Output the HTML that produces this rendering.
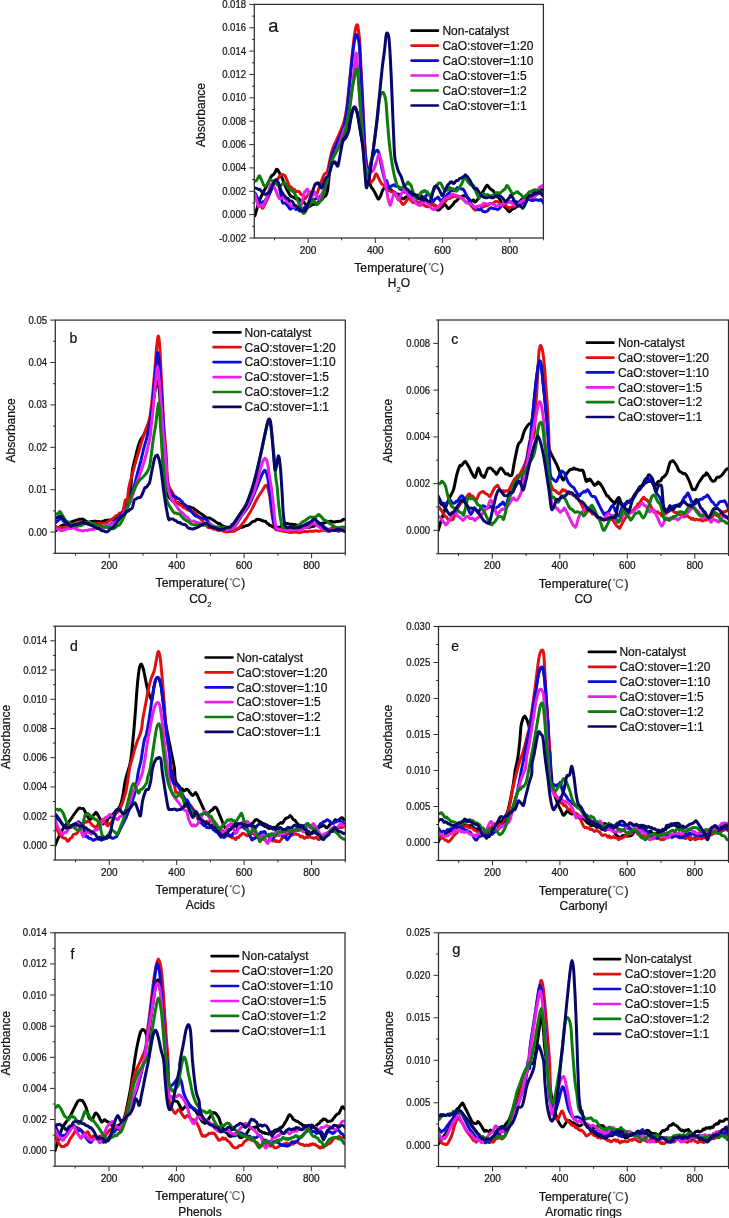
<!DOCTYPE html>
<html><head><meta charset="utf-8"><style>
html,body{margin:0;padding:0;background:#fff;}
body{width:729px;height:1218px;overflow:hidden;font-family:"Liberation Sans", sans-serif;}
svg{display:block;filter:blur(0.35px);}
text{stroke:#111;stroke-width:0.22px;}
</style></head><body>
<svg width="729" height="1218" viewBox="0 0 729 1218" font-family='"Liberation Sans", sans-serif' fill="#111">
<clipPath id="clipa"><rect x="254.3" y="4.4" width="289.09999999999997" height="233.6"/></clipPath>
<g clip-path="url(#clipa)" fill="none" stroke-width="3" stroke-linejoin="round" stroke-linecap="round">
<path d="M254.9,215.8C255.8,213.1 258.0,204.3 259.9,199.4C261.8,194.4 264.5,190.1 266.5,186.2C268.4,182.4 270.3,178.3 271.4,176.3C272.5,174.4 272.7,175.4 273.3,174.7C274.0,174.0 274.6,173.0 275.2,172.1C275.9,171.3 276.0,168.4 277.2,169.4C278.3,170.4 280.7,175.2 282.1,178.0C283.5,180.8 284.2,183.5 285.4,186.2C286.6,189.0 288.5,192.8 289.5,194.4C290.5,196.1 290.6,195.8 291.2,196.3C291.7,196.7 292.2,196.8 292.8,197.0C293.3,197.3 293.9,197.4 294.4,197.7C295.0,198.1 295.5,198.9 296.1,199.0C296.6,199.1 297.2,198.2 297.7,198.2C298.3,198.3 298.8,198.9 299.4,199.4C299.9,199.9 300.5,201.0 301.0,201.2C301.6,201.5 302.1,200.4 302.7,200.6C303.2,200.9 303.8,202.0 304.3,202.7C304.9,203.4 305.4,204.2 306.0,204.8C306.5,205.4 307.1,205.8 307.6,206.1C308.2,206.4 308.7,206.9 309.3,206.8C309.8,206.7 310.4,205.7 310.9,205.4C311.5,205.0 312.0,204.8 312.6,204.6C313.1,204.4 313.6,204.4 314.2,204.3C314.7,204.2 315.3,204.4 315.8,204.1C316.4,203.8 316.9,203.3 317.5,202.8C318.0,202.3 318.6,201.7 319.1,201.0C319.6,200.4 320.1,199.2 320.5,199.0C321.0,198.8 321.4,199.9 321.9,199.7C322.3,199.5 322.3,199.2 323.3,197.7C324.2,196.3 326.1,197.8 327.4,191.2C328.7,184.5 329.9,164.9 331.0,158.0C332.1,151.1 332.9,152.5 334.0,150.0C335.1,147.5 336.4,145.4 337.5,143.0C338.6,140.6 339.8,136.0 340.8,135.5C341.8,135.0 342.7,139.4 343.3,140.0C343.9,140.6 344.2,139.3 344.6,138.9C345.0,138.5 345.2,138.8 345.9,137.5C346.6,136.2 347.8,133.8 348.6,131.0C349.4,128.2 349.9,123.8 350.5,120.5C351.1,117.2 351.9,113.5 352.5,111.3C353.1,109.1 353.7,107.7 354.3,107.4C354.9,107.1 355.4,108.0 356.0,109.3C356.6,110.6 357.1,111.6 357.8,115.2C358.5,118.8 359.5,125.8 360.4,131.0C361.3,136.2 362.1,141.4 363.0,146.7C363.9,151.9 364.7,158.3 365.6,162.5C366.5,166.7 367.5,168.0 368.3,171.7C369.1,175.4 369.4,181.8 370.3,184.9C371.2,188.0 372.7,188.6 373.7,190.4C374.7,192.2 375.7,194.3 376.5,195.8C377.3,197.3 377.8,199.3 378.5,199.3C379.2,199.3 379.9,197.3 380.6,195.8C381.3,194.3 381.9,191.8 382.6,190.4C383.3,189.0 384.1,187.8 384.7,187.6C385.3,187.4 385.8,189.1 386.4,189.3C386.9,189.5 387.5,188.8 388.0,189.0C388.5,189.2 388.9,190.5 389.3,190.6C389.8,190.7 390.2,189.4 390.7,189.5C391.1,189.5 391.6,190.6 392.0,191.0C392.4,191.4 392.9,191.5 393.3,191.7C393.8,191.9 394.2,191.9 394.7,192.2C395.1,192.5 395.6,193.1 396.0,193.5C396.4,193.9 396.8,194.3 397.3,194.4C397.7,194.5 398.1,193.9 398.5,194.2C399.0,194.4 399.4,195.2 399.8,195.8C400.2,196.4 400.7,197.1 401.1,197.5C401.6,198.0 402.0,198.4 402.5,198.6C403.0,198.8 403.4,199.1 403.9,198.8C404.4,198.6 404.8,197.5 405.3,197.2C405.8,196.9 406.2,197.2 406.6,196.8C407.1,196.3 407.5,195.0 408.0,194.5C408.5,194.0 408.9,194.1 409.4,193.8C409.9,193.6 410.3,193.1 410.8,193.1C411.3,193.1 411.7,193.3 412.1,193.6C412.6,193.8 413.1,194.3 413.5,194.5C413.9,194.7 414.4,194.5 414.9,194.7C415.3,195.0 415.7,195.7 416.2,195.8C416.7,195.9 417.1,195.0 417.6,195.0C418.1,195.0 418.5,195.6 419.0,195.8C419.5,196.0 419.9,196.5 420.4,196.5C420.8,196.5 421.3,195.9 421.7,196.0C422.2,196.1 422.6,196.9 423.1,197.2C423.6,197.5 424.0,197.5 424.5,197.9C424.9,198.4 425.3,199.4 425.8,200.0C426.3,200.6 426.7,201.2 427.2,201.7C427.7,202.1 428.1,202.5 428.6,202.7C429.1,202.9 429.5,202.6 430.0,202.9C430.4,203.1 430.8,203.9 431.3,204.1C431.8,204.3 432.2,203.8 432.7,204.0C433.2,204.2 433.4,204.5 434.1,205.4C434.8,206.3 436.1,208.8 436.8,209.6C437.5,210.4 437.7,210.1 438.2,210.1C438.7,210.1 439.1,209.9 439.6,209.6C440.1,209.3 440.5,208.5 441.0,208.0C441.4,207.6 441.9,207.2 442.3,206.8C442.8,206.4 443.2,205.9 443.6,205.4C444.1,205.0 444.3,203.6 445.0,204.1C445.7,204.6 447.1,207.5 447.8,208.2C448.5,208.9 448.7,208.5 449.1,208.3C449.6,208.1 450.0,207.2 450.5,206.8C451.0,206.4 451.4,206.1 451.9,205.6C452.4,205.2 452.8,204.7 453.3,204.1C453.8,203.5 454.2,202.3 454.6,201.8C455.1,201.3 455.4,201.8 456.0,201.3C456.6,200.8 457.7,199.3 458.5,198.6C459.4,197.9 460.2,197.5 461.1,197.0C461.9,196.6 462.9,195.9 463.6,195.7C464.4,195.6 465.0,195.9 465.6,196.2C466.3,196.5 467.0,197.1 467.6,197.7C468.3,198.3 469.0,199.2 469.6,199.7C470.3,200.3 470.9,201.0 471.6,201.1C472.3,201.2 472.9,200.0 473.6,200.1C474.3,200.2 474.3,202.8 475.6,201.7C476.9,200.7 479.7,196.4 481.6,193.8C483.4,191.1 485.4,187.1 486.5,185.8C487.6,184.6 487.6,185.8 488.2,186.3C488.7,186.7 489.3,187.7 489.8,188.3C490.4,188.9 490.9,189.3 491.5,189.8C492.1,190.2 492.8,190.3 493.5,191.1C494.1,191.9 494.8,194.0 495.5,194.7C496.1,195.5 496.1,193.9 497.5,195.7C498.8,197.6 502.1,203.7 503.4,205.7C504.8,207.7 504.8,206.8 505.4,207.5C506.1,208.2 506.7,209.0 507.4,209.7C508.1,210.4 508.7,211.6 509.4,211.7C510.1,211.7 510.7,210.4 511.4,209.9C512.0,209.3 512.7,208.8 513.4,208.5C514.0,208.1 514.0,209.1 515.4,207.7C516.7,206.2 520.0,201.3 521.3,199.7C522.7,198.2 522.7,198.6 523.3,198.5C524.0,198.4 524.6,199.2 525.3,199.0C526.0,198.9 526.5,198.2 527.3,197.7C528.1,197.3 529.1,196.9 529.9,196.4C530.8,195.9 531.7,195.4 532.6,194.6C533.5,193.8 534.5,192.3 535.3,191.8C536.0,191.3 536.6,191.9 537.2,191.6C537.9,191.3 538.6,190.0 539.2,189.7C539.9,189.4 540.7,189.7 541.2,189.8C541.8,189.9 542.1,189.7 542.5,190.2C542.9,190.6 543.3,191.8 543.7,192.4C544.2,193.0 544.8,193.5 545.0,193.8" stroke="#000000"/>
<path d="M254.9,196.1C255.6,197.5 258.1,202.8 259.1,204.3C260.0,205.8 260.0,204.4 260.4,204.9C260.9,205.5 261.3,207.0 261.8,207.5C262.3,207.9 262.3,209.0 263.2,207.6C264.1,206.3 265.9,202.4 267.3,199.4C268.7,196.4 269.9,192.7 271.4,189.5C272.9,186.4 275.2,182.2 276.3,180.5C277.4,178.7 277.4,179.7 278.0,178.9C278.5,178.2 279.1,176.6 279.6,175.9C280.2,175.2 280.8,175.0 281.3,174.7C281.8,174.4 282.2,174.3 282.6,174.4C283.1,174.5 283.6,174.9 284.0,175.2C284.5,175.6 284.6,174.8 285.4,176.3C286.2,177.9 287.9,182.8 288.7,184.6C289.5,186.3 289.6,186.5 290.1,187.0C290.5,187.4 291.0,186.8 291.4,187.3C291.9,187.7 292.3,189.1 292.8,189.5C293.3,189.9 293.9,189.1 294.4,189.4C295.0,189.8 295.5,191.3 296.1,191.5C296.6,191.8 297.2,191.1 297.7,191.2C298.3,191.2 298.8,191.3 299.4,191.8C299.9,192.4 300.5,193.9 301.0,194.4C301.5,195.0 301.9,194.8 302.4,195.1C302.9,195.4 303.3,195.7 303.8,196.3C304.2,196.9 304.2,199.1 305.1,198.6C306.1,198.0 308.3,193.9 309.3,192.8C310.2,191.7 310.2,192.1 310.6,191.9C311.1,191.8 311.5,192.1 312.0,192.0C312.5,191.8 312.9,190.9 313.4,191.2C313.9,191.4 314.5,193.2 315.0,193.7C315.6,194.3 315.7,196.2 316.7,194.4C317.6,192.6 319.5,186.2 320.8,182.9C322.0,179.6 323.3,176.3 324.1,174.7C324.9,173.1 325.2,173.8 325.7,173.2C326.3,172.7 326.6,174.1 327.4,171.4C328.2,168.7 329.6,160.9 330.5,157.0C331.4,153.1 332.0,150.8 333.0,148.0C334.0,145.2 335.3,142.7 336.5,140.0C337.7,137.3 338.8,135.0 340.0,132.0C341.2,129.0 342.8,126.3 344.0,122.0C345.2,117.7 346.1,113.0 347.0,106.0C347.9,99.0 348.8,88.7 349.7,80.0C350.6,71.3 351.5,61.5 352.3,54.0C353.1,46.5 353.9,39.5 354.5,35.0C355.1,30.5 355.6,28.7 356.0,27.0C356.4,25.3 356.6,24.8 356.9,24.8C357.2,24.8 357.6,24.5 358.0,27.0C358.4,29.5 359.1,33.5 359.6,40.0C360.1,46.5 360.4,57.2 360.9,66.0C361.3,74.8 361.9,84.0 362.3,93.0C362.8,102.0 363.2,111.2 363.6,120.0C364.0,128.8 364.4,138.8 364.9,146.0C365.4,153.2 365.9,158.7 366.5,163.0C367.1,167.3 368.1,169.7 368.5,172.0C368.9,174.3 368.6,175.3 369.0,177.0C369.4,178.7 370.4,181.5 371.0,182.1C371.6,182.7 371.9,181.2 372.4,180.7C372.8,180.3 373.1,180.5 373.7,179.4C374.3,178.3 375.1,174.4 375.8,173.9C376.5,173.4 377.0,175.2 377.8,176.6C378.6,178.0 379.9,180.8 380.6,182.1C381.3,183.4 381.5,183.8 382.0,184.3C382.4,184.7 382.8,184.5 383.3,184.9C383.8,185.3 384.2,186.3 384.7,186.7C385.2,187.2 385.6,187.2 386.1,187.6C386.6,188.0 387.0,188.5 387.5,188.9C387.9,189.4 388.3,190.0 388.8,190.4C389.3,190.8 389.7,191.0 390.2,191.2C390.7,191.5 391.1,191.6 391.6,191.7C392.1,191.8 392.5,191.6 393.0,191.8C393.4,192.0 393.6,192.2 394.3,193.1C395.0,194.0 396.3,196.1 397.0,197.2C397.7,198.3 397.9,199.1 398.4,199.6C398.9,200.1 399.1,199.2 399.8,200.0C400.5,200.8 401.8,203.4 402.5,204.1C403.2,204.8 403.4,204.3 403.9,204.0C404.4,203.8 404.6,203.6 405.3,202.7C406.0,201.8 407.3,199.3 408.0,198.6C408.7,197.9 408.9,198.5 409.4,198.7C409.9,199.0 410.3,199.5 410.8,200.0C411.3,200.5 411.7,201.6 412.1,202.0C412.6,202.5 413.1,202.7 413.5,202.7C413.9,202.7 414.4,202.3 414.9,202.1C415.3,201.9 415.7,201.3 416.2,201.3C416.7,201.3 417.1,201.9 417.6,202.1C418.1,202.4 418.5,202.6 419.0,202.7C419.5,202.8 419.9,202.3 420.4,202.5C420.8,202.7 421.2,203.7 421.7,204.1C422.2,204.5 422.6,204.4 423.1,204.7C423.6,204.9 424.0,205.1 424.5,205.4C425.0,205.7 425.4,206.1 425.9,206.3C426.3,206.6 426.7,206.8 427.2,206.8C427.7,206.8 428.1,206.7 428.6,206.5C429.1,206.3 429.5,205.7 430.0,205.4C430.5,205.1 430.9,205.0 431.4,204.8C431.8,204.6 432.2,204.0 432.7,204.1C433.1,204.2 433.6,205.3 434.0,205.5C434.5,205.7 434.9,205.1 435.4,205.4C435.9,205.7 436.3,206.8 436.8,207.1C437.3,207.3 437.7,206.9 438.2,206.8C438.7,206.7 439.1,206.8 439.5,206.6C440.0,206.3 440.2,206.3 440.9,205.4C441.6,204.5 443.0,202.0 443.7,201.3C444.4,200.6 444.6,201.6 445.0,201.4C445.5,201.1 445.9,200.4 446.4,200.0C446.9,199.6 447.3,199.0 447.8,198.8C448.3,198.5 448.7,198.7 449.2,198.6C449.7,198.5 450.1,198.1 450.5,197.9C451.0,197.7 451.4,197.4 451.9,197.2C452.4,197.0 452.8,197.1 453.3,196.8C453.8,196.6 454.2,195.8 454.7,195.8C455.2,195.8 455.6,196.7 456.0,196.7C456.5,196.7 456.8,195.8 457.4,195.8C458.0,195.8 458.8,196.5 459.5,196.8C460.2,197.2 460.9,197.6 461.6,198.0C462.3,198.5 463.0,199.1 463.6,199.7C464.3,200.3 465.0,201.2 465.6,201.7C466.3,202.2 467.0,202.3 467.6,202.7C468.3,203.0 468.5,202.5 469.6,203.7C470.8,204.9 473.5,208.7 474.6,209.7C475.7,210.7 475.7,209.8 476.2,209.7C476.8,209.6 477.4,209.0 477.9,209.0C478.5,209.0 479.0,209.9 479.6,209.7C480.2,209.4 480.9,208.0 481.6,207.5C482.2,207.1 482.9,207.2 483.5,206.9C484.2,206.6 484.9,205.9 485.5,205.7C486.2,205.5 486.9,205.9 487.5,205.5C488.2,205.2 488.8,203.9 489.5,203.6C490.2,203.3 490.8,203.8 491.5,203.7C492.2,203.6 492.8,203.4 493.5,203.0C494.1,202.7 494.8,201.7 495.5,201.5C496.1,201.3 496.8,201.4 497.5,201.7C498.1,202.0 498.8,202.7 499.5,203.1C500.1,203.6 500.8,204.2 501.4,204.6C502.1,205.0 502.8,205.6 503.4,205.7C504.1,205.8 504.8,205.2 505.4,205.4C506.1,205.7 506.7,206.8 507.4,207.1C508.1,207.5 508.7,207.7 509.4,207.7C510.1,207.7 510.7,207.2 511.4,207.1C512.0,207.0 512.7,207.2 513.4,206.9C514.0,206.7 514.7,206.2 515.4,205.7C516.0,205.2 516.7,204.4 517.4,203.9C518.0,203.4 518.7,203.2 519.3,202.8C520.0,202.4 520.7,201.9 521.3,201.7C522.0,201.6 522.7,202.1 523.3,201.9C524.0,201.7 524.6,201.1 525.3,200.7C526.0,200.4 526.5,200.2 527.3,199.7C528.1,199.3 529.1,198.2 529.9,197.9C530.8,197.6 531.7,198.3 532.6,198.0C533.5,197.6 534.5,196.4 535.3,195.7C536.0,195.1 536.6,194.6 537.2,194.2C537.9,193.9 538.6,193.6 539.2,193.5C539.9,193.4 540.7,193.7 541.2,193.8C541.8,193.9 542.1,194.2 542.5,194.1C542.9,194.0 543.3,193.6 543.7,193.3C544.2,192.9 544.8,192.0 545.0,191.8" stroke="#e01010"/>
<path d="M254.9,192.8C255.8,194.4 258.8,201.0 259.9,202.7C261.0,204.3 261.0,202.7 261.5,202.6C262.1,202.4 262.6,201.9 263.2,201.7C263.7,201.4 263.7,202.5 264.8,201.0C265.9,199.6 268.1,196.1 269.8,192.8C271.4,189.5 273.6,183.1 274.7,181.3C275.7,179.4 275.6,181.3 276.1,181.8C276.5,182.3 277.0,183.7 277.4,184.1C277.9,184.6 278.0,181.8 278.8,184.6C279.6,187.4 281.3,198.0 282.1,201.0C282.9,204.1 283.0,202.7 283.5,203.0C283.9,203.3 284.4,202.5 284.8,202.8C285.3,203.0 285.8,203.9 286.2,204.3C286.7,204.8 287.1,204.9 287.6,205.5C288.0,206.0 288.5,207.1 289.0,207.7C289.4,208.4 289.9,209.2 290.3,209.3C290.8,209.3 291.2,208.3 291.7,207.9C292.2,207.6 292.6,207.4 293.1,207.4C293.5,207.3 293.9,207.2 294.4,207.6C294.9,208.0 295.5,209.4 296.1,209.6C296.6,209.8 297.2,208.6 297.7,208.8C298.3,209.1 298.8,210.8 299.4,210.9C299.9,211.0 300.5,209.9 301.0,209.6C301.6,209.3 302.1,209.5 302.7,209.1C303.2,208.8 303.8,208.0 304.3,207.6C304.9,207.2 305.4,207.2 306.0,206.8C306.5,206.4 307.1,205.8 307.6,205.1C308.2,204.5 308.7,203.4 309.3,202.7C309.8,202.0 310.4,201.5 310.9,201.0C311.5,200.5 312.0,199.9 312.6,199.7C313.1,199.4 313.6,199.5 314.2,199.4C314.7,199.2 315.3,198.9 315.8,198.8C316.4,198.6 316.9,198.6 317.5,198.4C318.0,198.3 318.0,199.0 319.1,197.7C320.2,196.5 322.7,193.9 324.1,191.2C325.4,188.4 326.2,186.6 327.4,181.3C328.5,175.9 329.9,164.2 331.0,159.0C332.1,153.8 333.0,152.7 334.0,150.0C335.0,147.3 335.9,145.4 337.0,143.0C338.1,140.6 339.3,138.6 340.5,135.5C341.7,132.4 343.3,129.2 344.4,124.5C345.5,119.8 346.4,114.2 347.3,107.0C348.2,99.8 349.0,89.7 349.9,81.0C350.8,72.3 351.7,61.8 352.5,55.0C353.3,48.2 354.0,43.4 354.6,40.0C355.2,36.6 355.7,35.2 356.2,34.7C356.7,34.2 357.1,35.3 357.6,37.0C358.1,38.7 358.8,39.8 359.3,45.0C359.8,50.2 360.2,59.8 360.6,68.0C361.1,76.2 361.6,85.3 362.0,94.0C362.4,102.7 362.9,111.3 363.3,120.0C363.7,128.7 364.1,138.5 364.6,146.0C365.1,153.5 365.8,160.5 366.4,165.0C367.0,169.5 368.1,171.8 368.5,173.0C368.9,174.2 368.6,173.9 369.0,172.0C369.4,170.1 370.2,164.5 371.0,161.6C371.8,158.7 372.8,156.5 373.7,154.7C374.6,152.9 375.7,151.1 376.5,150.6C377.3,150.1 377.8,150.1 378.5,151.9C379.2,153.7 379.9,158.4 380.6,161.6C381.3,164.8 381.9,168.2 382.6,171.2C383.3,174.2 384.0,177.8 384.7,179.4C385.4,181.0 386.0,179.4 386.7,180.8C387.4,182.2 388.2,186.7 388.8,187.6C389.4,188.5 389.7,186.6 390.2,186.3C390.7,186.1 391.1,186.4 391.6,186.2C392.1,186.0 392.5,185.3 393.0,185.1C393.4,184.9 393.9,184.7 394.3,184.9C394.8,185.1 395.2,186.0 395.6,186.2C396.1,186.4 396.5,186.1 397.0,186.2C397.5,186.3 397.9,186.4 398.4,186.8C398.9,187.3 399.3,188.6 399.8,189.0C400.3,189.4 400.7,188.8 401.1,189.0C401.6,189.2 402.0,189.9 402.5,190.4C403.0,190.9 403.4,191.8 403.9,192.0C404.4,192.2 404.8,191.5 405.3,191.7C405.8,191.9 406.2,192.7 406.6,192.9C407.1,193.2 407.5,193.0 408.0,193.1C408.5,193.2 408.9,193.0 409.4,193.3C409.9,193.5 410.3,194.0 410.8,194.5C411.3,195.0 411.7,195.8 412.1,196.1C412.6,196.3 413.1,195.7 413.5,195.8C413.9,195.9 414.4,196.1 414.9,196.4C415.3,196.6 415.7,197.0 416.2,197.2C416.7,197.4 417.1,197.6 417.6,197.8C418.1,198.0 418.5,198.4 419.0,198.6C419.5,198.8 419.9,198.9 420.4,199.1C420.8,199.4 421.2,200.0 421.7,200.0C422.2,200.0 422.6,199.6 423.1,199.1C423.6,198.7 424.0,197.7 424.5,197.2C425.0,196.7 425.4,196.3 425.9,195.9C426.3,195.4 426.7,194.7 427.2,194.5C427.7,194.3 428.1,194.7 428.6,194.9C429.1,195.1 429.3,194.7 430.0,195.8C430.7,196.9 432.0,200.5 432.7,201.3C433.4,202.1 433.6,200.9 434.0,200.4C434.5,200.0 434.9,199.0 435.4,198.6C435.9,198.2 436.3,198.6 436.8,198.3C437.3,198.1 437.5,196.7 438.2,197.2C438.9,197.7 440.2,200.9 440.9,201.3C441.6,201.7 441.8,200.3 442.3,199.8C442.8,199.4 443.2,199.0 443.7,198.6C444.2,198.2 444.6,197.6 445.0,197.2C445.5,196.7 445.9,196.4 446.4,195.8C446.9,195.2 447.3,194.3 447.8,193.9C448.3,193.4 448.7,193.6 449.2,193.1C449.7,192.6 450.1,191.4 450.5,190.9C451.0,190.5 451.4,190.4 451.9,190.4C452.4,190.4 452.8,190.7 453.3,190.7C453.8,190.7 454.2,190.7 454.7,190.4C455.2,190.1 455.6,189.4 456.0,188.9C456.5,188.5 456.8,187.8 457.4,187.6C458.0,187.4 458.8,187.5 459.5,187.8C460.2,188.1 460.9,188.8 461.6,189.2C462.3,189.5 462.6,188.4 463.6,189.8C464.7,191.2 466.1,195.1 467.6,197.7C469.1,200.4 471.4,204.0 472.6,205.7C473.8,207.4 473.9,207.5 474.6,207.9C475.3,208.2 475.9,207.3 476.6,207.6C477.2,207.9 477.8,209.4 478.6,209.7C479.3,210.0 480.1,209.1 480.9,209.4C481.7,209.7 482.4,211.1 483.2,211.5C484.0,211.9 484.8,211.8 485.5,211.7C486.2,211.6 486.9,211.3 487.5,210.8C488.2,210.3 488.8,209.2 489.5,208.7C490.2,208.2 490.8,207.7 491.5,207.7C492.2,207.7 492.8,208.5 493.5,208.6C494.1,208.8 494.8,208.5 495.5,208.7C496.1,208.9 496.8,209.7 497.5,209.7C498.1,209.6 498.8,209.0 499.5,208.3C500.1,207.7 500.8,206.7 501.4,205.9C502.1,205.1 502.8,204.1 503.4,203.7C504.1,203.4 504.8,204.1 505.4,203.8C506.1,203.5 506.7,202.1 507.4,201.8C508.1,201.5 508.7,201.7 509.4,201.7C510.1,201.8 510.7,202.3 511.4,202.2C512.0,202.0 512.7,201.2 513.4,201.1C514.0,201.0 514.7,201.6 515.4,201.7C516.0,201.9 516.7,201.7 517.4,201.9C518.0,202.1 518.7,202.7 519.3,203.0C520.0,203.3 520.7,203.8 521.3,203.7C522.0,203.6 522.7,203.2 523.3,202.7C524.0,202.1 524.6,201.1 525.3,200.6C526.0,200.1 526.5,199.9 527.3,199.7C528.1,199.6 529.1,199.5 529.9,199.6C530.8,199.8 531.7,200.6 532.6,200.6C533.5,200.7 534.5,199.8 535.3,199.7C536.0,199.6 536.6,199.8 537.2,199.9C537.9,200.1 538.6,200.6 539.2,200.6C539.9,200.5 540.3,198.9 541.2,199.7C542.2,200.6 544.4,204.7 545.0,205.7" stroke="#0c0cd8"/>
<path d="M254.9,194.4C255.5,196.4 257.4,204.2 258.2,206.0C259.1,207.8 259.3,205.4 259.9,205.3C260.4,205.1 261.0,204.9 261.5,205.1C262.1,205.2 262.2,207.5 263.2,206.0C264.1,204.5 266.0,199.7 267.3,196.1C268.5,192.5 269.8,186.3 270.6,184.6C271.4,182.8 271.5,185.2 271.9,185.5C272.4,185.8 272.9,185.9 273.3,186.3C273.8,186.7 273.8,186.0 274.7,187.9C275.6,189.8 277.9,196.0 278.8,197.7C279.7,199.5 279.7,198.2 280.2,198.3C280.6,198.4 281.1,198.5 281.6,198.4C282.0,198.3 282.5,197.7 282.9,197.7C283.4,197.7 283.8,198.2 284.3,198.4C284.8,198.6 285.2,198.7 285.7,199.1C286.1,199.6 286.1,199.9 287.0,201.0C288.0,202.2 290.2,205.1 291.2,206.0C292.1,206.9 292.2,206.4 292.8,206.4C293.3,206.5 293.9,206.0 294.4,206.2C295.0,206.4 295.5,207.6 296.1,207.6C296.6,207.6 297.2,206.2 297.7,206.1C298.3,206.1 298.8,207.1 299.4,207.1C299.9,207.0 300.2,208.3 301.0,206.0C301.9,203.6 303.5,195.2 304.3,192.8C305.1,190.3 305.4,191.8 306.0,191.3C306.5,190.7 306.8,188.4 307.6,189.5C308.4,190.6 309.7,197.2 310.9,197.7C312.1,198.3 313.6,192.5 315.0,192.8C316.4,193.1 317.8,199.7 319.1,199.4C320.5,199.1 322.0,194.2 323.3,191.2C324.5,188.1 325.1,186.3 326.5,181.3C328.0,176.3 330.6,165.5 332.0,161.0C333.4,156.5 334.0,156.3 335.0,154.0C336.0,151.7 337.0,149.5 338.0,147.0C339.0,144.5 340.0,141.8 341.0,139.0C342.0,136.2 343.1,132.5 344.0,130.0C344.9,127.5 345.7,127.4 346.6,124.0C347.5,120.6 348.6,115.4 349.5,109.5C350.4,103.6 351.3,95.5 352.1,88.5C352.9,81.5 353.8,72.9 354.3,67.5C354.9,62.1 355.1,58.4 355.4,56.0C355.7,53.6 355.7,53.3 355.9,53.1C356.1,52.9 356.4,52.6 356.7,55.0C357.0,57.4 357.2,61.0 357.6,67.5C358.1,74.0 358.8,85.0 359.4,93.7C360.0,102.5 360.7,111.2 361.4,120.0C362.1,128.8 362.7,138.7 363.4,146.2C364.1,153.7 364.7,160.5 365.4,165.0C366.1,169.5 367.0,171.5 367.5,173.0C368.0,174.5 368.1,174.1 368.5,174.0C368.9,173.9 369.3,172.6 369.8,172.3C370.2,172.0 370.6,172.2 371.0,172.0C371.4,171.8 371.9,171.5 372.4,171.2C372.8,170.8 373.0,171.4 373.7,169.8C374.4,168.2 375.6,164.1 376.5,161.6C377.4,159.1 378.3,154.2 379.2,154.7C380.1,155.1 381.2,160.9 382.0,164.3C382.8,167.7 383.3,171.4 384.0,175.3C384.7,179.2 385.4,183.7 386.1,187.6C386.8,191.5 387.4,195.6 388.1,198.6C388.8,201.6 389.5,205.4 390.2,205.4C390.9,205.4 391.5,200.7 392.2,198.6C392.9,196.5 393.6,193.8 394.3,193.1C395.0,192.4 395.7,193.3 396.4,194.5C397.1,195.7 397.7,199.8 398.4,200.0C399.1,200.2 399.8,197.2 400.5,195.8C401.2,194.4 401.8,192.6 402.5,191.7C403.2,190.8 403.9,190.2 404.6,190.4C405.3,190.6 406.0,192.3 406.6,193.1C407.2,193.9 407.5,194.8 408.0,195.3C408.5,195.7 408.9,195.5 409.4,195.8C409.9,196.1 410.3,196.8 410.8,197.3C411.2,197.8 411.6,198.0 412.1,198.6C412.6,199.2 413.0,200.2 413.5,200.7C414.0,201.1 414.4,200.8 414.9,201.3C415.4,201.8 415.8,203.1 416.2,203.6C416.7,204.0 417.1,203.8 417.6,204.1C418.1,204.4 418.5,205.1 419.0,205.3C419.5,205.5 419.9,205.8 420.4,205.4C420.9,205.0 421.3,203.7 421.8,203.2C422.2,202.8 422.7,202.9 423.1,202.7C423.6,202.5 424.0,202.1 424.5,201.8C424.9,201.6 425.3,201.1 425.8,201.3C426.3,201.5 426.7,202.6 427.2,203.1C427.7,203.5 427.9,203.2 428.6,204.1C429.3,205.0 430.6,207.4 431.3,208.2C432.0,209.0 432.2,208.6 432.7,208.9C433.2,209.1 433.6,209.7 434.1,209.6C434.6,209.5 435.0,208.3 435.5,208.1C435.9,207.8 436.3,208.3 436.8,208.2C437.3,208.1 437.7,208.0 438.2,207.6C438.7,207.1 438.9,206.4 439.6,205.4C440.3,204.4 441.6,202.2 442.3,201.3C443.0,200.4 443.2,200.7 443.6,200.2C444.1,199.8 444.5,199.0 445.0,198.6C445.5,198.2 445.9,198.0 446.4,197.7C446.9,197.5 447.3,197.4 447.8,197.2C448.3,197.0 448.7,197.0 449.1,196.8C449.6,196.5 450.0,196.2 450.5,195.8C451.0,195.4 451.4,194.5 451.9,194.3C452.4,194.1 452.8,194.4 453.3,194.5C453.8,194.6 454.2,194.6 454.6,194.8C455.1,195.1 455.4,195.4 456.0,195.8C456.6,196.2 457.7,196.8 458.5,197.1C459.4,197.4 460.2,197.2 461.1,197.7C461.9,198.1 462.9,199.0 463.6,199.7C464.4,200.5 465.0,201.4 465.6,202.0C466.3,202.6 467.0,202.9 467.6,203.2C468.3,203.5 469.0,203.5 469.6,203.7C470.3,203.9 470.9,204.0 471.6,204.5C472.3,204.9 472.9,206.0 473.6,206.5C474.3,207.0 475.0,207.7 475.6,207.7C476.1,207.7 476.5,206.7 476.9,206.4C477.4,206.2 477.8,206.4 478.2,206.3C478.7,206.1 479.0,205.8 479.6,205.7C480.1,205.6 480.9,205.9 481.6,205.5C482.2,205.2 482.9,203.7 483.5,203.4C484.2,203.1 484.9,203.6 485.5,203.7C486.2,203.8 486.9,204.0 487.5,204.1C488.2,204.2 488.8,204.3 489.5,204.2C490.2,204.2 490.8,203.7 491.5,203.7C492.2,203.7 492.8,203.8 493.5,204.2C494.1,204.6 494.8,205.8 495.5,206.0C496.1,206.3 496.8,205.9 497.5,205.7C498.1,205.5 498.8,204.9 499.5,204.8C500.1,204.8 500.8,205.4 501.4,205.2C502.1,205.0 502.8,204.0 503.4,203.7C504.1,203.4 504.8,203.6 505.4,203.4C506.1,203.2 506.7,202.7 507.4,202.4C508.1,202.2 508.7,201.7 509.4,201.7C510.1,201.8 510.7,202.4 511.4,202.8C512.0,203.2 512.7,203.8 513.4,204.3C514.0,204.8 514.7,205.6 515.4,205.7C516.0,205.8 516.7,205.2 517.4,204.8C518.0,204.5 518.7,204.2 519.3,203.6C520.0,203.1 520.7,202.3 521.3,201.7C522.0,201.1 522.7,200.3 523.3,200.1C524.0,199.9 524.6,200.3 525.3,200.3C526.0,200.2 526.5,200.2 527.3,199.7C528.1,199.3 529.1,198.0 529.9,197.5C530.8,197.0 531.7,197.1 532.6,196.8C533.5,196.5 534.1,197.2 535.3,195.7C536.4,194.3 538.3,189.2 539.2,187.8C540.1,186.4 540.2,187.6 540.7,187.2C541.2,186.9 541.5,185.4 542.2,185.8C542.9,186.2 544.5,189.1 545.0,189.8" stroke="#e820e8"/>
<path d="M254.9,181.3C255.2,181.1 256.0,181.0 256.6,180.4C257.1,179.8 257.7,178.3 258.2,177.6C258.8,177.0 258.8,174.9 259.9,176.3C261.0,177.8 263.2,185.7 264.8,186.2C266.5,186.8 268.7,180.6 269.8,179.6C270.9,178.7 270.9,180.2 271.4,180.4C271.9,180.6 272.5,180.8 273.0,181.0C273.6,181.1 274.1,180.9 274.7,181.3C275.2,181.7 275.8,182.6 276.3,183.3C276.9,184.0 277.4,184.9 278.0,185.4C278.5,185.9 279.1,186.3 279.6,186.2C280.2,186.1 280.7,185.3 281.3,184.9C281.8,184.5 282.4,184.1 282.9,183.8C283.5,183.5 283.5,182.0 284.6,182.9C285.7,183.9 288.4,188.3 289.5,189.5C290.6,190.7 290.6,189.9 291.2,190.2C291.7,190.5 292.2,191.0 292.8,191.4C293.3,191.9 293.3,190.6 294.4,192.8C295.5,194.9 297.9,200.9 299.4,204.3C300.9,207.8 302.1,212.8 303.5,213.4C304.9,213.9 306.1,209.7 307.6,207.6C309.1,205.6 311.5,202.1 312.6,201.0C313.6,200.0 313.6,200.8 314.2,201.3C314.7,201.7 315.3,203.1 315.8,203.6C316.4,204.1 316.4,205.3 317.5,204.3C318.6,203.3 321.1,201.3 322.4,197.7C323.8,194.2 324.6,186.8 325.7,182.9C326.8,179.1 328.0,178.5 329.0,174.7C330.1,170.9 330.7,163.9 332.0,160.0C333.3,156.1 335.0,154.7 336.6,151.5C338.2,148.3 340.3,144.7 341.8,141.0C343.3,137.3 344.4,134.9 345.7,129.2C347.0,123.5 348.6,113.7 349.7,106.9C350.8,100.1 351.5,93.3 352.3,88.5C353.1,83.7 353.7,81.0 354.3,78.0C354.9,75.0 355.4,72.0 355.8,70.5C356.2,69.0 356.6,68.7 356.9,68.8C357.2,68.9 357.6,69.5 357.8,71.0C358.0,72.5 358.0,73.1 358.3,78.0C358.6,82.9 359.4,92.2 359.9,100.3C360.4,108.4 360.9,117.8 361.5,126.5C362.1,135.2 362.9,145.6 363.5,152.8C364.1,160.0 364.5,165.9 365.4,169.9C366.3,173.9 368.3,177.1 369.1,176.8C370.0,176.5 369.7,171.8 370.3,168.0C370.9,164.2 371.8,159.4 372.6,154.0C373.4,148.6 374.3,141.9 375.1,135.8C375.9,129.7 376.8,123.4 377.5,117.4C378.2,111.4 378.8,103.7 379.3,100.0C379.8,96.3 380.1,96.2 380.6,95.0C381.1,93.8 381.7,93.0 382.2,92.6C382.7,92.2 383.0,92.2 383.4,92.7C383.8,93.2 384.2,94.0 384.6,95.5C385.0,97.0 385.5,97.8 385.9,101.4C386.3,105.1 386.7,111.7 387.1,117.4C387.6,123.1 388.1,130.3 388.6,135.8C389.1,141.3 389.6,145.8 390.2,150.6C390.8,155.3 391.5,160.2 392.2,164.3C392.9,168.4 393.5,171.9 394.3,175.3C395.1,178.7 396.3,183.0 397.0,184.9C397.7,186.8 397.9,186.1 398.4,186.6C398.9,187.0 399.3,187.4 399.8,187.6C400.3,187.8 400.7,187.8 401.1,187.8C401.6,187.8 402.0,187.8 402.5,187.6C403.0,187.4 403.4,187.0 403.9,186.5C404.4,186.1 404.8,185.3 405.3,184.9C405.8,184.5 406.2,184.6 406.6,184.1C407.1,183.7 407.5,182.1 408.0,182.1C408.5,182.1 408.9,183.7 409.4,184.1C409.9,184.6 410.1,183.4 410.8,184.9C411.5,186.4 412.6,190.8 413.5,193.1C414.4,195.4 415.5,198.1 416.2,198.6C416.9,199.1 417.1,196.8 417.6,196.3C418.1,195.9 418.3,196.6 419.0,195.8C419.7,195.0 421.0,192.4 421.7,191.7C422.4,191.0 422.6,192.1 423.1,191.9C423.6,191.7 424.0,190.4 424.5,190.4C425.0,190.4 425.4,191.7 425.9,191.9C426.3,192.1 426.5,191.1 427.2,191.7C427.9,192.3 429.1,195.8 430.0,195.8C430.9,195.8 431.8,193.1 432.7,191.7C433.6,190.3 434.5,189.0 435.4,187.6C436.3,186.2 437.5,184.2 438.2,183.5C438.9,182.8 439.1,183.2 439.5,183.2C440.0,183.2 440.2,182.5 440.9,183.5C441.6,184.5 443.0,188.0 443.7,189.0C444.4,190.0 444.6,189.3 445.0,189.5C445.5,189.7 445.9,190.3 446.4,190.4C446.9,190.5 447.3,190.3 447.8,189.8C448.3,189.4 448.7,187.9 449.2,187.6C449.7,187.3 450.1,187.8 450.5,188.0C451.0,188.3 451.4,188.9 451.9,189.0C452.4,189.1 452.8,188.6 453.3,188.8C453.8,189.1 454.2,190.0 454.7,190.4C455.2,190.8 455.6,191.0 456.0,191.0C456.5,191.0 456.5,191.6 457.4,190.4C458.3,189.2 460.5,185.9 461.7,183.8C462.9,181.7 463.5,178.0 464.6,177.8C465.8,177.7 467.7,181.7 468.6,182.8C469.6,183.9 469.7,183.9 470.3,184.4C470.8,184.8 471.4,185.2 471.9,185.5C472.5,185.7 472.5,183.8 473.6,185.8C474.7,187.8 477.5,196.1 478.6,197.7C479.7,199.4 479.7,196.2 480.2,195.6C480.8,195.0 481.3,194.4 481.9,194.1C482.4,193.8 482.9,193.6 483.5,193.8C484.1,193.9 484.9,195.0 485.5,195.1C486.2,195.3 486.9,194.5 487.5,194.6C488.2,194.7 488.8,195.5 489.5,195.7C490.2,196.0 490.8,196.1 491.5,195.9C492.2,195.7 492.8,195.1 493.5,194.7C494.1,194.3 494.8,194.1 495.5,193.8C496.1,193.4 496.8,192.6 497.5,192.5C498.1,192.4 498.8,193.4 499.5,193.3C500.1,193.2 500.8,192.3 501.4,191.8C502.1,191.2 502.8,190.8 503.4,190.2C504.1,189.6 504.8,189.1 505.4,188.4C506.1,187.6 506.2,184.9 507.4,185.8C508.6,186.7 511.3,192.5 512.4,193.8C513.5,195.0 513.5,193.7 514.0,193.5C514.6,193.3 515.1,192.9 515.7,192.6C516.2,192.3 516.7,191.6 517.4,191.8C518.0,191.9 518.7,193.0 519.3,193.6C520.0,194.1 520.7,194.3 521.3,195.0C522.0,195.7 522.7,197.6 523.3,197.7C524.0,197.9 524.6,196.5 525.3,195.9C526.0,195.3 526.6,195.1 527.3,194.4C528.0,193.7 528.6,192.2 529.3,191.8C529.9,191.3 530.6,191.8 531.3,191.5C531.9,191.2 532.6,190.5 533.3,190.2C533.9,189.9 534.6,189.8 535.3,189.8C535.9,189.8 536.6,190.2 537.2,190.3C537.9,190.5 538.6,190.4 539.2,190.6C539.9,190.9 540.7,191.3 541.2,191.8C541.8,192.2 542.1,193.1 542.5,193.4C542.9,193.7 543.3,193.2 543.7,193.6C544.2,194.0 544.8,195.4 545.0,195.7" stroke="#0c7c0c"/>
<path d="M254.9,187.9C255.2,187.9 256.0,188.1 256.6,188.4C257.1,188.6 257.7,189.2 258.2,189.4C258.8,189.5 259.3,189.2 259.9,189.5C260.4,189.9 261.0,190.9 261.5,191.4C262.1,192.0 262.6,192.4 263.2,192.9C263.7,193.4 264.3,194.3 264.8,194.4C265.4,194.6 265.9,194.2 266.5,194.0C267.0,193.7 267.6,193.4 268.1,192.9C268.7,192.5 268.4,193.4 269.8,191.2C271.1,188.9 274.4,179.6 276.3,179.6C278.3,179.6 279.6,188.1 281.3,191.2C282.9,194.2 285.1,196.5 286.2,197.7C287.3,198.9 287.3,197.9 287.9,198.4C288.4,198.9 289.0,200.3 289.5,200.7C290.1,201.1 290.6,200.8 291.2,201.0C291.7,201.3 292.2,201.5 292.8,202.2C293.3,202.9 293.9,204.5 294.4,205.1C295.0,205.7 295.5,205.4 296.1,206.0C296.6,206.5 297.2,208.1 297.7,208.5C298.3,208.9 298.8,208.0 299.4,208.4C299.9,208.8 300.5,210.5 301.0,210.9C301.6,211.3 302.1,211.0 302.7,210.9C303.2,210.9 303.8,210.9 304.3,210.6C304.9,210.4 304.9,211.7 306.0,209.3C307.1,206.8 309.4,200.2 310.9,196.1C312.4,192.0 314.1,186.6 315.0,184.6C316.0,182.6 316.1,184.3 316.7,184.0C317.2,183.7 317.5,182.3 318.3,182.9C319.1,183.6 320.5,188.4 321.6,187.9C322.7,187.3 324.1,181.3 324.9,179.6C325.7,177.9 325.8,178.1 326.3,177.6C326.7,177.1 327.2,177.0 327.6,176.5C328.1,176.0 328.2,176.9 329.0,174.7C329.8,172.4 331.7,164.9 332.5,163.0C333.3,161.1 333.4,163.2 333.9,163.1C334.3,162.9 334.5,161.5 335.2,162.0C335.9,162.5 337.0,167.4 337.9,165.9C338.8,164.4 339.6,157.2 340.5,152.8C341.4,148.4 342.5,142.0 343.1,139.7C343.8,137.4 344.0,139.4 344.4,139.0C344.8,138.5 345.0,138.4 345.7,137.0C346.4,135.6 347.6,133.3 348.4,130.5C349.2,127.7 349.6,123.3 350.3,120.0C351.0,116.7 351.6,113.0 352.3,110.8C353.0,108.6 353.7,107.2 354.3,106.9C354.9,106.6 355.4,107.5 356.0,108.8C356.6,110.1 356.9,111.1 357.6,114.7C358.3,118.3 359.3,125.2 360.2,130.5C361.1,135.8 362.0,139.4 362.8,146.2C363.6,153.0 364.2,164.4 364.8,171.2C365.4,178.0 365.8,184.5 366.2,186.9C366.6,189.3 367.0,186.5 367.4,185.5C367.8,184.5 368.0,183.4 368.5,181.0C369.0,178.6 369.7,175.1 370.3,171.2C370.9,167.3 371.6,162.4 372.3,157.4C373.0,152.4 373.8,145.6 374.4,141.0C375.0,136.4 375.3,133.9 375.8,130.0C376.3,126.1 376.6,123.6 377.2,117.4C377.8,111.2 378.9,100.9 379.7,92.7C380.5,84.5 381.4,75.3 382.2,68.1C383.0,60.9 384.0,55.0 384.6,49.6C385.2,44.2 385.6,38.8 386.0,36.0C386.4,33.2 386.6,33.3 386.9,33.0C387.2,32.7 387.7,33.5 388.0,34.2C388.3,34.9 388.5,33.7 388.9,37.3C389.3,40.9 389.8,48.6 390.2,55.8C390.6,63.0 390.7,64.6 391.4,80.4C392.1,96.2 393.5,136.6 394.3,150.6C395.1,164.6 395.7,160.9 396.4,164.3C397.1,167.7 397.6,169.1 398.4,171.2C399.2,173.2 400.3,174.3 401.2,176.6C402.1,178.9 403.0,182.8 403.9,184.9C404.8,187.0 405.9,188.2 406.6,189.0C407.3,189.8 407.5,189.2 408.0,189.6C408.5,190.1 408.9,191.3 409.4,191.7C409.9,192.1 410.3,191.7 410.8,191.9C411.2,192.2 411.6,192.7 412.1,193.1C412.6,193.5 413.0,194.3 413.5,194.5C414.0,194.7 414.4,194.3 414.9,194.5C415.4,194.7 415.8,195.5 416.2,196.0C416.7,196.4 417.1,196.7 417.6,197.2C418.1,197.7 418.5,198.5 419.0,198.7C419.5,199.0 419.9,198.6 420.4,198.6C420.9,198.6 421.3,198.5 421.8,198.7C422.2,198.9 422.7,199.8 423.1,200.0C423.6,200.2 424.0,200.1 424.5,199.9C424.9,199.7 425.3,198.5 425.8,198.6C426.3,198.7 426.7,200.1 427.2,200.6C427.7,201.0 428.1,201.3 428.6,201.3C429.1,201.3 429.5,201.3 430.0,200.8C430.4,200.4 430.6,200.8 431.3,198.6C432.0,196.4 433.4,189.7 434.1,187.6C434.8,185.5 435.0,186.5 435.5,186.2C435.9,186.0 436.1,185.5 436.8,186.2C437.5,186.9 438.7,188.8 439.6,190.4C440.5,192.0 441.4,195.8 442.3,195.8C443.2,195.8 444.1,192.2 445.0,190.4C445.9,188.6 447.1,186.0 447.8,184.9C448.5,183.8 448.7,184.3 449.1,183.9C449.6,183.4 450.0,182.4 450.5,182.1C451.0,181.8 451.4,181.6 451.9,181.8C452.4,182.1 452.8,183.3 453.3,183.5C453.8,183.7 454.2,183.3 454.6,182.9C455.1,182.4 455.5,181.2 456.0,180.8C456.5,180.4 457.3,180.8 457.9,180.5C458.5,180.1 459.1,178.9 459.8,178.5C460.4,178.1 461.1,178.1 461.7,177.8C462.2,177.6 462.5,177.1 463.0,176.8C463.4,176.6 463.9,176.6 464.3,176.3C464.8,176.0 464.8,174.3 465.6,174.9C466.5,175.5 468.3,177.7 469.6,179.8C470.9,182.0 472.7,186.3 473.6,187.8C474.5,189.3 474.5,188.9 474.9,188.9C475.4,189.0 475.8,188.1 476.2,188.3C476.7,188.4 476.7,188.5 477.6,189.8C478.5,191.0 480.6,194.5 481.6,195.7C482.5,197.0 482.9,196.8 483.5,197.1C484.2,197.4 484.9,197.6 485.5,197.7C486.2,197.8 486.9,197.9 487.5,197.7C488.2,197.6 488.8,197.0 489.5,196.9C490.2,196.9 490.8,197.5 491.5,197.7C492.2,197.8 492.8,198.0 493.5,197.7C494.1,197.5 494.8,196.3 495.5,196.2C496.1,196.0 496.8,197.2 497.5,197.1C498.1,197.0 498.8,195.8 499.5,195.7C500.1,195.7 500.8,196.3 501.4,196.9C502.1,197.4 502.8,198.2 503.4,199.0C504.1,199.8 504.8,201.6 505.4,201.7C506.1,201.8 506.7,200.5 507.4,199.8C508.1,199.1 508.7,198.2 509.4,197.5C510.1,196.9 510.1,194.4 511.4,195.7C512.7,197.1 516.0,204.1 517.4,205.7C518.7,207.3 518.7,205.4 519.3,205.6C520.0,205.7 520.7,206.3 521.3,206.7C522.0,207.0 522.0,209.5 523.3,207.7C524.6,205.9 528.0,197.7 529.3,195.7C530.6,193.8 530.6,196.2 531.3,195.9C531.9,195.7 532.6,194.7 533.3,194.4C533.9,194.0 534.7,194.0 535.3,193.8C535.8,193.6 536.1,193.3 536.6,193.2C537.0,193.0 537.5,193.1 537.9,192.9C538.3,192.6 538.7,191.7 539.2,191.8C539.8,191.9 540.5,192.8 541.2,193.6C541.8,194.3 542.4,195.6 543.1,196.3C543.7,197.0 544.7,197.5 545.0,197.7" stroke="#07076a"/>
</g>
<rect x="254.3" y="4.4" width="289.09999999999997" height="233.6" fill="none" stroke="#2e2e2e" stroke-width="1.25"/>
<text transform="translate(246.0,241.5) scale(0.9,1)" text-anchor="end" font-size="10.6">-0.002</text>
<text transform="translate(246.0,218.1) scale(0.9,1)" text-anchor="end" font-size="10.6">0.000</text>
<text transform="translate(246.0,194.8) scale(0.9,1)" text-anchor="end" font-size="10.6">0.002</text>
<text transform="translate(246.0,171.4) scale(0.9,1)" text-anchor="end" font-size="10.6">0.004</text>
<text transform="translate(246.0,148.1) scale(0.9,1)" text-anchor="end" font-size="10.6">0.006</text>
<text transform="translate(246.0,124.7) scale(0.9,1)" text-anchor="end" font-size="10.6">0.008</text>
<text transform="translate(246.0,101.3) scale(0.9,1)" text-anchor="end" font-size="10.6">0.010</text>
<text transform="translate(246.0,78.0) scale(0.9,1)" text-anchor="end" font-size="10.6">0.012</text>
<text transform="translate(246.0,54.6) scale(0.9,1)" text-anchor="end" font-size="10.6">0.014</text>
<text transform="translate(246.0,31.3) scale(0.9,1)" text-anchor="end" font-size="10.6">0.016</text>
<text transform="translate(246.0,7.9) scale(0.9,1)" text-anchor="end" font-size="10.6">0.018</text>
<text x="308.1" y="253.7" text-anchor="middle" font-size="10">200</text>
<text x="375.3" y="253.7" text-anchor="middle" font-size="10">400</text>
<text x="442.6" y="253.7" text-anchor="middle" font-size="10">600</text>
<text x="509.8" y="253.7" text-anchor="middle" font-size="10">800</text>
<path d="M249.3,238.0H254.3 M252.0,226.3H254.3 M249.3,214.6H254.3 M252.0,203.0H254.3 M249.3,191.3H254.3 M252.0,179.6H254.3 M249.3,167.9H254.3 M252.0,156.2H254.3 M249.3,144.6H254.3 M252.0,132.9H254.3 M249.3,121.2H254.3 M252.0,109.5H254.3 M249.3,97.8H254.3 M252.0,86.2H254.3 M249.3,74.5H254.3 M252.0,62.8H254.3 M249.3,51.1H254.3 M252.0,39.4H254.3 M249.3,27.8H254.3 M252.0,16.1H254.3 M249.3,4.4H254.3 M274.5,238.0V240.3 M308.1,238.0V243.0 M341.7,238.0V240.3 M375.3,238.0V243.0 M408.9,238.0V240.3 M442.6,238.0V243.0 M476.2,238.0V240.3 M509.8,238.0V243.0 M543.4,238.0V240.3" stroke="#2e2e2e" stroke-width="1.0" fill="none"/>
<text x="268.3" y="32.3" font-size="18.3">a</text>
<path d="M411.6,30.7H437.9" stroke="#000000" stroke-width="2.7" stroke-linecap="round"/>
<text x="442.4" y="35.0" font-size="12">Non-catalyst</text>
<path d="M411.6,45.6H437.9" stroke="#e01010" stroke-width="2.7" stroke-linecap="round"/>
<text x="442.4" y="49.9" font-size="12">CaO:stover=1:20</text>
<path d="M411.6,60.6H437.9" stroke="#0c0cd8" stroke-width="2.7" stroke-linecap="round"/>
<text x="442.4" y="64.9" font-size="12">CaO:stover=1:10</text>
<path d="M411.6,75.5H437.9" stroke="#e820e8" stroke-width="2.7" stroke-linecap="round"/>
<text x="442.4" y="79.8" font-size="12">CaO:stover=1:5</text>
<path d="M411.6,90.5H437.9" stroke="#0c7c0c" stroke-width="2.7" stroke-linecap="round"/>
<text x="442.4" y="94.8" font-size="12">CaO:stover=1:2</text>
<path d="M411.6,105.5H437.9" stroke="#07076a" stroke-width="2.7" stroke-linecap="round"/>
<text x="442.4" y="109.8" font-size="12">CaO:stover=1:1</text>
<text x="354.2" y="272.0" font-size="12.25">Temperature(</text>
<circle cx="429.6" cy="264.1" r="0.8" fill="none" stroke="#555" stroke-width="0.7"/>
<text x="430.4" y="272.0" font-size="12.4" fill="#5a5a5a" style="stroke:none">C</text>
<text x="439.9" y="272.0" font-size="12">)</text>
<text x="398.9" y="287.3" text-anchor="middle" font-size="12">H<tspan font-size="7.5" dy="4.6">2</tspan><tspan dy="-4.6">O</tspan></text>
<text x="0" y="0" transform="translate(204.9,115.0) rotate(-90)" text-anchor="middle" font-size="12">Absorbance</text>
<clipPath id="clipb"><rect x="55.3" y="320.1" width="290.0" height="233.19999999999993"/></clipPath>
<g clip-path="url(#clipb)" fill="none" stroke-width="3" stroke-linejoin="round" stroke-linecap="round">
<path d="M56.2,530.5C56.4,530.3 57.1,529.4 57.5,529.1C58.0,528.7 58.5,528.8 58.9,528.4C59.4,527.9 59.7,526.9 60.3,526.4C60.9,525.9 61.7,525.6 62.3,525.3C63.0,525.1 63.7,524.9 64.4,524.7C65.1,524.5 65.8,524.6 66.5,524.4C67.1,524.1 67.8,523.4 68.5,523.1C69.2,522.7 69.9,522.5 70.6,522.2C71.3,521.9 72.1,521.4 72.6,521.3C73.2,521.1 73.5,521.4 74.0,521.2C74.5,521.1 74.9,520.6 75.4,520.4C75.8,520.2 76.2,520.4 76.7,520.2C77.3,520.1 78.1,519.5 78.8,519.3C79.5,519.2 80.2,519.2 80.9,519.2C81.6,519.1 82.2,519.0 82.9,519.2C83.6,519.4 84.3,520.1 85.0,520.5C85.7,520.9 86.4,521.3 87.0,521.6C87.7,521.9 88.4,522.3 89.1,522.3C89.8,522.3 90.5,521.7 91.2,521.5C91.8,521.4 92.5,521.2 93.2,521.2C93.9,521.1 94.6,521.2 95.3,521.3C96.0,521.4 96.6,521.6 97.3,521.7C98.0,521.7 98.7,521.4 99.4,521.5C100.1,521.6 100.9,522.4 101.4,522.3C102.0,522.2 102.4,521.3 102.8,521.1C103.3,521.0 103.7,521.5 104.2,521.4C104.6,521.2 105.1,520.3 105.6,520.2C106.0,520.2 106.5,520.9 106.9,520.8C107.4,520.8 107.8,520.0 108.3,519.9C108.8,519.8 109.1,520.3 109.7,520.2C110.2,520.2 111.0,519.8 111.7,519.6C112.4,519.4 113.1,519.4 113.8,519.2C114.5,519.0 115.2,518.6 115.8,518.2C116.5,517.8 117.0,517.1 117.6,516.6C118.1,516.2 118.7,515.9 119.3,515.5C119.8,515.1 119.8,515.7 121.0,514.1C122.1,512.5 124.6,509.6 126.1,505.8C127.7,502.1 129.3,497.0 130.2,491.4C131.2,485.9 131.6,476.9 132.1,472.7C132.6,468.4 132.6,468.7 133.2,466.1C133.7,463.5 134.6,460.2 135.4,457.3C136.1,454.4 136.7,451.4 137.6,448.5C138.4,445.7 138.8,443.4 140.3,440.3C141.8,437.2 144.7,434.2 146.5,430.0C148.3,425.8 149.8,420.0 151.0,415.0C152.2,410.0 152.7,404.8 153.5,400.0C154.3,395.2 155.3,389.1 156.0,386.0C156.7,382.9 156.9,380.7 157.5,381.7C158.1,382.7 158.8,383.9 159.5,392.0C160.2,400.1 160.9,417.0 161.5,430.0C162.1,443.0 162.7,460.3 163.3,470.0C163.9,479.7 164.2,483.4 165.2,488.0C166.2,492.6 168.4,495.9 169.3,497.6C170.3,499.4 170.3,498.1 170.7,498.5C171.2,499.0 171.6,499.8 172.1,500.3C172.5,500.9 172.9,501.4 173.5,501.7C174.0,502.0 174.8,502.1 175.5,502.2C176.2,502.3 176.9,502.2 177.6,502.5C178.3,502.8 178.9,503.5 179.6,503.8C180.3,504.1 181.0,504.1 181.7,504.3C182.4,504.5 183.1,504.6 183.7,504.9C184.4,505.1 185.1,505.5 185.8,505.8C186.5,506.2 187.2,506.6 187.9,506.8C188.5,506.9 189.2,506.7 189.9,506.9C190.6,507.1 191.4,507.7 192.0,507.9C192.5,508.1 192.9,507.7 193.3,508.0C193.8,508.3 194.3,509.2 194.7,509.5C195.2,509.9 195.3,509.4 196.1,510.0C196.9,510.5 198.3,512.0 199.4,512.8C200.5,513.6 201.6,514.1 202.7,514.8C203.8,515.6 205.1,516.8 206.0,517.4C206.8,517.9 207.3,517.8 208.0,518.0C208.6,518.1 209.3,517.9 209.9,518.1C210.6,518.3 211.3,518.9 211.9,519.3C212.6,519.7 213.3,520.1 213.9,520.5C214.6,521.0 215.2,521.6 215.9,522.0C216.6,522.5 217.2,523.0 217.9,523.3C218.6,523.6 219.2,523.4 219.9,523.7C220.6,524.1 221.2,525.0 221.9,525.4C222.5,525.8 223.2,526.0 223.9,526.3C224.5,526.6 225.2,526.9 225.9,527.3C226.5,527.7 227.2,528.5 227.8,528.8C228.5,529.1 229.2,529.2 229.8,529.3C230.5,529.4 231.2,529.5 231.8,529.5C232.5,529.4 233.2,529.2 233.8,529.1C234.5,529.1 235.1,529.3 235.8,529.3C236.5,529.2 237.1,529.2 237.8,528.9C238.5,528.6 239.1,527.9 239.8,527.7C240.4,527.4 241.1,527.5 241.8,527.3C242.4,527.1 243.1,526.8 243.8,526.5C244.4,526.3 245.1,526.0 245.7,525.8C246.4,525.6 247.1,525.6 247.7,525.3C248.4,525.0 249.1,524.7 249.7,524.2C250.4,523.6 251.1,522.6 251.7,522.2C252.4,521.7 253.2,521.5 253.7,521.3C254.3,521.2 254.6,521.4 255.0,521.1C255.5,520.8 255.9,519.8 256.4,519.6C256.8,519.3 257.2,519.4 257.7,519.3C258.1,519.3 258.6,519.4 259.0,519.5C259.4,519.6 259.9,519.6 260.3,519.8C260.8,519.9 261.2,520.2 261.7,520.3C262.1,520.5 262.5,520.7 263.0,520.8C263.4,521.0 263.9,521.2 264.3,521.3C264.8,521.4 265.2,521.0 265.6,521.3C266.1,521.7 266.5,522.8 267.0,523.2C267.4,523.6 267.8,523.4 268.3,523.8C268.7,524.1 269.2,525.0 269.6,525.3C270.1,525.6 270.5,525.4 270.9,525.5C271.4,525.7 271.8,526.2 272.3,526.4C272.7,526.7 273.0,527.2 273.6,527.3C274.1,527.4 274.9,526.9 275.6,526.8C276.2,526.8 276.9,527.1 277.6,527.2C278.2,527.3 278.9,527.5 279.6,527.3C280.2,527.1 280.9,526.3 281.6,525.9C282.2,525.4 282.9,525.3 283.5,524.8C284.2,524.4 284.9,523.5 285.5,523.3C286.2,523.1 286.9,523.4 287.5,523.5C288.2,523.6 288.8,523.8 289.5,524.0C290.2,524.1 290.8,524.2 291.5,524.3C292.2,524.4 292.8,524.5 293.5,524.5C294.1,524.6 294.8,524.5 295.5,524.7C296.1,524.8 296.8,525.0 297.5,525.3C298.1,525.6 298.8,526.1 299.5,526.3C300.1,526.5 300.8,526.1 301.4,526.3C302.1,526.4 302.8,527.1 303.4,527.3C304.1,527.5 304.8,527.6 305.4,527.6C306.1,527.6 306.7,527.2 307.4,527.2C308.1,527.1 308.7,527.4 309.4,527.3C310.1,527.2 310.7,526.7 311.4,526.5C312.0,526.4 312.7,526.6 313.4,526.4C314.0,526.2 314.6,525.5 315.4,525.3C316.1,525.1 317.1,525.5 318.0,525.2C318.9,524.9 319.8,523.8 320.7,523.5C321.6,523.2 322.4,523.5 323.3,523.3C324.2,523.1 325.1,522.6 326.0,522.3C326.9,522.0 327.7,521.6 328.6,521.4C329.5,521.3 330.4,521.3 331.3,521.3C332.2,521.4 333.0,521.8 333.9,521.9C334.8,521.9 335.7,521.6 336.6,521.5C337.5,521.4 338.5,521.4 339.2,521.3C340.0,521.2 340.5,521.2 341.2,520.9C341.8,520.6 342.4,519.8 343.1,519.5C343.7,519.3 344.7,519.4 345.0,519.3" stroke="#000000"/>
<path d="M56.2,526.4C56.5,526.6 57.5,527.5 58.2,527.6C58.9,527.7 59.6,527.1 60.3,527.3C61.0,527.4 61.7,528.4 62.3,528.5C63.0,528.5 63.7,527.8 64.4,527.6C65.1,527.5 65.8,527.8 66.5,527.6C67.1,527.4 67.8,526.7 68.5,526.4C69.2,526.1 69.9,526.3 70.6,526.0C71.3,525.7 71.9,524.8 72.6,524.6C73.3,524.3 74.0,524.5 74.7,524.4C75.4,524.2 76.1,523.7 76.7,523.5C77.4,523.3 78.1,523.1 78.8,522.9C79.5,522.7 80.2,522.3 80.9,522.3C81.6,522.3 82.2,523.2 82.9,523.2C83.6,523.3 84.3,522.6 85.0,522.6C85.7,522.6 86.4,523.2 87.0,523.3C87.7,523.4 88.4,523.2 89.1,523.3C89.8,523.3 90.5,523.6 91.2,523.8C91.8,524.0 92.5,524.3 93.2,524.4C93.9,524.4 94.6,524.1 95.3,524.0C96.0,523.9 96.6,524.1 97.3,524.0C98.0,523.9 98.7,523.4 99.4,523.3C100.1,523.3 100.8,523.6 101.4,523.6C102.1,523.6 102.8,523.2 103.5,523.2C104.2,523.1 104.9,523.5 105.6,523.3C106.2,523.2 106.9,522.6 107.6,522.1C108.3,521.6 109.0,520.9 109.7,520.4C110.4,519.9 111.0,519.6 111.7,519.2C112.4,518.8 113.1,518.6 113.8,518.0C114.5,517.5 115.2,516.4 115.8,515.9C116.5,515.4 117.3,515.6 117.9,515.1C118.5,514.6 119.0,513.5 119.6,513.1C120.2,512.8 120.8,513.2 121.3,512.8C121.9,512.4 122.4,513.1 123.0,511.0C123.7,508.9 124.8,501.5 125.5,500.0C126.2,498.5 126.6,503.7 127.2,501.7C127.7,499.7 128.0,492.5 128.8,488.0C129.6,483.6 131.0,479.1 132.1,474.9C133.2,470.7 134.3,466.6 135.4,462.8C136.5,459.0 137.6,455.5 138.7,451.8C139.8,448.2 140.9,444.3 141.9,440.9C143.0,437.4 144.0,434.7 145.2,431.0C146.5,427.3 148.4,423.9 149.5,418.8C150.6,413.6 151.3,406.4 152.0,400.2C152.7,394.1 153.3,387.3 153.8,381.7C154.3,376.2 154.7,372.1 155.1,366.9C155.5,361.8 155.9,355.2 156.3,350.9C156.7,346.5 157.0,343.5 157.3,341.0C157.6,338.5 157.8,336.3 158.1,336.0C158.5,335.8 158.8,337.3 159.1,339.8C159.4,342.2 159.7,345.9 160.0,350.9C160.3,355.8 160.6,363.2 160.9,369.4C161.2,375.6 161.5,381.7 161.9,387.9C162.2,394.1 162.5,400.2 162.8,406.4C163.1,412.6 163.2,417.2 163.7,424.9C164.2,432.7 165.5,444.6 166.1,452.9C166.7,461.2 166.7,469.4 167.2,474.9C167.6,480.4 168.1,483.1 168.8,485.8C169.6,488.6 170.6,489.5 171.6,491.3C172.6,493.2 174.2,495.1 174.9,496.8C175.5,498.6 175.1,500.7 175.5,501.7C176.0,502.8 176.9,502.7 177.6,503.2C178.3,503.7 178.9,504.2 179.6,504.7C180.3,505.1 181.0,505.4 181.7,505.8C182.4,506.3 183.1,507.1 183.7,507.6C184.4,508.0 185.1,508.1 185.8,508.5C186.5,508.9 187.2,509.6 187.9,510.0C188.5,510.3 189.2,510.6 189.9,510.8C190.6,510.9 191.3,510.8 192.0,511.0C192.7,511.2 192.9,511.1 194.0,512.0C195.1,513.0 197.1,515.1 198.7,516.7C200.2,518.3 201.8,520.0 203.3,521.8C204.9,523.6 206.7,526.3 208.0,527.3C209.2,528.3 209.7,527.3 210.6,527.6C211.5,527.9 212.4,528.7 213.3,529.0C214.1,529.3 215.0,529.0 215.9,529.3C216.8,529.5 217.7,530.4 218.6,530.5C219.4,530.7 220.3,530.0 221.2,530.1C222.1,530.3 222.9,531.0 223.9,531.3C224.9,531.6 226.1,531.8 227.2,531.9C228.3,531.9 229.4,531.5 230.5,531.4C231.6,531.3 232.9,531.5 233.8,531.3C234.7,531.1 235.1,530.5 235.8,530.1C236.5,529.7 237.1,529.2 237.8,528.7C238.5,528.3 238.5,528.9 239.8,527.3C241.1,525.7 243.8,522.3 245.7,519.3C247.7,516.4 249.9,512.7 251.7,509.4C253.5,506.1 255.0,502.4 256.7,499.5C258.3,496.5 260.2,493.8 261.7,491.5C263.2,489.2 264.6,486.2 265.6,485.5C266.6,484.9 267.0,485.9 267.6,487.5C268.3,489.2 269.0,491.5 269.6,495.5C270.3,499.5 270.9,506.7 271.6,511.4C272.3,516.0 272.9,520.3 273.6,523.3C274.3,526.3 274.8,528.2 275.6,529.3C276.4,530.4 277.4,529.8 278.2,530.1C279.1,530.3 280.0,530.7 280.9,530.9C281.8,531.1 282.5,531.1 283.5,531.3C284.5,531.4 285.7,531.6 286.9,531.8C288.0,532.0 289.1,532.3 290.2,532.4C291.3,532.5 292.5,532.3 293.5,532.3C294.5,532.2 295.3,532.0 296.1,532.1C297.0,532.2 297.9,532.7 298.8,532.7C299.7,532.8 300.6,532.5 301.4,532.3C302.3,532.1 303.2,531.5 304.1,531.4C305.0,531.3 305.9,531.7 306.7,531.7C307.6,531.7 308.4,531.4 309.4,531.3C310.4,531.2 311.6,531.3 312.7,531.2C313.8,531.2 314.9,530.8 316.0,530.8C317.1,530.8 318.3,531.4 319.3,531.3C320.3,531.2 321.1,530.4 322.0,530.3C322.9,530.2 323.8,530.7 324.6,530.5C325.5,530.4 326.4,529.5 327.3,529.3C328.2,529.1 329.1,529.5 329.9,529.2C330.8,528.9 331.7,528.0 332.6,527.6C333.5,527.3 334.3,527.2 335.3,527.3C336.2,527.4 337.4,528.0 338.5,528.2C339.6,528.4 340.7,528.5 341.8,528.6C342.8,528.8 344.5,529.2 345.0,529.3" stroke="#e01010"/>
<path d="M56.2,522.3C56.4,522.1 57.1,521.3 57.5,520.9C58.0,520.5 58.5,520.4 58.9,520.0C59.4,519.5 59.8,518.3 60.3,518.2C60.8,518.0 61.4,518.5 62.0,519.1C62.6,519.6 63.1,520.8 63.7,521.3C64.3,521.9 64.9,521.9 65.4,522.3C66.0,522.7 66.6,523.3 67.1,523.7C67.7,524.1 68.3,524.6 68.9,524.9C69.4,525.1 69.9,525.3 70.6,525.4C71.2,525.4 71.9,525.2 72.6,525.2C73.3,525.1 74.0,525.2 74.7,525.1C75.4,524.9 76.1,524.4 76.7,524.4C77.4,524.3 78.1,524.7 78.8,524.6C79.5,524.4 80.2,523.6 80.9,523.4C81.6,523.2 82.2,523.4 82.9,523.3C83.6,523.3 84.3,523.1 85.0,523.1C85.7,523.2 86.4,523.5 87.0,523.7C87.7,523.9 88.4,524.2 89.1,524.4C89.8,524.5 90.5,524.3 91.2,524.5C91.8,524.6 92.5,524.9 93.2,525.2C93.9,525.5 94.6,526.1 95.3,526.4C96.0,526.7 96.6,526.9 97.3,527.0C98.0,527.1 98.7,526.9 99.4,527.0C100.1,527.1 100.8,527.5 101.4,527.4C102.1,527.4 102.8,527.2 103.5,527.0C104.2,526.7 104.9,526.3 105.6,526.2C106.2,526.1 106.9,526.6 107.6,526.4C108.3,526.2 109.0,525.5 109.7,525.0C110.4,524.5 111.0,524.0 111.7,523.6C112.4,523.1 113.1,522.9 113.8,522.3C114.5,521.7 115.2,520.8 115.8,520.2C116.5,519.5 117.2,519.0 117.9,518.3C118.6,517.6 119.3,516.8 120.0,516.1C120.6,515.4 121.1,514.8 121.7,514.1C122.2,513.5 122.8,512.9 123.4,512.4C124.0,511.9 124.0,512.8 125.1,511.0C126.2,509.2 129.3,504.1 130.2,501.7C131.2,499.4 130.3,499.5 131.0,496.8C131.6,494.2 133.2,489.9 134.3,485.8C135.4,481.8 136.5,476.9 137.6,472.7C138.7,468.5 139.8,464.8 140.9,460.6C141.9,456.4 143.0,451.6 144.1,447.4C145.2,443.2 146.5,439.1 147.4,435.4C148.3,431.6 148.7,429.4 149.5,424.9C150.3,420.5 151.3,414.9 152.0,408.9C152.7,402.9 153.3,395.3 153.8,389.1C154.4,383.0 155.0,376.8 155.4,371.9C155.9,366.9 156.3,362.7 156.7,359.5C157.0,356.3 157.2,353.3 157.5,352.7C157.8,352.1 158.2,353.4 158.5,355.8C158.9,358.2 159.3,362.6 159.6,366.9C160.0,371.2 160.2,376.2 160.6,381.7C161.0,387.3 161.4,394.1 161.9,400.2C162.3,406.4 162.2,405.4 163.1,418.8C164.0,432.1 166.1,468.4 167.2,480.4C168.2,492.3 168.5,487.7 169.4,490.2C170.3,492.8 171.9,494.6 172.7,495.7C173.5,496.8 173.8,496.7 174.3,496.8C174.9,497.0 175.4,496.6 176.0,496.8C176.5,497.1 177.1,498.1 177.6,498.4C178.2,498.8 178.7,498.6 179.3,499.0C179.8,499.4 180.3,500.3 180.8,500.8C181.3,501.3 181.8,501.4 182.2,501.9C182.7,502.4 183.2,503.2 183.7,503.8C184.3,504.4 185.1,505.0 185.8,505.7C186.5,506.3 187.2,507.0 187.9,507.7C188.5,508.4 189.2,509.2 189.9,510.0C190.6,510.7 191.3,511.4 192.0,512.2C192.7,512.9 193.3,513.9 194.0,514.6C194.7,515.2 195.2,515.7 196.1,516.1C197.0,516.6 198.3,517.0 199.4,517.3C200.5,517.7 201.6,517.7 202.7,518.1C203.8,518.4 205.1,518.8 206.0,519.3C206.8,519.9 207.3,520.5 208.0,521.3C208.6,522.0 209.3,523.1 209.9,523.8C210.6,524.5 211.3,524.8 211.9,525.3C212.6,525.8 213.3,526.6 213.9,526.9C214.6,527.3 215.2,527.1 215.9,527.5C216.6,527.9 217.2,529.1 217.9,529.3C218.6,529.5 219.2,528.7 219.9,528.7C220.6,528.8 221.2,529.5 221.9,529.5C222.5,529.6 223.1,529.3 223.9,529.3C224.6,529.3 225.6,529.4 226.5,529.5C227.4,529.6 228.3,529.7 229.2,529.7C230.1,529.6 230.6,530.3 231.8,529.3C233.1,528.2 235.1,525.6 236.8,523.3C238.5,521.0 239.9,518.0 241.8,515.4C243.6,512.7 245.9,510.4 247.7,507.4C249.6,504.4 251.2,500.8 252.7,497.5C254.2,494.1 255.4,490.8 256.7,487.5C258.0,484.2 259.5,480.2 260.7,477.6C261.8,474.9 262.9,472.8 263.6,471.6C264.4,470.4 264.6,469.9 265.2,470.6C265.8,471.3 266.6,472.8 267.2,475.6C267.9,478.4 268.6,482.9 269.2,487.5C269.9,492.2 270.5,498.1 271.2,503.4C271.9,508.7 272.5,515.4 273.2,519.3C273.9,523.3 274.6,525.7 275.2,527.3C275.8,528.9 276.3,528.3 276.9,528.7C277.4,529.0 277.9,529.3 278.6,529.3C279.2,529.3 280.1,528.9 280.9,528.8C281.7,528.7 282.4,528.8 283.2,528.9C284.0,529.0 284.7,529.2 285.5,529.3C286.4,529.4 287.3,529.5 288.2,529.4C289.1,529.3 289.9,529.1 290.8,528.9C291.7,528.7 292.6,528.4 293.5,528.3C294.4,528.1 295.3,528.2 296.1,528.0C297.0,527.8 297.9,527.3 298.8,527.2C299.7,527.1 300.7,527.5 301.4,527.3C302.2,527.1 302.8,526.7 303.4,526.2C304.1,525.7 304.8,524.7 305.4,524.2C306.1,523.7 306.7,523.6 307.4,523.3C308.1,523.0 309.0,522.7 309.7,522.4C310.5,522.1 311.3,521.8 312.0,521.3C312.8,520.7 313.7,519.5 314.4,519.3C315.0,519.2 315.5,520.0 316.0,520.6C316.6,521.1 317.1,522.0 317.7,522.5C318.2,522.9 318.6,522.9 319.3,523.3C320.1,523.7 321.1,524.2 322.0,524.8C322.9,525.5 323.8,526.6 324.6,527.4C325.5,528.1 326.4,528.8 327.3,529.3C328.2,529.7 329.1,529.9 329.9,530.1C330.8,530.3 331.7,530.5 332.6,530.5C333.5,530.5 334.3,530.2 335.3,530.3C336.2,530.4 337.4,531.2 338.5,531.2C339.6,531.2 340.7,530.5 341.8,530.5C342.8,530.5 344.5,531.1 345.0,531.3" stroke="#0c0cd8"/>
<path d="M56.2,528.5C56.5,528.6 57.5,529.1 58.2,529.4C58.9,529.6 59.6,530.0 60.3,530.2C61.0,530.4 61.7,530.6 62.3,530.5C63.0,530.5 63.7,529.9 64.4,529.7C65.1,529.5 65.8,529.4 66.5,529.2C67.1,529.0 67.8,528.6 68.5,528.5C69.2,528.4 69.9,528.7 70.6,528.6C71.3,528.5 71.9,527.9 72.6,527.9C73.3,527.9 74.0,528.2 74.7,528.5C75.4,528.7 76.1,529.3 76.7,529.5C77.4,529.8 78.1,529.8 78.8,530.0C79.5,530.1 80.2,530.4 80.9,530.5C81.6,530.7 82.2,531.0 82.9,531.0C83.6,531.0 84.3,530.3 85.0,530.3C85.7,530.2 86.4,530.6 87.0,530.5C87.7,530.5 88.4,529.9 89.1,529.8C89.8,529.6 90.5,529.4 91.2,529.4C91.8,529.3 92.5,529.6 93.2,529.5C93.9,529.4 94.6,529.0 95.3,528.7C96.0,528.4 96.6,528.0 97.3,527.8C98.0,527.6 98.7,527.6 99.4,527.4C100.1,527.3 100.8,526.8 101.4,526.8C102.1,526.8 102.8,527.4 103.5,527.3C104.2,527.3 104.9,526.8 105.6,526.4C106.2,526.1 106.9,525.6 107.6,525.3C108.3,525.0 109.0,524.8 109.7,524.6C110.4,524.4 111.0,524.6 111.7,524.4C112.4,524.1 113.1,523.4 113.8,523.0C114.5,522.6 115.2,522.5 115.8,522.0C116.5,521.5 117.3,520.8 117.9,520.2C118.5,519.7 119.0,519.3 119.6,518.7C120.2,518.1 120.8,517.2 121.3,516.4C121.9,515.7 121.9,515.8 123.0,514.1C124.2,512.3 126.7,508.7 128.2,505.8C129.7,503.0 130.7,500.5 132.1,496.8C133.4,493.1 135.0,487.9 136.5,483.6C137.9,479.4 139.6,475.2 140.9,471.6C142.1,467.9 143.0,465.4 144.1,461.7C145.2,458.0 146.4,453.8 147.4,449.6C148.4,445.4 149.6,439.5 150.2,436.5C150.7,433.4 150.3,434.9 150.7,431.1C151.1,427.3 152.0,419.6 152.6,413.8C153.2,408.1 153.7,401.9 154.2,396.5C154.7,391.2 155.2,386.3 155.7,381.7C156.1,377.2 156.6,371.9 156.9,369.4C157.2,366.9 157.3,366.5 157.5,366.9C157.8,367.3 158.0,369.0 158.4,371.9C158.7,374.7 159.2,379.5 159.6,384.2C160.0,388.9 160.5,394.5 160.9,400.2C161.3,406.0 161.2,408.2 162.1,418.8C163.0,429.4 165.2,453.4 166.1,463.9C166.9,474.3 166.7,476.9 167.2,481.5C167.6,486.0 168.3,488.8 168.8,491.3C169.4,493.9 169.9,495.4 170.5,496.8C171.0,498.3 170.9,498.2 172.1,500.0C173.3,501.8 176.3,506.2 177.6,507.9C178.8,509.6 178.9,509.6 179.6,510.4C180.3,511.2 181.0,511.9 181.7,512.5C182.4,513.1 183.1,513.4 183.7,514.1C184.4,514.8 185.1,516.1 185.8,516.7C186.5,517.3 187.2,517.1 187.9,517.7C188.5,518.3 189.2,519.6 189.9,520.2C190.6,520.9 191.3,521.2 192.0,521.3C192.7,521.5 193.3,520.9 194.0,521.0C194.7,521.2 195.1,522.0 196.1,522.3C197.1,522.6 198.7,522.7 200.0,523.0C201.4,523.2 202.7,523.5 204.0,523.5C205.3,523.6 206.9,523.2 208.0,523.3C209.1,523.4 209.7,523.7 210.6,524.2C211.5,524.6 212.4,525.4 213.3,525.9C214.1,526.4 215.0,527.0 215.9,527.3C216.8,527.6 217.7,527.5 218.6,527.7C219.4,527.9 220.3,528.3 221.2,528.6C222.1,528.9 223.1,529.1 223.9,529.3C224.6,529.5 225.2,529.6 225.9,529.7C226.5,529.8 227.2,529.9 227.8,529.8C228.5,529.8 229.2,529.5 229.8,529.3C230.4,529.1 230.9,529.0 231.5,528.8C232.0,528.7 232.6,528.6 233.2,528.4C233.7,528.1 233.9,528.8 234.8,527.3C235.7,525.8 237.5,521.7 238.8,519.3C240.1,517.0 241.3,515.7 242.8,513.4C244.3,511.1 246.1,508.4 247.7,505.4C249.4,502.4 251.2,499.1 252.7,495.5C254.2,491.8 255.4,488.2 256.7,483.5C258.0,478.9 259.5,471.6 260.7,467.6C261.8,463.6 262.8,461.2 263.6,459.7C264.5,458.2 265.0,458.0 265.6,458.7C266.3,459.3 267.0,460.5 267.6,463.6C268.3,466.8 269.0,473.3 269.6,477.6C270.3,481.9 271.0,485.2 271.6,489.5C272.2,493.8 272.7,498.8 273.2,503.4C273.7,508.1 274.1,513.4 274.6,517.4C275.1,521.3 275.5,525.4 276.0,527.3C276.4,529.2 276.8,528.3 277.3,528.6C277.7,529.0 278.0,529.1 278.6,529.3C279.2,529.4 280.1,529.4 280.9,529.5C281.7,529.6 282.4,529.5 283.2,529.6C284.0,529.8 284.7,530.1 285.5,530.3C286.4,530.4 287.3,530.5 288.2,530.5C289.1,530.4 289.9,530.3 290.8,530.1C291.7,529.9 292.6,529.4 293.5,529.3C294.4,529.1 295.3,529.1 296.1,529.2C297.0,529.3 297.9,529.8 298.8,529.8C299.7,529.8 300.7,529.5 301.4,529.3C302.2,529.1 302.8,528.7 303.4,528.4C304.1,528.1 304.8,527.6 305.4,527.4C306.1,527.2 306.7,527.5 307.4,527.3C308.1,527.1 308.7,526.5 309.4,526.0C310.1,525.6 310.7,524.9 311.4,524.4C312.0,524.0 312.7,523.3 313.4,523.3C314.0,523.4 314.7,524.3 315.4,524.7C316.0,525.0 316.7,525.0 317.4,525.5C318.0,525.9 318.6,526.8 319.3,527.3C320.1,527.8 321.1,527.9 322.0,528.4C322.9,528.9 323.8,529.6 324.6,530.0C325.5,530.5 326.4,531.3 327.3,531.3C328.2,531.3 329.1,530.2 329.9,530.1C330.8,530.0 331.7,530.6 332.6,530.5C333.5,530.4 334.3,529.3 335.3,529.3C336.2,529.2 337.4,530.0 338.5,530.1C339.6,530.3 340.7,530.0 341.8,530.2C342.8,530.4 344.5,531.1 345.0,531.3" stroke="#e820e8"/>
<path d="M56.2,514.1C56.4,514.0 57.1,513.9 57.5,513.7C58.0,513.5 58.5,513.1 58.9,512.9C59.4,512.6 59.2,510.8 60.3,512.0C61.4,513.2 64.3,518.7 65.4,520.2C66.6,521.8 66.6,521.2 67.1,521.6C67.7,522.0 68.3,522.0 68.9,522.5C69.4,523.0 69.9,523.9 70.6,524.4C71.2,524.8 71.9,525.0 72.6,525.2C73.3,525.4 74.0,525.4 74.7,525.6C75.4,525.8 76.1,526.4 76.7,526.4C77.4,526.5 78.1,525.9 78.8,525.8C79.5,525.6 80.2,525.8 80.9,525.6C81.6,525.4 82.2,524.7 82.9,524.4C83.6,524.0 84.3,524.0 85.0,523.7C85.7,523.4 86.4,522.9 87.0,522.7C87.7,522.5 88.4,522.3 89.1,522.3C89.8,522.3 90.5,522.6 91.2,522.8C91.8,523.1 92.5,523.5 93.2,523.8C93.9,524.0 94.6,524.2 95.3,524.4C96.0,524.5 96.6,524.3 97.3,524.6C98.0,524.9 98.7,525.8 99.4,526.1C100.1,526.4 100.8,526.3 101.4,526.4C102.1,526.6 102.8,526.9 103.5,527.0C104.2,527.2 104.9,527.2 105.6,527.3C106.2,527.4 106.9,527.4 107.6,527.4C108.3,527.5 109.0,527.2 109.7,527.4C110.4,527.6 111.0,528.3 111.7,528.5C112.4,528.7 113.1,528.7 113.8,528.5C114.5,528.3 115.2,527.7 115.8,527.2C116.5,526.6 117.2,525.7 117.9,525.3C118.6,524.8 118.8,526.2 120.0,524.4C121.2,522.5 123.4,518.1 125.1,514.1C126.8,510.0 128.3,504.2 129.9,500.0C131.4,495.8 132.8,492.2 134.3,489.1C135.7,486.0 137.7,483.0 138.7,481.5C139.6,479.9 139.6,480.2 140.1,479.7C140.6,479.2 141.1,478.7 141.6,478.3C142.1,477.8 142.1,478.2 143.0,477.1C144.0,475.9 146.3,473.4 147.4,471.6C148.5,469.7 149.0,468.8 149.6,466.1C150.3,463.3 150.7,459.1 151.3,455.1C151.8,451.1 152.4,446.0 152.9,441.9C153.5,437.9 154.1,433.8 154.6,431.0C155.0,428.1 155.3,427.8 155.7,424.9C156.1,422.1 156.5,417.4 156.9,413.8C157.4,410.2 158.0,404.2 158.4,403.3C158.8,402.5 159.1,405.3 159.4,408.9C159.7,412.5 160.1,420.3 160.4,424.9C160.7,429.5 160.8,431.8 161.2,436.5C161.5,441.1 161.9,447.4 162.2,452.9C162.6,458.4 162.9,463.9 163.3,469.4C163.8,474.9 164.4,480.7 165.0,485.8C165.5,490.9 165.2,495.6 166.6,500.0C168.0,504.4 172.0,509.9 173.5,512.0C174.9,514.2 174.8,512.5 175.5,512.8C176.2,513.1 176.9,513.5 177.6,513.7C178.3,513.9 178.9,513.6 179.6,514.1C180.3,514.5 181.0,515.7 181.7,516.5C182.4,517.3 183.1,518.1 183.7,518.8C184.4,519.4 185.1,519.8 185.8,520.2C186.5,520.7 187.2,520.9 187.9,521.3C188.5,521.7 189.2,522.2 189.9,522.8C190.6,523.3 190.7,524.0 192.0,524.4C193.2,524.7 195.5,524.6 197.3,524.8C199.1,524.9 200.9,525.2 202.6,525.3C204.4,525.3 206.6,525.2 208.0,525.3C209.3,525.4 209.7,525.8 210.6,526.0C211.5,526.2 212.4,526.6 213.3,526.8C214.1,527.0 215.0,527.3 215.9,527.3C216.8,527.3 217.7,526.8 218.6,526.8C219.4,526.9 220.3,527.3 221.2,527.4C222.1,527.5 223.1,527.4 223.9,527.3C224.6,527.2 225.2,527.2 225.9,527.1C226.5,527.0 227.2,526.8 227.8,526.9C228.5,526.9 229.3,527.6 229.8,527.5C230.4,527.4 230.7,526.8 231.2,526.4C231.6,526.1 232.0,525.7 232.5,525.3C232.9,524.8 232.9,524.8 233.8,523.5C234.7,522.2 236.5,519.5 237.8,517.6C239.1,515.6 240.4,513.6 241.8,511.6C243.1,509.6 244.4,508.3 245.7,505.6C247.1,503.0 248.4,499.3 249.7,495.7C251.1,492.0 252.4,488.4 253.7,483.7C255.0,479.1 256.4,473.5 257.7,467.8C259.0,462.2 260.5,455.2 261.7,449.9C262.8,444.6 263.7,440.2 264.6,436.0C265.6,431.8 266.5,427.2 267.2,424.9C267.9,422.6 268.3,422.2 268.8,422.3C269.4,422.4 270.1,423.2 270.6,425.5C271.1,427.7 271.5,431.4 272.0,435.8C272.5,440.2 273.0,445.1 273.6,451.7C274.2,458.3 275.0,469.6 275.6,475.6C276.2,481.6 276.7,482.9 277.2,487.5C277.7,492.2 278.0,498.1 278.6,503.4C279.1,508.7 279.9,515.4 280.6,519.3C281.2,523.3 281.9,526.0 282.5,527.3C283.2,528.6 283.6,526.8 284.2,526.9C284.8,526.9 285.3,527.4 285.9,527.5C286.4,527.6 286.8,527.3 287.5,527.3C288.2,527.3 289.3,527.4 290.2,527.3C291.1,527.3 291.9,527.0 292.8,527.0C293.7,526.9 294.6,527.5 295.5,527.3C296.4,527.1 297.2,526.3 298.1,525.6C299.0,525.0 299.9,524.1 300.8,523.4C301.7,522.7 302.7,521.8 303.4,521.3C304.2,520.8 304.8,520.9 305.4,520.5C306.1,520.0 306.7,519.3 307.4,518.8C308.1,518.3 308.8,517.7 309.4,517.4C310.0,517.0 310.5,516.9 311.1,516.9C311.6,516.9 312.2,517.2 312.7,517.3C313.3,517.3 313.8,517.4 314.4,517.4C314.9,517.3 315.4,517.1 315.9,516.7C316.4,516.4 316.9,515.9 317.4,515.5C317.9,515.1 318.4,514.3 318.9,514.4C319.4,514.5 319.9,515.7 320.4,516.2C320.9,516.6 321.4,516.7 321.9,517.2C322.3,517.7 322.7,518.8 323.3,519.3C323.9,519.9 324.6,520.1 325.3,520.5C326.0,520.8 326.6,521.0 327.3,521.4C328.0,521.9 328.6,522.8 329.3,523.3C329.9,523.8 330.6,523.9 331.3,524.3C331.9,524.7 332.6,525.2 333.3,525.7C333.9,526.2 334.4,527.0 335.3,527.3C336.1,527.6 337.4,527.8 338.5,527.7C339.6,527.7 340.7,527.1 341.8,527.0C342.8,527.0 344.5,527.3 345.0,527.3" stroke="#0c7c0c"/>
<path d="M56.2,518.2C56.4,518.0 57.1,517.6 57.5,517.3C58.0,517.0 58.5,516.7 58.9,516.5C59.4,516.3 59.8,516.1 60.3,516.1C60.7,516.2 61.2,516.5 61.7,516.9C62.1,517.4 62.6,518.3 63.0,518.9C63.5,519.4 63.8,519.7 64.4,520.2C65.0,520.8 65.8,521.8 66.5,522.4C67.1,523.0 67.8,523.4 68.5,524.1C69.2,524.8 69.9,526.2 70.6,526.4C71.3,526.6 71.9,525.6 72.6,525.3C73.3,525.0 74.0,525.0 74.7,524.8C75.4,524.7 76.1,524.6 76.7,524.4C77.4,524.2 78.1,523.9 78.8,523.7C79.5,523.5 80.2,523.3 80.9,523.0C81.6,522.8 82.2,522.2 82.9,522.3C83.6,522.4 84.3,523.3 85.0,523.4C85.7,523.6 86.4,523.0 87.0,523.2C87.7,523.3 88.4,524.0 89.1,524.4C89.8,524.7 90.5,525.1 91.2,525.4C91.8,525.7 92.5,525.8 93.2,526.1C93.9,526.5 94.6,527.1 95.3,527.4C96.0,527.8 96.6,528.0 97.3,528.3C98.0,528.6 98.7,528.6 99.4,529.0C100.1,529.4 100.8,530.3 101.4,530.5C102.1,530.8 102.8,530.5 103.5,530.7C104.2,530.9 104.9,531.6 105.6,531.8C106.2,531.9 106.9,531.9 107.6,531.6C108.3,531.2 109.0,530.3 109.7,529.7C110.4,529.1 111.0,528.5 111.7,528.0C112.4,527.4 112.4,528.1 113.8,526.4C115.2,524.8 118.6,520.0 120.0,518.2C121.3,516.4 121.3,516.3 122.0,515.7C122.7,515.1 123.4,515.1 124.1,514.5C124.8,513.9 125.4,512.6 126.1,512.0C126.8,511.5 127.5,511.6 128.2,511.1C128.9,510.7 129.6,509.8 130.2,509.3C130.9,508.7 131.6,509.4 132.3,507.9C133.0,506.4 133.7,501.4 134.3,500.0C134.9,498.6 135.4,499.6 135.9,499.2C136.5,498.9 137.0,498.2 137.6,497.9C138.1,497.6 138.7,497.8 139.2,497.6C139.8,497.4 140.2,497.7 140.9,496.8C141.5,496.0 142.4,493.9 143.0,492.4C143.7,491.0 144.2,488.9 144.7,488.0C145.2,487.2 145.6,487.8 146.1,487.5C146.5,487.1 146.8,486.7 147.4,485.8C148.0,485.0 149.0,484.6 149.6,482.6C150.3,480.5 150.7,476.5 151.3,473.8C151.8,471.0 152.4,468.7 152.9,466.1C153.5,463.5 153.9,460.2 154.6,458.4C155.2,456.6 156.1,455.3 156.8,455.1C157.4,454.9 157.9,455.8 158.4,457.3C159.0,458.8 159.5,461.0 160.1,463.9C160.6,466.8 161.2,470.8 161.7,474.9C162.2,478.9 162.8,483.9 163.3,488.0C163.9,492.2 164.2,495.0 165.0,500.0C165.8,505.0 167.5,515.0 168.3,518.2C169.2,521.4 169.5,519.0 170.0,519.1C170.6,519.2 171.2,518.9 171.7,518.9C172.3,518.9 172.9,519.0 173.5,519.2C174.0,519.5 174.4,520.1 174.8,520.4C175.3,520.6 175.7,520.4 176.2,520.7C176.7,521.1 177.0,522.0 177.6,522.3C178.1,522.6 178.9,522.3 179.6,522.5C180.3,522.8 181.0,523.6 181.7,523.9C182.4,524.2 183.1,524.2 183.7,524.4C184.4,524.6 185.1,524.6 185.8,525.1C186.5,525.7 187.2,527.1 187.9,527.7C188.5,528.2 189.3,528.3 189.9,528.5C190.5,528.6 190.8,528.6 191.3,528.7C191.7,528.7 192.2,529.0 192.7,529.0C193.1,528.9 193.1,528.8 194.0,528.5C194.9,528.2 196.7,527.8 198.0,527.2C199.3,526.6 200.7,525.3 202.0,524.7C203.3,524.0 205.0,523.4 206.0,523.3C207.0,523.3 207.3,523.9 208.0,524.4C208.6,524.9 209.3,526.0 209.9,526.4C210.6,526.9 211.3,527.1 211.9,527.3C212.6,527.5 213.3,527.4 213.9,527.6C214.6,527.7 215.2,527.9 215.9,528.1C216.6,528.4 217.2,529.0 217.9,529.3C218.6,529.5 219.2,529.6 219.9,529.6C220.6,529.6 221.2,529.1 221.9,529.1C222.5,529.0 223.2,529.5 223.9,529.3C224.5,529.1 225.2,528.3 225.9,528.0C226.5,527.7 227.2,527.7 227.8,527.5C228.5,527.4 229.3,527.6 229.8,527.3C230.4,527.0 230.7,526.2 231.2,525.7C231.6,525.2 232.0,524.6 232.5,524.2C232.9,523.8 232.9,524.5 233.8,523.3C234.7,522.2 236.5,519.3 237.8,517.4C239.1,515.4 240.4,513.4 241.8,511.4C243.1,509.4 244.4,508.1 245.7,505.4C247.1,502.8 248.4,499.1 249.7,495.5C251.1,491.8 252.4,488.2 253.7,483.5C255.0,478.9 256.4,473.3 257.7,467.6C259.0,462.0 260.5,455.0 261.7,449.7C262.8,444.4 263.6,440.4 264.6,435.8C265.6,431.2 266.9,424.7 267.6,421.9C268.4,419.1 268.7,418.9 269.2,418.9C269.7,418.9 270.1,419.1 270.6,421.9C271.1,424.7 271.5,430.2 272.0,435.8C272.5,441.4 273.1,450.1 273.6,455.7C274.1,461.3 274.5,468.0 275.0,469.6C275.5,471.3 276.1,467.8 276.6,465.6C277.1,463.5 277.5,458.0 278.0,456.7C278.4,455.4 278.7,455.5 279.2,457.7C279.6,459.8 280.1,464.3 280.6,469.6C281.0,474.9 281.5,482.5 281.9,489.5C282.4,496.5 282.7,505.7 283.1,511.4C283.6,517.0 284.0,520.7 284.5,523.3C285.1,526.0 285.9,526.6 286.5,527.3C287.1,528.0 287.6,527.7 288.2,527.6C288.7,527.5 289.3,526.8 289.8,526.8C290.4,526.7 290.8,527.1 291.5,527.3C292.2,527.5 293.3,527.8 294.1,527.9C295.0,528.0 295.9,527.8 296.8,527.7C297.7,527.6 298.7,527.5 299.5,527.3C300.2,527.1 300.8,526.9 301.4,526.6C302.1,526.3 302.8,525.7 303.4,525.5C304.1,525.2 304.8,525.5 305.4,525.3C306.1,525.1 306.7,524.8 307.4,524.4C308.1,524.0 308.7,523.3 309.4,522.8C310.1,522.3 310.8,521.8 311.4,521.3C311.9,520.9 312.3,520.4 312.7,520.1C313.2,519.8 313.6,519.7 314.0,519.5C314.5,519.4 314.9,519.1 315.4,519.3C315.8,519.6 316.2,520.7 316.7,521.2C317.1,521.6 317.6,521.7 318.0,522.1C318.5,522.4 318.9,522.9 319.3,523.3C319.8,523.7 320.2,524.2 320.7,524.5C321.1,524.9 321.6,525.0 322.0,525.4C322.4,525.9 322.8,526.7 323.3,527.3C323.9,527.9 324.6,528.5 325.3,528.9C326.0,529.4 326.6,529.7 327.3,530.0C328.0,530.4 328.5,531.2 329.3,531.3C330.1,531.3 331.1,530.3 331.9,530.2C332.8,530.1 333.7,530.7 334.6,530.5C335.5,530.4 336.4,529.4 337.2,529.3C338.1,529.2 339.0,529.6 339.8,529.7C340.7,529.9 341.6,530.1 342.4,530.3C343.3,530.6 344.6,531.1 345.0,531.3" stroke="#07076a"/>
</g>
<rect x="55.3" y="320.1" width="290.0" height="233.19999999999993" fill="none" stroke="#2e2e2e" stroke-width="1.25"/>
<text transform="translate(47.0,535.6) scale(0.9,1)" text-anchor="end" font-size="10.6">0.00</text>
<text transform="translate(47.0,493.2) scale(0.9,1)" text-anchor="end" font-size="10.6">0.01</text>
<text transform="translate(47.0,450.8) scale(0.9,1)" text-anchor="end" font-size="10.6">0.02</text>
<text transform="translate(47.0,408.4) scale(0.9,1)" text-anchor="end" font-size="10.6">0.03</text>
<text transform="translate(47.0,366.0) scale(0.9,1)" text-anchor="end" font-size="10.6">0.04</text>
<text transform="translate(47.0,323.6) scale(0.9,1)" text-anchor="end" font-size="10.6">0.05</text>
<text x="109.3" y="569.0" text-anchor="middle" font-size="10">200</text>
<text x="176.7" y="569.0" text-anchor="middle" font-size="10">400</text>
<text x="244.1" y="569.0" text-anchor="middle" font-size="10">600</text>
<text x="311.6" y="569.0" text-anchor="middle" font-size="10">800</text>
<path d="M53.0,553.3H55.3 M50.3,532.1H55.3 M53.0,510.9H55.3 M50.3,489.7H55.3 M53.0,468.5H55.3 M50.3,447.3H55.3 M53.0,426.1H55.3 M50.3,404.9H55.3 M53.0,383.7H55.3 M50.3,362.5H55.3 M53.0,341.3H55.3 M50.3,320.1H55.3 M75.5,553.3V555.6 M109.3,553.3V558.3 M143.0,553.3V555.6 M176.7,553.3V558.3 M210.4,553.3V555.6 M244.1,553.3V558.3 M277.9,553.3V555.6 M311.6,553.3V558.3 M345.3,553.3V555.6" stroke="#2e2e2e" stroke-width="1.0" fill="none"/>
<text x="69.5" y="342.8" font-size="14">b</text>
<path d="M213.6,332.3H240.5" stroke="#000000" stroke-width="2.7" stroke-linecap="round"/>
<text x="244.6" y="336.6" font-size="12">Non-catalyst</text>
<path d="M213.6,347.2H240.5" stroke="#e01010" stroke-width="2.7" stroke-linecap="round"/>
<text x="244.6" y="351.5" font-size="12">CaO:stover=1:20</text>
<path d="M213.6,362.1H240.5" stroke="#0c0cd8" stroke-width="2.7" stroke-linecap="round"/>
<text x="244.6" y="366.4" font-size="12">CaO:stover=1:10</text>
<path d="M213.6,377.1H240.5" stroke="#e820e8" stroke-width="2.7" stroke-linecap="round"/>
<text x="244.6" y="381.4" font-size="12">CaO:stover=1:5</text>
<path d="M213.6,392.0H240.5" stroke="#0c7c0c" stroke-width="2.7" stroke-linecap="round"/>
<text x="244.6" y="396.3" font-size="12">CaO:stover=1:2</text>
<path d="M213.6,406.9H240.5" stroke="#07076a" stroke-width="2.7" stroke-linecap="round"/>
<text x="244.6" y="411.2" font-size="12">CaO:stover=1:1</text>
<text x="155.6" y="587.3" font-size="12.25">Temperature(</text>
<circle cx="231.0" cy="579.4" r="0.8" fill="none" stroke="#555" stroke-width="0.7"/>
<text x="231.8" y="587.3" font-size="12.4" fill="#5a5a5a" style="stroke:none">C</text>
<text x="241.3" y="587.3" font-size="12">)</text>
<text x="200.3" y="602.6" text-anchor="middle" font-size="12">CO<tspan font-size="7.5" dy="4.6">2</tspan><tspan dy="-4.6"></tspan></text>
<text x="0" y="0" transform="translate(14.8,430.4) rotate(-90)" text-anchor="middle" font-size="12">Absorbance</text>
<clipPath id="clipc"><rect x="438.3" y="320.0" width="290.2" height="233.70000000000005"/></clipPath>
<g clip-path="url(#clipc)" fill="none" stroke-width="3" stroke-linejoin="round" stroke-linecap="round">
<path d="M438.1,530.8C438.6,529.1 440.0,524.3 441.2,520.5C442.4,516.8 443.9,512.0 445.3,508.2C446.7,504.4 448.0,501.0 449.4,497.9C450.8,494.8 452.3,493.4 453.5,489.7C454.7,485.9 455.6,479.2 456.6,475.3C457.6,471.3 458.9,467.6 459.7,466.0C460.5,464.4 460.7,465.9 461.2,465.6C461.7,465.3 462.3,464.6 462.8,464.0C463.3,463.4 463.8,462.3 464.3,462.0C464.8,461.7 465.1,461.1 465.9,461.9C466.6,462.7 467.9,465.2 469.0,467.0C470.0,468.9 471.0,471.5 472.0,473.2C473.1,474.9 474.1,478.2 475.1,477.3C476.2,476.5 477.2,468.4 478.2,468.1C479.2,467.7 480.5,474.0 481.3,475.3C482.1,476.6 482.3,475.5 482.8,475.8C483.4,476.2 483.6,478.4 484.4,477.3C485.2,476.2 486.7,470.6 487.5,469.1C488.2,467.6 488.5,468.3 489.0,468.2C489.5,468.0 490.0,467.9 490.6,468.1C491.1,468.2 491.6,468.6 492.1,469.1C492.6,469.6 493.1,470.6 493.6,471.2C494.2,471.7 494.7,471.7 495.2,472.2C495.7,472.7 495.8,474.9 496.7,474.2C497.7,473.5 499.5,468.2 500.8,468.1C502.2,467.9 504.0,472.2 505.0,473.2C505.9,474.2 505.9,473.8 506.3,473.9C506.8,474.0 507.2,473.5 507.7,473.7C508.2,473.9 508.6,474.9 509.1,475.3C509.6,475.6 510.1,475.8 510.6,475.7C511.1,475.5 511.6,476.4 512.2,474.2C512.8,472.1 513.5,466.5 514.2,462.9C514.9,459.3 515.6,455.7 516.3,452.6C517.0,449.5 517.5,446.5 518.3,444.4C519.2,442.3 520.5,442.3 521.5,440.0C522.5,437.7 523.4,433.1 524.4,430.8C525.4,428.5 526.6,427.1 527.3,426.0C528.0,424.9 528.3,424.5 528.8,424.1C529.2,423.7 529.8,423.8 530.2,423.6C530.6,423.4 530.9,424.2 531.3,423.0C531.7,421.8 532.1,419.9 532.6,416.4C533.1,412.9 533.5,407.6 534.0,402.0C534.5,396.4 535.3,388.4 535.9,382.8C536.5,377.2 537.3,371.8 537.8,368.4C538.3,365.0 538.5,363.9 538.8,362.6C539.1,361.3 539.5,360.7 539.8,360.7C540.1,360.7 540.4,361.3 540.7,362.6C541.0,363.9 541.3,365.0 541.7,368.4C542.1,371.8 542.6,378.0 543.1,382.8C543.6,387.6 544.1,392.4 544.6,397.2C545.1,402.0 545.5,406.8 546.0,411.6C546.5,416.4 547.0,421.3 547.4,426.0C547.8,430.7 548.1,436.1 548.4,440.0C548.7,443.9 548.5,446.5 549.3,449.4C550.0,452.2 551.6,454.4 552.9,457.1C554.2,459.9 556.0,463.0 557.3,465.9C558.6,468.8 559.6,472.2 560.6,474.6C561.6,477.0 562.4,480.1 563.3,480.1C564.2,480.1 565.1,476.2 566.1,474.6C567.1,473.0 568.6,471.2 569.4,470.3C570.2,469.4 570.4,469.4 570.9,469.3C571.4,469.1 571.8,469.6 572.3,469.4C572.8,469.2 573.3,468.1 573.8,468.1C574.3,468.1 574.9,469.1 575.5,469.3C576.0,469.5 576.5,469.1 577.1,469.2C577.7,469.3 578.4,469.9 579.1,470.0C579.8,470.2 580.4,470.1 581.1,470.2C581.7,470.4 582.2,469.1 583.1,470.9C583.9,472.7 585.4,479.7 586.1,481.1C586.9,482.5 587.0,479.6 587.5,479.5C587.9,479.4 588.4,480.6 588.9,480.6C589.3,480.5 589.3,478.3 590.2,479.1C591.1,479.8 593.4,484.4 594.3,485.2C595.2,486.0 595.2,484.2 595.7,484.1C596.1,483.9 596.6,484.4 597.0,484.1C597.5,483.8 597.5,481.6 598.4,482.1C599.3,482.6 601.1,485.0 602.5,487.2C603.8,489.4 605.7,494.0 606.6,495.4C607.5,496.8 607.5,495.4 607.9,495.8C608.4,496.2 608.8,497.3 609.3,497.9C609.8,498.6 610.2,499.0 610.7,499.5C611.1,500.0 611.6,500.4 612.0,500.8C612.5,501.2 612.9,501.4 613.4,501.9C613.8,502.3 613.8,504.3 614.7,503.6C615.7,502.8 617.5,496.8 618.8,497.4C620.2,498.1 621.6,507.0 622.9,507.7C624.3,508.3 626.1,502.5 627.0,501.5C627.9,500.6 627.9,502.0 628.4,502.1C628.8,502.2 629.3,502.2 629.7,502.1C630.2,502.0 630.2,502.7 631.1,501.5C632.0,500.4 633.8,497.8 635.2,495.4C636.5,493.0 638.4,488.8 639.3,487.2C640.2,485.7 640.2,486.3 640.6,486.1C641.1,485.9 641.5,486.3 642.0,486.1C642.5,485.9 642.9,485.7 643.4,485.2C643.8,484.7 644.3,483.6 644.7,483.2C645.2,482.8 645.6,483.1 646.1,482.7C646.5,482.4 647.0,481.3 647.4,481.1C647.9,480.9 648.4,481.4 648.8,481.5C649.3,481.5 649.7,481.4 650.2,481.3C650.6,481.3 651.1,481.0 651.5,481.1C652.0,481.2 652.4,481.4 652.9,481.9C653.4,482.5 653.8,483.7 654.3,484.2C654.7,484.8 655.2,485.4 655.6,485.2C656.1,485.0 656.5,483.6 657.0,483.0C657.4,482.3 657.9,481.8 658.3,481.5C658.8,481.2 659.3,481.3 659.7,481.1C660.2,480.9 660.6,480.8 661.1,480.2C661.5,479.6 662.0,478.0 662.4,477.5C662.9,477.0 663.1,477.8 663.8,477.0C664.5,476.2 665.8,475.3 666.9,472.9C667.9,470.5 669.2,464.6 669.9,462.7C670.7,460.8 671.0,462.1 671.5,461.8C672.0,461.4 672.2,460.2 673.0,460.7C673.8,461.2 675.0,463.0 676.1,464.7C677.1,466.4 678.4,469.7 679.1,470.9C679.9,472.1 680.2,471.6 680.7,471.9C681.2,472.3 681.7,472.6 682.2,472.9C682.7,473.2 683.1,473.6 683.6,473.7C684.0,473.8 684.5,473.4 684.9,473.6C685.4,473.8 685.5,473.7 686.3,475.0C687.0,476.2 688.3,478.7 689.3,481.1C690.4,483.5 691.6,487.9 692.4,489.3C693.2,490.6 693.4,489.2 693.9,489.2C694.5,489.2 694.7,490.3 695.5,489.3C696.2,488.3 697.4,485.2 698.5,483.1C699.7,481.1 701.7,478.3 702.6,477.0C703.5,475.7 703.5,475.8 704.0,475.5C704.5,475.2 704.9,475.6 705.4,475.2C705.8,474.7 705.8,472.3 706.7,472.9C707.6,473.6 709.9,477.7 710.8,479.1C711.7,480.4 711.8,480.7 712.3,481.1C712.9,481.4 713.4,481.2 713.9,481.1C714.4,481.0 714.8,480.7 715.2,480.2C715.7,479.6 716.1,478.4 716.6,477.9C717.1,477.4 717.5,477.1 718.0,477.0C718.4,476.9 718.9,477.3 719.3,477.2C719.8,477.0 720.2,476.5 720.7,476.1C721.1,475.8 721.3,475.8 722.1,475.0C722.8,474.1 724.4,471.8 725.1,470.9C725.8,470.0 726.0,469.8 726.4,469.4C726.8,469.1 727.3,468.9 727.7,468.8C728.1,468.7 728.8,468.8 729.0,468.8" stroke="#000000"/>
<path d="M438.1,506.1C438.6,506.8 440.0,508.5 441.2,510.2C442.4,512.0 444.4,515.3 445.3,516.4C446.2,517.6 446.2,516.6 446.7,517.1C447.1,517.6 447.6,518.9 448.0,519.5C448.5,520.0 448.9,520.5 449.4,520.5C449.9,520.5 450.3,519.6 450.8,519.4C451.2,519.3 451.7,519.9 452.1,519.7C452.6,519.6 452.6,520.4 453.5,518.5C454.4,516.6 456.3,510.9 457.6,508.2C459.0,505.4 460.8,503.2 461.7,502.0C462.7,500.9 462.7,501.7 463.1,501.3C463.6,500.9 464.0,500.2 464.5,499.7C464.9,499.1 465.1,498.9 465.9,497.9C466.6,496.9 468.2,494.2 469.0,493.8C469.7,493.4 470.0,495.1 470.5,495.4C471.0,495.7 471.6,495.6 472.0,495.8C472.5,496.1 473.0,496.5 473.4,497.1C473.9,497.7 474.3,499.0 474.8,499.5C475.2,500.0 475.4,500.9 476.2,500.0C476.9,499.0 478.5,495.0 479.2,493.8C480.0,492.5 480.3,492.8 480.8,492.5C481.3,492.2 481.8,491.8 482.3,491.7C482.8,491.6 483.2,491.5 483.7,491.8C484.2,492.1 484.6,493.2 485.1,493.5C485.5,493.9 486.0,493.6 486.4,493.8C486.9,494.0 487.4,494.2 487.8,494.6C488.3,495.0 488.7,495.8 489.2,496.0C489.6,496.2 489.6,497.2 490.6,495.8C491.5,494.4 493.7,489.1 494.7,487.6C495.6,486.1 495.7,487.1 496.2,486.7C496.7,486.4 497.0,484.7 497.8,485.6C498.5,486.4 500.1,490.8 500.8,491.7C501.6,492.7 501.8,491.2 502.2,491.1C502.7,490.9 503.1,490.7 503.6,490.8C504.0,490.9 504.5,491.8 505.0,491.7C505.4,491.7 505.9,490.7 506.3,490.6C506.8,490.5 507.2,491.3 507.7,491.1C508.2,490.9 508.2,491.3 509.1,489.7C510.0,488.1 512.0,483.5 513.2,481.4C514.4,479.4 515.5,478.3 516.3,477.3C517.0,476.3 517.2,475.9 517.6,475.5C518.1,475.1 518.6,475.4 519.0,475.0C519.5,474.6 519.6,474.5 520.4,473.2C521.1,471.9 522.4,469.4 523.5,467.0C524.5,464.6 525.5,462.9 526.6,458.8C527.6,454.7 528.4,446.2 529.7,442.3C530.9,438.5 533.1,439.9 534.0,435.6C534.9,431.3 534.8,422.8 535.2,416.4C535.6,410.0 536.0,404.4 536.4,397.2C536.9,390.0 537.4,380.4 537.8,373.2C538.2,366.0 538.5,358.3 538.8,354.0C539.1,349.7 539.4,348.7 539.8,347.3C540.1,345.8 540.4,345.2 540.7,345.4C541.1,345.5 541.5,346.8 541.9,348.2C542.3,349.7 542.7,350.6 543.1,354.0C543.6,357.4 544.1,362.8 544.6,368.4C545.0,374.0 545.5,381.2 546.0,387.6C546.5,394.0 547.0,400.4 547.4,406.8C547.8,413.2 548.2,420.5 548.4,426.0C548.6,431.6 548.8,431.8 548.9,440.0C549.0,448.2 548.8,467.7 549.2,475.3C549.6,482.9 550.6,483.2 551.3,485.6C551.9,488.0 552.7,488.9 553.3,489.7C553.9,490.5 554.3,490.0 554.9,490.4C555.4,490.7 555.9,491.3 556.4,491.7C556.9,492.2 557.4,492.6 557.9,492.9C558.5,493.3 558.7,494.3 559.5,493.8C560.3,493.2 561.8,490.2 562.6,489.7C563.3,489.2 563.5,490.6 563.9,490.7C564.4,490.8 564.9,490.2 565.3,490.3C565.8,490.5 566.2,491.2 566.7,491.7C567.1,492.2 567.6,492.9 568.1,493.2C568.5,493.6 569.0,493.6 569.4,493.7C569.9,493.8 570.3,493.7 570.8,493.8C571.3,493.9 571.7,493.9 572.2,494.2C572.6,494.5 573.1,495.2 573.5,495.5C574.0,495.8 574.5,495.4 574.9,495.8C575.4,496.3 575.8,497.5 576.3,498.0C576.7,498.4 577.2,498.2 577.7,498.5C578.1,498.9 578.3,498.8 579.0,500.0C579.8,501.1 581.0,503.7 582.0,505.6C583.1,507.6 584.3,510.7 585.1,511.8C585.9,512.8 586.1,512.0 586.6,511.7C587.2,511.4 587.7,509.8 588.2,509.7C588.7,509.6 589.1,510.9 589.5,511.2C590.0,511.6 590.4,511.5 590.9,511.9C591.4,512.4 591.8,513.5 592.3,513.8C592.7,514.1 593.2,513.7 593.6,513.8C594.1,514.0 594.5,514.4 595.0,514.7C595.4,515.0 595.9,515.5 596.4,515.8C596.8,516.2 597.3,516.4 597.7,516.8C598.2,517.2 598.6,518.0 599.1,518.2C599.5,518.4 600.0,517.7 600.4,517.9C600.9,518.1 601.3,519.1 601.8,519.4C602.3,519.7 602.7,519.7 603.2,519.8C603.6,519.9 604.1,520.0 604.5,519.9C605.0,519.9 605.4,519.6 605.9,519.5C606.3,519.4 606.8,519.6 607.3,519.3C607.7,519.0 608.2,518.0 608.6,517.9C609.1,517.8 609.5,518.3 610.0,518.5C610.4,518.8 610.9,519.2 611.3,519.4C611.8,519.6 611.8,518.8 612.7,519.9C613.6,521.0 615.9,525.0 616.8,526.1C617.7,527.2 617.8,526.2 618.3,526.6C618.8,526.9 619.1,528.9 619.9,528.1C620.6,527.3 621.7,524.0 622.9,522.0C624.1,519.9 626.1,517.0 627.0,515.8C627.9,514.7 627.9,515.6 628.4,515.1C628.8,514.5 629.3,513.0 629.7,512.4C630.2,511.9 630.6,512.0 631.1,511.8C631.6,511.5 632.0,511.3 632.5,511.0C632.9,510.6 633.4,510.2 633.8,509.6C634.3,509.0 634.7,508.1 635.2,507.7C635.6,507.2 636.1,507.4 636.5,506.8C637.0,506.2 637.5,504.5 637.9,504.0C638.4,503.4 638.4,504.7 639.3,503.6C640.2,502.5 642.4,498.2 643.4,497.4C644.3,496.7 644.4,499.0 644.9,499.3C645.4,499.7 645.7,498.8 646.4,499.5C647.2,500.2 648.3,501.5 649.5,503.6C650.7,505.6 652.7,510.5 653.6,511.8C654.5,513.0 654.5,510.8 654.9,511.0C655.4,511.2 655.9,512.6 656.3,512.7C656.8,512.8 657.2,511.7 657.7,511.8C658.1,511.8 658.6,512.9 659.0,513.2C659.5,513.5 659.9,513.1 660.4,513.6C660.8,514.0 661.3,515.7 661.8,515.8C662.2,516.0 662.7,514.7 663.1,514.4C663.6,514.1 664.0,514.2 664.5,514.1C664.9,514.0 665.4,514.1 665.8,513.8C666.3,513.5 666.8,512.8 667.2,512.4C667.7,512.0 668.1,511.7 668.6,511.2C669.0,510.8 669.5,509.9 669.9,509.7C670.4,509.5 670.8,509.7 671.3,509.9C671.7,510.1 672.2,510.6 672.7,510.9C673.1,511.2 673.6,511.5 674.0,511.8C674.5,512.0 674.9,512.4 675.4,512.5C675.8,512.7 676.3,512.3 676.7,512.5C677.2,512.7 677.7,513.5 678.1,513.8C678.6,514.1 679.0,514.3 679.5,514.5C679.9,514.7 680.4,514.8 680.8,515.0C681.3,515.2 681.7,515.6 682.2,515.8C682.6,516.1 683.1,516.4 683.6,516.6C684.0,516.7 684.5,516.9 684.9,516.8C685.4,516.7 685.8,515.9 686.3,515.8C686.7,515.8 687.2,516.0 687.6,516.3C688.1,516.5 688.6,517.1 689.0,517.4C689.5,517.7 689.9,517.6 690.4,517.9C690.8,518.2 691.3,519.2 691.7,519.3C692.2,519.4 692.6,518.4 693.1,518.5C693.5,518.6 694.0,519.8 694.5,519.9C694.9,520.1 695.4,519.5 695.8,519.4C696.3,519.3 696.7,519.3 697.2,519.4C697.6,519.5 698.1,519.9 698.5,519.9C699.0,520.0 699.5,519.6 699.9,519.6C700.4,519.6 700.8,520.0 701.3,520.2C701.7,520.4 702.2,520.9 702.6,521.0C703.1,521.0 703.5,520.5 704.0,520.3C704.5,520.0 704.9,519.7 705.4,519.6C705.8,519.6 706.3,520.1 706.7,519.9C707.2,519.8 707.6,518.9 708.1,518.8C708.5,518.7 709.0,519.3 709.4,519.2C709.9,519.0 710.4,518.3 710.8,517.9C711.3,517.5 711.7,517.5 712.2,517.0C712.6,516.5 713.1,515.4 713.5,514.8C714.0,514.3 714.4,513.7 714.9,513.8C715.4,513.9 715.8,515.1 716.3,515.4C716.7,515.8 717.2,515.8 717.6,515.9C718.1,515.9 718.5,516.2 719.0,515.8C719.4,515.5 719.9,514.3 720.3,513.8C720.8,513.3 721.3,513.2 721.7,512.8C722.2,512.5 722.5,511.9 723.1,511.8C723.6,511.6 724.4,511.9 725.0,511.7C725.7,511.6 726.4,510.9 727.0,510.6C727.7,510.3 728.7,509.9 729.0,509.7" stroke="#e01010"/>
<path d="M438.1,495.8C438.6,496.9 440.4,500.7 441.2,502.0C441.9,503.3 442.1,503.5 442.5,503.7C443.0,503.8 443.5,503.0 443.9,503.1C444.4,503.2 444.8,504.0 445.3,504.1C445.7,504.1 446.2,503.7 446.7,503.4C447.1,503.1 447.6,502.7 448.0,502.2C448.5,501.6 448.9,500.2 449.4,500.0C449.9,499.7 450.3,500.1 450.8,500.6C451.2,501.1 451.7,502.6 452.1,503.0C452.6,503.4 453.1,503.0 453.5,503.0C454.0,503.1 454.4,503.3 454.9,503.0C455.3,502.7 455.8,501.7 456.3,501.4C456.7,501.0 456.7,501.9 457.6,501.0C458.5,500.1 460.5,496.0 461.7,495.8C462.9,495.7 463.8,497.9 464.8,500.0C465.9,502.0 466.9,505.8 467.9,508.2C469.0,510.6 470.0,514.4 471.0,514.4C472.0,514.4 473.4,509.1 474.1,508.2C474.8,507.3 475.0,508.3 475.5,508.8C475.9,509.2 476.4,510.2 476.8,510.8C477.3,511.4 477.3,513.1 478.2,512.3C479.1,511.5 481.4,507.2 482.3,506.1C483.2,505.1 483.2,506.0 483.7,506.1C484.2,506.1 484.6,506.2 485.1,506.6C485.5,506.9 486.0,508.1 486.4,508.2C486.9,508.3 487.4,507.3 487.8,507.2C488.3,507.0 488.7,507.5 489.2,507.4C489.6,507.2 490.1,506.2 490.6,506.1C491.0,506.1 491.5,506.7 491.9,507.1C492.4,507.5 492.8,508.3 493.3,508.5C493.8,508.6 494.2,508.3 494.7,508.2C495.1,508.1 495.6,508.1 496.0,507.9C496.5,507.7 497.0,507.3 497.4,507.0C497.9,506.7 498.3,506.6 498.8,506.1C499.2,505.7 499.7,504.6 500.2,504.3C500.6,504.0 501.1,504.6 501.5,504.2C502.0,503.8 502.4,502.0 502.9,502.0C503.4,502.0 503.9,503.8 504.4,504.3C505.0,504.8 505.2,506.5 506.0,505.1C506.8,503.7 507.9,498.4 509.1,495.8C510.3,493.3 511.8,491.7 513.2,489.7C514.6,487.6 516.4,484.7 517.3,483.5C518.2,482.3 518.2,482.5 518.7,482.3C519.1,482.1 519.6,482.3 520.0,482.2C520.5,482.0 520.5,484.0 521.4,481.4C522.3,478.9 524.3,472.2 525.5,467.0C526.7,461.9 527.8,455.1 528.6,450.6C529.4,446.1 529.7,443.3 530.2,440.0C530.6,436.7 530.7,434.8 531.1,430.8C531.5,426.9 532.1,421.2 532.6,416.4C533.0,411.6 533.4,407.6 534.0,402.0C534.6,396.4 535.3,388.4 535.9,382.8C536.6,377.2 537.4,371.8 537.8,368.4C538.3,365.0 538.5,363.9 538.8,362.6C539.1,361.4 539.4,360.7 539.8,360.7C540.1,360.7 540.4,361.4 540.7,362.6C541.0,363.9 541.3,365.0 541.7,368.4C542.1,371.8 542.6,378.0 543.1,382.8C543.6,387.6 544.1,392.4 544.6,397.2C545.0,402.0 545.5,406.8 546.0,411.6C546.5,416.4 547.0,421.3 547.4,426.0C547.8,430.8 547.9,432.2 548.4,440.0C548.9,447.9 549.4,466.7 550.2,473.2C551.0,479.8 552.5,478.1 553.3,479.4C554.1,480.6 554.3,480.4 554.9,480.7C555.4,481.0 555.8,482.0 556.4,481.4C557.0,480.9 557.6,479.0 558.5,477.3C559.3,475.6 560.8,472.0 561.5,471.2C562.3,470.3 562.6,471.9 563.1,472.2C563.6,472.6 563.9,471.7 564.6,473.2C565.4,474.7 566.7,479.4 567.7,481.4C568.7,483.5 570.1,484.7 570.8,485.6C571.5,486.4 571.7,486.4 572.2,486.7C572.6,487.0 573.1,486.8 573.5,487.3C574.0,487.8 574.0,488.2 574.9,489.7C575.8,491.1 578.1,495.1 579.0,495.8C580.0,496.6 580.2,494.5 580.7,494.0C581.3,493.5 581.8,493.2 582.4,492.8C583.0,492.4 583.6,491.5 584.1,491.3C584.6,491.2 585.0,492.1 585.5,491.9C585.9,491.7 586.4,490.4 586.8,490.1C587.3,489.9 587.4,489.4 588.2,490.3C588.9,491.2 590.5,494.4 591.2,495.4C592.0,496.4 592.1,496.3 592.6,496.5C593.1,496.7 593.5,496.4 594.0,496.5C594.4,496.7 594.6,496.3 595.3,497.4C596.1,498.6 597.4,501.5 598.4,503.6C599.4,505.6 600.4,507.8 601.5,509.7C602.5,511.6 603.8,514.3 604.5,514.8C605.3,515.4 605.4,513.2 605.9,512.9C606.3,512.6 606.8,512.9 607.3,512.7C607.7,512.6 607.7,512.9 608.6,511.8C609.5,510.6 611.5,505.6 612.7,505.6C613.9,505.6 614.7,510.1 615.8,511.8C616.8,513.5 617.8,516.5 618.8,515.8C619.9,515.2 620.9,509.7 621.9,507.7C622.9,505.6 624.2,504.2 625.0,503.6C625.7,502.9 625.9,503.9 626.3,503.8C626.8,503.6 627.2,503.0 627.7,502.7C628.1,502.3 628.6,502.0 629.1,501.5C629.5,501.1 630.0,500.1 630.4,499.8C630.9,499.5 631.3,499.9 631.8,499.6C632.2,499.2 632.2,498.8 633.1,497.4C634.0,496.1 636.3,492.5 637.2,491.3C638.1,490.2 638.1,491.2 638.6,490.6C639.0,490.0 639.5,488.5 640.0,488.0C640.4,487.4 640.4,488.4 641.3,487.2C642.2,486.1 644.5,482.4 645.4,481.1C646.3,479.8 646.3,479.7 646.8,479.5C647.2,479.3 647.7,480.0 648.1,480.0C648.6,479.9 648.6,478.2 649.5,479.1C650.4,479.9 652.4,482.8 653.6,485.2C654.8,487.6 655.6,491.3 656.6,493.4C657.7,495.4 658.5,495.1 659.7,497.4C660.9,499.8 662.9,505.8 663.8,507.7C664.7,509.6 664.7,508.5 665.2,508.9C665.6,509.4 666.1,510.1 666.5,510.6C667.0,511.1 667.4,511.8 667.9,511.8C668.3,511.8 668.8,511.0 669.3,510.6C669.7,510.3 670.2,510.2 670.6,509.7C671.1,509.2 671.5,508.3 672.0,507.7C672.4,507.1 672.9,506.4 673.3,506.1C673.8,505.8 674.2,505.7 674.7,505.6C675.2,505.5 675.6,505.7 676.1,505.6C676.5,505.5 677.0,504.8 677.4,504.9C677.9,505.0 678.3,506.2 678.8,506.3C679.2,506.4 679.2,507.1 680.2,505.6C681.1,504.1 683.3,498.9 684.2,497.4C685.1,496.0 685.1,497.4 685.6,496.9C686.1,496.3 686.5,494.9 687.0,494.3C687.4,493.7 687.6,492.2 688.3,493.4C689.1,494.6 690.7,500.1 691.4,501.5C692.1,502.9 692.3,501.4 692.8,501.8C693.2,502.2 693.7,503.5 694.1,503.8C694.6,504.1 695.0,503.9 695.5,503.6C695.9,503.2 696.4,502.0 696.8,501.6C697.3,501.3 697.8,501.9 698.2,501.6C698.7,501.2 699.1,499.9 699.6,499.5C700.0,499.1 700.5,499.3 700.9,499.2C701.4,499.1 701.8,499.3 702.3,499.0C702.7,498.7 703.2,497.8 703.7,497.4C704.1,497.1 704.6,497.2 705.0,497.0C705.5,496.9 705.9,496.6 706.4,496.4C706.8,496.1 706.8,494.5 707.7,495.4C708.7,496.3 710.9,500.4 711.8,501.5C712.7,502.7 712.7,501.8 713.2,502.4C713.6,502.9 714.1,504.2 714.6,504.7C715.0,505.3 715.4,505.6 715.9,505.6C716.4,505.6 717.1,505.2 717.6,504.6C718.2,504.1 718.8,502.7 719.3,502.2C719.9,501.7 720.5,501.7 721.0,501.5C721.5,501.4 721.9,501.4 722.4,501.3C722.8,501.3 723.3,501.3 723.8,501.4C724.2,501.4 724.2,500.1 725.1,501.5C726.0,502.9 728.4,508.3 729.0,509.7" stroke="#0c0cd8"/>
<path d="M438.1,516.4C438.3,516.5 439.0,516.6 439.5,516.9C439.9,517.2 440.4,517.7 440.8,518.3C441.3,518.9 441.7,519.9 442.2,520.5C442.7,521.1 443.1,521.5 443.6,522.0C444.0,522.5 444.5,523.1 444.9,523.5C445.4,523.9 445.4,525.5 446.3,524.7C447.2,523.8 449.1,520.5 450.4,518.5C451.8,516.4 453.6,513.2 454.5,512.3C455.5,511.4 455.5,512.5 455.9,513.1C456.4,513.7 456.8,515.3 457.3,515.8C457.7,516.4 458.2,516.1 458.7,516.4C459.1,516.7 459.6,517.3 460.0,517.7C460.5,518.0 460.9,518.3 461.4,518.8C461.9,519.3 462.3,520.4 462.8,520.5C463.2,520.6 463.7,519.9 464.1,519.4C464.6,518.9 465.1,518.1 465.5,517.6C466.0,517.1 466.4,516.6 466.9,516.4C467.4,516.3 467.8,516.3 468.3,516.6C468.7,516.9 469.2,518.1 469.6,518.4C470.1,518.7 470.6,518.5 471.0,518.5C471.5,518.5 471.9,518.1 472.4,518.2C472.8,518.4 473.3,518.9 473.8,519.3C474.2,519.7 474.7,520.7 475.1,520.5C475.6,520.4 476.0,519.0 476.5,518.6C477.0,518.1 477.4,518.3 477.9,517.9C478.3,517.6 478.8,517.1 479.2,516.4C479.7,515.8 480.2,514.4 480.6,514.1C481.1,513.8 481.5,514.8 482.0,514.5C482.4,514.2 482.9,512.8 483.4,512.3C483.8,511.8 484.3,511.8 484.7,511.2C485.2,510.6 485.6,509.2 486.1,508.7C486.6,508.2 486.7,509.6 487.5,508.2C488.2,506.7 489.5,500.3 490.6,500.0C491.6,499.6 492.6,503.7 493.6,506.1C494.7,508.5 496.0,513.2 496.7,514.4C497.5,515.5 497.6,513.6 498.1,513.2C498.6,512.8 499.0,512.6 499.5,512.1C499.9,511.6 500.4,510.7 500.8,510.2C501.3,509.8 501.8,509.4 502.2,509.2C502.7,509.1 503.1,509.6 503.6,509.4C504.0,509.3 504.5,508.5 505.0,508.2C505.4,507.9 505.9,507.9 506.3,507.5C506.8,507.1 507.2,506.4 507.7,505.9C508.2,505.3 508.2,505.4 509.1,504.1C510.0,502.7 512.3,498.7 513.2,497.9C514.1,497.2 514.1,499.3 514.6,499.6C515.0,499.9 515.5,499.7 515.9,499.8C516.4,499.9 516.4,501.3 517.3,500.0C518.2,498.6 520.2,495.8 521.4,491.7C522.6,487.6 522.8,483.9 524.5,475.3C526.2,466.7 530.3,446.6 531.6,440.0C532.9,433.4 531.7,438.0 532.1,435.6C532.5,433.3 533.4,429.2 534.0,426.0C534.6,422.8 535.3,419.6 535.9,416.4C536.6,413.2 537.4,409.1 537.8,406.8C538.3,404.6 538.5,403.9 538.8,403.0C539.1,402.1 539.4,401.5 539.8,401.5C540.1,401.5 540.4,402.1 540.7,403.0C541.0,403.9 541.3,404.6 541.7,406.8C542.1,409.1 542.7,413.2 543.1,416.4C543.5,419.6 543.8,422.1 544.1,426.0C544.4,430.0 543.9,427.7 545.0,440.0C546.2,452.4 549.9,489.3 551.3,500.0C552.6,510.6 552.5,502.7 553.3,504.1C554.2,505.4 555.7,507.3 556.4,508.2C557.1,509.0 557.3,508.6 557.8,509.1C558.2,509.6 558.7,510.6 559.1,511.2C559.6,511.7 560.1,512.4 560.5,512.3C561.0,512.2 561.4,511.1 561.9,510.7C562.3,510.4 562.8,510.6 563.3,510.2C563.7,509.8 563.7,507.2 564.6,508.2C565.5,509.2 567.4,513.7 568.7,516.4C570.1,519.2 571.9,523.0 572.9,524.7C573.8,526.3 573.9,525.8 574.4,526.2C574.9,526.5 575.2,528.3 575.9,526.7C576.7,525.1 577.7,519.3 579.0,516.4C580.4,513.6 583.0,511.0 584.1,509.7C585.2,508.4 585.0,509.0 585.5,508.7C585.9,508.4 586.4,508.2 586.8,508.0C587.3,507.9 587.7,507.5 588.2,507.7C588.6,507.8 589.1,508.7 589.5,508.9C590.0,509.0 590.4,508.3 590.9,508.5C591.4,508.6 591.4,508.5 592.3,509.7C593.2,510.9 595.4,514.5 596.4,515.8C597.3,517.2 597.3,517.3 597.7,517.6C598.2,517.9 598.6,517.3 599.1,517.7C599.5,518.1 600.0,519.8 600.4,519.9C600.9,520.1 601.3,518.6 601.8,518.5C602.3,518.4 602.7,519.4 603.2,519.3C603.6,519.2 604.1,518.4 604.5,517.9C605.0,517.4 605.4,517.1 605.9,516.5C606.3,515.8 606.8,514.6 607.3,514.2C607.7,513.7 608.2,513.8 608.6,513.8C609.1,513.8 609.5,514.1 610.0,514.4C610.4,514.6 610.9,515.1 611.3,515.3C611.8,515.6 611.8,514.7 612.7,515.8C613.6,516.9 615.9,521.1 616.8,522.0C617.7,522.8 617.7,521.3 618.2,521.0C618.6,520.6 619.1,520.1 619.5,520.0C620.0,519.8 620.0,521.3 620.9,519.9C621.8,518.6 624.1,513.0 625.0,511.8C625.9,510.5 625.9,512.0 626.3,512.2C626.8,512.3 627.2,512.5 627.7,512.8C628.1,513.1 628.6,513.9 629.1,513.8C629.5,513.7 630.0,512.4 630.4,512.2C630.9,512.0 631.3,512.6 631.8,512.5C632.2,512.4 632.7,512.1 633.1,511.8C633.6,511.4 634.0,511.1 634.5,510.6C635.0,510.2 635.4,509.5 635.9,509.0C636.3,508.5 636.8,508.0 637.2,507.7C637.7,507.4 638.1,507.5 638.6,507.1C639.0,506.8 639.5,506.0 640.0,505.4C640.4,504.8 640.9,503.9 641.3,503.6C641.8,503.2 642.2,503.0 642.7,503.3C643.1,503.6 643.6,505.1 644.0,505.5C644.5,505.8 644.5,504.6 645.4,505.6C646.3,506.7 648.6,511.0 649.5,511.8C650.4,512.5 650.4,510.4 650.9,510.3C651.3,510.1 651.8,510.8 652.2,510.7C652.7,510.6 652.7,508.5 653.6,509.7C654.5,510.9 656.3,515.2 657.7,517.9C659.0,520.6 660.4,526.1 661.8,526.1C663.1,526.1 664.9,519.1 665.8,517.9C666.8,516.7 666.8,518.8 667.2,518.9C667.7,519.0 668.1,518.3 668.6,518.5C669.0,518.7 669.5,519.9 669.9,519.9C670.4,520.0 670.8,519.1 671.3,518.9C671.7,518.7 672.2,518.9 672.7,518.7C673.1,518.6 673.6,517.9 674.0,517.9C674.5,517.9 674.9,518.4 675.4,518.6C675.8,518.8 676.3,519.0 676.7,519.2C677.2,519.4 677.7,520.1 678.1,519.9C678.6,519.7 679.0,518.5 679.5,518.1C679.9,517.7 680.4,518.1 680.8,517.7C681.3,517.3 681.7,516.3 682.2,515.8C682.6,515.4 683.1,514.9 683.6,514.8C684.0,514.7 684.5,515.3 684.9,515.2C685.4,515.0 685.8,514.2 686.3,513.8C686.7,513.4 687.2,513.3 687.6,512.9C688.1,512.5 688.6,511.8 689.0,511.2C689.5,510.7 689.9,510.2 690.4,509.7C690.8,509.3 691.3,508.7 691.7,508.5C692.2,508.2 692.6,508.5 693.1,508.3C693.5,508.2 694.0,507.4 694.5,507.7C694.9,507.9 695.4,509.3 695.8,509.7C696.3,510.2 696.7,510.1 697.2,510.5C697.6,510.8 697.6,510.5 698.5,511.8C699.5,513.0 701.7,517.1 702.6,517.9C703.5,518.7 703.5,516.8 704.0,516.6C704.5,516.4 704.9,516.8 705.4,516.7C705.8,516.6 705.8,515.0 706.7,515.8C707.6,516.7 709.9,521.2 710.8,522.0C711.7,522.7 711.7,520.8 712.2,520.4C712.6,520.0 713.1,519.7 713.5,519.6C714.0,519.5 714.4,519.7 714.9,519.9C715.4,520.1 715.8,520.8 716.3,520.9C716.7,521.1 717.2,520.7 717.6,520.9C718.1,521.1 718.1,522.8 719.0,522.0C719.9,521.1 722.1,516.6 723.1,515.8C724.1,515.0 724.4,517.1 725.0,517.2C725.7,517.3 726.4,516.4 727.0,516.5C727.7,516.6 728.7,517.7 729.0,517.9" stroke="#e820e8"/>
<path d="M438.1,483.5C438.3,483.5 439.0,483.9 439.5,483.7C439.9,483.6 440.4,483.0 440.8,482.6C441.3,482.3 441.5,481.0 442.2,481.4C442.9,481.9 444.3,482.8 445.3,485.6C446.3,488.3 447.3,494.5 448.4,497.9C449.4,501.3 450.7,504.6 451.5,506.1C452.2,507.6 452.4,506.6 452.8,506.9C453.3,507.3 453.7,508.2 454.2,508.4C454.7,508.6 455.1,507.8 455.6,508.2C456.0,508.5 456.5,510.1 456.9,510.5C457.4,510.9 457.9,510.4 458.3,510.7C458.8,511.0 459.2,511.9 459.7,512.3C460.1,512.7 460.6,512.9 461.1,513.0C461.5,513.1 462.0,512.7 462.4,512.9C462.9,513.1 462.9,516.9 463.8,514.4C464.7,511.9 467.0,500.6 467.9,497.9C468.8,495.2 468.8,498.2 469.3,498.4C469.8,498.5 470.2,499.0 470.7,498.9C471.1,498.8 471.6,497.9 472.0,497.9C472.5,497.9 473.0,498.5 473.4,498.8C473.9,499.2 474.3,499.3 474.8,499.8C475.2,500.4 475.7,501.3 476.2,502.0C476.6,502.8 477.1,503.8 477.5,504.3C478.0,504.9 478.4,505.0 478.9,505.3C479.4,505.6 479.4,505.0 480.3,506.1C481.2,507.3 483.0,509.9 484.4,512.3C485.8,514.7 487.3,518.5 488.5,520.5C489.7,522.6 490.8,524.3 491.6,524.7C492.3,525.0 492.5,523.2 493.0,522.9C493.4,522.5 493.9,522.8 494.3,522.4C494.8,522.0 495.2,521.2 495.7,520.5C496.2,519.9 496.6,519.0 497.1,518.4C497.5,517.8 498.0,517.1 498.4,516.8C498.9,516.5 499.4,516.4 499.8,516.4C500.3,516.4 500.7,516.4 501.2,516.6C501.6,516.8 502.1,517.4 502.6,517.7C503.0,518.0 503.0,521.1 503.9,518.5C504.8,515.9 506.8,506.1 508.0,502.0C509.2,497.9 510.1,496.9 511.1,493.8C512.2,490.7 513.2,485.9 514.2,483.5C515.2,481.1 516.6,480.3 517.3,479.4C518.0,478.4 518.2,478.3 518.7,477.8C519.1,477.3 519.6,476.9 520.0,476.5C520.5,476.1 521.0,475.9 521.4,475.3C521.9,474.7 522.3,473.3 522.8,472.9C523.2,472.6 523.7,473.4 524.2,473.1C524.6,472.8 524.6,472.9 525.5,471.2C526.4,469.5 528.3,465.7 529.7,462.9C531.0,460.2 532.6,458.5 533.8,454.7C535.0,450.9 536.2,444.0 536.9,440.0C537.6,436.1 537.5,433.2 537.8,430.8C538.2,428.5 538.5,427.3 538.8,426.0C539.1,424.7 539.4,423.8 539.8,423.1C540.1,422.5 540.4,422.2 540.7,422.2C541.0,422.2 541.4,422.5 541.7,423.1C542.0,423.8 542.3,423.9 542.6,426.0C543.0,428.1 543.4,433.3 543.6,435.6C543.8,438.0 543.2,433.4 544.1,440.0C545.0,446.6 548.0,466.0 549.2,475.3C550.4,484.6 550.7,492.2 551.3,495.8C551.9,499.4 552.3,496.5 552.8,496.8C553.3,497.2 553.9,497.3 554.3,497.9C554.8,498.5 555.3,499.8 555.7,500.3C556.2,500.7 556.6,500.5 557.1,500.8C557.5,501.1 557.7,502.8 558.5,502.0C559.2,501.2 560.8,496.6 561.5,495.8C562.3,495.1 562.5,497.2 562.9,497.5C563.4,497.8 563.8,497.5 564.3,497.9C564.7,498.3 564.7,498.2 565.7,500.0C566.6,501.7 568.8,506.7 569.8,508.2C570.7,509.7 570.9,508.7 571.5,509.0C572.1,509.4 572.6,510.0 573.2,510.5C573.8,511.0 574.4,512.1 574.9,512.3C575.4,512.6 575.8,512.1 576.3,512.0C576.7,511.9 577.2,511.7 577.7,511.8C578.1,511.8 578.5,512.1 579.0,512.3C579.5,512.5 580.2,512.8 580.7,513.0C581.3,513.3 581.8,513.3 582.4,513.7C583.0,514.2 583.1,516.5 584.1,515.8C585.0,515.2 587.3,511.1 588.2,509.7C589.1,508.3 589.1,507.8 589.5,507.4C590.0,506.9 590.4,507.2 590.9,506.9C591.4,506.6 591.4,504.5 592.3,505.6C593.2,506.8 595.0,511.1 596.4,513.8C597.7,516.5 599.2,519.3 600.4,522.0C601.6,524.7 602.5,529.5 603.5,530.2C604.5,530.8 605.4,528.1 606.6,526.1C607.8,524.0 609.8,519.4 610.7,517.9C611.6,516.4 611.6,517.3 612.0,517.2C612.5,517.0 612.9,517.2 613.4,517.0C613.8,516.8 613.8,515.0 614.7,515.8C615.7,516.7 617.5,523.0 618.8,522.0C620.2,521.0 621.6,510.7 622.9,509.7C624.3,508.7 626.1,514.6 627.0,515.8C627.9,517.1 627.9,516.7 628.4,517.0C628.8,517.4 629.3,517.7 629.7,518.1C630.2,518.6 630.2,520.7 631.1,519.9C632.0,519.2 634.3,514.9 635.2,513.8C636.1,512.7 636.1,513.3 636.5,513.2C637.0,513.1 637.5,513.2 637.9,512.9C638.4,512.7 638.4,510.9 639.3,511.8C640.2,512.6 642.0,518.2 643.4,517.9C644.7,517.5 646.1,513.1 647.4,509.7C648.8,506.3 650.6,499.8 651.5,497.4C652.5,495.1 652.6,495.8 653.1,495.5C653.6,495.1 653.8,494.4 654.6,495.4C655.4,496.4 656.6,499.8 657.7,501.5C658.7,503.2 659.7,502.9 660.7,505.6C661.8,508.3 663.1,515.6 663.8,517.9C664.5,520.2 664.7,519.4 665.2,519.5C665.6,519.7 666.1,518.6 666.5,518.7C667.0,518.8 667.4,519.7 667.9,519.9C668.3,520.2 668.8,520.5 669.3,520.2C669.7,519.8 670.2,518.2 670.6,517.8C671.1,517.4 671.5,518.1 672.0,517.9C672.4,517.7 672.9,516.7 673.3,516.5C673.8,516.3 674.2,516.6 674.7,516.5C675.2,516.4 675.6,516.1 676.1,515.8C676.5,515.5 677.0,515.3 677.4,514.7C677.9,514.1 678.3,512.7 678.8,512.2C679.2,511.7 679.7,511.8 680.2,511.8C680.6,511.7 681.1,511.9 681.5,512.0C682.0,512.1 682.4,512.0 682.9,512.3C683.3,512.7 683.3,514.6 684.2,513.8C685.1,513.0 687.4,508.9 688.3,507.7C689.2,506.4 689.2,506.5 689.7,506.4C690.1,506.3 690.6,507.1 691.1,507.0C691.5,506.9 691.5,504.8 692.4,505.6C693.3,506.4 695.6,510.5 696.5,511.8C697.4,513.0 697.4,512.6 697.9,513.1C698.3,513.7 698.8,514.6 699.2,515.1C699.7,515.5 700.1,515.9 700.6,515.8C701.0,515.8 701.5,515.1 702.0,515.0C702.4,514.9 702.9,515.3 703.3,515.1C703.8,514.9 704.2,513.8 704.7,513.8C705.1,513.8 705.6,514.7 706.0,515.1C706.5,515.5 706.9,515.7 707.4,516.2C707.9,516.6 707.9,518.6 708.8,517.9C709.7,517.2 711.9,512.7 712.9,511.8C713.8,510.8 713.8,511.7 714.2,512.0C714.7,512.3 715.1,513.2 715.6,513.5C716.0,513.8 716.0,512.7 716.9,513.8C717.8,514.9 720.1,518.8 721.0,519.9C721.9,521.1 721.9,520.6 722.4,520.7C722.8,520.9 723.3,520.7 723.8,520.9C724.2,521.1 724.7,521.6 725.1,522.0C725.6,522.4 726.0,523.0 726.4,523.2C726.8,523.4 727.3,523.1 727.7,523.3C728.1,523.4 728.8,523.9 729.0,524.0" stroke="#0c7c0c"/>
<path d="M438.1,497.9C438.6,498.9 440.4,502.9 441.2,504.1C441.9,505.2 442.1,504.4 442.5,504.8C443.0,505.2 443.5,505.8 443.9,506.4C444.4,507.0 444.4,506.9 445.3,508.2C446.2,509.5 448.5,513.3 449.4,514.4C450.3,515.4 450.3,514.6 450.8,514.3C451.2,514.0 451.7,512.8 452.1,512.5C452.6,512.2 452.6,513.4 453.5,512.3C454.4,511.2 456.3,508.2 457.6,506.1C459.0,504.1 460.8,500.8 461.7,500.0C462.7,499.1 462.7,500.9 463.1,501.2C463.6,501.5 464.0,501.4 464.5,501.9C464.9,502.4 465.4,503.4 465.9,504.1C466.3,504.7 466.8,505.2 467.2,505.7C467.7,506.3 468.2,507.0 468.6,507.4C469.1,507.8 469.5,508.1 470.0,508.2C470.4,508.3 470.9,507.8 471.4,507.9C471.8,507.9 472.3,508.5 472.7,508.5C473.2,508.6 473.6,507.9 474.1,508.2C474.6,508.4 475.0,509.7 475.5,510.0C475.9,510.4 476.4,510.0 476.8,510.4C477.3,510.7 477.3,511.0 478.2,512.3C479.1,513.7 481.4,517.1 482.3,518.5C483.2,519.9 483.2,520.0 483.7,520.5C484.2,521.1 484.6,521.2 485.1,521.5C485.5,521.9 486.0,522.3 486.4,522.6C486.9,522.9 487.5,523.3 488.0,523.3C488.5,523.3 488.8,524.8 489.5,522.6C490.3,520.4 491.4,515.0 492.6,510.2C493.8,505.4 495.5,497.2 496.7,493.8C497.9,490.4 498.8,489.7 499.8,489.7C500.8,489.7 502.1,492.8 502.9,493.8C503.7,494.8 503.9,495.1 504.4,495.5C505.0,495.8 505.5,495.9 506.0,495.8C506.5,495.8 507.0,495.8 507.5,495.4C508.0,495.1 508.6,494.3 509.1,493.8C509.6,493.3 510.0,492.6 510.4,492.4C510.9,492.2 511.4,492.7 511.8,492.6C512.3,492.5 512.4,493.2 513.2,491.7C513.9,490.2 515.5,485.2 516.3,483.5C517.0,481.8 517.3,482.1 517.8,481.8C518.3,481.4 518.8,480.8 519.4,481.4C520.0,482.1 520.7,484.2 521.4,485.6C522.1,486.9 522.6,491.0 523.5,489.7C524.3,488.3 525.5,481.8 526.6,477.3C527.6,472.9 528.6,467.4 529.7,462.9C530.7,458.5 531.7,454.3 532.7,450.6C533.8,446.8 535.0,442.7 535.8,440.3C536.7,437.9 537.2,436.2 537.9,436.2C538.6,436.2 539.1,437.5 539.9,440.3C540.8,443.0 542.0,447.5 543.0,452.6C544.1,457.8 545.1,464.6 546.1,471.2C547.1,477.7 548.3,485.6 549.2,491.7C550.1,497.9 550.6,505.4 551.3,508.2C551.9,510.9 552.5,509.6 553.3,508.2C554.2,506.8 555.7,501.4 556.4,500.0C557.1,498.5 557.3,499.8 557.8,499.7C558.2,499.7 558.7,499.8 559.1,499.5C559.6,499.2 560.1,498.4 560.5,497.9C561.0,497.4 561.4,496.6 561.9,496.5C562.3,496.4 562.8,497.4 563.3,497.3C563.7,497.2 564.2,496.2 564.6,495.8C565.1,495.5 565.5,495.8 566.0,495.4C566.5,494.9 566.9,493.5 567.4,492.9C567.8,492.3 568.3,491.7 568.7,491.7C569.2,491.7 569.7,492.8 570.1,492.9C570.6,493.0 571.0,492.4 571.5,492.5C571.9,492.7 572.4,493.3 572.9,493.8C573.3,494.3 573.8,495.3 574.2,495.6C574.7,495.9 575.1,495.3 575.6,495.7C576.1,496.1 576.4,497.1 577.0,497.9C577.6,498.7 578.6,500.0 579.3,500.6C580.1,501.2 580.9,501.0 581.7,501.5C582.5,502.0 583.0,502.2 584.1,503.6C585.2,505.0 587.3,508.7 588.2,509.7C589.1,510.7 589.1,509.3 589.5,509.4C590.0,509.5 590.4,509.9 590.9,510.3C591.4,510.7 591.8,511.3 592.3,511.8C592.7,512.2 593.2,512.8 593.6,513.2C594.1,513.5 594.5,513.4 595.0,513.9C595.4,514.3 595.9,515.3 596.4,515.8C596.8,516.4 597.3,517.1 597.7,517.4C598.2,517.7 598.6,517.4 599.1,517.5C599.5,517.5 600.0,517.6 600.4,517.9C600.9,518.2 601.3,518.8 601.8,519.1C602.3,519.5 602.7,519.7 603.2,519.8C603.6,519.9 604.1,520.0 604.5,519.9C605.0,519.9 605.4,519.6 605.9,519.5C606.3,519.3 606.8,519.3 607.3,519.1C607.7,518.8 608.2,518.1 608.6,517.9C609.1,517.7 609.5,517.9 610.0,517.9C610.4,517.8 610.9,517.8 611.3,517.8C611.8,517.8 612.2,517.9 612.7,517.9C613.2,517.8 613.7,517.8 614.2,517.4C614.7,517.1 615.0,518.5 615.8,515.8C616.5,513.2 618.1,503.7 618.8,501.5C619.6,499.4 619.9,502.5 620.4,502.9C620.9,503.2 621.1,502.8 621.9,503.6C622.7,504.4 624.2,506.6 625.0,507.7C625.7,508.7 625.9,509.5 626.3,509.8C626.8,510.1 627.2,509.1 627.7,509.5C628.1,509.8 628.1,513.8 629.1,511.8C630.0,509.8 631.8,500.9 633.1,497.4C634.5,494.0 636.3,492.6 637.2,491.3C638.1,490.0 638.1,490.1 638.6,489.8C639.0,489.5 639.5,489.9 640.0,489.4C640.4,489.0 640.4,489.0 641.3,487.2C642.2,485.5 644.5,480.5 645.4,479.1C646.3,477.6 646.3,479.2 646.8,478.6C647.2,478.0 647.7,476.2 648.1,475.5C648.6,474.9 648.8,474.4 649.5,475.0C650.2,475.6 651.5,476.3 652.6,479.1C653.6,481.8 654.6,490.3 655.6,491.3C656.6,492.3 657.9,486.2 658.7,485.2C659.5,484.2 659.7,485.0 660.2,485.3C660.7,485.7 661.2,483.5 661.8,487.2C662.4,491.0 662.9,503.6 663.8,507.7C664.7,511.8 665.8,512.1 666.9,511.8C667.9,511.4 668.9,506.0 669.9,505.6C671.0,505.3 672.0,509.7 673.0,509.7C674.0,509.7 675.3,506.3 676.1,505.6C676.8,505.0 677.0,506.0 677.4,505.9C677.9,505.7 678.3,505.3 678.8,505.0C679.2,504.6 679.7,503.8 680.2,503.6C680.6,503.3 681.1,503.7 681.5,503.5C682.0,503.2 682.4,502.6 682.9,502.3C683.3,501.9 683.8,501.4 684.2,501.5C684.7,501.7 685.1,502.7 685.6,503.2C686.1,503.7 686.5,504.1 687.0,504.5C687.4,504.9 687.9,505.6 688.3,505.6C688.8,505.7 689.2,504.6 689.7,504.7C690.1,504.8 690.6,506.0 691.1,506.2C691.5,506.4 691.5,506.7 692.4,505.6C693.3,504.5 695.1,499.2 696.5,499.5C697.9,499.8 699.7,506.1 700.6,507.7C701.5,509.2 701.5,508.0 702.0,508.7C702.4,509.3 702.9,510.8 703.3,511.4C703.8,511.9 703.8,510.7 704.7,511.8C705.6,512.8 707.4,518.2 708.8,517.9C710.1,517.5 711.9,511.3 712.9,509.7C713.8,508.1 713.8,508.5 714.2,508.4C714.7,508.3 715.1,509.2 715.6,509.1C716.0,509.0 716.5,507.7 716.9,507.7C717.4,507.7 717.8,508.8 718.3,509.2C718.8,509.6 719.2,509.8 719.7,510.2C720.1,510.6 720.6,511.2 721.0,511.8C721.5,512.3 721.9,512.8 722.4,513.4C722.8,514.0 723.3,514.9 723.8,515.3C724.2,515.8 724.7,515.5 725.1,515.8C725.6,516.2 726.0,517.1 726.4,517.5C726.8,517.8 727.3,517.6 727.7,518.0C728.1,518.4 728.8,519.6 729.0,519.9" stroke="#07076a"/>
</g>
<rect x="438.3" y="320.0" width="290.2" height="233.70000000000005" fill="none" stroke="#2e2e2e" stroke-width="1.25"/>
<text transform="translate(430.0,533.8) scale(0.9,1)" text-anchor="end" font-size="10.6">0.000</text>
<text transform="translate(430.0,487.1) scale(0.9,1)" text-anchor="end" font-size="10.6">0.002</text>
<text transform="translate(430.0,440.4) scale(0.9,1)" text-anchor="end" font-size="10.6">0.004</text>
<text transform="translate(430.0,393.6) scale(0.9,1)" text-anchor="end" font-size="10.6">0.006</text>
<text transform="translate(430.0,346.9) scale(0.9,1)" text-anchor="end" font-size="10.6">0.008</text>
<text x="492.3" y="569.4" text-anchor="middle" font-size="10">200</text>
<text x="559.8" y="569.4" text-anchor="middle" font-size="10">400</text>
<text x="627.3" y="569.4" text-anchor="middle" font-size="10">600</text>
<text x="694.8" y="569.4" text-anchor="middle" font-size="10">800</text>
<path d="M436.0,553.7H438.3 M433.3,530.3H438.3 M436.0,507.0H438.3 M433.3,483.6H438.3 M436.0,460.2H438.3 M433.3,436.9H438.3 M436.0,413.5H438.3 M433.3,390.1H438.3 M436.0,366.7H438.3 M433.3,343.4H438.3 M436.0,320.0H438.3 M458.5,553.7V556.0 M492.3,553.7V558.7 M526.0,553.7V556.0 M559.8,553.7V558.7 M593.5,553.7V556.0 M627.3,553.7V558.7 M661.0,553.7V556.0 M694.8,553.7V558.7 M728.5,553.7V556.0" stroke="#2e2e2e" stroke-width="1.0" fill="none"/>
<text x="451.3" y="344.0" font-size="14">c</text>
<path d="M586.9,342.7H613.4" stroke="#000000" stroke-width="2.7" stroke-linecap="round"/>
<text x="617.9" y="347.0" font-size="12">Non-catalyst</text>
<path d="M586.9,357.6H613.4" stroke="#e01010" stroke-width="2.7" stroke-linecap="round"/>
<text x="617.9" y="361.9" font-size="12">CaO:stover=1:20</text>
<path d="M586.9,372.4H613.4" stroke="#0c0cd8" stroke-width="2.7" stroke-linecap="round"/>
<text x="617.9" y="376.7" font-size="12">CaO:stover=1:10</text>
<path d="M586.9,387.3H613.4" stroke="#e820e8" stroke-width="2.7" stroke-linecap="round"/>
<text x="617.9" y="391.6" font-size="12">CaO:stover=1:5</text>
<path d="M586.9,402.1H613.4" stroke="#0c7c0c" stroke-width="2.7" stroke-linecap="round"/>
<text x="617.9" y="406.4" font-size="12">CaO:stover=1:2</text>
<path d="M586.9,417.0H613.4" stroke="#07076a" stroke-width="2.7" stroke-linecap="round"/>
<text x="617.9" y="421.3" font-size="12">CaO:stover=1:1</text>
<text x="538.7" y="587.7" font-size="12.25">Temperature(</text>
<circle cx="614.1" cy="579.8" r="0.8" fill="none" stroke="#555" stroke-width="0.7"/>
<text x="614.9" y="587.7" font-size="12.4" fill="#5a5a5a" style="stroke:none">C</text>
<text x="624.4" y="587.7" font-size="12">)</text>
<text x="583.4" y="603.0" text-anchor="middle" font-size="12">CO</text>
<text x="0" y="0" transform="translate(392.4,430.8) rotate(-90)" text-anchor="middle" font-size="12">Absorbance</text>
<clipPath id="clipd"><rect x="55.3" y="626.2" width="290.0" height="233.79999999999995"/></clipPath>
<g clip-path="url(#clipd)" fill="none" stroke-width="3" stroke-linejoin="round" stroke-linecap="round">
<path d="M55.1,845.4C55.6,844.2 57.0,840.8 58.2,838.2C59.4,835.6 60.9,832.4 62.3,830.0C63.7,827.6 65.5,825.0 66.4,823.8C67.3,822.6 67.3,823.4 67.8,823.0C68.2,822.6 68.7,821.9 69.1,821.4C69.6,820.8 69.6,821.0 70.5,819.7C71.4,818.4 73.4,815.2 74.6,813.5C75.8,811.8 76.9,810.3 77.7,809.4C78.5,808.5 78.7,808.2 79.3,808.1C79.8,807.9 80.3,808.3 80.8,808.4C81.3,808.4 81.8,808.4 82.3,808.6C82.9,808.7 83.1,808.2 83.9,809.4C84.7,810.5 86.0,813.8 87.0,815.6C88.0,817.3 89.0,819.7 90.1,819.7C91.1,819.7 92.4,816.5 93.2,815.6C93.9,814.6 94.2,814.5 94.7,813.9C95.2,813.4 95.5,811.9 96.2,812.5C97.0,813.1 98.3,815.7 99.3,817.6C100.4,819.5 101.6,822.9 102.4,823.8C103.2,824.7 103.4,823.2 104.0,822.8C104.5,822.5 105.0,822.0 105.5,821.7C106.0,821.5 106.4,821.9 106.9,821.3C107.3,820.7 107.8,818.9 108.2,818.2C108.7,817.6 109.2,817.9 109.6,817.6C110.1,817.3 110.5,817.1 111.0,816.6C111.4,816.1 111.9,815.1 112.4,814.6C112.8,814.1 113.3,813.9 113.7,813.5C114.2,813.1 114.6,812.7 115.0,812.1C115.4,811.5 115.8,810.6 116.2,810.2C116.6,809.7 116.8,810.0 117.4,809.4C118.0,808.7 119.0,808.4 119.9,806.3C120.8,804.2 121.7,801.3 122.6,797.0C123.5,792.8 123.9,786.6 125.3,780.6C126.6,774.6 129.2,768.5 130.6,761.1C131.9,753.8 132.5,744.7 133.3,736.4C134.1,728.2 134.7,720.0 135.4,711.7C136.0,703.5 136.6,694.0 137.2,687.0C137.8,680.0 138.5,673.6 139.1,669.8C139.7,665.9 140.3,664.6 140.9,664.2C141.5,663.8 142.2,665.5 142.8,667.3C143.4,669.0 144.0,671.8 144.6,674.7C145.2,677.6 145.9,681.7 146.5,684.6C147.1,687.4 147.7,689.9 148.3,692.0C149.0,694.0 149.6,695.7 150.2,696.9C150.8,698.1 151.4,700.7 152.0,699.1C152.7,697.5 153.3,690.5 153.9,687.3C154.5,684.1 155.1,681.5 155.7,679.9C156.4,678.2 157.0,677.4 157.6,677.4C158.2,677.4 158.8,678.2 159.4,679.9C160.1,681.5 160.8,684.4 161.3,687.3C161.8,690.2 162.1,693.9 162.5,697.2C162.9,700.5 163.3,703.3 163.8,707.0C164.2,710.7 164.6,715.5 165.1,719.4C165.6,723.3 166.2,726.4 166.9,730.2C167.6,734.1 168.5,738.5 169.3,742.6C170.1,746.7 171.0,750.8 171.8,754.9C172.6,759.1 173.6,763.0 174.3,767.3C174.9,771.6 174.6,777.3 175.5,780.6C176.3,783.8 178.7,785.4 179.6,786.7C180.5,788.1 180.5,788.1 180.9,788.5C181.4,788.8 181.9,788.5 182.3,788.9C182.8,789.3 183.2,790.6 183.7,790.9C184.1,791.1 184.6,790.7 185.1,790.4C185.5,790.2 186.0,789.4 186.4,789.3C186.9,789.2 186.9,788.9 187.8,789.8C188.7,790.8 191.0,794.1 191.9,795.0C192.8,795.9 192.8,795.5 193.3,795.2C193.7,795.0 194.2,794.0 194.7,793.6C195.1,793.2 195.3,792.0 196.0,792.9C196.8,793.8 197.5,795.6 199.1,799.1C200.8,802.6 204.6,811.4 206.0,813.7C207.3,816.0 206.9,813.1 207.3,813.0C207.7,812.8 208.2,813.0 208.6,812.8C209.1,812.6 209.5,812.1 209.9,811.7C210.4,811.3 210.8,810.5 211.3,810.2C211.7,809.9 212.2,810.3 212.6,809.8C213.0,809.4 213.5,808.2 213.9,807.7C214.4,807.3 214.9,807.1 215.4,807.3C215.9,807.4 216.2,807.3 216.9,808.7C217.7,810.1 218.7,812.9 219.9,815.7C221.1,818.5 223.0,823.6 223.9,825.6C224.8,827.6 224.8,827.2 225.2,827.6C225.6,828.1 226.1,827.9 226.5,828.2C227.0,828.6 227.4,829.4 227.8,829.6C228.3,829.8 228.7,829.6 229.2,829.6C229.6,829.5 230.1,829.5 230.5,829.2C230.9,828.9 231.4,827.8 231.8,827.6C232.3,827.4 232.7,828.3 233.2,827.9C233.6,827.6 234.0,826.0 234.5,825.7C234.9,825.3 235.4,825.5 235.8,825.6C236.2,825.8 236.7,826.6 237.1,826.7C237.6,826.8 238.0,826.0 238.5,826.2C238.9,826.3 239.3,827.6 239.8,827.6C240.2,827.6 240.7,826.6 241.1,826.3C241.5,825.9 242.0,825.6 242.4,825.5C242.9,825.4 243.3,825.7 243.8,825.6C244.2,825.6 244.6,825.4 245.1,825.3C245.5,825.1 246.0,824.6 246.4,824.7C246.9,824.7 247.3,825.5 247.7,825.6C248.2,825.8 248.6,826.0 249.1,825.7C249.5,825.4 249.9,824.2 250.4,823.9C250.8,823.6 251.3,823.8 251.7,823.6C252.2,823.5 252.6,823.3 253.0,822.9C253.5,822.5 253.9,821.6 254.4,821.1C254.8,820.6 255.3,819.9 255.7,819.7C256.1,819.4 256.6,819.6 257.0,819.7C257.5,819.9 257.9,820.3 258.3,820.6C258.8,820.9 259.2,821.4 259.7,821.7C260.1,821.9 260.6,821.7 261.0,822.0C261.4,822.2 261.9,823.0 262.3,823.3C262.8,823.6 263.2,823.5 263.6,823.6C264.1,823.8 264.5,824.0 265.0,824.4C265.4,824.9 265.9,826.0 266.3,826.5C266.7,827.1 267.2,827.3 267.6,827.6C268.1,827.9 268.5,828.3 269.0,828.4C269.4,828.5 269.8,828.5 270.3,828.4C270.7,828.2 271.2,827.8 271.6,827.6C272.0,827.4 272.5,827.2 272.9,827.2C273.4,827.2 273.8,827.5 274.3,827.5C274.7,827.6 275.1,827.8 275.6,827.6C276.0,827.4 276.5,826.8 276.9,826.3C277.4,825.8 277.8,825.0 278.2,824.5C278.7,824.1 279.1,824.0 279.6,823.6C280.0,823.3 280.4,822.7 280.9,822.6C281.3,822.6 281.8,823.5 282.2,823.3C282.7,823.1 283.1,822.3 283.5,821.7C284.0,821.0 284.4,819.9 284.9,819.4C285.3,818.8 285.7,818.6 286.2,818.3C286.6,818.0 287.0,817.9 287.5,817.7C288.0,817.5 288.5,817.3 289.0,817.0C289.5,816.7 289.8,815.2 290.5,815.7C291.2,816.1 292.8,818.9 293.5,819.7C294.2,820.4 294.4,819.8 294.8,820.1C295.3,820.5 295.7,821.3 296.1,821.9C296.6,822.5 297.0,823.2 297.5,823.6C297.9,824.1 298.3,824.5 298.8,824.9C299.2,825.3 299.7,825.7 300.1,825.8C300.6,825.9 300.6,824.7 301.4,825.6C302.3,826.6 304.3,829.9 305.4,831.6C306.6,833.3 307.7,835.1 308.4,835.6C309.1,836.0 309.4,834.7 309.9,834.3C310.4,834.0 310.9,834.0 311.4,833.6C311.9,833.2 312.3,832.0 312.7,831.7C313.2,831.4 313.6,832.0 314.0,831.7C314.5,831.4 314.9,830.0 315.4,829.6C315.8,829.2 316.2,829.4 316.7,829.2C317.1,829.0 317.6,828.6 318.0,828.3C318.5,828.0 318.9,827.9 319.3,827.6C319.8,827.3 320.2,826.9 320.7,826.6C321.1,826.4 321.6,826.2 322.0,826.0C322.4,825.8 322.9,825.7 323.3,825.6C323.8,825.6 324.2,825.6 324.6,825.9C325.1,826.2 325.5,827.2 326.0,827.5C326.4,827.8 326.9,827.8 327.3,827.6C327.7,827.4 328.2,826.8 328.6,826.3C329.1,825.7 329.5,824.8 329.9,824.4C330.4,823.9 330.8,823.9 331.3,823.6C331.7,823.4 332.2,823.4 332.6,823.1C333.0,822.7 333.5,822.1 333.9,821.5C334.4,820.9 334.8,819.9 335.3,819.7C335.7,819.5 336.1,820.3 336.6,820.4C337.0,820.6 337.5,820.7 337.9,820.5C338.3,820.4 338.8,820.1 339.2,819.7C339.7,819.3 340.2,818.5 340.7,818.2C341.2,817.8 341.7,817.5 342.2,817.7C342.7,817.9 343.1,819.1 343.6,819.5C344.1,819.8 344.8,819.6 345.0,819.7" stroke="#000000"/>
<path d="M55.1,823.8C55.6,825.2 57.1,830.0 58.2,832.0C59.2,834.1 60.5,835.2 61.3,836.1C62.0,837.1 62.3,837.4 62.8,837.8C63.3,838.1 63.8,838.0 64.3,838.2C64.9,838.4 65.4,838.3 65.9,838.8C66.4,839.4 66.9,841.0 67.4,841.3C67.9,841.5 68.5,840.8 69.0,840.3C69.5,839.7 70.0,838.6 70.5,838.2C71.0,837.7 71.4,838.1 71.9,837.5C72.3,836.9 72.8,835.2 73.3,834.6C73.7,834.1 74.1,834.2 74.6,834.1C75.1,833.9 75.7,834.2 76.2,833.9C76.7,833.5 76.9,833.0 77.7,832.0C78.5,831.0 79.6,829.6 80.8,827.9C82.0,826.2 84.0,822.7 84.9,821.7C85.8,820.8 85.8,822.3 86.3,822.3C86.8,822.3 87.2,821.6 87.7,821.5C88.1,821.4 88.6,821.5 89.0,821.7C89.5,821.9 90.0,822.3 90.4,822.8C90.9,823.4 91.3,824.3 91.8,824.8C92.2,825.3 92.7,825.5 93.2,825.8C93.6,826.2 94.2,826.3 94.7,826.7C95.2,827.0 95.5,828.7 96.2,827.9C97.0,827.1 98.6,822.8 99.3,821.7C100.1,820.6 100.2,821.4 100.7,821.2C101.2,821.0 101.6,820.8 102.1,820.6C102.5,820.3 102.5,818.8 103.4,819.7C104.4,820.5 106.6,825.2 107.6,825.8C108.5,826.5 108.5,824.0 108.9,823.6C109.4,823.2 109.8,823.9 110.3,823.6C110.8,823.3 110.8,823.4 111.7,821.7C112.6,820.0 114.9,815.0 115.8,813.5C116.7,812.0 116.7,812.9 117.2,812.5C117.6,812.2 118.1,812.1 118.5,811.6C119.0,811.1 119.2,811.1 119.9,809.4C120.6,807.6 122.0,804.2 123.0,801.2C124.0,798.1 124.9,796.5 126.1,790.9C127.2,785.2 128.8,772.7 129.8,767.3C130.8,761.9 131.5,761.7 132.3,758.6C133.1,755.6 133.9,751.6 134.8,748.8C135.6,745.9 136.4,743.6 137.2,741.4C138.0,739.1 139.0,737.2 139.7,735.2C140.4,733.1 141.0,731.7 141.5,729.0C142.1,726.3 142.3,722.4 142.8,719.1C143.3,715.8 144.0,712.6 144.6,709.3C145.2,706.0 145.9,702.7 146.5,699.4C147.1,696.1 147.6,692.8 148.3,689.5C149.1,686.2 150.1,682.1 150.8,679.6C151.5,677.2 152.0,676.3 152.7,674.7C153.3,673.0 153.9,672.2 154.5,669.8C155.1,667.3 155.8,662.9 156.4,659.9C156.9,656.9 157.4,652.9 158.0,651.9C158.5,650.8 159.0,652.0 159.4,653.7C159.9,655.5 160.3,658.8 160.7,662.3C161.1,665.8 161.5,670.2 161.9,674.7C162.3,679.2 162.7,684.4 163.1,689.5C163.6,694.7 164.0,699.8 164.4,705.6C164.8,711.3 165.2,718.9 165.6,724.1C166.0,729.2 166.3,732.3 166.9,736.4C167.4,740.5 168.1,744.7 168.7,748.8C169.3,752.9 169.9,755.8 170.6,761.1C171.2,766.4 172.1,778.5 172.4,780.6C172.7,782.6 171.9,771.7 172.4,773.5C172.9,775.2 174.7,787.7 175.5,790.9C176.2,794.0 176.5,792.0 177.0,792.3C177.5,792.7 177.8,792.1 178.5,792.9C179.3,793.7 180.9,796.1 181.6,797.0C182.4,797.9 182.7,798.0 183.2,798.4C183.7,798.7 183.9,798.3 184.7,799.1C185.5,799.9 187.1,802.2 187.8,803.2C188.5,804.2 188.7,804.7 189.2,805.1C189.6,805.4 190.1,805.0 190.5,805.3C191.0,805.7 191.0,806.0 191.9,807.3C192.8,808.7 194.8,811.1 196.0,813.5C197.2,815.9 198.3,820.2 199.1,821.7C199.9,823.2 200.2,822.0 200.7,822.4C201.3,822.7 201.8,823.6 202.4,823.8C202.9,824.0 203.5,823.6 204.0,823.6C204.5,823.7 204.9,824.2 205.3,823.8C205.7,823.5 206.2,821.7 206.6,821.4C207.1,821.0 207.5,821.6 208.0,821.7C208.4,821.7 208.8,821.9 209.3,821.8C209.7,821.6 210.2,821.0 210.6,820.6C211.1,820.3 211.5,819.6 211.9,819.7C212.4,819.7 212.8,820.5 213.3,820.8C213.7,821.1 214.1,821.1 214.6,821.6C215.0,822.1 215.0,822.3 215.9,823.6C216.8,825.0 219.0,828.4 219.9,829.6C220.8,830.8 220.8,830.9 221.2,831.0C221.7,831.1 222.1,830.3 222.5,830.4C223.0,830.5 223.4,831.2 223.9,831.6C224.3,832.0 224.8,832.8 225.2,833.1C225.6,833.4 226.1,833.0 226.5,833.4C227.0,833.8 227.4,835.1 227.8,835.6C228.3,836.1 228.7,836.2 229.2,836.4C229.6,836.5 230.1,836.5 230.5,836.7C230.9,836.9 231.4,837.4 231.8,837.6C232.3,837.8 232.7,837.7 233.2,837.8C233.6,838.0 234.0,837.9 234.5,838.2C234.9,838.5 235.4,839.7 235.8,839.6C236.2,839.4 236.7,837.6 237.1,837.3C237.6,837.0 238.0,837.9 238.5,837.7C238.9,837.4 239.3,836.0 239.8,835.6C240.2,835.2 240.7,835.5 241.1,835.1C241.5,834.7 242.0,833.5 242.4,833.3C242.9,833.0 243.3,833.4 243.8,833.6C244.2,833.8 244.6,834.1 245.1,834.4C245.5,834.7 246.0,835.3 246.4,835.5C246.9,835.6 247.3,835.9 247.7,835.6C248.2,835.3 248.6,834.0 249.1,833.7C249.5,833.4 249.9,834.1 250.4,833.8C250.8,833.4 251.3,831.6 251.7,831.6C252.2,831.6 252.6,833.2 253.0,833.6C253.5,834.1 253.9,834.0 254.4,834.3C254.8,834.7 255.3,835.1 255.7,835.6C256.1,836.1 256.6,837.1 257.0,837.2C257.5,837.3 257.9,836.3 258.3,836.3C258.8,836.4 259.2,837.4 259.7,837.6C260.1,837.7 260.6,837.1 261.0,837.3C261.4,837.5 261.9,838.3 262.3,838.6C262.8,839.0 263.2,839.4 263.6,839.6C264.1,839.7 264.5,839.2 265.0,839.6C265.4,840.0 265.9,841.5 266.3,841.8C266.7,842.1 267.2,841.8 267.6,841.6C268.1,841.3 268.5,840.4 269.0,840.1C269.4,839.8 269.8,840.0 270.3,839.9C270.7,839.8 271.2,839.4 271.6,839.6C272.0,839.7 272.5,840.9 272.9,841.0C273.4,841.0 273.8,839.9 274.3,840.0C274.7,840.1 275.1,841.4 275.6,841.6C276.0,841.7 276.5,840.7 276.9,840.7C277.4,840.7 277.8,841.5 278.2,841.6C278.7,841.7 279.1,841.8 279.6,841.6C280.0,841.3 280.4,840.5 280.9,839.9C281.3,839.3 281.8,838.3 282.2,837.9C282.7,837.5 283.1,837.8 283.5,837.6C284.0,837.3 284.4,836.9 284.9,836.6C285.3,836.3 285.7,836.1 286.2,835.6C286.6,835.1 287.1,834.0 287.5,833.6C288.0,833.2 288.4,833.3 288.8,833.4C289.3,833.5 289.7,833.8 290.2,834.2C290.6,834.5 291.1,835.6 291.5,835.6C291.9,835.6 292.4,834.4 292.8,834.2C293.3,833.9 293.7,834.3 294.1,834.2C294.6,834.1 295.0,833.5 295.5,833.6C295.9,833.7 296.4,834.4 296.8,834.6C297.2,834.7 297.7,834.3 298.1,834.4C298.6,834.6 299.0,835.2 299.5,835.6C299.9,836.0 300.3,836.8 300.8,836.9C301.2,837.0 301.7,836.0 302.1,836.1C302.5,836.2 303.0,837.2 303.4,837.6C303.9,838.0 304.3,838.5 304.8,838.4C305.2,838.3 305.6,837.2 306.1,837.0C306.5,836.9 307.0,837.6 307.4,837.6C307.8,837.5 308.3,836.9 308.7,836.8C309.2,836.7 309.6,836.8 310.1,837.0C310.5,837.1 310.9,837.5 311.4,837.6C311.8,837.7 312.3,837.6 312.7,837.7C313.2,837.8 313.6,838.4 314.0,838.4C314.5,838.3 314.9,837.7 315.4,837.6C315.8,837.4 316.2,837.2 316.7,837.5C317.1,837.7 317.6,838.8 318.0,839.1C318.5,839.5 318.9,839.7 319.3,839.6C319.8,839.4 320.2,838.7 320.7,838.3C321.1,837.8 321.6,837.3 322.0,836.9C322.4,836.4 322.9,835.8 323.3,835.6C323.8,835.4 324.2,835.8 324.6,835.5C325.1,835.2 325.5,834.1 326.0,833.8C326.4,833.4 326.9,833.7 327.3,833.6C327.7,833.5 328.2,833.6 328.6,833.1C329.1,832.6 329.5,831.2 329.9,830.6C330.4,830.0 330.8,829.8 331.3,829.6C331.7,829.4 332.2,829.4 332.6,829.4C333.0,829.4 333.5,829.6 333.9,829.6C334.4,829.7 334.8,829.7 335.3,829.6C335.7,829.5 336.1,829.2 336.6,829.0C337.0,828.9 337.5,828.9 337.9,828.7C338.3,828.5 338.7,827.8 339.2,827.6C339.8,827.4 340.5,827.7 341.2,827.6C341.8,827.5 342.4,827.4 343.1,827.1C343.7,826.8 344.7,825.9 345.0,825.6" stroke="#e01010"/>
<path d="M55.1,813.5C55.6,814.2 57.0,815.9 58.2,817.6C59.4,819.3 61.4,822.5 62.3,823.8C63.2,825.1 63.2,824.8 63.7,825.2C64.1,825.6 64.6,825.9 65.0,826.4C65.5,826.8 65.9,827.9 66.4,827.9C66.9,827.9 67.3,827.0 67.8,826.7C68.2,826.3 68.7,825.9 69.1,825.8C69.6,825.7 70.1,826.0 70.5,825.8C71.0,825.7 71.4,825.3 71.9,825.1C72.3,824.9 72.8,824.9 73.3,824.7C73.7,824.5 74.2,824.0 74.6,823.8C75.1,823.6 75.5,823.5 76.0,823.3C76.5,823.2 76.9,823.1 77.4,822.8C77.8,822.6 78.3,821.7 78.7,821.7C79.2,821.8 79.7,822.7 80.1,823.0C80.6,823.3 81.0,823.1 81.5,823.6C81.9,824.0 82.1,823.7 82.9,825.8C83.6,827.9 85.2,834.4 86.0,836.1C86.7,837.9 86.9,835.9 87.3,836.3C87.8,836.6 88.2,837.8 88.7,838.1C89.2,838.4 89.6,838.0 90.1,838.2C90.6,838.4 91.1,838.7 91.6,839.1C92.1,839.4 92.7,840.1 93.2,840.2C93.6,840.4 94.1,839.9 94.5,839.7C95.0,839.5 95.4,839.5 95.9,839.2C96.4,839.0 96.8,838.2 97.3,838.2C97.7,838.2 98.2,839.3 98.6,839.4C99.1,839.5 99.6,838.7 100.0,838.9C100.5,839.0 100.9,840.1 101.4,840.2C101.8,840.3 102.3,839.7 102.8,839.5C103.2,839.3 103.7,839.4 104.1,839.2C104.6,839.0 105.0,838.3 105.5,838.2C106.0,838.1 106.4,838.7 106.9,838.4C107.3,838.1 107.8,836.8 108.2,836.4C108.7,836.0 109.2,835.9 109.6,836.1C110.1,836.3 110.5,837.3 111.0,837.6C111.4,838.0 111.9,838.1 112.4,838.2C112.8,838.3 113.2,838.4 113.7,838.2C114.2,838.0 114.8,837.6 115.3,837.2C115.8,836.9 116.0,837.3 116.8,836.1C117.6,834.9 118.9,832.0 119.9,830.0C120.9,827.9 122.0,825.8 123.0,823.8C124.0,821.7 125.0,820.0 126.1,817.6C127.1,815.2 128.1,812.1 129.2,809.4C130.2,806.6 131.2,804.2 132.2,801.2C133.3,798.1 134.3,795.9 135.3,790.9C136.4,785.8 137.5,775.9 138.5,771.0C139.4,766.0 140.2,764.8 140.9,761.1C141.6,757.4 142.2,752.5 142.8,748.8C143.4,745.1 144.0,741.4 144.6,738.9C145.2,736.4 145.9,736.4 146.5,734.0C147.1,731.5 147.7,727.8 148.3,724.1C149.0,720.4 149.6,715.8 150.2,711.7C150.8,707.6 151.4,703.5 152.0,699.4C152.7,695.3 153.3,690.3 153.9,687.0C154.5,683.7 155.1,681.3 155.7,679.6C156.4,678.0 157.0,677.2 157.6,677.2C158.2,677.2 158.8,678.0 159.4,679.6C160.1,681.3 160.8,684.2 161.3,687.0C161.8,689.9 162.1,693.6 162.5,696.9C162.9,700.2 163.4,703.1 163.8,706.8C164.2,710.5 164.6,715.2 165.0,719.1C165.4,723.0 165.7,726.1 166.2,730.2C166.7,734.4 167.5,739.3 168.1,743.8C168.7,748.4 169.6,751.6 169.9,757.4C170.3,763.2 170.0,776.3 170.3,778.5C170.6,780.8 171.3,770.3 171.8,771.0C172.3,771.7 172.9,780.5 173.4,782.6C173.9,784.8 174.4,783.5 174.9,783.8C175.5,784.2 175.7,783.9 176.5,784.7C177.3,785.5 178.4,786.7 179.6,788.8C180.8,790.9 182.8,795.3 183.7,797.0C184.6,798.8 184.6,798.8 185.1,799.3C185.5,799.7 186.0,799.3 186.4,799.7C186.9,800.0 186.9,799.5 187.8,801.2C188.7,802.8 191.0,807.9 191.9,809.4C192.8,810.9 192.8,809.8 193.3,810.3C193.7,810.9 194.2,812.2 194.7,812.7C195.1,813.2 195.3,812.3 196.0,813.5C196.8,814.7 197.8,817.6 199.1,819.7C200.4,821.7 202.9,824.7 204.0,825.6C205.0,826.6 204.9,825.2 205.3,825.5C205.7,825.8 206.2,827.0 206.6,827.4C207.1,827.8 207.5,827.5 208.0,827.6C208.4,827.7 208.8,828.0 209.3,827.9C209.7,827.9 210.2,827.5 210.6,827.4C211.1,827.4 211.5,827.2 211.9,827.6C212.4,828.0 212.8,829.4 213.3,829.8C213.7,830.3 214.1,830.2 214.6,830.5C215.0,830.8 215.5,831.3 215.9,831.6C216.4,831.9 216.8,831.8 217.2,832.2C217.7,832.7 218.1,833.5 218.6,834.1C219.0,834.6 219.4,835.1 219.9,835.6C220.3,836.1 220.8,837.1 221.2,837.2C221.7,837.2 222.1,836.0 222.5,836.1C223.0,836.1 223.4,837.4 223.9,837.6C224.3,837.7 224.8,837.3 225.2,836.9C225.6,836.4 226.1,835.6 226.5,835.0C227.0,834.5 227.4,833.6 227.8,833.6C228.3,833.6 228.7,834.5 229.2,834.9C229.6,835.2 230.1,835.6 230.5,835.8C230.9,835.9 231.4,836.0 231.8,835.6C232.3,835.2 232.7,833.9 233.2,833.4C233.6,833.0 234.0,833.1 234.5,832.8C234.9,832.5 234.9,832.8 235.8,831.6C236.7,830.4 238.9,826.5 239.8,825.6C240.7,824.7 240.7,826.0 241.1,826.3C241.5,826.5 242.0,826.7 242.4,826.9C242.9,827.2 243.3,827.3 243.8,827.6C244.2,828.0 244.6,828.9 245.1,829.0C245.5,829.0 246.0,828.0 246.4,828.1C246.9,828.2 246.9,827.7 247.7,829.6C248.6,831.5 250.8,838.1 251.7,839.6C252.6,841.0 252.6,838.4 253.0,838.3C253.5,838.1 253.9,838.9 254.4,838.7C254.8,838.6 255.3,837.9 255.7,837.6C256.1,837.3 256.6,837.2 257.0,836.9C257.5,836.6 257.9,836.4 258.3,835.8C258.8,835.3 259.2,834.2 259.7,833.6C260.1,833.0 260.6,832.2 261.0,832.1C261.4,832.0 261.9,833.0 262.3,832.9C262.8,832.8 263.2,831.8 263.6,831.6C264.1,831.4 264.5,831.4 265.0,832.0C265.4,832.5 265.9,834.2 266.3,834.8C266.7,835.4 267.2,835.3 267.6,835.6C268.1,835.8 268.5,835.8 269.0,836.4C269.4,837.0 269.8,838.5 270.3,839.1C270.7,839.6 271.2,839.7 271.6,839.6C272.0,839.5 272.5,839.0 272.9,838.5C273.4,838.1 273.8,837.3 274.3,836.9C274.7,836.4 275.1,836.0 275.6,835.6C276.0,835.1 276.5,834.3 276.9,834.2C277.4,834.1 277.8,835.1 278.2,835.0C278.7,834.9 279.1,833.8 279.6,833.6C280.0,833.4 280.4,833.7 280.9,834.0C281.3,834.4 281.8,835.6 282.2,835.8C282.7,836.1 283.1,835.6 283.5,835.6C284.0,835.6 284.4,835.5 284.9,836.0C285.3,836.4 285.7,837.5 286.2,838.1C286.6,838.7 286.6,840.3 287.5,839.6C288.4,838.8 290.6,835.0 291.5,833.6C292.4,832.2 292.4,831.9 292.8,831.3C293.3,830.8 293.7,830.8 294.1,830.5C294.6,830.2 295.0,829.7 295.5,829.6C295.9,829.5 296.4,830.1 296.8,829.9C297.2,829.6 297.7,828.3 298.1,828.0C298.6,827.6 299.0,827.9 299.5,827.6C299.9,827.3 300.3,826.3 300.8,826.1C301.2,825.8 301.7,826.1 302.1,826.1C302.5,826.0 303.0,825.7 303.4,825.6C303.9,825.5 304.3,825.5 304.8,825.4C305.2,825.2 305.6,825.0 306.1,824.8C306.5,824.5 307.0,823.5 307.4,823.6C307.8,823.8 308.3,825.3 308.7,825.6C309.2,825.9 309.6,825.2 310.1,825.5C310.5,825.9 310.9,827.2 311.4,827.6C311.8,828.1 312.3,828.1 312.7,828.3C313.2,828.5 313.6,828.6 314.0,828.8C314.5,829.0 314.9,829.7 315.4,829.6C315.8,829.5 316.2,828.5 316.7,828.1C317.1,827.7 317.6,827.6 318.0,827.2C318.5,826.7 318.9,826.2 319.3,825.6C319.8,825.0 320.2,823.8 320.7,823.5C321.1,823.2 321.6,824.0 322.0,823.7C322.4,823.4 322.9,822.0 323.3,821.7C323.8,821.3 324.2,821.8 324.6,821.6C325.1,821.5 325.5,820.8 326.0,820.5C326.4,820.2 326.9,819.7 327.3,819.7C327.7,819.7 328.2,820.3 328.6,820.6C329.1,820.9 329.5,820.9 329.9,821.4C330.4,821.9 330.8,823.4 331.3,823.6C331.7,823.9 332.2,823.2 332.6,823.1C333.0,823.1 333.5,823.5 333.9,823.2C334.4,823.0 334.8,821.9 335.3,821.7C335.7,821.4 336.1,822.0 336.6,821.9C337.0,821.8 337.5,821.4 337.9,821.0C338.3,820.6 338.7,819.5 339.2,819.7C339.8,819.8 340.5,821.4 341.2,821.9C341.8,822.4 342.4,822.4 343.1,822.7C343.7,823.0 344.7,823.5 345.0,823.6" stroke="#0c0cd8"/>
<path d="M55.1,819.7C55.6,821.0 57.0,825.5 58.2,827.9C59.4,830.3 61.4,833.2 62.3,834.1C63.2,835.0 63.2,833.7 63.7,833.4C64.1,833.1 64.6,832.7 65.0,832.4C65.5,832.2 65.5,833.1 66.4,832.0C67.3,830.9 69.6,826.7 70.5,825.8C71.4,825.0 71.4,826.8 71.9,827.0C72.3,827.2 72.8,827.0 73.3,827.1C73.7,827.3 74.2,828.0 74.6,827.9C75.1,827.8 75.5,827.1 76.0,826.4C76.5,825.8 76.9,824.7 77.4,824.2C77.8,823.8 77.8,821.8 78.7,823.8C79.7,825.8 81.9,834.4 82.9,836.1C83.8,837.9 83.8,834.9 84.2,834.4C84.7,834.0 85.2,833.7 85.6,833.3C86.1,832.9 86.5,832.1 87.0,832.0C87.4,831.9 87.9,832.5 88.4,832.6C88.8,832.7 89.3,832.3 89.7,832.6C90.2,832.8 90.6,834.1 91.1,834.1C91.6,834.0 92.0,832.8 92.5,832.3C92.9,831.8 93.4,831.4 93.8,831.0C94.3,830.6 94.8,830.1 95.2,830.0C95.7,829.8 96.1,830.2 96.6,830.1C97.0,829.9 97.5,829.4 98.0,829.0C98.4,828.7 98.6,829.1 99.3,827.9C100.1,826.7 101.4,823.4 102.4,821.7C103.4,820.0 104.7,818.3 105.5,817.6C106.3,816.9 106.5,817.7 107.0,817.4C107.6,817.0 108.1,816.0 108.6,815.6C109.1,815.1 109.6,814.6 110.1,814.6C110.6,814.6 111.2,815.3 111.7,815.6C112.2,815.8 112.7,815.7 113.2,816.0C113.7,816.4 114.2,817.2 114.8,817.6C115.3,818.1 115.8,818.4 116.3,818.7C116.8,819.1 117.4,819.9 117.8,819.7C118.3,819.5 118.8,818.0 119.2,817.4C119.7,816.9 120.1,816.7 120.6,816.4C121.0,816.1 121.0,816.7 122.0,815.6C122.9,814.4 124.7,811.8 126.1,809.4C127.4,807.0 129.0,804.2 130.2,801.2C131.4,798.1 132.2,793.3 133.3,790.9C134.3,788.5 135.3,788.5 136.4,786.7C137.4,785.0 138.5,782.8 139.4,780.6C140.4,778.4 141.3,776.7 142.2,773.5C143.0,770.2 143.9,765.2 144.6,761.1C145.3,757.0 145.9,752.9 146.5,748.8C147.1,744.7 147.6,740.5 148.3,736.4C149.1,732.3 150.0,728.2 150.8,724.1C151.6,720.0 152.6,714.8 153.3,711.7C154.0,708.6 154.4,707.1 155.1,705.6C155.8,704.0 156.9,702.7 157.6,702.5C158.3,702.3 158.9,702.8 159.4,704.3C160.0,705.9 160.4,708.4 160.9,711.7C161.4,715.0 162.1,720.0 162.5,724.1C163.0,728.2 163.4,732.3 163.8,736.4C164.2,740.5 164.5,744.7 165.0,748.8C165.5,752.9 166.1,757.0 166.6,761.1C167.1,765.2 167.3,768.5 168.1,773.5C168.9,778.4 170.3,786.9 171.3,790.9C172.4,794.8 173.4,795.3 174.4,797.0C175.5,798.8 176.5,799.8 177.5,801.2C178.5,802.5 179.6,803.9 180.6,805.3C181.6,806.6 182.9,808.5 183.7,809.4C184.5,810.3 184.7,810.2 185.2,810.5C185.7,810.9 186.2,809.9 186.8,811.4C187.4,813.0 188.0,817.3 188.8,819.7C189.7,822.1 191.2,825.0 191.9,825.8C192.7,826.7 192.8,824.9 193.3,824.8C193.7,824.8 194.2,825.5 194.7,825.6C195.1,825.8 195.3,826.5 196.0,825.8C196.8,825.2 197.8,824.1 199.1,821.7C200.4,819.4 202.9,813.3 204.0,811.7C205.0,810.1 204.9,811.7 205.3,812.1C205.7,812.5 206.2,813.2 206.6,813.8C207.1,814.4 207.1,814.4 208.0,815.7C208.8,817.0 211.1,820.3 211.9,821.7C212.8,823.0 212.8,823.4 213.3,823.8C213.7,824.2 214.1,823.8 214.6,824.1C215.0,824.4 215.5,825.3 215.9,825.6C216.4,825.9 216.8,825.5 217.2,825.8C217.7,826.2 218.1,827.5 218.6,827.8C219.0,828.1 219.0,826.7 219.9,827.6C220.8,828.6 222.5,833.9 223.9,833.6C225.2,833.3 227.0,827.0 227.8,825.6C228.7,824.3 228.7,826.0 229.2,825.7C229.6,825.4 230.1,824.2 230.5,823.8C230.9,823.5 230.9,822.0 231.8,823.6C232.7,825.3 234.5,833.3 235.8,833.6C237.1,833.9 238.9,827.2 239.8,825.6C240.7,824.1 240.7,824.7 241.1,824.2C241.5,823.6 242.0,822.8 242.4,822.4C242.9,822.0 243.3,821.7 243.8,821.7C244.2,821.6 244.6,822.2 245.1,822.2C245.5,822.2 246.0,821.7 246.4,821.6C246.9,821.5 246.9,820.7 247.7,821.7C248.6,822.7 250.4,825.6 251.7,827.6C253.0,829.6 254.8,832.3 255.7,833.6C256.6,834.9 256.6,834.9 257.0,835.5C257.5,836.0 257.9,836.4 258.3,836.8C258.8,837.1 259.2,837.7 259.7,837.6C260.1,837.5 260.6,836.5 261.0,836.2C261.4,835.8 261.9,835.6 262.3,835.5C262.8,835.4 262.8,834.2 263.6,835.6C264.5,836.9 266.3,843.5 267.6,843.5C269.0,843.5 270.7,837.0 271.6,835.6C272.5,834.1 272.5,835.1 272.9,834.7C273.4,834.4 273.8,834.2 274.3,833.7C274.7,833.2 275.1,831.8 275.6,831.6C276.0,831.4 276.5,831.7 276.9,832.3C277.4,832.9 277.8,834.4 278.2,835.0C278.7,835.5 279.1,835.7 279.6,835.6C280.0,835.5 280.4,834.6 280.9,834.3C281.3,834.1 281.8,834.1 282.2,833.9C282.7,833.8 283.1,833.7 283.5,833.6C284.0,833.5 284.4,833.5 284.9,833.2C285.3,832.9 285.7,831.8 286.2,831.6C286.6,831.3 287.1,831.7 287.5,831.6C288.0,831.5 288.4,831.2 288.8,831.0C289.3,830.7 289.7,830.4 290.2,830.1C290.6,829.9 291.1,829.7 291.5,829.6C291.9,829.5 292.4,829.4 292.8,829.5C293.3,829.5 293.7,829.7 294.1,830.1C294.6,830.4 295.0,831.5 295.5,831.6C295.9,831.7 296.4,831.0 296.8,830.8C297.2,830.6 297.7,830.5 298.1,830.3C298.6,830.1 299.0,829.6 299.5,829.6C299.9,829.6 300.3,830.2 300.8,830.3C301.2,830.4 301.7,829.9 302.1,830.1C302.5,830.3 302.5,832.3 303.4,831.6C304.3,830.9 306.5,826.5 307.4,825.6C308.3,824.7 308.3,825.8 308.7,826.2C309.2,826.5 309.6,827.7 310.1,827.9C310.5,828.2 310.8,828.3 311.4,827.6C311.9,826.9 312.4,823.3 313.4,823.6C314.4,824.0 316.0,827.6 317.4,829.6C318.7,831.6 320.4,834.6 321.3,835.6C322.2,836.5 322.2,835.6 322.7,835.3C323.1,835.1 323.5,834.2 324.0,833.9C324.4,833.6 324.9,833.7 325.3,833.6C325.8,833.5 326.2,833.6 326.6,833.3C327.1,833.1 327.5,832.3 328.0,832.1C328.4,831.8 328.8,831.9 329.3,831.6C329.7,831.3 330.2,831.0 330.6,830.4C331.1,829.9 331.5,828.7 331.9,828.2C332.4,827.7 332.8,827.9 333.3,827.6C333.7,827.4 334.1,826.6 334.6,826.6C335.0,826.7 335.5,827.9 335.9,828.0C336.4,828.2 336.8,827.9 337.2,827.6C337.7,827.3 338.1,826.8 338.6,826.2C339.0,825.6 339.5,824.5 339.9,824.1C340.3,823.6 340.8,823.4 341.2,823.6C341.7,823.9 342.1,825.0 342.5,825.3C342.9,825.6 343.3,825.2 343.7,825.2C344.2,825.3 344.8,825.6 345.0,825.6" stroke="#e820e8"/>
<path d="M55.1,809.4C55.4,809.4 56.2,809.1 56.8,809.2C57.4,809.4 57.9,810.3 58.5,810.3C59.1,810.4 59.4,808.9 60.2,809.4C61.0,809.9 62.3,811.4 63.3,813.5C64.3,815.6 65.7,820.1 66.4,821.7C67.1,823.4 67.3,822.8 67.8,823.3C68.2,823.8 68.7,824.4 69.1,824.9C69.6,825.3 70.1,825.6 70.5,825.8C71.0,826.1 71.4,826.4 71.9,826.5C72.3,826.7 72.8,826.4 73.3,826.6C73.7,826.8 74.2,827.5 74.6,827.9C75.1,828.3 75.5,828.9 76.0,829.2C76.5,829.6 76.9,829.8 77.4,830.0C77.8,830.1 78.3,830.2 78.7,830.0C79.2,829.7 79.8,828.7 80.3,828.3C80.8,828.0 81.1,830.0 81.8,827.9C82.6,825.8 84.2,817.7 84.9,815.6C85.7,813.4 86.0,815.2 86.5,814.8C87.0,814.5 87.5,813.5 88.0,813.5C88.5,813.5 88.9,814.5 89.4,814.9C89.8,815.3 90.3,815.7 90.8,816.0C91.2,816.3 91.7,816.2 92.1,816.6C92.6,817.0 93.0,817.8 93.5,818.2C94.0,818.7 94.4,819.1 94.9,819.3C95.3,819.6 95.5,818.9 96.2,819.7C97.0,820.4 98.3,821.0 99.3,823.8C100.4,826.5 101.6,833.9 102.4,836.1C103.2,838.3 103.4,836.6 104.0,836.9C104.5,837.2 104.7,838.7 105.5,838.2C106.3,837.7 107.6,835.4 108.6,834.1C109.6,832.7 110.9,830.5 111.7,830.0C112.4,829.4 112.7,830.7 113.2,831.0C113.7,831.3 114.2,831.6 114.8,832.0C115.3,832.4 115.8,833.1 116.3,833.5C116.8,833.8 117.1,835.3 117.8,834.1C118.6,832.8 119.9,828.6 120.9,825.8C122.0,823.1 122.8,821.7 124.0,817.6C125.2,813.5 126.9,806.0 128.1,801.2C129.3,796.4 130.4,791.7 131.2,788.8C132.1,785.9 132.6,784.0 133.3,783.7C134.0,783.3 134.5,785.2 135.3,786.7C136.2,788.3 137.7,792.2 138.4,792.9C139.2,793.6 139.3,791.5 139.8,790.8C140.2,790.2 140.7,789.6 141.2,789.2C141.6,788.9 141.6,789.9 142.5,788.8C143.4,787.7 145.8,784.6 146.7,782.6C147.5,780.7 147.2,779.1 147.7,777.2C148.2,775.2 149.0,773.7 149.6,771.0C150.2,768.3 150.8,764.8 151.4,761.1C152.0,757.4 152.7,752.9 153.3,748.8C153.9,744.7 154.5,740.1 155.1,736.4C155.7,732.7 156.5,728.5 157.0,726.5C157.5,724.6 157.7,725.0 158.1,724.6C158.5,724.2 158.8,723.3 159.2,724.1C159.6,724.8 160.2,726.5 160.7,729.0C161.1,731.5 161.5,735.6 161.9,738.9C162.3,742.2 162.7,745.5 163.1,748.8C163.6,752.1 164.0,755.3 164.4,758.6C164.8,761.9 165.2,765.4 165.6,768.5C166.0,771.6 166.2,774.1 166.9,777.2C167.5,780.2 168.4,784.1 169.3,786.7C170.2,789.4 171.3,791.2 172.4,792.9C173.4,794.6 174.7,796.4 175.5,797.0C176.2,797.7 176.5,797.0 177.0,796.7C177.5,796.3 178.0,795.5 178.5,795.0C179.1,794.5 179.6,793.9 180.1,793.6C180.6,793.3 180.9,791.0 181.6,792.9C182.4,794.9 183.9,803.1 184.7,805.3C185.5,807.4 185.7,805.6 186.3,805.9C186.8,806.2 187.3,807.0 187.8,807.3C188.3,807.7 188.7,807.6 189.2,807.9C189.6,808.3 190.1,808.7 190.5,809.3C191.0,809.9 191.5,810.7 191.9,811.4C192.4,812.2 192.8,813.4 193.3,813.7C193.7,814.1 194.2,813.0 194.7,813.3C195.1,813.6 195.4,815.1 196.0,815.6C196.7,816.0 197.8,816.1 198.7,815.9C199.6,815.7 200.4,814.8 201.3,814.4C202.2,814.1 203.3,813.9 204.0,813.7C204.6,813.5 204.9,813.4 205.3,813.2C205.7,813.0 206.2,812.7 206.6,812.7C207.1,812.8 207.5,813.2 208.0,813.7C208.4,814.2 208.8,815.4 209.3,815.8C209.7,816.2 210.2,815.8 210.6,816.1C211.1,816.4 211.1,816.1 211.9,817.7C212.8,819.3 215.0,823.9 215.9,825.6C216.8,827.3 216.8,827.6 217.2,827.9C217.7,828.2 218.1,827.1 218.6,827.4C219.0,827.7 219.0,830.2 219.9,829.6C220.8,829.0 223.0,824.8 223.9,823.6C224.8,822.5 224.8,823.3 225.2,822.9C225.6,822.5 226.1,821.9 226.5,821.3C227.0,820.8 227.4,819.8 227.8,819.7C228.3,819.5 228.7,820.3 229.2,820.3C229.6,820.3 230.1,819.8 230.5,819.7C230.9,819.5 231.4,819.5 231.8,819.7C232.3,819.9 232.7,820.6 233.2,820.8C233.6,821.0 234.0,820.7 234.5,820.9C234.9,821.0 234.9,822.5 235.8,821.7C236.7,820.8 238.8,817.0 239.8,815.7C240.8,814.4 240.9,812.4 241.8,813.7C242.6,815.0 243.8,820.7 244.8,823.6C245.7,826.6 247.0,830.2 247.7,831.6C248.5,833.0 248.7,831.7 249.2,832.1C249.7,832.4 250.0,834.3 250.7,833.6C251.5,832.9 252.7,827.6 253.7,827.6C254.7,827.6 255.7,831.3 256.7,833.6C257.7,835.9 259.0,840.6 259.7,841.6C260.4,842.5 260.6,839.9 261.0,839.5C261.4,839.0 261.9,839.2 262.3,838.8C262.8,838.5 263.2,837.8 263.6,837.6C264.1,837.3 264.5,837.8 265.0,837.4C265.4,837.0 265.9,835.6 266.3,835.3C266.7,835.0 267.2,835.8 267.6,835.6C268.1,835.4 268.5,834.3 269.0,834.2C269.4,834.1 269.8,835.2 270.3,835.1C270.7,835.0 271.2,833.7 271.6,833.6C272.0,833.5 272.5,834.1 272.9,834.3C273.4,834.6 273.8,834.8 274.3,835.0C274.7,835.2 275.1,835.7 275.6,835.6C276.0,835.5 276.5,835.0 276.9,834.5C277.4,833.9 277.8,832.7 278.2,832.2C278.7,831.7 279.1,831.7 279.6,831.6C280.0,831.5 280.4,831.5 280.9,831.5C281.3,831.4 281.8,831.4 282.2,831.4C282.7,831.4 283.1,831.6 283.5,831.6C284.0,831.6 284.4,831.6 284.9,831.4C285.3,831.2 285.7,830.6 286.2,830.3C286.6,830.0 287.1,829.6 287.5,829.6C288.0,829.7 288.4,830.2 288.8,830.6C289.3,831.0 289.7,831.6 290.2,831.8C290.6,831.9 291.1,831.7 291.5,831.6C291.9,831.5 292.4,831.0 292.8,830.9C293.3,830.8 293.7,831.1 294.1,830.9C294.6,830.7 295.0,829.8 295.5,829.6C295.9,829.4 296.4,829.6 296.8,829.7C297.2,829.9 297.7,830.6 298.1,830.5C298.6,830.5 299.0,829.9 299.5,829.6C299.9,829.3 300.3,829.2 300.8,828.9C301.2,828.6 301.7,828.0 302.1,827.8C302.5,827.6 303.0,827.7 303.4,827.6C303.9,827.5 304.3,827.6 304.8,827.2C305.2,826.8 305.6,826.1 306.1,825.5C306.5,824.9 307.0,823.8 307.4,823.6C307.8,823.4 308.3,823.9 308.7,824.3C309.2,824.7 309.6,825.5 310.1,826.0C310.5,826.6 310.9,827.3 311.4,827.6C311.8,828.0 312.3,828.2 312.7,828.3C313.2,828.3 313.6,827.8 314.0,828.1C314.5,828.3 314.5,828.4 315.4,829.6C316.2,830.9 318.5,834.5 319.3,835.6C320.2,836.7 320.2,836.0 320.7,836.3C321.1,836.7 321.6,836.9 322.0,837.5C322.4,838.0 322.9,839.6 323.3,839.6C323.8,839.6 324.2,838.0 324.6,837.5C325.1,836.9 325.5,836.4 326.0,836.1C326.4,835.8 326.4,836.7 327.3,835.6C328.2,834.5 330.4,830.4 331.3,829.6C332.2,828.9 332.2,830.7 332.6,831.0C333.0,831.3 333.5,831.5 333.9,831.6C334.4,831.7 334.8,831.4 335.3,831.6C335.7,831.8 336.1,832.5 336.6,832.9C337.0,833.3 337.5,833.5 337.9,833.9C338.3,834.4 338.7,835.0 339.2,835.6C339.8,836.2 340.5,837.1 341.2,837.7C341.8,838.2 342.4,838.5 343.1,838.8C343.7,839.1 344.7,839.4 345.0,839.6" stroke="#0c7c0c"/>
<path d="M55.1,815.6C55.3,815.8 56.0,816.3 56.5,816.9C56.9,817.5 57.4,818.6 57.8,819.1C58.3,819.6 58.3,818.5 59.2,819.7C60.1,820.8 62.4,824.7 63.3,825.8C64.2,827.0 64.2,826.3 64.7,826.6C65.1,827.0 65.6,827.8 66.1,828.0C66.5,828.2 67.0,828.0 67.4,827.9C67.9,827.8 68.3,827.4 68.8,827.4C69.3,827.3 69.7,827.8 70.2,827.5C70.6,827.3 71.1,826.3 71.5,825.8C72.0,825.4 72.5,825.0 72.9,824.9C73.4,824.7 73.8,825.0 74.3,824.8C74.7,824.6 75.2,823.8 75.7,823.8C76.1,823.8 76.7,824.4 77.2,824.8C77.7,825.1 78.2,825.6 78.7,825.8C79.3,826.0 79.8,826.0 80.3,826.0C80.8,826.0 81.3,825.8 81.8,825.8C82.3,825.9 82.7,825.8 83.2,826.2C83.7,826.5 84.1,827.5 84.6,827.8C85.0,828.1 85.5,827.6 86.0,827.9C86.4,828.2 87.0,829.2 87.5,829.5C88.0,829.9 88.5,829.7 89.0,830.0C89.6,830.3 90.1,831.0 90.6,831.3C91.1,831.7 91.6,831.7 92.1,832.0C92.6,832.3 93.2,832.9 93.7,833.2C94.2,833.5 94.4,833.2 95.2,834.1C96.0,834.9 97.6,837.7 98.3,838.2C99.0,838.7 99.2,837.2 99.7,837.3C100.1,837.4 100.6,838.6 101.0,838.7C101.5,838.9 101.9,838.3 102.4,838.2C102.9,838.0 103.4,837.9 104.0,837.9C104.5,837.9 105.0,838.4 105.5,838.2C106.0,838.0 106.4,837.0 106.9,836.7C107.3,836.4 107.8,836.4 108.2,836.3C108.7,836.2 108.9,838.6 109.6,836.1C110.4,833.7 111.7,825.8 112.7,821.7C113.7,817.6 115.0,813.4 115.8,811.4C116.6,809.5 116.8,810.3 117.3,810.0C117.8,809.7 118.4,809.4 118.9,809.4C119.4,809.4 119.8,809.6 120.2,810.0C120.7,810.4 121.2,811.5 121.6,812.1C122.1,812.7 122.5,813.3 123.0,813.5C123.5,813.7 124.0,813.6 124.5,813.2C125.0,812.9 125.6,811.9 126.1,811.4C126.6,811.0 127.1,810.9 127.6,810.6C128.1,810.3 128.4,810.3 129.2,809.4C129.9,808.5 131.5,806.2 132.2,805.3C133.0,804.4 133.3,804.4 133.8,804.0C134.3,803.7 134.6,802.0 135.3,803.2C136.1,804.4 137.6,809.4 138.4,811.4C139.3,813.5 139.8,817.3 140.5,815.6C141.2,813.8 141.7,805.3 142.5,801.2C143.4,797.0 144.8,792.8 145.6,790.9C146.4,788.9 146.7,789.9 147.2,789.5C147.7,789.2 148.1,790.3 148.7,788.8C149.3,787.3 150.2,783.5 150.8,780.6C151.3,777.6 151.5,773.8 152.0,771.0C152.6,768.2 153.2,765.6 153.9,763.6C154.6,761.5 155.7,759.5 156.4,758.6C157.0,757.8 157.2,758.9 157.6,758.7C158.0,758.5 158.3,757.4 158.8,757.4C159.3,757.4 160.2,757.2 160.7,758.6C161.2,760.1 161.4,763.6 161.7,766.0C162.0,768.5 161.8,768.3 162.5,773.5C163.3,778.6 165.2,791.2 166.2,797.0C167.2,802.9 167.7,806.3 168.3,808.4C168.9,810.4 169.3,809.1 169.8,809.3C170.3,809.5 170.9,809.4 171.3,809.4C171.8,809.4 172.3,809.5 172.7,809.5C173.2,809.4 173.6,808.9 174.1,808.9C174.5,808.9 175.0,809.2 175.5,809.4C175.9,809.6 176.4,810.2 176.8,810.2C177.3,810.3 177.7,809.9 178.2,809.7C178.7,809.6 179.1,809.4 179.6,809.4C180.0,809.3 180.5,809.7 180.9,809.4C181.4,809.1 181.9,807.9 182.3,807.6C182.8,807.2 182.9,808.1 183.7,807.3C184.4,806.6 185.7,802.5 186.8,803.2C187.8,803.9 188.8,809.0 189.9,811.4C190.9,813.8 191.9,817.6 192.9,817.6C194.0,817.6 195.0,811.4 196.0,811.4C197.1,811.4 198.3,816.3 199.1,817.6C199.9,818.9 200.2,818.7 200.7,819.2C201.3,819.6 201.8,819.8 202.4,820.2C202.9,820.6 203.5,821.4 204.0,821.7C204.5,822.0 204.9,821.7 205.3,822.0C205.7,822.3 206.2,823.3 206.6,823.6C207.1,823.9 207.5,823.5 208.0,823.6C208.4,823.8 208.8,824.1 209.3,824.5C209.7,824.9 210.2,825.8 210.6,826.0C211.1,826.2 211.5,825.4 211.9,825.6C212.4,825.9 212.8,827.3 213.3,827.6C213.7,827.9 214.1,827.0 214.6,827.3C215.0,827.7 215.5,829.0 215.9,829.6C216.4,830.3 216.8,830.8 217.2,831.2C217.7,831.5 218.1,831.4 218.6,831.8C219.0,832.2 219.4,833.1 219.9,833.6C220.3,834.1 220.8,834.5 221.2,834.9C221.7,835.2 222.1,835.4 222.5,835.6C223.0,835.7 223.4,835.9 223.9,835.6C224.3,835.3 224.8,833.9 225.2,833.6C225.6,833.3 226.1,834.1 226.5,833.8C227.0,833.4 227.4,832.2 227.8,831.6C228.3,831.0 228.7,830.7 229.2,830.4C229.6,830.0 230.1,830.1 230.5,829.6C230.9,829.2 231.4,828.1 231.8,827.6C232.3,827.1 232.7,827.1 233.2,826.6C233.6,826.0 234.0,824.8 234.5,824.3C234.9,823.8 235.4,823.7 235.8,823.6C236.2,823.6 236.7,823.7 237.1,823.7C237.6,823.7 238.0,823.6 238.5,823.6C238.9,823.6 239.3,823.7 239.8,823.6C240.2,823.6 240.7,823.3 241.1,823.4C241.5,823.5 242.0,823.9 242.4,824.2C242.9,824.6 243.3,825.5 243.8,825.6C244.2,825.7 244.6,824.6 245.1,824.8C245.5,824.9 246.0,826.3 246.4,826.4C246.9,826.6 247.3,825.8 247.7,825.6C248.2,825.5 248.6,825.7 249.1,825.6C249.5,825.5 249.9,825.0 250.4,825.0C250.8,825.0 251.3,825.5 251.7,825.6C252.2,825.8 252.6,825.9 253.0,826.0C253.5,826.1 253.9,826.1 254.4,826.4C254.8,826.7 255.3,827.7 255.7,827.6C256.1,827.5 256.6,826.4 257.0,825.9C257.5,825.4 257.9,825.1 258.3,824.7C258.8,824.4 259.2,823.7 259.7,823.6C260.1,823.6 260.6,824.0 261.0,824.2C261.4,824.4 261.9,824.7 262.3,824.9C262.8,825.2 263.2,825.4 263.6,825.6C264.1,825.9 264.5,826.7 265.0,826.6C265.4,826.4 265.9,824.9 266.3,824.7C266.7,824.6 267.2,825.4 267.6,825.6C268.1,825.9 268.5,826.0 269.0,826.2C269.4,826.3 269.8,826.2 270.3,826.5C270.7,826.7 271.2,827.2 271.6,827.6C272.0,828.1 272.5,829.0 272.9,829.2C273.4,829.3 273.8,828.6 274.3,828.7C274.7,828.7 275.1,829.7 275.6,829.6C276.0,829.6 276.5,828.5 276.9,828.4C277.4,828.3 277.8,829.2 278.2,829.0C278.7,828.9 279.1,827.8 279.6,827.6C280.0,827.4 280.4,827.4 280.9,827.7C281.3,828.0 281.8,828.8 282.2,829.2C282.7,829.5 283.1,829.6 283.5,829.6C284.0,829.6 284.4,829.4 284.9,829.3C285.3,829.2 285.7,829.4 286.2,829.2C286.6,828.9 287.1,827.9 287.5,827.6C288.0,827.3 288.4,827.4 288.8,827.4C289.3,827.4 289.7,827.8 290.2,827.9C290.6,827.9 291.1,827.8 291.5,827.6C291.9,827.4 292.4,827.1 292.8,826.7C293.3,826.3 293.7,825.6 294.1,825.4C294.6,825.2 295.0,825.5 295.5,825.6C295.9,825.8 296.4,826.2 296.8,826.3C297.2,826.5 297.7,826.5 298.1,826.4C298.6,826.3 299.0,825.5 299.5,825.6C299.9,825.8 300.3,827.0 300.8,827.1C301.2,827.2 301.7,826.1 302.1,826.2C302.5,826.3 303.0,827.1 303.4,827.6C303.9,828.2 304.3,829.2 304.8,829.5C305.2,829.8 305.6,829.0 306.1,829.3C306.5,829.7 307.0,831.3 307.4,831.6C307.8,831.9 308.3,831.0 308.7,831.3C309.2,831.6 309.6,833.0 310.1,833.4C310.5,833.8 310.9,833.6 311.4,833.6C311.8,833.6 312.3,833.4 312.7,833.2C313.2,833.1 313.6,832.7 314.0,832.5C314.5,832.2 314.9,831.4 315.4,831.6C315.8,831.8 316.2,833.5 316.7,833.9C317.1,834.3 317.6,833.7 318.0,834.0C318.5,834.3 318.9,835.1 319.3,835.6C319.8,836.1 320.2,836.6 320.7,837.2C321.1,837.7 321.6,838.5 322.0,838.9C322.4,839.3 322.9,839.7 323.3,839.6C323.8,839.4 324.2,838.6 324.6,838.2C325.1,837.7 325.5,837.2 326.0,836.8C326.4,836.3 326.9,835.9 327.3,835.6C327.7,835.3 328.2,835.5 328.6,835.0C329.1,834.5 329.5,833.2 329.9,832.6C330.4,832.0 330.8,831.9 331.3,831.6C331.7,831.3 332.2,831.2 332.6,830.7C333.0,830.1 333.5,828.8 333.9,828.3C334.4,827.8 334.8,827.4 335.3,827.6C335.7,827.8 336.1,828.8 336.6,829.4C337.0,829.9 337.5,830.5 337.9,830.9C338.3,831.3 338.7,831.4 339.2,831.6C339.8,831.8 340.5,831.6 341.2,831.9C341.8,832.2 342.4,833.1 343.1,833.4C343.7,833.7 344.7,833.6 345.0,833.6" stroke="#07076a"/>
</g>
<rect x="55.3" y="626.2" width="290.0" height="233.79999999999995" fill="none" stroke="#2e2e2e" stroke-width="1.25"/>
<text transform="translate(47.0,848.9) scale(0.9,1)" text-anchor="end" font-size="10.6">0.000</text>
<text transform="translate(47.0,819.7) scale(0.9,1)" text-anchor="end" font-size="10.6">0.002</text>
<text transform="translate(47.0,790.4) scale(0.9,1)" text-anchor="end" font-size="10.6">0.004</text>
<text transform="translate(47.0,761.2) scale(0.9,1)" text-anchor="end" font-size="10.6">0.006</text>
<text transform="translate(47.0,732.0) scale(0.9,1)" text-anchor="end" font-size="10.6">0.008</text>
<text transform="translate(47.0,702.8) scale(0.9,1)" text-anchor="end" font-size="10.6">0.010</text>
<text transform="translate(47.0,673.5) scale(0.9,1)" text-anchor="end" font-size="10.6">0.012</text>
<text transform="translate(47.0,644.3) scale(0.9,1)" text-anchor="end" font-size="10.6">0.014</text>
<text x="109.3" y="875.7" text-anchor="middle" font-size="10">200</text>
<text x="176.7" y="875.7" text-anchor="middle" font-size="10">400</text>
<text x="244.1" y="875.7" text-anchor="middle" font-size="10">600</text>
<text x="311.6" y="875.7" text-anchor="middle" font-size="10">800</text>
<path d="M53.0,860.0H55.3 M50.3,845.4H55.3 M53.0,830.8H55.3 M50.3,816.2H55.3 M53.0,801.5H55.3 M50.3,786.9H55.3 M53.0,772.3H55.3 M50.3,757.7H55.3 M53.0,743.1H55.3 M50.3,728.5H55.3 M53.0,713.9H55.3 M50.3,699.3H55.3 M53.0,684.7H55.3 M50.3,670.0H55.3 M53.0,655.4H55.3 M50.3,640.8H55.3 M53.0,626.2H55.3 M75.5,860.0V862.3 M109.3,860.0V865.0 M143.0,860.0V862.3 M176.7,860.0V865.0 M210.4,860.0V862.3 M244.1,860.0V865.0 M277.9,860.0V862.3 M311.6,860.0V865.0 M345.3,860.0V862.3" stroke="#2e2e2e" stroke-width="1.0" fill="none"/>
<text x="70.0" y="650.9" font-size="14">d</text>
<path d="M205.7,657.5H232.5" stroke="#000000" stroke-width="2.7" stroke-linecap="round"/>
<text x="236.4" y="661.8" font-size="12">Non-catalyst</text>
<path d="M205.7,672.4H232.5" stroke="#e01010" stroke-width="2.7" stroke-linecap="round"/>
<text x="236.4" y="676.7" font-size="12">CaO:stover=1:20</text>
<path d="M205.7,687.3H232.5" stroke="#0c0cd8" stroke-width="2.7" stroke-linecap="round"/>
<text x="236.4" y="691.6" font-size="12">CaO:stover=1:10</text>
<path d="M205.7,702.1H232.5" stroke="#e820e8" stroke-width="2.7" stroke-linecap="round"/>
<text x="236.4" y="706.4" font-size="12">CaO:stover=1:5</text>
<path d="M205.7,717.0H232.5" stroke="#0c7c0c" stroke-width="2.7" stroke-linecap="round"/>
<text x="236.4" y="721.3" font-size="12">CaO:stover=1:2</text>
<path d="M205.7,731.9H232.5" stroke="#07076a" stroke-width="2.7" stroke-linecap="round"/>
<text x="236.4" y="736.2" font-size="12">CaO:stover=1:1</text>
<text x="155.6" y="894.0" font-size="12.25">Temperature(</text>
<circle cx="231.0" cy="886.1" r="0.8" fill="none" stroke="#555" stroke-width="0.7"/>
<text x="231.8" y="894.0" font-size="12.4" fill="#5a5a5a" style="stroke:none">C</text>
<text x="241.3" y="894.0" font-size="12">)</text>
<text x="200.3" y="909.3" text-anchor="middle" font-size="12">Acids</text>
<text x="0" y="0" transform="translate(10.2,736.9) rotate(-90)" text-anchor="middle" font-size="12">Absorbance</text>
<clipPath id="clipe"><rect x="438.5" y="626.5" width="290.0" height="234.0"/></clipPath>
<g clip-path="url(#clipe)" fill="none" stroke-width="3" stroke-linejoin="round" stroke-linecap="round">
<path d="M438.1,842.3C438.6,841.3 440.4,837.2 441.2,836.1C441.9,835.1 442.1,836.0 442.5,835.9C443.0,835.8 443.5,836.0 443.9,835.7C444.4,835.4 444.8,834.6 445.3,834.1C445.7,833.6 446.2,833.1 446.7,832.7C447.1,832.3 447.6,831.7 448.0,831.6C448.5,831.5 448.9,832.1 449.4,832.0C449.9,831.9 450.3,831.5 450.8,831.2C451.2,830.8 451.7,830.0 452.1,829.8C452.6,829.6 453.1,830.1 453.5,830.0C454.0,829.8 454.4,829.2 454.9,829.1C455.3,829.0 455.8,829.4 456.3,829.2C456.7,829.0 457.2,828.4 457.6,827.9C458.1,827.4 458.5,826.5 459.0,826.4C459.5,826.4 459.9,827.5 460.4,827.4C460.8,827.3 461.3,826.2 461.7,825.8C462.2,825.5 462.7,825.6 463.1,825.5C463.6,825.4 464.0,825.3 464.5,825.2C464.9,825.1 465.4,824.6 465.9,824.8C466.3,825.0 466.8,826.3 467.2,826.4C467.7,826.6 468.2,825.8 468.6,825.7C469.1,825.6 469.5,825.9 470.0,825.8C470.4,825.8 470.9,825.4 471.4,825.6C471.8,825.8 472.3,826.8 472.7,827.2C473.2,827.5 473.6,827.5 474.1,827.9C474.6,828.3 475.0,829.1 475.5,829.3C475.9,829.5 476.4,828.8 476.8,828.9C477.3,829.0 477.8,829.9 478.2,830.0C478.7,830.1 479.1,829.3 479.6,829.5C480.0,829.8 480.5,831.0 481.0,831.4C481.4,831.8 481.9,831.9 482.3,832.0C482.8,832.1 483.2,832.2 483.7,832.2C484.2,832.1 484.6,831.5 485.1,831.5C485.5,831.4 486.0,831.9 486.4,832.0C486.9,832.1 487.4,832.2 487.8,831.9C488.3,831.5 488.7,830.0 489.2,829.7C489.6,829.4 490.1,830.1 490.6,830.0C491.0,829.8 491.5,828.9 491.9,828.6C492.4,828.3 492.8,828.7 493.3,828.3C493.8,827.8 494.2,826.3 494.7,825.8C495.1,825.4 495.6,826.1 496.0,825.8C496.5,825.4 497.0,824.5 497.4,823.8C497.9,823.2 498.3,822.0 498.8,821.7C499.2,821.5 499.7,822.5 500.2,822.3C500.6,822.2 501.1,821.4 501.5,821.0C502.0,820.5 502.0,820.9 502.9,819.7C503.8,818.4 505.8,816.6 507.0,813.5C508.2,810.4 509.1,806.0 510.1,801.2C511.1,796.4 512.3,789.8 513.2,784.7C514.0,779.5 514.5,774.9 515.2,770.3C516.0,765.7 517.2,762.1 517.9,757.3C518.7,752.4 519.2,746.4 519.8,741.2C520.3,736.1 520.5,730.1 521.0,726.4C521.5,722.7 522.2,720.8 522.8,719.0C523.5,717.3 524.1,715.9 524.7,715.9C525.3,715.9 525.9,717.7 526.5,719.0C527.2,720.3 527.8,722.3 528.4,724.0C529.0,725.6 529.6,730.5 530.2,728.9C530.9,727.2 531.6,719.2 532.3,714.1C533.1,708.9 533.8,703.4 534.6,698.0C535.3,692.7 536.3,686.5 537.0,682.0C537.8,677.4 538.5,673.2 539.3,670.9C540.0,668.5 540.7,667.9 541.4,667.8C542.0,667.7 542.7,668.2 543.2,670.2C543.8,672.3 544.2,675.8 544.7,680.1C545.1,684.4 545.5,690.4 545.9,696.2C546.3,701.9 546.7,708.5 547.2,714.7C547.6,720.9 548.1,723.9 548.4,733.2C548.7,742.5 549.0,767.2 549.2,770.3C549.4,773.4 549.1,749.3 549.6,751.7C550.1,754.1 551.3,777.1 552.3,784.7C553.2,792.2 554.3,793.6 555.4,797.0C556.4,800.5 557.4,802.9 558.5,805.3C559.5,807.7 560.7,809.7 561.5,811.4C562.4,813.2 562.7,815.6 563.6,815.6C564.5,815.6 565.9,812.1 566.7,811.4C567.4,810.7 567.6,811.1 568.1,811.3C568.5,811.5 569.0,812.3 569.4,812.6C569.9,813.0 570.3,813.3 570.8,813.5C571.3,813.7 571.7,814.2 572.2,814.0C572.6,813.8 573.1,812.3 573.5,812.2C574.0,812.2 574.5,812.9 574.9,813.5C575.4,814.1 575.8,815.2 576.3,815.8C576.7,816.4 577.2,817.0 577.7,817.3C578.1,817.7 578.5,817.7 579.0,817.6C579.5,817.5 580.2,816.7 580.7,816.9C581.3,817.1 581.8,818.4 582.4,818.8C583.0,819.2 583.6,818.9 584.1,819.3C584.6,819.6 585.0,820.4 585.5,820.9C585.9,821.4 586.4,821.8 586.8,822.2C587.3,822.6 587.7,823.2 588.2,823.4C588.6,823.5 589.1,822.5 589.5,822.9C590.0,823.3 590.4,825.3 590.9,825.7C591.4,826.1 591.8,825.5 592.3,825.4C592.7,825.4 593.2,825.3 593.6,825.4C594.1,825.4 594.5,825.3 595.0,825.6C595.4,826.0 595.9,827.2 596.4,827.4C596.8,827.7 597.3,827.4 597.7,827.2C598.2,827.0 598.6,826.6 599.1,826.3C599.5,826.0 600.0,825.8 600.4,825.4C600.9,825.0 601.3,824.3 601.8,824.0C602.3,823.8 602.7,824.2 603.2,824.1C603.6,824.0 604.1,823.4 604.5,823.4C605.0,823.3 605.4,823.7 605.9,824.0C606.3,824.3 606.8,824.6 607.3,825.2C607.7,825.7 608.2,826.8 608.6,827.4C609.1,828.1 609.5,829.3 610.0,829.3C610.4,829.4 610.9,827.7 611.3,827.7C611.8,827.8 611.8,828.2 612.7,829.5C613.6,830.8 615.9,834.5 616.8,835.6C617.7,836.8 617.7,835.8 618.2,836.3C618.6,836.7 619.1,838.0 619.5,838.2C620.0,838.4 620.4,838.1 620.9,837.7C621.3,837.3 621.8,836.2 622.2,835.8C622.7,835.4 623.1,835.5 623.6,835.5C624.1,835.4 624.5,835.5 625.0,835.6C625.4,835.7 625.9,835.8 626.3,835.9C626.8,836.0 627.2,836.3 627.7,836.2C628.1,836.2 628.6,835.7 629.1,835.6C629.5,835.6 630.0,835.9 630.4,835.9C630.9,835.8 631.3,835.6 631.8,835.2C632.2,834.9 632.7,834.3 633.1,833.6C633.6,832.9 634.0,831.6 634.5,831.0C635.0,830.3 635.4,829.9 635.9,829.7C636.3,829.4 636.8,829.6 637.2,829.5C637.7,829.4 638.1,829.5 638.6,829.1C639.0,828.7 639.5,827.4 640.0,827.1C640.4,826.8 640.9,827.1 641.3,827.4C641.8,827.8 642.2,828.6 642.7,829.1C643.1,829.5 643.6,830.0 644.0,830.0C644.5,830.1 645.0,829.3 645.4,829.5C645.9,829.7 646.3,830.6 646.8,831.0C647.2,831.4 647.7,831.8 648.1,831.9C648.6,832.0 649.0,831.7 649.5,831.5C649.9,831.4 650.4,830.6 650.9,831.0C651.3,831.5 651.8,833.6 652.2,834.0C652.7,834.5 653.1,833.7 653.6,833.6C654.0,833.5 654.5,833.6 654.9,833.5C655.4,833.5 655.9,833.4 656.3,833.4C656.8,833.4 657.2,833.5 657.7,833.6C658.1,833.7 658.6,834.4 659.0,834.0C659.5,833.5 659.9,831.4 660.4,831.0C660.8,830.6 661.3,831.5 661.8,831.5C662.2,831.6 662.7,831.8 663.1,831.5C663.6,831.1 664.0,829.5 664.5,829.2C664.9,828.8 665.4,829.9 665.8,829.5C666.3,829.1 666.8,827.2 667.2,826.8C667.7,826.5 668.1,827.5 668.6,827.2C669.0,827.0 669.5,826.0 669.9,825.4C670.4,824.8 670.8,823.7 671.3,823.7C671.7,823.6 672.2,825.3 672.7,825.2C673.1,825.2 673.6,823.4 674.0,823.4C674.5,823.3 674.9,824.3 675.4,824.8C675.8,825.3 676.3,826.0 676.7,826.4C677.2,826.9 677.7,827.4 678.1,827.4C678.6,827.5 679.0,826.7 679.5,826.9C679.9,827.1 680.4,828.2 680.8,828.7C681.3,829.1 681.3,828.3 682.2,829.5C683.1,830.6 685.4,834.6 686.3,835.6C687.2,836.7 687.2,835.4 687.6,835.7C688.1,836.1 688.6,837.0 689.0,837.7C689.5,838.3 689.9,839.6 690.4,839.7C690.8,839.8 691.3,838.5 691.7,838.3C692.2,838.1 692.6,838.8 693.1,838.7C693.5,838.6 694.0,837.7 694.5,837.7C694.9,837.6 695.4,838.2 695.8,838.4C696.3,838.6 696.7,838.9 697.2,838.8C697.6,838.7 698.1,838.0 698.5,837.7C699.0,837.3 699.5,836.7 699.9,836.5C700.4,836.3 700.8,836.6 701.3,836.4C701.7,836.3 702.2,836.0 702.6,835.6C703.1,835.3 703.5,834.6 704.0,834.3C704.5,834.1 704.9,834.4 705.4,834.2C705.8,834.1 706.3,834.1 706.7,833.6C707.2,833.0 707.6,831.4 708.1,831.0C708.5,830.5 709.0,831.0 709.4,830.7C709.9,830.5 710.4,829.6 710.8,829.5C711.3,829.3 711.7,829.8 712.2,829.8C712.6,829.9 713.1,829.9 713.5,829.8C714.0,829.8 714.4,829.7 714.9,829.5C715.4,829.3 715.8,829.0 716.3,828.6C716.7,828.3 717.2,827.5 717.6,827.3C718.1,827.1 718.5,827.5 719.0,827.4C719.4,827.4 719.9,826.8 720.3,826.8C720.8,826.8 721.3,827.3 721.7,827.4C722.2,827.5 722.5,827.2 723.1,827.4C723.6,827.7 724.4,829.1 725.0,829.2C725.7,829.2 726.4,827.8 727.0,827.9C727.7,827.9 728.7,829.2 729.0,829.5" stroke="#000000"/>
<path d="M438.1,836.1C438.3,836.2 439.1,836.5 439.6,836.8C440.1,837.2 440.7,838.0 441.2,838.2C441.7,838.3 442.1,837.6 442.5,837.7C443.0,837.7 443.5,838.3 443.9,838.7C444.4,839.2 444.8,840.0 445.3,840.2C445.7,840.5 446.2,840.2 446.7,840.4C447.1,840.7 447.6,841.5 448.0,841.7C448.5,841.8 448.5,842.2 449.4,841.3C450.3,840.4 452.6,837.2 453.5,836.1C454.4,835.0 454.4,835.1 454.9,834.6C455.3,834.2 455.8,833.8 456.3,833.4C456.7,833.0 457.2,832.6 457.6,832.0C458.1,831.4 458.5,830.3 459.0,829.8C459.5,829.3 459.9,829.5 460.4,829.2C460.8,828.9 461.3,828.3 461.7,827.9C462.2,827.5 462.7,826.8 463.1,826.7C463.6,826.6 464.0,827.4 464.5,827.3C464.9,827.2 465.4,826.0 465.9,825.8C466.3,825.7 466.8,825.9 467.2,826.2C467.7,826.5 468.2,827.2 468.6,827.5C469.1,827.8 469.5,827.9 470.0,827.9C470.4,827.9 470.9,827.5 471.4,827.6C471.8,827.7 472.3,828.1 472.7,828.5C473.2,828.9 473.6,829.6 474.1,830.0C474.6,830.3 475.0,830.2 475.5,830.5C475.9,830.7 476.4,831.3 476.8,831.5C477.3,831.8 477.8,831.9 478.2,832.0C478.7,832.1 479.1,832.4 479.6,832.3C480.0,832.2 480.5,831.3 481.0,831.5C481.4,831.6 481.9,832.7 482.3,833.0C482.8,833.4 483.2,833.6 483.7,833.6C484.2,833.6 484.6,833.5 485.1,833.2C485.5,833.0 486.0,832.4 486.4,832.0C486.9,831.6 487.4,831.1 487.8,830.7C488.3,830.4 488.7,830.2 489.2,829.8C489.6,829.3 490.1,828.4 490.6,827.9C491.0,827.4 491.5,827.2 491.9,826.6C492.4,826.0 492.8,824.8 493.3,824.3C493.8,823.8 494.2,823.7 494.7,823.8C495.1,823.9 495.6,825.0 496.0,825.0C496.5,825.1 497.0,824.0 497.4,824.1C497.9,824.2 498.3,825.5 498.8,825.8C499.2,826.2 499.7,826.6 500.2,826.3C500.6,825.9 501.1,824.2 501.5,823.8C502.0,823.4 502.0,825.2 502.9,823.8C503.8,822.4 505.8,819.0 507.0,815.6C508.2,812.1 509.1,808.0 510.1,803.2C511.1,798.4 511.6,793.8 513.2,786.7C514.8,779.7 518.2,766.3 519.8,761.0C521.3,755.7 521.4,757.3 522.2,754.8C523.0,752.3 523.9,749.3 524.7,746.2C525.5,743.1 526.3,739.6 527.2,736.3C528.0,733.0 528.8,730.9 529.6,726.4C530.5,721.9 531.3,714.9 532.1,709.1C532.9,703.4 533.7,698.0 534.6,691.9C535.4,685.7 536.3,678.1 537.0,672.1C537.8,666.1 538.5,659.7 539.3,656.0C540.0,652.4 540.7,651.3 541.4,650.5C542.0,649.7 542.7,649.8 543.2,651.4C543.7,652.9 543.9,655.5 544.2,659.8C544.5,664.0 544.7,671.1 545.1,677.0C545.4,683.0 545.8,689.4 546.2,695.6C546.6,701.7 547.0,707.9 547.4,714.1C547.8,720.2 548.2,726.4 548.6,732.6C549.1,738.8 549.6,743.1 549.9,751.1C550.1,759.1 549.7,774.3 550.2,780.6C550.8,786.9 552.3,786.1 553.3,788.8C554.3,791.6 555.4,795.0 556.4,797.0C557.4,799.1 558.7,800.1 559.5,801.2C560.3,802.2 560.5,802.8 561.0,803.1C561.5,803.5 562.1,802.8 562.6,803.2C563.1,803.7 563.5,805.5 563.9,805.8C564.4,806.1 564.9,804.7 565.3,805.0C565.8,805.3 566.2,806.6 566.7,807.3C567.1,808.0 567.6,809.0 568.1,809.2C568.5,809.5 569.0,808.6 569.4,809.0C569.9,809.4 570.3,811.0 570.8,811.4C571.3,811.9 571.7,811.8 572.2,811.9C572.6,812.0 573.1,811.9 573.5,812.2C574.0,812.4 574.5,813.3 574.9,813.5C575.4,813.7 575.8,813.1 576.3,813.4C576.7,813.6 577.2,814.5 577.7,814.9C578.1,815.3 578.1,813.8 579.0,815.6C579.9,817.3 582.1,823.4 583.1,825.4C584.0,827.4 584.1,827.0 584.6,827.3C585.1,827.7 585.6,827.3 586.1,827.4C586.6,827.6 587.0,828.0 587.5,828.1C587.9,828.1 588.4,827.4 588.9,827.7C589.3,827.9 589.8,829.2 590.2,829.5C590.7,829.8 591.1,829.2 591.6,829.3C592.0,829.4 592.5,829.5 592.9,829.9C593.4,830.3 593.9,831.4 594.3,831.5C594.8,831.7 595.2,830.8 595.7,830.6C596.1,830.5 596.6,830.5 597.0,830.6C597.5,830.8 597.9,831.3 598.4,831.5C598.8,831.8 599.3,831.6 599.8,832.1C600.2,832.6 600.7,833.8 601.1,834.3C601.6,834.9 602.0,835.5 602.5,835.6C602.9,835.7 603.4,835.1 603.8,835.0C604.3,834.9 604.8,834.7 605.2,834.8C605.7,834.9 606.1,835.2 606.6,835.6C607.0,836.0 607.5,837.3 607.9,837.3C608.4,837.4 608.8,835.7 609.3,835.8C609.8,835.8 610.2,837.4 610.7,837.7C611.1,838.0 611.6,837.7 612.0,837.5C612.5,837.4 612.9,836.5 613.4,836.5C613.8,836.6 614.3,837.5 614.7,837.7C615.2,837.8 615.7,837.4 616.1,837.6C616.6,837.7 617.0,838.2 617.5,838.5C617.9,838.9 618.4,839.8 618.8,839.7C619.3,839.6 619.7,838.3 620.2,838.1C620.7,837.9 621.1,838.4 621.6,838.3C622.0,838.2 622.5,837.9 622.9,837.7C623.4,837.4 623.8,837.2 624.3,836.8C624.7,836.5 625.2,836.0 625.6,835.8C626.1,835.6 626.6,835.8 627.0,835.6C627.5,835.4 627.9,834.8 628.4,834.5C628.8,834.2 629.3,834.0 629.7,833.8C630.2,833.7 630.6,833.8 631.1,833.6C631.6,833.4 632.0,832.9 632.5,832.8C632.9,832.6 633.4,833.1 633.8,832.9C634.3,832.7 634.7,831.8 635.2,831.5C635.6,831.2 636.1,830.7 636.5,831.2C637.0,831.6 637.5,833.7 637.9,834.1C638.4,834.5 638.8,833.4 639.3,833.6C639.7,833.7 640.2,834.7 640.6,835.0C641.1,835.3 641.5,835.2 642.0,835.3C642.5,835.4 642.9,835.6 643.4,835.6C643.8,835.6 644.3,835.1 644.7,835.2C645.2,835.3 645.6,835.7 646.1,836.1C646.5,836.5 647.0,837.5 647.4,837.7C647.9,837.8 648.4,837.1 648.8,836.9C649.3,836.7 649.7,836.3 650.2,836.5C650.6,836.6 651.1,837.3 651.5,837.7C652.0,838.1 652.4,838.9 652.9,838.9C653.4,839.0 653.8,838.1 654.3,837.9C654.7,837.6 655.2,837.7 655.6,837.7C656.1,837.7 656.5,837.7 657.0,837.8C657.4,837.9 657.9,838.3 658.3,838.4C658.8,838.6 659.3,838.5 659.7,838.7C660.2,838.9 660.6,839.8 661.1,839.8C661.5,839.8 662.0,838.7 662.4,838.7C662.9,838.7 663.3,839.7 663.8,839.7C664.3,839.7 664.7,838.8 665.2,838.5C665.6,838.2 666.1,838.0 666.5,837.9C667.0,837.7 667.4,837.8 667.9,837.7C668.3,837.5 668.8,837.2 669.3,836.8C669.7,836.5 670.2,835.6 670.6,835.4C671.1,835.2 671.5,835.6 672.0,835.6C672.4,835.6 672.9,835.3 673.3,835.5C673.8,835.6 674.2,836.5 674.7,836.5C675.2,836.5 675.6,835.6 676.1,835.6C676.5,835.6 677.0,836.5 677.4,836.6C677.9,836.8 678.3,836.3 678.8,836.3C679.2,836.3 679.7,836.7 680.2,836.6C680.6,836.6 681.1,836.2 681.5,836.1C682.0,836.1 682.4,836.2 682.9,836.4C683.3,836.7 683.8,837.3 684.2,837.7C684.7,838.0 685.1,838.8 685.6,838.7C686.1,838.6 686.5,837.4 687.0,837.2C687.4,837.0 687.9,837.3 688.3,837.7C688.8,838.0 689.2,839.2 689.7,839.2C690.1,839.2 690.6,837.8 691.1,837.7C691.5,837.6 692.0,838.6 692.4,838.7C692.9,838.8 693.3,838.1 693.8,838.3C694.2,838.5 694.7,839.8 695.1,839.9C695.6,839.9 696.0,839.0 696.5,838.7C697.0,838.4 697.4,838.3 697.9,838.1C698.3,838.0 698.8,837.6 699.2,837.7C699.7,837.8 700.1,838.5 700.6,838.7C701.0,838.9 701.5,838.8 702.0,838.7C702.4,838.5 702.9,837.9 703.3,837.7C703.8,837.6 704.2,837.8 704.7,837.7C705.1,837.6 705.6,837.5 706.0,837.2C706.5,836.9 706.9,836.1 707.4,835.8C707.9,835.6 708.3,836.0 708.8,835.6C709.2,835.3 709.7,833.9 710.1,833.8C710.6,833.7 711.0,835.1 711.5,835.0C711.9,835.0 712.4,833.8 712.9,833.6C713.3,833.3 713.8,833.8 714.2,833.4C714.7,833.1 715.1,832.0 715.6,831.7C716.0,831.4 716.5,831.5 716.9,831.5C717.4,831.6 717.8,832.1 718.3,831.9C718.8,831.7 719.2,830.4 719.7,830.3C720.1,830.2 720.6,831.4 721.0,831.5C721.5,831.7 721.9,831.3 722.4,831.1C722.8,830.9 723.3,830.5 723.8,830.2C724.2,829.9 724.7,829.7 725.1,829.5C725.6,829.3 726.0,829.1 726.4,829.3C726.8,829.4 727.3,830.5 727.7,830.6C728.1,830.6 728.8,829.7 729.0,829.5" stroke="#e01010"/>
<path d="M438.1,827.9C438.6,828.6 440.4,831.4 441.2,832.0C441.9,832.6 442.1,831.8 442.5,831.6C443.0,831.4 443.5,831.0 443.9,831.1C444.4,831.2 444.8,832.1 445.3,832.0C445.7,831.9 446.2,831.0 446.7,830.6C447.1,830.1 447.6,829.5 448.0,829.4C448.5,829.3 448.9,830.1 449.4,830.0C449.9,829.8 450.3,828.7 450.8,828.6C451.2,828.6 451.7,829.6 452.1,829.5C452.6,829.4 453.1,828.3 453.5,827.9C454.0,827.5 454.4,827.7 454.9,827.3C455.3,826.9 455.8,826.0 456.3,825.7C456.7,825.5 457.2,825.9 457.6,825.8C458.1,825.8 458.5,825.4 459.0,825.6C459.5,825.8 459.9,826.6 460.4,827.0C460.8,827.4 461.3,827.7 461.7,827.9C462.2,828.1 462.7,827.9 463.1,828.3C463.6,828.7 464.0,830.1 464.5,830.4C464.9,830.6 465.4,829.9 465.9,830.0C466.3,830.0 466.8,830.2 467.2,830.6C467.7,831.0 468.2,832.1 468.6,832.3C469.1,832.6 469.2,831.4 470.0,832.0C470.7,832.6 472.0,834.8 473.1,836.1C474.1,837.5 475.1,840.2 476.2,840.2C477.2,840.2 478.5,836.8 479.2,836.1C480.0,835.5 480.3,836.6 480.8,836.3C481.3,835.9 481.8,834.3 482.3,834.1C482.8,833.8 483.2,834.6 483.7,834.7C484.2,834.9 484.6,834.8 485.1,835.1C485.5,835.3 486.0,836.2 486.4,836.1C486.9,836.0 487.4,834.8 487.8,834.6C488.3,834.4 488.7,835.1 489.2,835.1C489.6,835.0 490.1,834.2 490.6,834.1C491.0,834.0 491.5,834.6 491.9,834.4C492.4,834.2 492.8,833.3 493.3,832.9C493.8,832.5 494.2,832.5 494.7,832.0C495.1,831.5 495.6,830.1 496.0,829.7C496.5,829.3 497.0,829.9 497.4,829.6C497.9,829.3 498.3,828.3 498.8,827.9C499.2,827.5 499.7,827.7 500.2,827.3C500.6,827.0 501.1,826.1 501.5,825.8C502.0,825.6 502.0,826.9 502.9,825.8C503.8,824.8 505.6,822.1 507.0,819.7C508.4,817.3 509.8,814.5 511.1,811.4C512.5,808.4 514.0,805.3 515.2,801.2C516.4,797.0 517.3,791.9 518.3,786.7C519.4,781.6 520.5,775.2 521.4,770.3C522.4,765.4 523.2,761.5 524.1,757.3C524.9,753.1 525.7,749.1 526.5,744.9C527.4,740.8 528.2,737.1 529.0,732.6C529.8,728.1 530.7,722.9 531.5,717.8C532.3,712.6 533.1,706.9 534.0,701.7C534.8,696.6 535.6,691.9 536.4,686.9C537.2,682.0 538.1,675.4 538.9,672.1C539.7,668.8 540.6,667.6 541.4,667.2C542.1,666.7 542.7,667.6 543.2,669.6C543.8,671.7 544.2,675.2 544.7,679.5C545.1,683.8 545.5,689.8 545.9,695.6C546.3,701.3 546.7,707.9 547.2,714.1C547.6,720.2 548.1,722.2 548.4,732.6C548.7,743.0 549.0,773.4 549.2,776.5C549.4,779.5 549.3,750.1 549.6,751.1C550.0,752.1 550.7,777.1 551.3,782.6C551.8,788.2 552.3,783.9 552.8,784.3C553.3,784.6 553.8,784.4 554.3,784.7C554.9,785.0 555.4,786.0 555.9,786.0C556.4,786.0 556.9,784.9 557.4,784.7C557.9,784.5 558.5,784.9 559.0,784.6C559.5,784.2 559.9,781.6 560.5,782.6C561.1,783.7 561.5,788.5 562.6,790.9C563.6,793.3 565.8,795.6 566.7,797.0C567.6,798.5 567.6,799.0 568.1,799.6C568.5,800.2 569.0,800.6 569.4,800.8C569.9,801.1 570.3,800.7 570.8,801.2C571.3,801.6 571.7,803.1 572.2,803.6C572.6,804.1 573.1,803.6 573.5,803.9C574.0,804.2 574.5,805.0 574.9,805.3C575.4,805.5 575.8,805.0 576.3,805.2C576.7,805.5 577.2,806.3 577.7,806.6C578.1,807.0 578.1,806.2 579.0,807.3C579.9,808.4 582.1,812.1 583.1,813.1C584.0,814.2 584.1,813.5 584.6,813.8C585.1,814.2 585.6,814.9 586.1,815.2C586.6,815.5 587.0,815.1 587.5,815.8C587.9,816.4 588.4,818.4 588.9,819.0C589.3,819.6 589.8,818.8 590.2,819.3C590.7,819.7 591.1,821.1 591.6,821.7C592.0,822.2 592.5,822.4 592.9,822.7C593.4,823.0 593.9,823.0 594.3,823.4C594.8,823.7 595.2,824.6 595.7,824.8C596.1,825.0 596.6,824.6 597.0,824.7C597.5,824.8 597.9,824.9 598.4,825.4C598.8,825.9 599.3,827.2 599.8,827.7C600.2,828.2 600.7,828.1 601.1,828.4C601.6,828.7 602.0,829.3 602.5,829.5C602.9,829.7 603.4,829.4 603.8,829.6C604.3,829.7 604.8,830.5 605.2,830.5C605.7,830.5 606.1,829.8 606.6,829.5C607.0,829.2 607.5,829.1 607.9,828.9C608.4,828.8 608.8,828.8 609.3,828.6C609.8,828.3 610.2,827.8 610.7,827.4C611.1,827.1 611.6,826.6 612.0,826.3C612.5,826.1 612.9,826.3 613.4,826.1C613.8,826.0 614.3,825.7 614.7,825.4C615.2,825.1 615.7,824.9 616.1,824.5C616.6,824.1 617.0,823.2 617.5,823.0C617.9,822.8 618.4,823.1 618.8,823.4C619.3,823.7 619.7,824.5 620.2,824.8C620.7,825.1 621.1,824.9 621.6,825.0C622.0,825.1 622.5,825.4 622.9,825.4C623.4,825.4 623.8,824.8 624.3,825.2C624.7,825.5 625.2,827.2 625.6,827.5C626.1,827.9 626.6,827.3 627.0,827.4C627.5,827.6 627.9,828.6 628.4,828.7C628.8,828.7 629.3,827.4 629.7,827.6C630.2,827.7 630.6,829.0 631.1,829.5C631.6,830.0 632.0,830.3 632.5,830.7C632.9,831.1 633.4,831.8 633.8,831.9C634.3,832.1 634.7,831.7 635.2,831.5C635.6,831.4 636.1,830.7 636.5,830.8C637.0,830.9 637.5,831.9 637.9,832.1C638.4,832.2 638.8,831.6 639.3,831.5C639.7,831.5 640.2,832.2 640.6,831.7C641.1,831.3 641.5,829.3 642.0,829.0C642.5,828.6 642.9,829.1 643.4,829.5C643.8,829.9 644.3,831.0 644.7,831.2C645.2,831.5 645.6,830.9 646.1,831.0C646.5,831.0 647.0,831.1 647.4,831.5C647.9,832.0 648.4,833.1 648.8,833.6C649.3,834.1 649.7,834.2 650.2,834.6C650.6,834.9 651.1,835.2 651.5,835.6C652.0,836.0 652.4,836.6 652.9,836.9C653.4,837.2 653.8,837.4 654.3,837.5C654.7,837.7 655.2,837.6 655.6,837.7C656.1,837.8 656.5,838.4 657.0,838.2C657.4,838.0 657.9,836.8 658.3,836.3C658.8,835.9 659.3,836.0 659.7,835.6C660.2,835.2 660.6,834.0 661.1,833.8C661.5,833.6 662.0,834.5 662.4,834.5C662.9,834.4 663.3,833.6 663.8,833.6C664.3,833.6 664.7,834.3 665.2,834.6C665.6,834.9 666.1,835.2 666.5,835.4C667.0,835.5 667.4,835.5 667.9,835.6C668.3,835.7 668.8,836.0 669.3,836.0C669.7,836.1 670.2,835.7 670.6,836.0C671.1,836.3 671.5,837.6 672.0,837.7C672.4,837.7 672.9,836.8 673.3,836.4C673.8,836.0 674.2,835.6 674.7,835.4C675.2,835.3 675.6,835.6 676.1,835.6C676.5,835.7 677.0,835.5 677.4,835.8C677.9,836.1 678.3,836.9 678.8,837.2C679.2,837.5 679.7,837.6 680.2,837.7C680.6,837.7 681.1,837.6 681.5,837.6C682.0,837.6 682.4,837.9 682.9,837.5C683.3,837.2 683.8,836.0 684.2,835.6C684.7,835.3 685.1,835.5 685.6,835.5C686.1,835.4 686.5,835.8 687.0,835.5C687.4,835.2 687.9,834.0 688.3,833.6C688.8,833.1 689.2,832.7 689.7,832.9C690.1,833.0 690.6,834.5 691.1,834.6C691.5,834.8 692.0,833.7 692.4,833.6C692.9,833.5 693.3,833.8 693.8,834.0C694.2,834.2 694.7,834.5 695.1,834.8C695.6,835.1 696.0,835.6 696.5,835.6C697.0,835.6 697.4,834.8 697.9,834.8C698.3,834.7 698.8,835.1 699.2,835.2C699.7,835.4 700.1,835.5 700.6,835.6C701.0,835.8 701.5,836.3 702.0,836.2C702.4,836.2 702.9,835.7 703.3,835.3C703.8,834.8 704.2,834.1 704.7,833.6C705.1,833.0 705.6,832.2 706.0,832.0C706.5,831.8 706.9,832.2 707.4,832.1C707.9,832.1 708.3,831.5 708.8,831.5C709.2,831.5 709.7,832.3 710.1,832.1C710.6,832.0 711.0,831.1 711.5,830.7C711.9,830.3 712.4,829.5 712.9,829.5C713.3,829.4 713.8,830.2 714.2,830.4C714.7,830.6 715.1,830.5 715.6,830.7C716.0,830.9 716.5,831.5 716.9,831.5C717.4,831.6 717.8,831.1 718.3,830.8C718.8,830.5 719.2,830.3 719.7,830.0C720.1,829.8 720.6,829.8 721.0,829.5C721.5,829.2 721.9,828.7 722.4,828.4C722.8,828.1 723.3,827.9 723.8,827.8C724.2,827.6 724.7,827.3 725.1,827.4C725.6,827.6 726.0,828.4 726.4,828.6C726.8,828.8 727.3,828.4 727.7,828.6C728.1,828.7 728.8,829.3 729.0,829.5" stroke="#0c0cd8"/>
<path d="M438.1,832.0C438.3,832.4 439.1,833.8 439.6,834.1C440.1,834.4 440.7,833.8 441.2,834.1C441.7,834.3 442.1,835.1 442.5,835.5C443.0,835.8 443.5,835.8 443.9,835.9C444.4,836.0 444.8,836.1 445.3,836.1C445.7,836.1 446.2,836.1 446.7,836.0C447.1,835.9 447.6,836.0 448.0,835.6C448.5,835.3 448.9,834.4 449.4,834.1C449.9,833.8 450.3,834.1 450.8,833.9C451.2,833.7 451.7,833.2 452.1,832.9C452.6,832.6 453.1,832.5 453.5,832.0C454.0,831.6 454.4,830.2 454.9,830.1C455.3,830.0 455.8,831.6 456.3,831.6C456.7,831.6 457.2,830.3 457.6,830.0C458.1,829.6 458.5,829.4 459.0,829.5C459.5,829.6 459.9,830.2 460.4,830.7C460.8,831.1 461.3,831.9 461.7,832.0C462.2,832.1 462.7,831.3 463.1,831.4C463.6,831.4 464.0,832.3 464.5,832.4C464.9,832.5 465.4,832.1 465.9,832.0C466.3,831.9 466.8,831.4 467.2,831.6C467.7,831.8 468.2,832.8 468.6,833.2C469.1,833.7 469.5,833.9 470.0,834.1C470.4,834.3 470.9,834.2 471.4,834.3C471.8,834.4 472.3,834.4 472.7,834.7C473.2,835.0 473.6,836.1 474.1,836.1C474.6,836.2 475.0,835.0 475.5,834.9C475.9,834.8 476.4,835.6 476.8,835.4C477.3,835.3 477.8,834.6 478.2,834.1C478.7,833.6 479.1,832.5 479.6,832.5C480.0,832.5 480.5,834.0 481.0,833.9C481.4,833.8 481.9,832.5 482.3,832.0C482.8,831.5 483.2,830.9 483.7,830.9C484.2,830.8 484.6,832.0 485.1,831.8C485.5,831.7 485.5,831.6 486.4,830.0C487.4,828.3 489.4,822.4 490.6,821.7C491.8,821.0 492.6,824.5 493.6,825.8C494.7,827.2 496.0,829.3 496.7,830.0C497.5,830.6 497.8,829.9 498.3,829.5C498.8,829.2 499.3,828.5 499.8,827.9C500.3,827.3 500.8,826.4 501.4,826.1C501.9,825.8 502.4,825.9 502.9,825.8C503.4,825.8 503.8,825.9 504.3,825.6C504.7,825.3 505.2,824.5 505.6,824.2C506.1,823.9 506.3,824.5 507.0,823.8C507.8,823.0 509.1,822.4 510.1,819.7C511.1,816.9 512.0,811.8 513.2,807.3C514.4,802.9 515.9,797.7 517.3,792.9C518.7,788.1 520.0,782.6 521.4,778.5C522.8,774.4 524.7,771.8 525.5,768.2C526.4,764.7 526.0,761.2 526.5,757.3C527.1,753.4 528.2,749.5 529.0,744.9C529.8,740.4 530.7,735.3 531.5,730.1C532.3,725.0 533.1,719.2 534.0,714.1C534.8,708.9 535.6,703.2 536.4,699.3C537.2,695.3 538.3,692.2 538.9,690.6C539.5,689.0 539.7,690.0 540.1,689.8C540.5,689.6 540.8,688.8 541.4,689.4C541.9,689.9 542.7,690.6 543.2,693.1C543.7,695.6 544.0,699.7 544.4,704.2C544.9,708.7 545.3,714.5 545.7,720.2C546.1,726.0 546.5,732.6 546.9,738.8C547.3,744.9 547.6,749.6 548.1,757.3C548.7,764.9 549.4,778.8 550.2,784.7C551.1,790.6 552.6,791.1 553.3,792.9C554.1,794.7 554.2,795.0 554.7,795.4C555.1,795.9 555.6,795.3 556.1,795.6C556.5,795.9 557.0,796.6 557.4,797.0C557.9,797.5 558.3,798.2 558.8,798.3C559.3,798.3 559.7,797.2 560.2,797.3C560.6,797.4 561.1,798.5 561.5,799.1C562.0,799.6 562.6,800.3 563.1,800.6C563.6,801.0 564.1,800.9 564.6,801.2C565.1,801.4 565.5,802.2 566.0,802.3C566.5,802.5 566.9,801.9 567.4,802.1C567.8,802.2 567.8,802.0 568.7,803.2C569.7,804.4 571.7,807.0 572.9,809.4C574.1,811.8 575.2,816.4 575.9,817.6C576.7,818.9 577.0,817.2 577.5,816.9C578.0,816.5 578.5,815.5 579.0,815.6C579.6,815.6 580.2,817.0 580.7,817.1C581.3,817.2 581.8,816.1 582.4,816.1C583.0,816.1 583.6,816.9 584.1,817.2C584.6,817.6 585.0,818.1 585.5,818.3C585.9,818.6 586.4,818.4 586.8,818.6C587.3,818.8 587.7,819.0 588.2,819.3C588.6,819.5 589.1,819.7 589.5,819.9C590.0,820.1 590.4,820.3 590.9,820.5C591.4,820.7 591.8,821.1 592.3,821.3C592.7,821.6 593.2,821.9 593.6,822.1C594.1,822.2 594.5,822.0 595.0,822.2C595.4,822.4 595.9,823.4 596.4,823.4C596.8,823.3 597.3,822.3 597.7,822.1C598.2,821.9 598.6,822.1 599.1,822.0C599.5,821.9 599.5,820.4 600.4,821.3C601.3,822.2 603.6,826.3 604.5,827.4C605.4,828.6 605.4,828.0 605.9,828.1C606.3,828.1 606.8,827.5 607.3,827.7C607.7,827.9 608.2,829.2 608.6,829.5C609.1,829.8 609.5,829.5 610.0,829.6C610.4,829.7 610.9,829.7 611.3,830.0C611.8,830.3 612.2,831.4 612.7,831.5C613.2,831.7 613.6,830.8 614.1,830.9C614.5,831.0 615.0,832.1 615.4,832.2C615.9,832.3 616.3,831.8 616.8,831.5C617.2,831.2 617.7,830.3 618.2,830.3C618.6,830.3 619.1,831.5 619.5,831.7C620.0,831.9 620.4,831.7 620.9,831.5C621.3,831.4 621.8,830.9 622.2,830.7C622.7,830.4 623.1,830.2 623.6,830.0C624.1,829.8 624.1,830.6 625.0,829.5C625.9,828.4 628.1,824.5 629.1,823.4C630.0,822.3 630.0,822.8 630.4,822.9C630.9,823.0 631.3,823.5 631.8,823.9C632.2,824.3 632.7,824.7 633.1,825.4C633.6,826.1 634.0,827.5 634.5,827.9C635.0,828.3 635.4,827.4 635.9,827.7C636.3,828.0 636.8,828.9 637.2,829.5C637.7,830.1 638.1,831.2 638.6,831.3C639.0,831.4 639.5,830.3 640.0,830.3C640.4,830.4 640.9,831.3 641.3,831.5C641.8,831.7 642.2,831.1 642.7,831.5C643.1,831.8 643.6,833.2 644.0,833.6C644.5,833.9 644.5,832.6 645.4,833.6C646.3,834.6 648.6,838.9 649.5,839.7C650.4,840.6 650.4,838.8 650.9,838.7C651.3,838.5 651.8,839.0 652.2,838.8C652.7,838.6 653.1,838.1 653.6,837.7C654.0,837.3 654.5,836.9 654.9,836.5C655.4,836.1 655.9,835.4 656.3,835.3C656.8,835.2 657.2,835.7 657.7,835.6C658.1,835.6 658.6,835.1 659.0,835.1C659.5,835.0 659.9,835.4 660.4,835.2C660.8,834.9 661.3,833.7 661.8,833.6C662.2,833.4 662.7,833.7 663.1,834.3C663.6,835.0 664.0,836.8 664.5,837.3C664.9,837.9 665.4,837.6 665.8,837.7C666.3,837.7 666.8,837.5 667.2,837.4C667.7,837.4 668.1,837.7 668.6,837.4C669.0,837.1 669.5,836.2 669.9,835.6C670.4,835.1 670.8,834.5 671.3,834.2C671.7,834.0 672.2,834.2 672.7,834.1C673.1,834.0 673.6,833.8 674.0,833.6C674.5,833.3 674.9,832.7 675.4,832.7C675.8,832.7 676.3,833.6 676.7,833.8C677.2,833.9 677.7,833.6 678.1,833.6C678.6,833.5 679.0,833.3 679.5,833.4C679.9,833.4 680.4,833.9 680.8,833.9C681.3,834.0 681.7,833.7 682.2,833.6C682.6,833.5 683.1,833.6 683.6,833.2C684.0,832.7 684.5,831.3 684.9,831.0C685.4,830.7 685.8,831.5 686.3,831.5C686.7,831.6 687.2,831.6 687.6,831.2C688.1,830.8 688.6,829.4 689.0,829.2C689.5,828.9 689.9,829.4 690.4,829.5C690.8,829.6 691.3,829.2 691.7,829.6C692.2,830.0 692.6,831.8 693.1,832.1C693.5,832.4 694.0,831.4 694.5,831.5C694.9,831.7 695.4,832.8 695.8,833.1C696.3,833.5 696.7,833.6 697.2,833.7C697.6,833.8 698.1,833.9 698.5,833.6C699.0,833.3 699.5,831.9 699.9,831.9C700.4,831.8 700.8,833.3 701.3,833.2C701.7,833.1 702.2,831.9 702.6,831.5C703.1,831.2 703.5,831.0 704.0,831.0C704.5,831.0 704.9,831.5 705.4,831.6C705.8,831.7 706.3,831.6 706.7,831.5C707.2,831.5 707.6,831.8 708.1,831.4C708.5,831.0 709.0,829.3 709.4,829.0C709.9,828.6 710.4,829.3 710.8,829.5C711.3,829.7 711.7,830.0 712.2,830.0C712.6,829.9 713.1,829.5 713.5,829.4C714.0,829.3 714.4,829.5 714.9,829.5C715.4,829.5 715.8,830.0 716.3,829.6C716.7,829.2 717.2,827.3 717.6,827.0C718.1,826.6 718.5,827.7 719.0,827.4C719.4,827.2 719.9,825.9 720.3,825.2C720.8,824.5 721.3,823.8 721.7,823.5C722.2,823.2 722.6,823.4 723.1,823.4C723.5,823.3 724.0,822.9 724.4,823.0C724.9,823.2 725.3,824.0 725.8,824.1C726.3,824.1 726.6,823.1 727.2,823.4C727.7,823.6 728.7,825.1 729.0,825.4" stroke="#e820e8"/>
<path d="M438.1,813.5C438.3,813.5 439.0,813.7 439.5,813.5C439.9,813.4 440.4,812.8 440.8,812.8C441.3,812.8 441.5,812.7 442.2,813.5C442.9,814.3 444.5,817.0 445.3,817.6C446.0,818.2 446.2,816.9 446.7,817.1C447.1,817.3 447.6,818.4 448.0,818.8C448.5,819.2 448.9,819.2 449.4,819.7C449.9,820.1 450.3,821.3 450.8,821.6C451.2,821.9 451.7,821.3 452.1,821.4C452.6,821.4 453.1,821.6 453.5,821.7C454.0,821.9 454.4,822.1 454.9,822.3C455.3,822.6 455.8,822.9 456.3,823.1C456.7,823.4 457.2,823.8 457.6,823.8C458.1,823.8 458.5,823.1 459.0,823.1C459.5,823.2 459.9,824.2 460.4,824.3C460.8,824.4 461.3,823.9 461.7,823.8C462.2,823.6 462.7,823.7 463.1,823.3C463.6,822.9 464.0,821.6 464.5,821.4C464.9,821.1 465.4,821.6 465.9,821.7C466.3,821.8 466.8,822.1 467.2,822.0C467.7,821.9 468.2,821.4 468.6,821.0C469.1,820.6 469.5,819.7 470.0,819.7C470.4,819.7 470.9,820.8 471.4,820.9C471.8,821.1 472.3,820.3 472.7,820.4C473.2,820.5 473.6,821.2 474.1,821.7C474.6,822.2 475.0,823.2 475.5,823.4C475.9,823.6 476.4,822.7 476.8,822.8C477.3,822.8 477.8,823.5 478.2,823.8C478.7,824.1 479.1,824.1 479.6,824.7C480.0,825.3 480.5,826.7 481.0,827.2C481.4,827.8 481.9,827.7 482.3,827.9C482.8,828.1 483.2,828.0 483.7,828.6C484.2,829.3 484.6,831.2 485.1,831.7C485.5,832.3 486.0,832.3 486.4,832.0C486.9,831.8 487.4,830.5 487.8,830.2C488.3,829.8 488.7,830.1 489.2,830.1C489.6,830.0 490.1,829.9 490.6,830.0C491.0,830.0 491.5,830.4 491.9,830.3C492.4,830.3 492.8,829.6 493.3,829.6C493.8,829.5 494.2,829.7 494.7,830.0C495.1,830.2 495.6,830.9 496.0,831.1C496.5,831.4 497.0,831.0 497.4,831.5C497.9,832.0 498.3,833.6 498.8,834.1C499.2,834.6 499.7,834.7 500.2,834.6C500.6,834.5 501.1,833.9 501.5,833.5C502.0,833.1 502.2,833.3 502.9,832.0C503.6,830.7 505.0,828.6 506.0,825.8C507.0,823.1 508.0,818.3 509.1,815.6C510.1,812.8 511.1,812.1 512.2,809.4C513.2,806.6 514.0,802.5 515.2,799.1C516.4,795.7 518.4,790.5 519.4,788.8C520.3,787.1 520.3,789.4 520.7,789.1C521.2,788.7 521.6,787.0 522.1,786.6C522.6,786.2 522.7,787.8 523.5,786.7C524.2,785.7 525.3,785.3 526.6,780.6C527.8,775.9 529.7,764.3 530.9,758.5C532.0,752.8 532.5,750.7 533.3,746.2C534.2,741.6 535.0,736.3 535.8,731.4C536.6,726.4 537.6,720.7 538.3,716.5C539.0,712.4 539.5,708.9 540.1,706.7C540.7,704.4 541.4,702.8 542.0,703.0C542.5,703.2 543.0,705.0 543.5,707.9C543.9,710.8 544.3,715.5 544.7,720.2C545.1,725.0 545.5,731.2 545.9,736.3C546.3,741.4 546.6,744.4 547.2,751.1C547.7,757.8 548.3,770.5 549.2,776.5C550.1,782.4 551.3,784.3 552.3,786.7C553.3,789.1 554.3,790.9 555.4,790.9C556.4,790.9 557.4,788.1 558.5,786.7C559.5,785.4 560.7,784.0 561.5,782.6C562.4,781.3 562.7,778.5 563.6,778.5C564.5,778.5 565.7,780.6 566.7,782.6C567.7,784.7 568.7,787.8 569.8,790.9C570.8,794.0 571.7,798.4 572.9,801.2C574.1,803.9 576.1,806.1 577.0,807.3C577.9,808.5 577.9,808.0 578.3,808.2C578.8,808.4 579.3,808.4 579.7,808.6C580.2,808.8 580.4,808.3 581.1,809.4C581.8,810.5 583.4,814.3 584.1,815.2C584.8,816.1 585.0,814.8 585.5,814.9C585.9,815.0 586.4,815.4 586.8,815.8C587.3,816.2 587.7,817.0 588.2,817.2C588.6,817.5 589.1,817.5 589.5,817.3C590.0,817.1 590.4,816.1 590.9,816.1C591.4,816.1 591.8,817.0 592.3,817.2C592.7,817.5 593.2,816.9 593.6,817.5C594.1,818.0 594.5,819.9 595.0,820.5C595.4,821.2 595.9,820.9 596.4,821.3C596.8,821.8 597.3,822.7 597.7,823.3C598.2,823.9 598.6,824.6 599.1,825.0C599.5,825.3 600.0,825.1 600.4,825.4C600.9,825.8 601.3,827.0 601.8,827.1C602.3,827.1 602.7,825.7 603.2,825.8C603.6,825.8 604.1,827.5 604.5,827.4C605.0,827.4 605.4,825.6 605.9,825.3C606.3,825.1 606.8,826.2 607.3,825.8C607.7,825.5 608.2,823.6 608.6,823.4C609.1,823.1 609.5,824.1 610.0,824.3C610.4,824.5 610.9,824.4 611.3,824.6C611.8,824.8 612.2,825.1 612.7,825.4C613.2,825.7 613.6,826.2 614.1,826.5C614.5,826.9 615.0,827.4 615.4,827.6C615.9,827.7 616.3,827.1 616.8,827.4C617.2,827.7 617.7,829.1 618.2,829.4C618.6,829.7 619.1,829.1 619.5,829.1C620.0,829.2 620.4,829.2 620.9,829.5C621.3,829.7 621.8,830.6 622.2,830.6C622.7,830.6 623.1,829.5 623.6,829.6C624.1,829.8 624.5,831.0 625.0,831.5C625.4,832.1 625.9,832.7 626.3,832.8C626.8,832.9 627.2,832.2 627.7,832.3C628.1,832.5 628.6,833.8 629.1,833.6C629.5,833.4 630.0,831.5 630.4,831.1C630.9,830.7 631.3,831.4 631.8,831.1C632.2,830.8 632.7,829.7 633.1,829.5C633.6,829.3 634.0,829.5 634.5,829.8C635.0,830.1 635.4,830.9 635.9,831.2C636.3,831.5 636.3,830.5 637.2,831.5C638.1,832.6 640.4,836.7 641.3,837.7C642.2,838.6 642.2,837.1 642.7,837.3C643.1,837.5 643.6,838.5 644.0,838.9C644.5,839.3 645.0,839.8 645.4,839.7C645.9,839.6 646.3,839.1 646.8,838.5C647.2,837.8 647.7,836.2 648.1,835.7C648.6,835.2 649.0,835.8 649.5,835.6C649.9,835.4 650.4,834.7 650.9,834.5C651.3,834.3 651.8,834.6 652.2,834.4C652.7,834.2 653.1,833.7 653.6,833.6C654.0,833.4 654.5,833.2 654.9,833.4C655.4,833.7 655.9,834.6 656.3,835.0C656.8,835.4 657.2,835.5 657.7,835.6C658.1,835.8 658.6,836.2 659.0,836.0C659.5,835.8 659.9,834.6 660.4,834.5C660.8,834.4 661.3,835.7 661.8,835.6C662.2,835.6 662.7,834.3 663.1,834.1C663.6,833.9 664.0,834.5 664.5,834.4C664.9,834.3 665.4,833.9 665.8,833.6C666.3,833.3 666.8,832.8 667.2,832.7C667.7,832.6 668.1,833.0 668.6,832.8C669.0,832.6 669.5,831.9 669.9,831.5C670.4,831.2 670.8,831.1 671.3,830.9C671.7,830.6 672.2,830.2 672.7,830.3C673.1,830.4 673.6,831.4 674.0,831.5C674.5,831.7 674.9,831.5 675.4,831.1C675.8,830.6 676.3,829.2 676.7,829.0C677.2,828.7 677.7,829.2 678.1,829.5C678.6,829.8 679.0,830.6 679.5,830.5C679.9,830.5 680.4,829.2 680.8,829.2C681.3,829.2 681.7,830.2 682.2,830.5C682.6,830.8 683.1,830.7 683.6,830.8C684.0,830.9 684.5,830.9 684.9,831.0C685.4,831.1 685.8,831.7 686.3,831.5C686.7,831.4 687.2,830.3 687.6,829.9C688.1,829.5 688.6,829.3 689.0,829.2C689.5,829.1 689.9,829.7 690.4,829.5C690.8,829.3 691.3,828.2 691.7,827.8C692.2,827.5 692.6,827.5 693.1,827.5C693.5,827.4 694.0,827.4 694.5,827.4C694.9,827.5 695.4,827.7 695.8,827.8C696.3,827.9 696.7,827.7 697.2,828.0C697.6,828.3 698.1,829.3 698.5,829.5C699.0,829.7 699.5,829.1 699.9,829.4C700.4,829.7 700.8,831.1 701.3,831.4C701.7,831.8 702.2,831.6 702.6,831.5C703.1,831.5 703.5,831.5 704.0,831.2C704.5,830.9 704.9,830.2 705.4,829.9C705.8,829.6 706.3,829.2 706.7,829.5C707.2,829.7 707.6,831.1 708.1,831.4C708.5,831.7 709.0,831.1 709.4,831.4C709.9,831.8 710.4,833.4 710.8,833.6C711.3,833.7 711.7,832.6 712.2,832.2C712.6,831.9 713.1,831.5 713.5,831.4C714.0,831.3 714.4,831.3 714.9,831.5C715.4,831.8 715.8,832.6 716.3,832.9C716.7,833.2 717.2,833.3 717.6,833.4C718.1,833.5 718.5,833.5 719.0,833.6C719.4,833.6 719.9,833.3 720.3,833.7C720.8,834.0 721.3,835.1 721.7,835.5C722.2,835.8 722.5,835.4 723.1,835.6C723.6,835.8 724.4,836.0 725.0,836.7C725.7,837.3 726.4,839.0 727.0,839.5C727.7,840.0 728.7,839.7 729.0,839.7" stroke="#0c7c0c"/>
<path d="M438.1,821.7C438.3,821.4 439.1,820.0 439.6,819.7C440.1,819.3 440.7,819.6 441.2,819.7C441.7,819.7 442.1,819.4 442.5,819.8C443.0,820.3 443.5,821.9 443.9,822.2C444.4,822.5 444.8,821.7 445.3,821.7C445.7,821.8 446.2,822.1 446.7,822.4C447.1,822.7 447.6,823.4 448.0,823.7C448.5,823.9 448.9,823.5 449.4,823.8C449.9,824.0 450.3,825.0 450.8,825.1C451.2,825.3 451.7,824.8 452.1,824.9C452.6,825.0 453.1,825.8 453.5,825.8C454.0,825.9 454.4,825.2 454.9,825.0C455.3,824.8 455.8,825.1 456.3,824.9C456.7,824.7 457.2,824.2 457.6,823.8C458.1,823.4 458.5,822.7 459.0,822.6C459.5,822.5 459.9,823.2 460.4,823.0C460.8,822.9 461.3,822.0 461.7,821.7C462.2,821.5 462.7,821.8 463.1,821.4C463.6,820.9 464.0,819.4 464.5,819.1C464.9,818.8 465.4,819.3 465.9,819.7C466.3,820.1 466.8,821.4 467.2,821.4C467.7,821.5 468.2,820.0 468.6,820.0C469.1,820.1 469.5,821.4 470.0,821.7C470.4,822.1 470.9,822.0 471.4,822.2C471.8,822.4 472.3,822.8 472.7,823.1C473.2,823.4 473.6,823.6 474.1,823.8C474.6,824.0 475.0,824.1 475.5,824.2C475.9,824.4 476.4,824.4 476.8,824.7C477.3,825.0 477.3,824.3 478.2,825.8C479.1,827.4 481.4,832.4 482.3,834.1C483.2,835.7 483.2,835.5 483.7,835.8C484.2,836.2 484.6,835.7 485.1,836.1C485.5,836.5 486.0,838.1 486.4,838.2C486.9,838.2 487.5,836.8 488.0,836.5C488.5,836.1 488.8,837.2 489.5,836.1C490.3,835.0 491.4,832.0 492.6,830.0C493.8,827.9 495.5,825.8 496.7,823.8C497.9,821.7 499.0,818.8 499.8,817.6C500.6,816.4 500.8,816.4 501.4,816.4C501.9,816.4 502.4,817.5 502.9,817.6C503.4,817.7 503.9,817.2 504.4,816.9C505.0,816.5 505.5,815.8 506.0,815.6C506.5,815.4 507.0,816.0 507.5,815.6C508.0,815.3 508.6,814.0 509.1,813.5C509.6,813.0 510.1,813.0 510.6,812.7C511.1,812.4 511.6,812.0 512.2,811.4C512.7,810.9 513.2,809.6 513.7,809.3C514.2,808.9 514.5,810.7 515.2,809.4C516.0,808.0 517.6,802.4 518.3,801.2C519.1,799.9 519.4,801.6 519.9,802.0C520.4,802.3 520.8,802.7 521.4,803.2C522.0,803.8 522.8,806.3 523.5,805.3C524.2,804.2 524.8,799.8 525.5,797.0C526.2,794.3 526.9,791.6 527.6,788.8C528.3,786.1 529.0,783.0 529.7,780.6C530.3,778.2 531.3,777.3 531.7,774.4C532.1,771.6 531.7,766.7 532.1,763.5C532.5,760.2 533.3,757.9 534.0,754.8C534.6,751.7 535.2,748.2 535.8,744.9C536.4,741.6 537.1,737.3 537.7,735.1C538.2,732.8 538.4,731.6 538.9,731.4C539.4,731.2 540.1,733.0 540.7,733.8C541.4,734.7 542.1,734.4 542.6,736.3C543.1,738.1 543.4,741.4 543.8,744.9C544.2,748.4 544.3,751.3 545.1,757.3C545.8,763.2 547.3,774.0 548.2,780.6C549.0,787.2 549.5,792.6 550.2,797.0C550.9,801.5 551.6,805.3 552.3,807.3C553.0,809.4 553.5,810.1 554.3,809.4C555.2,808.7 556.4,804.9 557.4,803.2C558.5,801.5 559.5,801.2 560.5,799.1C561.5,797.0 562.6,794.6 563.6,790.9C564.6,787.1 565.9,779.0 566.7,776.5C567.5,773.9 567.7,776.0 568.2,775.7C568.7,775.3 569.2,776.0 569.8,774.4C570.4,772.8 571.1,765.8 571.8,766.2C572.5,766.5 573.2,772.0 573.9,776.5C574.6,780.9 575.3,788.5 575.9,792.9C576.6,797.4 577.1,800.8 578.0,803.2C578.9,805.6 580.2,806.0 581.1,807.3C581.9,808.6 582.2,809.4 583.1,811.1C583.9,812.7 585.4,815.8 586.1,817.2C586.9,818.6 587.0,819.0 587.5,819.5C587.9,820.0 588.4,819.9 588.9,820.2C589.3,820.5 589.8,821.1 590.2,821.3C590.7,821.6 591.1,821.5 591.6,821.6C592.0,821.7 592.5,821.6 592.9,821.9C593.4,822.2 593.9,822.8 594.3,823.4C594.8,823.9 595.2,825.1 595.7,825.2C596.1,825.3 596.6,823.7 597.0,823.7C597.5,823.7 597.9,825.0 598.4,825.4C598.8,825.8 599.3,825.5 599.8,825.9C600.2,826.4 600.7,827.6 601.1,828.2C601.6,828.8 602.0,829.4 602.5,829.5C602.9,829.6 603.4,829.2 603.8,828.9C604.3,828.6 604.8,828.1 605.2,827.8C605.7,827.6 606.1,827.8 606.6,827.4C607.0,827.1 607.5,825.8 607.9,825.5C608.4,825.1 608.8,825.4 609.3,825.4C609.8,825.3 610.2,825.4 610.7,825.4C611.1,825.4 611.6,825.1 612.0,825.4C612.5,825.8 612.9,827.2 613.4,827.5C613.8,827.9 614.3,827.6 614.7,827.4C615.2,827.3 615.7,827.1 616.1,826.8C616.6,826.5 617.0,826.4 617.5,825.8C617.9,825.3 618.4,824.1 618.8,823.4C619.3,822.6 619.7,821.9 620.2,821.5C620.7,821.2 621.1,821.3 621.6,821.2C622.0,821.2 622.5,821.1 622.9,821.3C623.4,821.5 623.8,822.1 624.3,822.6C624.7,823.1 625.2,823.8 625.6,824.2C626.1,824.7 626.6,825.3 627.0,825.4C627.5,825.5 627.9,825.4 628.4,825.0C628.8,824.6 629.3,823.3 629.7,823.1C630.2,822.8 630.6,823.0 631.1,823.4C631.6,823.7 632.0,824.8 632.5,825.0C632.9,825.3 633.4,824.7 633.8,824.8C634.3,824.8 634.7,825.5 635.2,825.4C635.6,825.3 636.1,824.1 636.5,824.2C637.0,824.3 637.5,825.8 637.9,826.0C638.4,826.2 638.8,825.5 639.3,825.4C639.7,825.3 640.2,825.1 640.6,825.2C641.1,825.4 641.5,826.2 642.0,826.2C642.5,826.2 642.9,825.2 643.4,825.4C643.8,825.6 644.3,827.2 644.7,827.4C645.2,827.5 645.6,826.3 646.1,826.3C646.5,826.3 647.0,827.4 647.4,827.4C647.9,827.5 648.4,826.5 648.8,826.5C649.3,826.6 649.7,827.7 650.2,827.8C650.6,828.0 651.1,827.3 651.5,827.4C652.0,827.6 652.4,828.6 652.9,828.8C653.4,829.0 653.8,828.5 654.3,828.6C654.7,828.7 655.2,829.2 655.6,829.5C656.1,829.8 656.5,830.4 657.0,830.5C657.4,830.5 657.9,829.8 658.3,830.0C658.8,830.2 659.3,831.2 659.7,831.5C660.2,831.8 660.6,832.2 661.1,831.8C661.5,831.5 662.0,829.7 662.4,829.3C662.9,828.9 663.3,829.6 663.8,829.5C664.3,829.4 664.7,829.5 665.2,828.8C665.6,828.2 666.1,826.1 666.5,825.5C667.0,824.9 667.4,825.5 667.9,825.4C668.3,825.3 668.8,824.9 669.3,825.0C669.7,825.0 670.2,825.8 670.6,825.8C671.1,825.9 671.5,825.7 672.0,825.4C672.4,825.1 672.9,824.0 673.3,824.0C673.8,823.9 674.2,825.4 674.7,825.3C675.2,825.2 675.6,823.7 676.1,823.4C676.5,823.0 677.0,823.2 677.4,823.2C677.9,823.3 678.3,823.2 678.8,823.5C679.2,823.9 679.7,824.8 680.2,825.4C680.6,826.0 681.1,827.0 681.5,827.1C682.0,827.2 682.4,825.8 682.9,825.9C683.3,826.0 683.8,827.2 684.2,827.4C684.7,827.7 685.1,827.4 685.6,827.2C686.1,827.0 686.5,826.6 687.0,826.3C687.4,826.0 687.9,825.7 688.3,825.4C688.8,825.1 689.2,824.5 689.7,824.3C690.1,824.0 690.6,824.0 691.1,823.9C691.5,823.7 692.0,823.6 692.4,823.4C692.9,823.2 693.3,823.0 693.8,822.7C694.2,822.3 694.7,821.6 695.1,821.4C695.6,821.2 695.6,820.3 696.5,821.3C697.4,822.3 699.2,825.4 700.6,827.4C702.0,829.5 703.5,831.5 704.7,833.6C705.9,835.6 706.7,840.4 707.7,839.7C708.8,839.0 710.1,831.6 710.8,829.5C711.5,827.4 711.7,827.6 712.2,827.2C712.6,826.7 713.1,827.3 713.5,827.0C714.0,826.7 714.4,825.5 714.9,825.4C715.4,825.3 715.8,825.8 716.3,826.2C716.7,826.7 717.2,827.7 717.6,828.2C718.1,828.8 718.5,829.3 719.0,829.5C719.4,829.7 719.9,829.9 720.3,829.4C720.8,829.0 721.3,827.2 721.7,826.9C722.2,826.6 722.6,827.6 723.1,827.4C723.5,827.3 724.0,826.3 724.4,825.9C724.9,825.4 725.3,825.0 725.8,825.0C726.3,824.9 726.6,825.0 727.2,825.4C727.7,825.8 728.7,827.1 729.0,827.4" stroke="#07076a"/>
</g>
<rect x="438.5" y="626.5" width="290.0" height="234.0" fill="none" stroke="#2e2e2e" stroke-width="1.25"/>
<text transform="translate(430.2,846.0) scale(0.9,1)" text-anchor="end" font-size="10.6">0.000</text>
<text transform="translate(430.2,810.0) scale(0.9,1)" text-anchor="end" font-size="10.6">0.005</text>
<text transform="translate(430.2,774.0) scale(0.9,1)" text-anchor="end" font-size="10.6">0.010</text>
<text transform="translate(430.2,738.0) scale(0.9,1)" text-anchor="end" font-size="10.6">0.015</text>
<text transform="translate(430.2,702.0) scale(0.9,1)" text-anchor="end" font-size="10.6">0.020</text>
<text transform="translate(430.2,666.0) scale(0.9,1)" text-anchor="end" font-size="10.6">0.025</text>
<text transform="translate(430.2,630.0) scale(0.9,1)" text-anchor="end" font-size="10.6">0.030</text>
<text x="492.5" y="876.2" text-anchor="middle" font-size="10">200</text>
<text x="559.9" y="876.2" text-anchor="middle" font-size="10">400</text>
<text x="627.3" y="876.2" text-anchor="middle" font-size="10">600</text>
<text x="694.8" y="876.2" text-anchor="middle" font-size="10">800</text>
<path d="M436.2,860.5H438.5 M433.5,842.5H438.5 M436.2,824.5H438.5 M433.5,806.5H438.5 M436.2,788.5H438.5 M433.5,770.5H438.5 M436.2,752.5H438.5 M433.5,734.5H438.5 M436.2,716.5H438.5 M433.5,698.5H438.5 M436.2,680.5H438.5 M433.5,662.5H438.5 M436.2,644.5H438.5 M433.5,626.5H438.5 M458.7,860.5V862.8 M492.5,860.5V865.5 M526.2,860.5V862.8 M559.9,860.5V865.5 M593.6,860.5V862.8 M627.3,860.5V865.5 M661.1,860.5V862.8 M694.8,860.5V865.5 M728.5,860.5V862.8" stroke="#2e2e2e" stroke-width="1.0" fill="none"/>
<text x="451.3" y="650.7" font-size="14">e</text>
<path d="M588.9,651.9H615.5" stroke="#000000" stroke-width="2.7" stroke-linecap="round"/>
<text x="619.4" y="656.2" font-size="12">Non-catalyst</text>
<path d="M588.9,666.8H615.5" stroke="#e01010" stroke-width="2.7" stroke-linecap="round"/>
<text x="619.4" y="671.1" font-size="12">CaO:stover=1:20</text>
<path d="M588.9,681.7H615.5" stroke="#0c0cd8" stroke-width="2.7" stroke-linecap="round"/>
<text x="619.4" y="686.0" font-size="12">CaO:stover=1:10</text>
<path d="M588.9,696.7H615.5" stroke="#e820e8" stroke-width="2.7" stroke-linecap="round"/>
<text x="619.4" y="701.0" font-size="12">CaO:stover=1:5</text>
<path d="M588.9,711.6H615.5" stroke="#0c7c0c" stroke-width="2.7" stroke-linecap="round"/>
<text x="619.4" y="715.9" font-size="12">CaO:stover=1:2</text>
<path d="M588.9,726.5H615.5" stroke="#07076a" stroke-width="2.7" stroke-linecap="round"/>
<text x="619.4" y="730.8" font-size="12">CaO:stover=1:1</text>
<text x="538.8" y="894.5" font-size="12.25">Temperature(</text>
<circle cx="614.2" cy="886.6" r="0.8" fill="none" stroke="#555" stroke-width="0.7"/>
<text x="615.0" y="894.5" font-size="12.4" fill="#5a5a5a" style="stroke:none">C</text>
<text x="624.5" y="894.5" font-size="12">)</text>
<text x="583.5" y="909.8" text-anchor="middle" font-size="12">Carbonyl</text>
<text x="0" y="0" transform="translate(392.4,736.9) rotate(-90)" text-anchor="middle" font-size="12">Absorbance</text>
<clipPath id="clipf"><rect x="55.0" y="932.8" width="290.0" height="233.4000000000001"/></clipPath>
<g clip-path="url(#clipf)" fill="none" stroke-width="3" stroke-linejoin="round" stroke-linecap="round">
<path d="M55.1,1150.5C55.6,1148.8 57.0,1144.0 58.2,1140.2C59.4,1136.5 60.9,1131.0 62.3,1127.9C63.7,1124.8 65.0,1123.8 66.4,1121.7C67.8,1119.7 69.3,1117.6 70.5,1115.6C71.7,1113.5 72.6,1111.4 73.6,1109.4C74.6,1107.3 75.9,1104.6 76.7,1103.2C77.5,1101.8 77.7,1101.4 78.2,1100.9C78.7,1100.4 79.3,1100.2 79.8,1100.1C80.3,1100.1 80.8,1100.4 81.3,1100.6C81.8,1100.7 82.1,1100.0 82.9,1101.2C83.6,1102.3 84.9,1104.6 86.0,1107.3C87.0,1110.1 88.3,1115.8 89.0,1117.6C89.8,1119.5 90.1,1118.1 90.6,1118.5C91.1,1118.8 91.4,1120.5 92.1,1119.7C92.9,1118.8 94.4,1114.5 95.2,1113.5C96.0,1112.5 96.2,1113.5 96.8,1113.9C97.3,1114.2 97.5,1114.2 98.3,1115.6C99.1,1116.9 100.6,1120.8 101.4,1121.7C102.2,1122.7 102.4,1121.6 102.9,1121.3C103.4,1120.9 104.0,1119.7 104.5,1119.7C105.0,1119.6 105.5,1120.6 106.0,1120.9C106.5,1121.2 107.0,1121.5 107.6,1121.7C108.1,1122.0 108.6,1122.1 109.1,1122.5C109.6,1122.8 109.9,1122.9 110.6,1123.8C111.4,1124.7 113.0,1127.3 113.7,1127.9C114.5,1128.5 114.6,1127.6 115.1,1127.3C115.6,1127.0 116.0,1126.3 116.5,1126.1C116.9,1125.8 117.4,1126.1 117.8,1125.8C118.3,1125.6 118.8,1125.0 119.2,1124.8C119.7,1124.5 120.1,1124.5 120.6,1124.3C121.0,1124.1 121.2,1125.2 122.0,1123.8C122.7,1122.3 124.0,1119.3 125.0,1115.6C126.1,1111.8 127.1,1106.3 128.1,1101.2C129.2,1096.0 130.0,1092.1 131.2,1084.7C132.4,1077.3 134.1,1064.0 135.2,1057.0C136.3,1050.0 136.9,1046.9 137.8,1042.7C138.7,1038.6 139.9,1034.1 140.5,1032.0C141.1,1030.0 141.3,1031.0 141.7,1030.6C142.1,1030.1 142.3,1029.3 142.8,1029.4C143.4,1029.4 144.3,1030.1 145.0,1031.1C145.6,1032.2 146.2,1034.3 146.7,1035.6C147.3,1036.9 147.6,1041.5 148.2,1039.2C148.8,1036.8 149.5,1027.3 150.3,1021.3C151.1,1015.4 152.1,1009.4 153.0,1003.5C153.9,997.6 154.8,989.6 155.7,985.7C156.6,981.7 157.5,979.1 158.3,980.0C159.2,980.9 160.0,986.2 160.7,991.0C161.3,995.8 161.8,1002.3 162.4,1008.8C163.0,1015.4 163.6,1023.4 164.2,1030.2C164.8,1037.1 165.5,1039.8 166.0,1049.9C166.5,1060.0 166.3,1083.0 167.2,1090.9C168.1,1098.7 170.4,1095.9 171.3,1097.0C172.3,1098.1 172.3,1097.0 172.7,1097.5C173.2,1098.0 173.6,1099.7 174.1,1100.3C174.5,1100.9 175.0,1100.9 175.5,1101.2C175.9,1101.4 176.5,1101.2 177.0,1101.5C177.5,1101.9 177.8,1101.9 178.5,1103.2C179.3,1104.5 180.9,1108.5 181.6,1109.4C182.4,1110.3 182.7,1108.9 183.2,1108.5C183.7,1108.2 184.2,1107.8 184.7,1107.3C185.2,1106.8 185.7,1105.9 186.3,1105.5C186.8,1105.2 187.3,1105.3 187.8,1105.3C188.3,1105.2 188.7,1104.9 189.2,1105.3C189.6,1105.6 190.1,1106.9 190.5,1107.2C191.0,1107.5 191.5,1107.1 191.9,1107.3C192.4,1107.6 192.8,1108.2 193.3,1108.7C193.7,1109.2 194.2,1109.9 194.7,1110.3C195.1,1110.8 194.8,1109.6 196.0,1111.4C197.3,1113.3 200.9,1119.7 202.1,1121.3C203.4,1123.0 203.2,1121.0 203.7,1121.3C204.2,1121.7 204.4,1123.7 205.2,1123.4C206.0,1123.0 207.1,1121.0 208.3,1119.3C209.5,1117.6 211.4,1114.2 212.4,1113.1C213.3,1112.1 213.4,1112.9 213.9,1112.9C214.4,1112.9 214.7,1112.4 215.4,1113.1C216.2,1113.9 217.5,1115.2 218.5,1117.2C219.5,1119.3 220.5,1123.0 221.5,1125.4C222.6,1127.8 223.9,1130.4 224.6,1131.5C225.4,1132.7 225.5,1131.9 226.0,1132.3C226.4,1132.6 226.9,1132.9 227.3,1133.5C227.8,1134.0 228.2,1135.1 228.7,1135.6C229.2,1136.1 229.6,1136.3 230.1,1136.4C230.5,1136.5 231.0,1136.4 231.4,1136.2C231.9,1136.1 232.3,1135.7 232.8,1135.6C233.2,1135.5 233.7,1136.1 234.2,1135.8C234.6,1135.5 235.1,1134.1 235.5,1133.7C236.0,1133.4 236.4,1133.4 236.9,1133.6C237.3,1133.7 237.8,1134.1 238.2,1134.7C238.7,1135.3 239.1,1136.6 239.6,1137.1C240.1,1137.5 240.5,1137.7 241.0,1137.7C241.4,1137.7 241.9,1137.4 242.3,1137.1C242.8,1136.7 243.2,1135.9 243.7,1135.7C244.1,1135.5 244.1,1136.7 245.1,1135.6C246.0,1134.6 248.2,1130.8 249.1,1129.5C250.0,1128.2 250.0,1128.2 250.5,1128.0C251.0,1127.8 251.4,1128.3 251.9,1128.2C252.3,1128.1 252.8,1127.5 253.2,1127.4C253.7,1127.4 254.1,1127.8 254.6,1127.6C255.0,1127.5 255.5,1126.8 256.0,1126.8C256.4,1126.8 256.9,1127.0 257.3,1127.4C257.8,1127.9 258.2,1129.2 258.7,1129.8C259.1,1130.4 259.6,1130.8 260.0,1131.1C260.5,1131.4 261.0,1131.2 261.4,1131.5C261.9,1131.9 262.3,1132.9 262.8,1133.0C263.2,1133.2 263.7,1132.3 264.1,1132.4C264.6,1132.5 265.0,1133.4 265.5,1133.6C265.9,1133.7 266.4,1133.3 266.9,1133.4C267.3,1133.5 267.8,1134.1 268.2,1134.1C268.7,1134.1 269.1,1133.9 269.6,1133.6C270.0,1133.3 270.5,1132.5 270.9,1132.2C271.4,1131.9 271.9,1131.9 272.3,1131.8C272.8,1131.7 273.2,1131.8 273.7,1131.5C274.1,1131.2 274.6,1130.4 275.0,1130.1C275.5,1129.8 275.9,1130.0 276.4,1129.9C276.8,1129.8 277.3,1129.7 277.8,1129.5C278.2,1129.3 278.7,1128.8 279.1,1128.5C279.6,1128.1 280.0,1127.5 280.5,1127.4C280.9,1127.2 280.9,1128.5 281.8,1127.4C282.8,1126.4 284.7,1123.4 285.9,1121.3C287.1,1119.3 288.2,1116.2 289.0,1115.2C289.8,1114.2 290.0,1115.1 290.5,1115.4C291.0,1115.8 291.6,1116.5 292.1,1117.2C292.5,1117.9 293.0,1119.1 293.4,1119.5C293.9,1120.0 294.3,1119.8 294.8,1120.1C295.2,1120.4 295.7,1121.1 296.2,1121.3C296.6,1121.5 297.1,1121.2 297.5,1121.3C298.0,1121.5 298.4,1122.0 298.9,1122.3C299.3,1122.7 299.8,1123.0 300.2,1123.4C300.7,1123.7 301.1,1123.9 301.6,1124.3C302.1,1124.6 302.5,1125.3 303.0,1125.5C303.4,1125.7 303.9,1125.3 304.3,1125.4C304.8,1125.5 305.2,1125.8 305.7,1125.9C306.1,1126.0 306.6,1126.1 307.1,1126.0C307.5,1125.9 308.0,1125.4 308.4,1125.4C308.9,1125.4 309.3,1125.8 309.8,1126.1C310.2,1126.4 310.7,1127.1 311.1,1127.3C311.6,1127.5 312.0,1127.5 312.5,1127.4C313.0,1127.4 313.4,1127.0 313.9,1126.8C314.3,1126.6 314.8,1126.6 315.2,1126.4C315.7,1126.2 316.1,1125.8 316.6,1125.4C317.0,1125.0 317.5,1124.3 318.0,1124.0C318.4,1123.6 318.9,1123.9 319.3,1123.4C319.8,1123.0 320.2,1121.8 320.7,1121.3C321.1,1120.9 321.6,1121.0 322.0,1120.6C322.5,1120.3 322.9,1119.2 323.4,1119.0C323.9,1118.8 324.3,1119.1 324.8,1119.3C325.2,1119.4 325.7,1119.6 326.1,1119.9C326.6,1120.3 327.0,1121.3 327.5,1121.6C327.9,1121.8 328.4,1121.4 328.9,1121.3C329.3,1121.3 329.8,1121.4 330.2,1121.3C330.7,1121.2 331.1,1121.1 331.6,1120.7C332.0,1120.4 332.2,1120.2 332.9,1119.3C333.7,1118.3 335.2,1116.1 336.0,1115.2C336.8,1114.3 337.0,1114.2 337.5,1113.9C338.1,1113.6 338.3,1114.3 339.1,1113.1C339.8,1112.0 341.4,1107.9 342.1,1107.0C342.9,1106.1 343.1,1107.6 343.6,1107.9C344.0,1108.3 344.8,1108.9 345.0,1109.1" stroke="#000000"/>
<path d="M55.1,1136.1C55.6,1137.2 57.1,1140.6 58.2,1142.3C59.2,1144.0 60.5,1145.7 61.3,1146.4C62.0,1147.1 62.3,1146.5 62.8,1146.5C63.3,1146.5 63.8,1146.7 64.3,1146.4C64.9,1146.1 65.4,1145.1 65.9,1144.7C66.4,1144.4 66.7,1145.5 67.4,1144.4C68.2,1143.3 69.5,1139.9 70.5,1138.2C71.5,1136.5 72.6,1135.8 73.6,1134.1C74.6,1132.4 75.9,1128.9 76.7,1127.9C77.4,1126.9 77.6,1127.9 78.1,1128.1C78.5,1128.2 79.0,1128.5 79.4,1128.8C79.9,1129.1 80.3,1129.6 80.8,1130.0C81.3,1130.4 81.7,1130.7 82.2,1131.1C82.6,1131.6 83.1,1132.1 83.6,1132.6C84.0,1133.0 84.4,1134.0 84.9,1134.1C85.4,1134.1 86.0,1133.2 86.5,1132.9C87.0,1132.5 87.2,1131.1 88.0,1132.0C88.8,1132.9 90.3,1137.5 91.1,1138.2C91.9,1138.9 92.1,1136.7 92.6,1136.4C93.2,1136.0 93.7,1135.9 94.2,1136.1C94.7,1136.4 95.2,1137.4 95.7,1137.8C96.2,1138.1 96.8,1138.4 97.3,1138.2C97.8,1138.0 98.3,1137.0 98.8,1136.7C99.3,1136.3 99.8,1136.1 100.4,1136.1C100.9,1136.2 101.4,1136.7 101.9,1137.0C102.4,1137.4 102.7,1138.7 103.4,1138.2C104.2,1137.7 105.5,1135.4 106.5,1134.1C107.6,1132.7 108.9,1130.7 109.6,1130.0C110.4,1129.2 110.5,1129.8 111.0,1129.7C111.4,1129.6 111.9,1129.7 112.4,1129.4C112.8,1129.1 113.2,1128.3 113.7,1127.9C114.2,1127.5 114.8,1126.9 115.3,1126.9C115.8,1126.9 116.3,1127.5 116.8,1127.9C117.3,1128.3 117.8,1128.9 118.4,1129.2C118.9,1129.6 119.1,1130.9 119.9,1130.0C120.7,1129.1 122.0,1126.5 123.0,1123.8C124.0,1121.0 125.0,1117.3 126.1,1113.5C127.1,1109.7 128.1,1106.0 129.2,1101.2C130.2,1096.4 131.2,1089.5 132.2,1084.7C133.3,1079.9 133.2,1078.2 135.3,1072.3C137.5,1066.5 142.9,1056.9 145.0,1049.9C147.0,1042.8 146.7,1037.1 147.6,1030.2C148.5,1023.4 149.4,1016.3 150.3,1008.8C151.2,1001.4 152.1,992.5 153.0,985.7C153.9,978.8 154.8,972.3 155.7,967.8C156.6,963.4 157.4,958.9 158.3,958.9C159.2,958.9 160.3,963.4 161.0,967.8C161.8,972.3 162.2,978.2 162.8,985.7C163.4,993.1 164.0,1003.5 164.6,1012.4C165.2,1021.3 165.8,1031.1 166.4,1039.2C167.0,1047.2 167.7,1050.2 168.1,1060.6C168.6,1070.9 168.6,1093.0 169.3,1101.2C170.0,1109.3 171.3,1107.3 172.4,1109.4C173.4,1111.4 174.4,1113.5 175.5,1113.5C176.5,1113.5 177.5,1109.4 178.5,1109.4C179.6,1109.4 180.6,1112.1 181.6,1113.5C182.7,1114.9 183.9,1117.2 184.7,1117.6C185.5,1118.0 185.7,1116.4 186.3,1116.0C186.8,1115.7 187.3,1115.4 187.8,1115.6C188.3,1115.7 188.7,1116.7 189.2,1117.1C189.6,1117.5 190.1,1117.6 190.5,1118.0C191.0,1118.4 191.5,1119.4 191.9,1119.7C192.4,1119.9 192.8,1119.4 193.3,1119.6C193.7,1119.7 194.2,1120.4 194.7,1120.7C195.1,1121.1 195.3,1120.5 196.0,1121.7C196.8,1122.9 198.1,1125.6 199.1,1127.9C200.1,1130.2 201.4,1134.4 202.1,1135.6C202.9,1136.9 203.0,1135.3 203.5,1135.4C203.9,1135.5 204.4,1136.3 204.9,1136.4C205.3,1136.4 205.8,1135.9 206.2,1135.6C206.7,1135.3 207.1,1135.1 207.6,1134.7C208.0,1134.3 208.5,1133.5 208.9,1133.3C209.4,1133.1 209.9,1133.6 210.3,1133.6C210.8,1133.5 211.2,1132.9 211.7,1132.9C212.1,1132.9 212.6,1133.3 213.0,1133.5C213.5,1133.6 213.5,1132.5 214.4,1133.6C215.3,1134.6 217.6,1138.6 218.5,1139.7C219.4,1140.8 219.4,1140.0 219.8,1140.0C220.3,1139.9 220.8,1139.7 221.2,1139.3C221.7,1138.9 222.1,1137.7 222.6,1137.7C223.0,1137.7 223.5,1139.1 223.9,1139.2C224.4,1139.3 224.8,1138.2 225.3,1138.2C225.8,1138.3 226.2,1139.2 226.7,1139.7C227.1,1140.2 227.6,1140.7 228.0,1141.1C228.5,1141.5 228.9,1141.5 229.4,1142.0C229.8,1142.4 230.3,1143.2 230.7,1143.8C231.2,1144.4 231.7,1145.3 232.1,1145.8C232.6,1146.4 233.0,1146.8 233.5,1147.2C233.9,1147.5 234.4,1147.8 234.8,1147.9C235.3,1148.0 235.7,1147.9 236.2,1147.8C236.7,1147.8 237.1,1147.8 237.6,1147.5C238.0,1147.1 238.5,1146.2 238.9,1145.8C239.4,1145.5 239.8,1145.6 240.3,1145.6C240.7,1145.5 241.2,1145.7 241.6,1145.4C242.1,1145.1 242.6,1144.5 243.0,1143.8C243.5,1143.1 243.9,1142.0 244.4,1141.5C244.8,1141.0 245.3,1141.2 245.7,1140.9C246.2,1140.6 246.6,1140.1 247.1,1139.7C247.6,1139.4 248.0,1138.9 248.5,1138.9C248.9,1138.9 249.4,1139.4 249.8,1139.5C250.3,1139.6 250.7,1139.5 251.2,1139.7C251.6,1139.9 252.1,1140.7 252.5,1140.8C253.0,1141.0 253.5,1140.6 253.9,1140.7C254.4,1140.9 254.8,1141.5 255.3,1141.8C255.7,1142.0 256.2,1142.0 256.6,1142.3C257.1,1142.6 257.5,1143.0 258.0,1143.6C258.5,1144.2 258.9,1145.5 259.4,1145.8C259.8,1146.2 260.3,1145.7 260.7,1145.6C261.2,1145.5 261.6,1145.2 262.1,1145.2C262.5,1145.3 263.0,1145.8 263.4,1145.8C263.9,1145.9 264.4,1145.7 264.8,1145.5C265.3,1145.2 265.7,1144.6 266.2,1144.3C266.6,1144.0 267.1,1143.9 267.5,1143.8C268.0,1143.7 268.4,1143.2 268.9,1143.5C269.4,1143.9 269.8,1145.6 270.3,1146.0C270.7,1146.4 271.2,1145.9 271.6,1145.8C272.1,1145.8 272.5,1145.5 273.0,1145.8C273.4,1146.1 273.9,1147.3 274.3,1147.7C274.8,1148.0 275.3,1147.9 275.7,1147.9C276.2,1147.8 276.6,1147.6 277.1,1147.4C277.5,1147.2 278.0,1147.0 278.4,1146.7C278.9,1146.5 279.3,1146.2 279.8,1145.8C280.3,1145.5 280.7,1144.5 281.2,1144.4C281.6,1144.3 282.1,1145.3 282.5,1145.2C283.0,1145.1 283.4,1144.0 283.9,1143.8C284.3,1143.6 284.8,1144.0 285.3,1143.9C285.7,1143.8 286.2,1143.1 286.6,1143.1C287.1,1143.0 287.5,1143.7 288.0,1143.8C288.4,1143.9 288.9,1143.7 289.3,1143.9C289.8,1144.0 290.2,1144.6 290.7,1144.6C291.2,1144.6 291.6,1143.9 292.1,1143.8C292.5,1143.7 293.0,1144.4 293.4,1144.0C293.9,1143.6 294.3,1141.9 294.8,1141.5C295.2,1141.1 295.7,1141.7 296.2,1141.8C296.6,1141.8 297.1,1141.6 297.5,1141.8C298.0,1142.1 298.4,1143.0 298.9,1143.3C299.3,1143.6 299.8,1143.6 300.2,1143.8C300.7,1144.0 301.1,1144.4 301.6,1144.5C302.1,1144.7 302.5,1144.4 303.0,1144.6C303.4,1144.8 303.9,1145.8 304.3,1145.8C304.8,1145.9 305.2,1145.2 305.7,1145.1C306.1,1144.9 306.6,1144.8 307.1,1145.0C307.5,1145.1 308.0,1145.9 308.4,1145.8C308.9,1145.7 309.3,1144.5 309.8,1144.4C310.2,1144.2 310.7,1145.2 311.1,1145.1C311.6,1145.0 312.0,1143.9 312.5,1143.8C313.0,1143.7 313.4,1144.5 313.9,1144.6C314.3,1144.7 314.8,1144.2 315.2,1144.4C315.7,1144.6 316.1,1145.5 316.6,1145.8C317.0,1146.2 317.5,1146.0 318.0,1146.3C318.4,1146.6 318.9,1147.4 319.3,1147.7C319.8,1147.9 320.2,1148.1 320.7,1147.9C321.1,1147.7 321.6,1146.8 322.0,1146.7C322.5,1146.6 322.9,1147.5 323.4,1147.4C323.9,1147.2 324.3,1146.1 324.8,1145.8C325.2,1145.6 325.7,1145.9 326.1,1145.6C326.6,1145.4 327.0,1144.5 327.5,1144.2C327.9,1143.9 328.4,1144.0 328.9,1143.8C329.3,1143.6 329.8,1143.5 330.2,1143.1C330.7,1142.7 331.1,1142.1 331.6,1141.5C332.0,1140.9 332.5,1140.2 332.9,1139.7C333.4,1139.2 333.8,1138.7 334.3,1138.4C334.8,1138.0 335.2,1137.6 335.7,1137.5C336.1,1137.4 336.6,1137.8 337.0,1137.7C337.5,1137.5 337.9,1136.9 338.4,1136.7C338.8,1136.5 339.3,1136.6 339.8,1136.8C340.2,1136.9 340.7,1137.5 341.1,1137.7C341.6,1137.9 342.0,1138.0 342.4,1137.9C342.8,1137.9 343.3,1137.4 343.7,1137.4C344.1,1137.3 344.8,1137.6 345.0,1137.7" stroke="#e01010"/>
<path d="M55.1,1125.8C55.6,1126.9 57.4,1130.9 58.2,1132.0C58.9,1133.2 59.1,1132.1 59.5,1132.7C60.0,1133.3 60.5,1135.0 60.9,1135.6C61.4,1136.2 61.8,1136.2 62.3,1136.1C62.7,1136.1 63.2,1135.3 63.7,1135.2C64.1,1135.0 64.6,1135.6 65.0,1135.4C65.5,1135.2 65.5,1135.3 66.4,1134.1C67.3,1132.8 69.6,1129.0 70.5,1127.9C71.4,1126.8 71.4,1127.5 71.9,1127.3C72.3,1127.1 72.8,1127.1 73.3,1126.9C73.7,1126.6 73.9,1125.3 74.6,1125.8C75.4,1126.4 76.9,1129.2 77.7,1130.0C78.5,1130.7 78.7,1130.4 79.3,1130.4C79.8,1130.4 79.9,1129.0 80.8,1130.0C81.7,1130.9 83.7,1134.4 84.9,1136.1C86.1,1137.8 87.2,1139.3 88.0,1140.2C88.8,1141.2 89.0,1141.6 89.6,1142.0C90.1,1142.3 90.6,1142.6 91.1,1142.3C91.6,1142.0 92.0,1141.0 92.5,1140.4C92.9,1139.8 93.4,1139.0 93.8,1138.7C94.3,1138.3 94.8,1138.2 95.2,1138.2C95.7,1138.1 96.1,1138.1 96.6,1138.4C97.0,1138.7 97.5,1139.7 98.0,1140.0C98.4,1140.3 98.9,1140.0 99.3,1140.2C99.8,1140.5 100.2,1141.4 100.7,1141.6C101.2,1141.8 101.6,1141.3 102.1,1141.4C102.5,1141.5 103.0,1142.5 103.4,1142.3C103.9,1142.1 104.4,1140.7 104.8,1140.2C105.3,1139.7 105.7,1139.7 106.2,1139.4C106.6,1139.0 107.1,1138.5 107.6,1138.2C108.0,1137.9 108.5,1138.2 108.9,1137.8C109.4,1137.3 109.8,1136.0 110.3,1135.4C110.8,1134.7 111.2,1134.7 111.7,1134.1C112.1,1133.5 112.6,1132.2 113.0,1131.8C113.5,1131.5 114.0,1132.3 114.4,1132.0C114.9,1131.7 115.3,1130.5 115.8,1130.0C116.2,1129.4 116.7,1128.9 117.2,1128.6C117.6,1128.3 118.1,1128.3 118.5,1128.2C119.0,1128.1 119.0,1129.0 119.9,1127.9C120.8,1126.8 122.8,1123.8 124.0,1121.7C125.2,1119.7 126.1,1118.0 127.1,1115.6C128.1,1113.2 129.2,1110.1 130.2,1107.3C131.2,1104.6 132.2,1101.8 133.3,1099.1C134.3,1096.4 135.3,1094.0 136.4,1090.9C137.4,1087.8 138.2,1085.6 139.4,1080.6C140.7,1075.5 142.9,1066.9 144.1,1060.6C145.3,1054.3 145.9,1049.3 146.7,1042.7C147.6,1036.2 148.5,1028.5 149.4,1021.3C150.3,1014.2 151.2,1007.4 152.1,999.9C153.0,992.5 153.9,982.8 154.8,976.7C155.7,970.7 156.6,963.4 157.4,963.4C158.3,963.4 159.4,970.7 160.1,976.7C160.9,982.8 161.3,992.5 161.9,999.9C162.5,1007.4 163.1,1013.9 163.7,1021.3C164.3,1028.8 164.9,1037.4 165.5,1044.5C166.1,1051.6 166.8,1056.9 167.3,1064.1C167.8,1071.4 168.1,1084.0 168.5,1088.0C168.9,1092.0 169.3,1088.2 169.8,1087.9C170.2,1087.6 170.5,1086.5 171.0,1086.0C171.5,1085.5 172.1,1085.2 172.7,1084.7C173.2,1084.1 173.5,1083.8 174.3,1082.8C175.1,1081.8 176.9,1079.1 177.6,1078.4C178.3,1077.7 178.3,1078.6 178.7,1078.5C179.1,1078.4 179.3,1077.0 179.8,1077.9C180.3,1078.8 181.3,1081.4 181.9,1083.9C182.5,1086.4 182.9,1090.1 183.6,1092.7C184.3,1095.3 185.3,1097.3 186.3,1099.3C187.3,1101.3 188.8,1103.5 189.6,1104.7C190.4,1105.9 190.7,1105.7 191.2,1106.3C191.8,1106.8 192.3,1107.6 192.9,1108.0C193.5,1108.4 194.0,1108.4 194.6,1108.8C195.1,1109.2 195.6,1109.8 196.2,1110.2C196.8,1110.6 197.3,1111.0 197.8,1111.4C198.4,1111.7 198.8,1111.4 199.5,1112.4C200.2,1113.4 201.5,1116.2 202.1,1117.2C202.8,1118.3 203.0,1118.5 203.5,1118.8C203.9,1119.1 204.4,1118.7 204.9,1119.1C205.3,1119.5 205.8,1121.0 206.2,1121.3C206.7,1121.7 207.1,1120.8 207.6,1121.2C208.0,1121.5 208.5,1123.0 208.9,1123.4C209.4,1123.8 209.9,1123.2 210.3,1123.4C210.8,1123.5 211.2,1124.2 211.7,1124.4C212.1,1124.6 212.6,1124.6 213.0,1124.8C213.5,1124.9 213.9,1124.9 214.4,1125.4C214.8,1125.9 215.3,1127.3 215.8,1127.6C216.2,1128.0 216.7,1127.2 217.1,1127.5C217.6,1127.8 218.0,1129.2 218.5,1129.5C218.9,1129.8 219.4,1129.1 219.8,1129.4C220.3,1129.7 220.8,1131.0 221.2,1131.4C221.7,1131.7 222.1,1131.5 222.6,1131.5C223.0,1131.5 223.5,1131.5 223.9,1131.3C224.4,1131.1 224.8,1130.7 225.3,1130.4C225.8,1130.1 226.2,1129.4 226.7,1129.5C227.1,1129.6 227.6,1130.5 228.0,1131.0C228.5,1131.6 228.9,1132.4 229.4,1132.8C229.8,1133.2 230.3,1133.3 230.7,1133.6C231.2,1133.9 231.7,1134.4 232.1,1134.6C232.6,1134.8 233.0,1134.4 233.5,1134.6C233.9,1134.8 234.4,1135.5 234.8,1135.6C235.3,1135.8 235.7,1135.8 236.2,1135.5C236.7,1135.1 237.1,1134.0 237.6,1133.7C238.0,1133.4 238.5,1133.7 238.9,1133.6C239.4,1133.5 239.8,1133.0 240.3,1132.9C240.7,1132.8 241.2,1132.8 241.6,1132.9C242.1,1133.0 242.6,1133.2 243.0,1133.6C243.5,1134.0 243.9,1135.0 244.4,1135.2C244.8,1135.4 245.3,1134.5 245.7,1134.6C246.2,1134.7 246.6,1135.3 247.1,1135.6C247.6,1135.9 248.0,1136.4 248.5,1136.5C248.9,1136.6 249.4,1136.0 249.8,1136.2C250.3,1136.4 250.7,1137.4 251.2,1137.7C251.6,1137.9 252.1,1137.9 252.5,1137.9C253.0,1137.9 253.5,1137.7 253.9,1137.6C254.4,1137.6 254.8,1137.7 255.3,1137.7C255.7,1137.6 256.2,1137.6 256.6,1137.4C257.1,1137.1 257.5,1136.5 258.0,1136.2C258.5,1136.0 258.9,1135.7 259.4,1135.6C259.8,1135.6 260.3,1135.6 260.7,1136.1C261.2,1136.5 261.6,1137.7 262.1,1138.3C262.5,1138.9 263.0,1139.4 263.4,1139.7C263.9,1140.0 264.4,1139.8 264.8,1140.0C265.3,1140.1 265.7,1140.2 266.2,1140.5C266.6,1140.8 267.1,1141.6 267.5,1141.8C268.0,1141.9 268.4,1141.2 268.9,1141.5C269.4,1141.7 269.8,1143.0 270.3,1143.4C270.7,1143.8 271.2,1144.0 271.6,1143.8C272.1,1143.6 272.5,1142.8 273.0,1142.4C273.4,1142.0 273.9,1141.6 274.3,1141.5C274.8,1141.3 275.3,1141.7 275.7,1141.8C276.2,1141.8 276.6,1141.8 277.1,1142.0C277.5,1142.1 278.0,1142.4 278.4,1142.7C278.9,1143.0 279.3,1143.4 279.8,1143.8C280.3,1144.2 280.7,1145.2 281.2,1145.3C281.6,1145.5 282.1,1144.6 282.5,1144.7C283.0,1144.8 283.4,1145.8 283.9,1145.8C284.3,1145.9 284.8,1145.2 285.3,1145.2C285.7,1145.3 286.2,1146.1 286.6,1146.2C287.1,1146.3 287.5,1146.0 288.0,1145.8C288.4,1145.7 288.9,1145.8 289.3,1145.4C289.8,1145.0 290.2,1144.0 290.7,1143.4C291.2,1142.8 291.6,1141.9 292.1,1141.8C292.5,1141.6 293.0,1142.3 293.4,1142.5C293.9,1142.6 294.3,1142.8 294.8,1142.7C295.2,1142.6 295.7,1142.1 296.2,1141.8C296.6,1141.4 297.1,1141.3 297.5,1140.9C298.0,1140.4 298.4,1139.3 298.9,1138.8C299.3,1138.3 299.8,1138.1 300.2,1137.7C300.7,1137.2 301.1,1136.5 301.6,1136.1C302.1,1135.6 302.5,1135.3 303.0,1134.9C303.4,1134.4 303.9,1134.0 304.3,1133.6C304.8,1133.1 305.2,1132.6 305.7,1132.2C306.1,1131.8 306.6,1131.8 307.1,1131.3C307.5,1130.9 308.0,1129.8 308.4,1129.5C308.9,1129.1 309.3,1129.1 309.8,1129.3C310.2,1129.4 310.7,1129.9 311.1,1130.3C311.6,1130.7 312.0,1131.4 312.5,1131.5C313.0,1131.7 313.4,1131.3 313.9,1131.4C314.3,1131.5 314.8,1131.9 315.2,1132.2C315.7,1132.6 316.1,1133.6 316.6,1133.6C317.0,1133.6 317.5,1132.4 318.0,1132.1C318.4,1131.8 318.9,1132.1 319.3,1132.0C319.8,1131.9 320.2,1131.5 320.7,1131.5C321.1,1131.6 321.6,1131.7 322.0,1132.3C322.5,1132.8 322.9,1134.3 323.4,1134.8C323.9,1135.4 324.3,1135.7 324.8,1135.6C325.2,1135.6 325.7,1135.0 326.1,1134.4C326.6,1133.8 327.0,1132.6 327.5,1132.1C327.9,1131.7 328.4,1131.5 328.9,1131.5C329.3,1131.5 329.8,1132.1 330.2,1132.2C330.7,1132.4 331.1,1132.2 331.6,1132.4C332.0,1132.7 332.5,1133.6 332.9,1133.6C333.4,1133.6 333.8,1133.0 334.3,1132.5C334.8,1132.1 335.2,1131.5 335.7,1131.0C336.1,1130.5 336.6,1129.6 337.0,1129.5C337.5,1129.3 337.9,1129.7 338.4,1130.1C338.8,1130.4 339.3,1131.1 339.8,1131.7C340.2,1132.3 340.7,1133.2 341.1,1133.6C341.6,1134.0 342.0,1133.7 342.4,1134.0C342.8,1134.3 343.3,1134.8 343.7,1135.4C344.1,1136.0 344.8,1137.3 345.0,1137.7" stroke="#0c0cd8"/>
<path d="M55.1,1130.0C55.6,1131.0 57.4,1134.9 58.2,1136.1C58.9,1137.4 59.1,1137.0 59.5,1137.5C60.0,1137.9 60.5,1138.3 60.9,1138.8C61.4,1139.2 61.8,1140.1 62.3,1140.2C62.7,1140.4 63.2,1140.3 63.7,1139.9C64.1,1139.4 64.6,1138.0 65.0,1137.3C65.5,1136.7 65.5,1137.4 66.4,1136.1C67.3,1134.9 69.3,1131.7 70.5,1130.0C71.7,1128.2 72.6,1125.5 73.6,1125.8C74.6,1126.2 75.5,1130.0 76.7,1132.0C77.9,1134.1 79.9,1137.6 80.8,1138.2C81.7,1138.8 81.7,1136.1 82.2,1135.8C82.6,1135.5 83.1,1136.6 83.6,1136.3C84.0,1136.0 84.2,1133.8 84.9,1134.1C85.7,1134.4 87.3,1137.4 88.0,1138.2C88.8,1139.0 88.9,1138.4 89.4,1138.7C89.8,1139.0 90.3,1139.9 90.8,1140.1C91.2,1140.4 91.7,1140.4 92.1,1140.2C92.6,1140.1 93.0,1139.6 93.5,1139.3C94.0,1139.0 94.4,1138.9 94.9,1138.7C95.3,1138.5 95.8,1138.2 96.2,1138.2C96.7,1138.2 97.2,1138.1 97.6,1138.7C98.1,1139.3 98.5,1141.3 99.0,1141.9C99.4,1142.5 99.6,1143.3 100.4,1142.3C101.1,1141.3 102.4,1138.5 103.4,1136.1C104.5,1133.7 105.5,1130.0 106.5,1127.9C107.6,1125.8 108.8,1124.7 109.6,1123.8C110.4,1122.9 110.6,1122.6 111.2,1122.3C111.7,1121.9 111.9,1121.1 112.7,1121.7C113.5,1122.3 115.0,1124.9 115.8,1125.8C116.5,1126.8 116.7,1127.2 117.2,1127.4C117.6,1127.7 118.1,1127.4 118.5,1127.5C119.0,1127.5 119.2,1128.5 119.9,1127.9C120.6,1127.3 122.0,1125.2 123.0,1123.8C124.0,1122.4 125.0,1122.1 126.1,1119.7C127.1,1117.3 128.1,1112.8 129.2,1109.4C130.2,1106.0 131.2,1102.2 132.2,1099.1C133.3,1096.0 134.3,1094.0 135.3,1090.9C136.4,1087.8 137.0,1085.6 138.4,1080.6C139.9,1075.5 142.7,1066.9 144.1,1060.6C145.5,1054.3 145.9,1048.7 146.7,1042.7C147.6,1036.8 148.5,1030.5 149.4,1024.9C150.3,1019.3 151.2,1014.5 152.1,1008.8C153.0,1003.2 153.9,995.3 154.8,991.0C155.7,986.7 156.6,983.0 157.4,983.0C158.3,983.0 159.4,986.7 160.1,991.0C160.9,995.3 161.3,1002.3 161.9,1008.8C162.5,1015.4 163.1,1023.4 163.7,1030.2C164.3,1037.1 164.7,1039.4 165.5,1049.9C166.2,1060.3 167.3,1085.1 168.3,1092.9C169.2,1100.8 170.6,1096.2 171.3,1097.0C172.1,1097.9 172.3,1098.0 172.7,1097.9C173.2,1097.8 173.6,1096.6 174.1,1096.4C174.5,1096.3 175.0,1097.0 175.5,1097.0C175.9,1097.0 176.5,1096.7 177.0,1096.4C177.5,1096.0 178.0,1095.2 178.5,1095.0C179.1,1094.8 179.6,1094.9 180.1,1095.2C180.6,1095.6 180.9,1096.0 181.6,1097.0C182.4,1098.0 183.7,1099.1 184.7,1101.2C185.7,1103.2 186.8,1106.3 187.8,1109.4C188.8,1112.5 189.9,1117.3 190.9,1119.7C191.9,1122.1 192.9,1124.1 194.0,1123.8C195.0,1123.4 196.3,1118.8 197.1,1117.6C197.8,1116.5 198.1,1117.0 198.6,1116.9C199.1,1116.9 199.6,1116.9 200.1,1117.2C200.6,1117.5 201.0,1118.3 201.5,1118.7C201.9,1119.0 202.4,1119.1 202.8,1119.2C203.3,1119.3 203.7,1119.1 204.2,1119.3C204.6,1119.5 205.1,1120.2 205.5,1120.4C206.0,1120.7 206.4,1120.4 206.9,1120.6C207.4,1120.7 207.8,1121.0 208.3,1121.3C208.7,1121.7 209.2,1122.3 209.6,1122.7C210.1,1123.1 210.5,1123.5 211.0,1123.9C211.4,1124.4 211.9,1125.1 212.4,1125.4C212.8,1125.8 213.3,1125.4 213.7,1126.0C214.2,1126.6 214.6,1128.3 215.1,1128.9C215.5,1129.4 216.0,1129.1 216.4,1129.5C216.9,1129.9 217.3,1130.8 217.8,1131.1C218.3,1131.3 218.7,1130.9 219.2,1131.0C219.6,1131.1 220.1,1131.6 220.5,1131.5C221.0,1131.5 221.4,1131.1 221.9,1130.8C222.3,1130.6 222.8,1130.1 223.3,1129.9C223.7,1129.6 224.2,1129.4 224.6,1129.5C225.1,1129.6 225.5,1130.1 226.0,1130.3C226.4,1130.5 226.9,1130.5 227.3,1130.7C227.8,1130.9 228.2,1131.3 228.7,1131.5C229.2,1131.7 229.6,1131.6 230.1,1131.9C230.5,1132.2 231.0,1132.9 231.4,1133.2C231.9,1133.5 232.3,1133.4 232.8,1133.6C233.2,1133.8 233.7,1134.1 234.2,1134.2C234.6,1134.4 235.1,1134.4 235.5,1134.3C236.0,1134.2 236.0,1134.7 236.9,1133.6C237.8,1132.4 240.1,1128.6 241.0,1127.4C241.9,1126.3 241.9,1127.1 242.3,1126.8C242.8,1126.5 243.2,1126.3 243.7,1125.7C244.1,1125.1 244.6,1123.6 245.1,1123.4C245.5,1123.1 246.0,1124.4 246.4,1124.4C246.9,1124.5 247.3,1123.6 247.8,1123.8C248.2,1123.9 248.7,1124.8 249.1,1125.4C249.6,1126.1 250.0,1127.2 250.5,1127.7C251.0,1128.1 251.4,1127.9 251.9,1128.2C252.3,1128.5 252.8,1129.1 253.2,1129.5C253.7,1129.8 254.1,1129.9 254.6,1130.3C255.0,1130.7 255.5,1131.5 256.0,1132.0C256.4,1132.6 256.9,1133.1 257.3,1133.6C257.8,1134.1 258.2,1134.6 258.7,1135.0C259.1,1135.4 259.6,1135.6 260.0,1136.0C260.5,1136.5 260.5,1135.7 261.4,1137.7C262.3,1139.6 264.1,1147.2 265.5,1147.9C266.9,1148.6 268.7,1142.9 269.6,1141.8C270.5,1140.6 270.5,1141.5 270.9,1141.0C271.4,1140.4 271.9,1139.1 272.3,1138.6C272.8,1138.0 273.2,1137.8 273.7,1137.7C274.1,1137.5 274.6,1137.8 275.0,1137.6C275.5,1137.5 275.9,1137.2 276.4,1136.8C276.8,1136.5 277.3,1135.8 277.8,1135.6C278.2,1135.5 278.7,1136.2 279.1,1135.9C279.6,1135.5 280.0,1133.9 280.5,1133.5C280.9,1133.1 281.4,1133.7 281.8,1133.6C282.3,1133.5 282.8,1133.0 283.2,1132.8C283.7,1132.6 284.1,1132.6 284.6,1132.4C285.0,1132.2 285.5,1131.6 285.9,1131.5C286.4,1131.5 286.8,1131.7 287.3,1132.0C287.7,1132.2 288.2,1133.0 288.7,1133.3C289.1,1133.5 289.6,1133.8 290.0,1133.6C290.5,1133.4 290.9,1132.3 291.4,1132.0C291.8,1131.7 292.3,1131.7 292.7,1131.7C293.2,1131.6 293.7,1131.7 294.1,1131.5C294.6,1131.4 295.0,1130.8 295.5,1130.8C295.9,1130.7 296.4,1131.4 296.8,1131.1C297.3,1130.9 297.7,1129.8 298.2,1129.5C298.6,1129.2 299.1,1129.4 299.6,1129.4C300.0,1129.3 300.5,1129.1 300.9,1129.1C301.4,1129.1 301.8,1129.6 302.3,1129.5C302.7,1129.4 303.2,1128.6 303.6,1128.5C304.1,1128.4 304.6,1128.9 305.0,1128.7C305.5,1128.6 305.9,1127.9 306.4,1127.4C306.8,1127.0 307.3,1126.1 307.7,1125.8C308.2,1125.6 308.6,1126.0 309.1,1125.9C309.5,1125.8 310.0,1125.5 310.5,1125.4C310.9,1125.3 311.4,1125.1 311.8,1125.2C312.3,1125.3 312.7,1125.5 313.2,1125.9C313.6,1126.3 314.1,1127.2 314.5,1127.4C315.0,1127.7 315.5,1127.1 315.9,1127.4C316.4,1127.6 316.8,1128.8 317.3,1129.1C317.7,1129.5 318.2,1129.5 318.6,1129.5C319.1,1129.5 319.5,1129.4 320.0,1129.0C320.5,1128.7 320.9,1127.6 321.4,1127.3C321.8,1127.0 322.3,1127.5 322.7,1127.4C323.2,1127.4 323.6,1127.2 324.1,1127.1C324.5,1126.9 325.0,1126.5 325.4,1126.3C325.9,1126.0 326.4,1125.3 326.8,1125.4C327.3,1125.5 327.7,1126.5 328.2,1126.7C328.6,1126.9 329.1,1126.5 329.5,1126.6C330.0,1126.7 330.4,1127.1 330.9,1127.4C331.4,1127.8 331.8,1128.2 332.3,1128.4C332.7,1128.7 333.2,1128.7 333.6,1128.9C334.1,1129.1 334.5,1129.5 335.0,1129.5C335.4,1129.5 335.9,1129.5 336.3,1129.1C336.8,1128.7 337.3,1127.5 337.7,1126.9C338.2,1126.2 338.6,1125.8 339.1,1125.4C339.5,1125.0 340.0,1125.2 340.4,1124.6C340.9,1124.0 341.3,1122.5 341.8,1121.9C342.3,1121.4 342.6,1121.4 343.2,1121.3C343.7,1121.2 344.7,1121.3 345.0,1121.3" stroke="#e820e8"/>
<path d="M55.1,1107.3C55.3,1107.3 56.1,1107.2 56.6,1106.9C57.1,1106.5 57.4,1104.9 58.2,1105.3C58.9,1105.7 60.2,1107.7 61.3,1109.4C62.3,1111.1 63.6,1114.3 64.3,1115.6C65.1,1116.8 65.3,1116.5 65.7,1116.9C66.2,1117.3 66.6,1117.6 67.1,1118.1C67.5,1118.5 67.7,1120.1 68.5,1119.7C69.2,1119.3 70.8,1116.0 71.5,1115.6C72.3,1115.2 72.6,1116.9 73.1,1117.2C73.6,1117.6 73.7,1116.5 74.6,1117.6C75.6,1118.7 77.5,1123.4 78.7,1123.8C79.9,1124.1 80.8,1121.7 81.8,1119.7C82.9,1117.6 84.2,1112.5 84.9,1111.4C85.7,1110.4 86.0,1112.9 86.5,1113.2C87.0,1113.6 87.2,1112.4 88.0,1113.5C88.8,1114.6 90.3,1118.6 91.1,1119.7C91.9,1120.7 92.1,1119.6 92.6,1119.9C93.2,1120.2 93.4,1120.7 94.2,1121.7C95.0,1122.7 96.1,1124.1 97.3,1125.8C98.5,1127.6 100.0,1130.0 101.4,1132.0C102.8,1134.1 104.6,1137.2 105.5,1138.2C106.4,1139.2 106.4,1138.1 106.9,1138.2C107.3,1138.4 107.8,1139.1 108.2,1139.1C108.7,1139.1 109.2,1138.4 109.6,1138.2C110.1,1138.0 110.5,1138.1 111.0,1137.9C111.4,1137.8 111.9,1137.6 112.4,1137.2C112.8,1136.9 113.3,1136.5 113.7,1136.1C114.2,1135.8 114.6,1135.3 115.1,1135.2C115.6,1135.2 116.0,1135.9 116.5,1135.7C116.9,1135.5 117.4,1134.5 117.8,1134.1C118.3,1133.6 118.8,1133.5 119.2,1133.1C119.7,1132.8 120.1,1132.6 120.6,1132.1C121.0,1131.6 121.2,1131.7 122.0,1130.0C122.7,1128.2 124.0,1125.2 125.0,1121.7C126.1,1118.3 127.1,1113.8 128.1,1109.4C129.2,1104.9 130.2,1099.4 131.2,1095.0C132.2,1090.5 133.1,1086.4 134.3,1082.6C135.5,1078.9 136.2,1076.6 138.4,1072.3C140.6,1068.1 145.7,1061.9 147.6,1057.0C149.6,1052.1 149.4,1048.1 150.3,1042.7C151.2,1037.4 152.1,1030.5 153.0,1024.9C153.9,1019.3 154.8,1013.3 155.7,1008.8C156.6,1004.4 157.4,998.1 158.3,998.1C159.2,998.1 160.3,1004.1 161.0,1008.8C161.8,1013.6 162.2,1020.1 162.8,1026.7C163.4,1033.2 163.8,1040.8 164.6,1048.1C165.3,1055.3 166.4,1064.2 167.2,1070.3C168.0,1076.4 168.4,1081.3 169.3,1084.7C170.1,1088.1 171.6,1089.9 172.4,1090.9C173.1,1091.8 173.4,1090.8 173.9,1090.4C174.4,1090.1 174.7,1089.8 175.5,1088.8C176.2,1087.9 177.8,1087.2 178.5,1084.7C179.3,1082.2 179.4,1077.8 180.0,1074.0C180.6,1070.2 181.6,1064.8 182.2,1062.0C182.8,1059.2 183.1,1058.2 183.6,1057.5C184.1,1056.8 184.5,1057.1 185.0,1058.0C185.5,1058.9 186.0,1060.7 186.5,1063.0C187.0,1065.3 187.4,1069.0 188.0,1072.0C188.6,1075.0 189.2,1077.5 190.0,1081.0C190.8,1084.5 191.5,1089.3 192.5,1093.0C193.5,1096.7 194.9,1100.8 196.0,1103.2C197.1,1105.6 198.1,1106.0 199.1,1107.3C200.1,1108.6 201.4,1110.5 202.1,1111.1C202.9,1111.7 203.0,1110.9 203.5,1111.0C203.9,1111.1 204.4,1111.4 204.9,1111.8C205.3,1112.1 205.8,1113.0 206.2,1113.1C206.7,1113.2 207.1,1112.6 207.6,1112.4C208.0,1112.3 208.5,1112.5 208.9,1112.2C209.4,1112.0 209.4,1109.6 210.3,1111.1C211.2,1112.6 213.0,1118.6 214.4,1121.3C215.8,1124.0 217.6,1126.4 218.5,1127.4C219.4,1128.5 219.4,1127.7 219.8,1127.5C220.3,1127.2 220.8,1126.1 221.2,1125.8C221.7,1125.4 222.1,1125.4 222.6,1125.4C223.0,1125.4 223.5,1125.9 223.9,1125.7C224.4,1125.5 224.8,1124.6 225.3,1124.3C225.8,1123.9 226.2,1123.6 226.7,1123.4C227.1,1123.2 227.6,1123.0 228.0,1123.1C228.5,1123.2 228.9,1123.5 229.4,1123.9C229.8,1124.3 230.3,1124.8 230.7,1125.4C231.2,1126.0 231.7,1127.0 232.1,1127.3C232.6,1127.6 233.0,1126.9 233.5,1127.3C233.9,1127.7 234.4,1128.9 234.8,1129.5C235.3,1130.0 235.7,1130.2 236.2,1130.6C236.7,1131.0 237.1,1131.4 237.6,1131.9C238.0,1132.4 238.5,1133.1 238.9,1133.6C239.4,1134.1 239.8,1134.8 240.3,1135.0C240.7,1135.2 241.2,1134.6 241.6,1134.7C242.1,1134.8 242.6,1135.4 243.0,1135.6C243.5,1135.8 243.9,1135.8 244.4,1135.9C244.8,1136.0 245.3,1136.0 245.7,1136.3C246.2,1136.5 246.6,1137.3 247.1,1137.7C247.6,1138.0 248.0,1138.6 248.5,1138.5C248.9,1138.4 249.4,1137.4 249.8,1137.2C250.3,1137.1 250.7,1137.2 251.2,1137.7C251.6,1138.1 252.1,1139.4 252.5,1139.8C253.0,1140.1 253.5,1139.2 253.9,1139.6C254.4,1139.9 254.4,1140.4 255.3,1141.8C256.2,1143.1 258.0,1147.9 259.4,1147.9C260.7,1147.9 262.5,1142.7 263.4,1141.8C264.4,1140.8 264.4,1142.5 264.8,1142.4C265.3,1142.3 265.7,1141.1 266.2,1141.0C266.6,1140.9 267.1,1141.5 267.5,1141.8C268.0,1142.1 268.4,1142.6 268.9,1142.8C269.4,1143.0 269.8,1143.1 270.3,1143.2C270.7,1143.4 271.2,1143.8 271.6,1143.8C272.1,1143.8 272.5,1143.8 273.0,1143.5C273.4,1143.3 273.9,1142.6 274.3,1142.3C274.8,1142.0 275.3,1142.1 275.7,1141.8C276.2,1141.4 276.6,1140.2 277.1,1140.1C277.5,1140.0 278.0,1141.1 278.4,1141.0C278.9,1141.0 279.3,1139.9 279.8,1139.7C280.3,1139.5 280.7,1140.2 281.2,1139.9C281.6,1139.5 282.1,1138.2 282.5,1137.8C283.0,1137.5 283.4,1137.5 283.9,1137.7C284.3,1137.9 284.8,1139.0 285.3,1139.1C285.7,1139.3 286.2,1138.2 286.6,1138.3C287.1,1138.4 287.5,1139.7 288.0,1139.7C288.4,1139.8 288.9,1138.9 289.3,1138.7C289.8,1138.5 290.2,1138.4 290.7,1138.3C291.2,1138.1 291.6,1137.8 292.1,1137.7C292.5,1137.5 293.0,1137.4 293.4,1137.2C293.9,1137.0 294.3,1136.7 294.8,1136.4C295.2,1136.1 295.7,1135.5 296.2,1135.6C296.6,1135.7 297.1,1136.7 297.5,1136.9C298.0,1137.1 298.4,1136.7 298.9,1136.8C299.3,1137.0 299.8,1137.6 300.2,1137.7C300.7,1137.7 301.1,1137.5 301.6,1137.2C302.1,1136.9 302.5,1136.4 303.0,1135.8C303.4,1135.2 303.9,1134.2 304.3,1133.6C304.8,1132.9 305.2,1132.6 305.7,1132.0C306.1,1131.4 306.6,1130.5 307.1,1130.1C307.5,1129.6 307.5,1128.6 308.4,1129.5C309.3,1130.4 311.6,1134.5 312.5,1135.6C313.4,1136.8 313.4,1136.4 313.9,1136.5C314.3,1136.6 314.8,1136.2 315.2,1136.4C315.7,1136.6 316.1,1137.3 316.6,1137.7C317.0,1138.0 317.5,1137.9 318.0,1138.5C318.4,1139.0 318.9,1140.3 319.3,1140.8C319.8,1141.4 320.2,1141.5 320.7,1141.8C321.1,1142.0 321.6,1141.9 322.0,1142.5C322.5,1143.1 322.9,1144.9 323.4,1145.5C323.9,1146.0 323.9,1146.8 324.8,1145.8C325.7,1144.9 327.9,1140.8 328.9,1139.7C329.8,1138.6 329.8,1139.6 330.2,1139.3C330.7,1139.1 331.1,1138.2 331.6,1138.0C332.0,1137.7 332.5,1137.7 332.9,1137.7C333.4,1137.6 333.8,1137.5 334.3,1137.5C334.8,1137.5 335.2,1137.7 335.7,1137.7C336.1,1137.7 336.6,1137.4 337.0,1137.7C337.5,1137.9 337.9,1138.9 338.4,1139.0C338.8,1139.2 339.3,1138.6 339.8,1138.8C340.2,1138.9 340.7,1139.4 341.1,1139.7C341.6,1140.0 342.0,1140.0 342.4,1140.6C342.8,1141.2 343.3,1142.6 343.7,1143.1C344.1,1143.6 344.8,1143.7 345.0,1143.8" stroke="#0c7c0c"/>
<path d="M55.1,1125.8C55.3,1125.7 56.1,1124.9 56.6,1124.7C57.1,1124.6 57.7,1124.9 58.2,1124.8C58.7,1124.7 59.1,1124.2 59.5,1124.2C60.0,1124.3 60.5,1124.9 60.9,1125.2C61.4,1125.5 61.8,1125.6 62.3,1125.8C62.7,1126.1 63.2,1126.2 63.7,1126.7C64.1,1127.2 64.6,1128.4 65.0,1128.9C65.5,1129.5 65.9,1130.1 66.4,1130.0C66.9,1129.9 67.3,1128.9 67.8,1128.4C68.2,1127.8 68.7,1127.3 69.1,1126.8C69.6,1126.4 70.1,1126.1 70.5,1125.8C71.0,1125.6 71.4,1125.8 71.9,1125.3C72.3,1124.7 72.8,1123.0 73.3,1122.4C73.7,1121.8 74.2,1121.9 74.6,1121.7C75.1,1121.6 75.5,1121.5 76.0,1121.3C76.5,1121.2 76.9,1120.8 77.4,1120.9C77.8,1120.9 78.3,1121.6 78.7,1121.7C79.2,1121.9 79.7,1121.4 80.1,1121.6C80.6,1121.9 81.0,1122.9 81.5,1123.2C81.9,1123.6 82.4,1123.7 82.9,1123.8C83.3,1123.9 83.8,1123.6 84.2,1123.9C84.7,1124.1 85.2,1125.0 85.6,1125.3C86.1,1125.6 86.5,1125.7 87.0,1125.8C87.4,1126.0 87.9,1125.8 88.4,1126.1C88.8,1126.4 89.3,1127.3 89.7,1127.6C90.2,1127.9 90.4,1127.2 91.1,1127.9C91.8,1128.6 93.2,1130.3 94.2,1132.0C95.2,1133.7 96.5,1137.3 97.3,1138.2C98.0,1139.1 98.2,1137.4 98.6,1137.4C99.1,1137.4 99.6,1138.1 100.0,1138.2C100.5,1138.4 100.9,1138.1 101.4,1138.2C101.8,1138.2 102.3,1138.2 102.8,1138.6C103.2,1139.0 103.7,1139.9 104.1,1140.5C104.6,1141.1 105.0,1142.3 105.5,1142.3C106.0,1142.3 106.5,1140.7 107.0,1140.4C107.6,1140.0 107.8,1141.6 108.6,1140.2C109.4,1138.9 110.6,1135.1 111.7,1132.0C112.7,1128.9 113.7,1124.5 114.8,1121.7C115.8,1119.0 116.8,1115.6 117.8,1115.6C118.9,1115.6 120.2,1120.9 120.9,1121.7C121.7,1122.5 122.0,1120.7 122.5,1120.4C123.0,1120.0 123.2,1120.5 124.0,1119.7C124.8,1118.9 126.3,1116.4 127.1,1115.6C127.9,1114.8 128.1,1115.2 128.6,1114.9C129.2,1114.5 129.4,1114.8 130.2,1113.5C131.0,1112.2 132.4,1109.7 133.3,1107.3C134.1,1104.9 134.6,1100.1 135.3,1099.1C136.0,1098.1 136.7,1100.1 137.4,1101.2C138.1,1102.2 138.8,1106.3 139.4,1105.3C140.1,1104.2 140.8,1098.4 141.5,1095.0C142.2,1091.6 142.9,1088.1 143.6,1084.7C144.2,1081.3 144.8,1078.4 145.6,1074.4C146.4,1070.4 147.7,1064.7 148.5,1060.6C149.3,1056.5 149.6,1054.0 150.3,1049.9C151.1,1045.7 152.1,1038.9 153.0,1035.6C153.9,1032.3 154.8,1029.9 155.7,1030.2C156.6,1030.5 157.4,1034.1 158.3,1037.4C159.2,1040.6 160.1,1046.0 161.0,1049.9C161.9,1053.7 163.0,1055.4 163.7,1060.6C164.4,1065.7 164.6,1073.8 165.2,1080.6C165.8,1087.3 166.5,1096.4 167.2,1101.2C167.9,1106.0 168.6,1108.4 169.3,1109.4C170.0,1110.4 170.7,1109.0 171.3,1107.3C172.0,1105.6 172.7,1102.2 173.4,1099.1C174.1,1096.0 174.8,1092.2 175.5,1088.8C176.1,1085.4 176.8,1081.9 177.5,1078.5C178.2,1075.1 179.2,1070.6 179.6,1068.2C179.9,1065.8 179.4,1066.6 179.7,1064.1C180.1,1061.7 180.9,1056.7 181.5,1053.4C182.1,1050.2 182.6,1048.4 183.3,1044.5C184.0,1040.6 185.1,1033.6 186.0,1030.2C186.8,1026.9 187.6,1024.5 188.3,1024.5C189.0,1024.5 189.9,1026.3 190.4,1030.2C191.0,1034.2 191.3,1042.4 191.7,1048.1C192.1,1053.7 192.0,1057.0 192.8,1064.1C193.5,1071.3 195.0,1084.7 196.0,1090.9C197.1,1097.0 198.4,1097.8 199.1,1101.2C199.8,1104.5 199.2,1108.1 200.1,1111.1C200.9,1114.1 203.3,1117.7 204.2,1119.3C205.1,1120.8 205.1,1119.9 205.5,1120.3C206.0,1120.7 206.4,1121.3 206.9,1121.8C207.4,1122.3 207.8,1122.9 208.3,1123.4C208.7,1123.8 209.2,1124.2 209.6,1124.5C210.1,1124.8 210.5,1124.9 211.0,1125.1C211.4,1125.2 211.9,1125.1 212.4,1125.4C212.8,1125.7 213.3,1126.3 213.7,1126.6C214.2,1126.9 214.6,1126.9 215.1,1127.1C215.5,1127.2 216.0,1127.3 216.4,1127.4C216.9,1127.6 217.3,1127.5 217.8,1127.9C218.3,1128.3 218.7,1129.4 219.2,1130.0C219.6,1130.6 220.1,1131.2 220.5,1131.5C221.0,1131.8 221.4,1132.2 221.9,1131.8C222.3,1131.4 222.8,1129.6 223.3,1129.2C223.7,1128.9 224.2,1129.4 224.6,1129.5C225.1,1129.5 225.5,1129.8 226.0,1129.5C226.4,1129.3 226.9,1128.2 227.3,1127.9C227.8,1127.5 228.2,1127.6 228.7,1127.4C229.2,1127.3 229.6,1126.8 230.1,1127.1C230.5,1127.4 231.0,1128.9 231.4,1129.3C231.9,1129.7 232.3,1129.6 232.8,1129.5C233.2,1129.4 233.7,1129.1 234.2,1128.6C234.6,1128.1 235.1,1126.9 235.5,1126.4C236.0,1125.9 236.4,1125.7 236.9,1125.4C237.3,1125.2 237.8,1125.2 238.2,1124.9C238.7,1124.6 239.1,1123.8 239.6,1123.6C240.1,1123.3 240.5,1123.3 241.0,1123.4C241.4,1123.5 241.9,1123.8 242.3,1124.2C242.8,1124.6 243.2,1125.0 243.7,1125.5C244.1,1126.1 244.6,1127.3 245.1,1127.4C245.5,1127.6 246.0,1126.8 246.4,1126.5C246.9,1126.1 247.3,1125.9 247.8,1125.3C248.2,1124.8 248.6,1124.4 249.1,1123.4C249.7,1122.4 250.6,1119.8 251.2,1119.3C251.8,1118.7 252.1,1120.0 252.5,1120.1C253.0,1120.2 253.5,1119.5 253.9,1119.7C254.4,1119.9 254.8,1120.9 255.3,1121.3C255.7,1121.7 256.2,1121.6 256.6,1122.2C257.1,1122.8 257.5,1124.4 258.0,1125.0C258.5,1125.5 258.9,1125.4 259.4,1125.4C259.8,1125.4 260.3,1124.7 260.7,1124.8C261.2,1125.0 261.6,1126.1 262.1,1126.2C262.5,1126.2 263.0,1125.6 263.4,1125.4C263.9,1125.2 264.4,1125.0 264.8,1125.1C265.3,1125.2 265.7,1125.5 266.2,1125.9C266.6,1126.3 266.6,1125.8 267.5,1127.4C268.4,1129.1 270.7,1134.4 271.6,1135.6C272.5,1136.9 272.5,1135.3 273.0,1134.8C273.4,1134.4 273.9,1133.7 274.3,1133.2C274.8,1132.6 275.3,1131.8 275.7,1131.5C276.2,1131.2 276.6,1131.5 277.1,1131.3C277.5,1131.1 278.0,1130.7 278.4,1130.4C278.9,1130.1 279.3,1129.3 279.8,1129.5C280.3,1129.7 280.7,1131.0 281.2,1131.6C281.6,1132.1 282.1,1132.7 282.5,1133.0C283.0,1133.3 283.4,1133.7 283.9,1133.6C284.3,1133.4 284.8,1132.7 285.3,1132.1C285.7,1131.6 286.2,1130.7 286.6,1130.2C287.1,1129.8 287.5,1129.7 288.0,1129.5C288.4,1129.2 288.9,1128.8 289.3,1128.8C289.8,1128.8 290.2,1129.5 290.7,1129.6C291.2,1129.7 291.6,1129.6 292.1,1129.5C292.5,1129.3 293.0,1128.8 293.4,1128.7C293.9,1128.6 294.3,1129.3 294.8,1129.1C295.2,1128.9 295.7,1127.6 296.2,1127.4C296.6,1127.3 297.1,1127.9 297.5,1127.9C298.0,1128.0 298.4,1127.8 298.9,1128.0C299.3,1128.3 299.8,1129.2 300.2,1129.5C300.7,1129.8 301.1,1129.7 301.6,1129.7C302.1,1129.6 302.5,1129.4 303.0,1129.0C303.4,1128.7 303.9,1128.0 304.3,1127.4C304.8,1126.9 305.2,1126.1 305.7,1126.0C306.1,1125.8 306.6,1126.7 307.1,1126.6C307.5,1126.5 308.0,1125.6 308.4,1125.4C308.9,1125.2 309.3,1125.6 309.8,1125.6C310.2,1125.5 310.7,1125.2 311.1,1125.1C311.6,1125.1 312.0,1125.1 312.5,1125.4C313.0,1125.7 313.4,1126.6 313.9,1127.1C314.3,1127.5 314.8,1128.0 315.2,1128.4C315.7,1128.8 316.1,1129.0 316.6,1129.5C317.0,1130.0 317.5,1130.9 318.0,1131.5C318.4,1132.1 318.9,1132.5 319.3,1132.9C319.8,1133.2 319.9,1132.4 320.7,1133.6C321.4,1134.7 322.7,1140.1 323.7,1139.7C324.8,1139.4 326.1,1133.2 326.8,1131.5C327.5,1129.9 327.7,1130.5 328.2,1130.0C328.6,1129.6 329.1,1129.3 329.5,1128.9C330.0,1128.5 330.4,1127.6 330.9,1127.4C331.4,1127.3 331.8,1128.1 332.3,1127.8C332.7,1127.4 333.2,1125.8 333.6,1125.4C334.1,1125.0 334.5,1125.4 335.0,1125.4C335.4,1125.4 335.9,1125.3 336.3,1125.5C336.8,1125.7 337.3,1126.4 337.7,1126.7C338.2,1127.1 338.6,1127.6 339.1,1127.4C339.6,1127.3 340.1,1126.1 340.6,1125.7C341.1,1125.4 341.6,1125.4 342.1,1125.4C342.6,1125.4 343.1,1125.4 343.6,1125.7C344.0,1126.1 344.8,1127.2 345.0,1127.4" stroke="#07076a"/>
</g>
<rect x="55.0" y="932.8" width="290.0" height="233.4000000000001" fill="none" stroke="#2e2e2e" stroke-width="1.25"/>
<text transform="translate(46.7,1154.1) scale(0.9,1)" text-anchor="end" font-size="10.6">0.000</text>
<text transform="translate(46.7,1123.0) scale(0.9,1)" text-anchor="end" font-size="10.6">0.002</text>
<text transform="translate(46.7,1091.9) scale(0.9,1)" text-anchor="end" font-size="10.6">0.004</text>
<text transform="translate(46.7,1060.8) scale(0.9,1)" text-anchor="end" font-size="10.6">0.006</text>
<text transform="translate(46.7,1029.7) scale(0.9,1)" text-anchor="end" font-size="10.6">0.008</text>
<text transform="translate(46.7,998.5) scale(0.9,1)" text-anchor="end" font-size="10.6">0.010</text>
<text transform="translate(46.7,967.4) scale(0.9,1)" text-anchor="end" font-size="10.6">0.012</text>
<text transform="translate(46.7,936.3) scale(0.9,1)" text-anchor="end" font-size="10.6">0.014</text>
<text x="109.0" y="1181.9" text-anchor="middle" font-size="10">200</text>
<text x="176.4" y="1181.9" text-anchor="middle" font-size="10">400</text>
<text x="243.8" y="1181.9" text-anchor="middle" font-size="10">600</text>
<text x="311.3" y="1181.9" text-anchor="middle" font-size="10">800</text>
<path d="M52.7,1166.2H55.0 M50.0,1150.6H55.0 M52.7,1135.1H55.0 M50.0,1119.5H55.0 M52.7,1104.0H55.0 M50.0,1088.4H55.0 M52.7,1072.8H55.0 M50.0,1057.3H55.0 M52.7,1041.7H55.0 M50.0,1026.2H55.0 M52.7,1010.6H55.0 M50.0,995.0H55.0 M52.7,979.5H55.0 M50.0,963.9H55.0 M52.7,948.4H55.0 M50.0,932.8H55.0 M75.2,1166.2V1168.5 M109.0,1166.2V1171.2 M142.7,1166.2V1168.5 M176.4,1166.2V1171.2 M210.1,1166.2V1168.5 M243.8,1166.2V1171.2 M277.6,1166.2V1168.5 M311.3,1166.2V1171.2 M345.0,1166.2V1168.5" stroke="#2e2e2e" stroke-width="1.0" fill="none"/>
<text x="70.5" y="959.4" font-size="14">f</text>
<path d="M211.6,956.1H238.1" stroke="#000000" stroke-width="2.7" stroke-linecap="round"/>
<text x="241.8" y="960.4" font-size="12">Non-catalyst</text>
<path d="M211.6,971.1H238.1" stroke="#e01010" stroke-width="2.7" stroke-linecap="round"/>
<text x="241.8" y="975.4" font-size="12">CaO:stover=1:20</text>
<path d="M211.6,986.0H238.1" stroke="#0c0cd8" stroke-width="2.7" stroke-linecap="round"/>
<text x="241.8" y="990.3" font-size="12">CaO:stover=1:10</text>
<path d="M211.6,1001.0H238.1" stroke="#e820e8" stroke-width="2.7" stroke-linecap="round"/>
<text x="241.8" y="1005.3" font-size="12">CaO:stover=1:5</text>
<path d="M211.6,1015.9H238.1" stroke="#0c7c0c" stroke-width="2.7" stroke-linecap="round"/>
<text x="241.8" y="1020.2" font-size="12">CaO:stover=1:2</text>
<path d="M211.6,1030.9H238.1" stroke="#07076a" stroke-width="2.7" stroke-linecap="round"/>
<text x="241.8" y="1035.2" font-size="12">CaO:stover=1:1</text>
<text x="155.3" y="1200.2" font-size="12.25">Temperature(</text>
<circle cx="230.7" cy="1192.3" r="0.8" fill="none" stroke="#555" stroke-width="0.7"/>
<text x="231.5" y="1200.2" font-size="12.4" fill="#5a5a5a" style="stroke:none">C</text>
<text x="241.0" y="1200.2" font-size="12">)</text>
<text x="200.0" y="1215.5" text-anchor="middle" font-size="12">Phenols</text>
<text x="0" y="0" transform="translate(10.0,1043.2) rotate(-90)" text-anchor="middle" font-size="12">Absorbance</text>
<clipPath id="clipg"><rect x="438.5" y="932.8" width="290.0" height="233.70000000000005"/></clipPath>
<g clip-path="url(#clipg)" fill="none" stroke-width="3" stroke-linejoin="round" stroke-linecap="round">
<path d="M438.1,1144.4C438.6,1143.7 440.0,1142.0 441.2,1140.2C442.4,1138.5 443.9,1136.1 445.3,1134.1C446.7,1132.0 448.0,1130.6 449.4,1127.9C450.8,1125.2 452.3,1120.7 453.5,1117.6C454.7,1114.5 455.8,1110.8 456.6,1109.4C457.4,1107.9 457.6,1109.5 458.1,1108.9C458.7,1108.4 459.2,1107.0 459.7,1106.3C460.2,1105.6 460.7,1105.1 461.2,1104.6C461.7,1104.1 462.0,1102.4 462.8,1103.2C463.5,1104.0 464.8,1107.3 465.9,1109.4C466.9,1111.4 467.9,1113.5 469.0,1115.6C470.0,1117.6 471.3,1120.5 472.0,1121.7C472.8,1123.0 473.1,1122.6 473.6,1123.0C474.1,1123.3 474.6,1123.8 475.1,1123.8C475.6,1123.8 476.2,1123.5 476.7,1123.1C477.2,1122.8 477.4,1121.3 478.2,1121.7C479.0,1122.2 480.3,1124.3 481.3,1125.8C482.3,1127.4 483.6,1130.3 484.4,1131.0C485.2,1131.7 485.4,1130.2 485.9,1130.2C486.4,1130.2 487.0,1130.8 487.5,1131.0C488.0,1131.2 488.5,1131.7 489.0,1131.6C489.5,1131.4 490.1,1129.9 490.6,1130.0C491.0,1130.0 491.5,1131.5 491.9,1131.7C492.4,1131.9 492.8,1131.3 493.3,1131.4C493.8,1131.4 494.2,1132.0 494.7,1132.0C495.1,1132.0 495.6,1131.9 496.0,1131.5C496.5,1131.2 497.0,1130.5 497.4,1129.9C497.9,1129.3 498.3,1128.3 498.8,1127.9C499.2,1127.6 499.7,1127.9 500.2,1127.8C500.6,1127.6 501.1,1127.0 501.5,1127.0C502.0,1127.1 502.2,1128.4 502.9,1127.9C503.6,1127.4 505.0,1125.2 506.0,1123.8C507.0,1122.4 508.0,1121.7 509.1,1119.7C510.1,1117.6 511.1,1114.5 512.2,1111.4C513.2,1108.4 514.2,1104.6 515.2,1101.2C516.3,1097.7 517.3,1094.3 518.3,1090.9C519.4,1087.4 520.4,1083.7 521.4,1080.6C522.4,1077.5 523.5,1074.7 524.5,1072.3C525.5,1069.9 526.7,1067.6 527.6,1066.2C528.5,1064.7 529.1,1064.1 529.8,1063.6C530.6,1063.2 531.3,1064.0 532.1,1063.5C532.8,1063.0 533.6,1063.2 534.3,1060.7C535.0,1058.2 535.7,1052.7 536.4,1048.4C537.0,1044.0 537.8,1039.0 538.4,1034.7C539.0,1030.3 539.6,1025.3 540.1,1022.3C540.5,1019.3 540.6,1018.4 540.9,1016.8C541.1,1015.2 541.2,1012.2 541.4,1012.7C541.7,1013.2 542.1,1015.7 542.5,1019.6C542.9,1023.4 543.4,1030.5 543.9,1036.0C544.4,1041.5 543.9,1041.6 545.3,1052.5C546.7,1063.3 550.6,1091.0 552.3,1101.2C554.0,1111.3 554.3,1110.1 555.4,1113.5C556.4,1116.9 557.3,1119.5 558.5,1121.7C559.7,1124.0 561.2,1126.9 562.6,1126.9C563.9,1126.9 565.8,1122.7 566.7,1121.7C567.6,1120.7 567.6,1121.1 568.1,1120.9C568.5,1120.7 569.0,1120.4 569.4,1120.6C569.9,1120.7 570.3,1121.3 570.8,1121.7C571.3,1122.2 571.7,1123.1 572.2,1123.2C572.6,1123.4 573.1,1122.5 573.5,1122.6C574.0,1122.7 574.5,1123.4 574.9,1123.8C575.4,1124.2 575.8,1124.9 576.3,1125.1C576.7,1125.3 577.2,1124.7 577.7,1124.8C578.1,1125.0 578.5,1125.7 579.0,1125.8C579.5,1126.0 580.2,1125.8 580.7,1125.5C581.3,1125.2 581.8,1124.4 582.4,1124.0C583.0,1123.7 583.6,1123.3 584.1,1123.4C584.6,1123.4 585.0,1124.2 585.5,1124.4C585.9,1124.5 586.4,1124.3 586.8,1124.5C587.3,1124.7 587.7,1125.0 588.2,1125.4C588.6,1125.8 589.1,1126.6 589.5,1126.7C590.0,1126.8 590.4,1126.0 590.9,1126.2C591.4,1126.3 591.8,1127.1 592.3,1127.4C592.7,1127.8 593.2,1128.2 593.6,1128.1C594.1,1128.0 594.5,1126.7 595.0,1126.6C595.4,1126.5 595.9,1127.5 596.4,1127.4C596.8,1127.4 597.3,1126.6 597.7,1126.3C598.2,1126.1 598.6,1126.1 599.1,1125.9C599.5,1125.8 600.0,1125.4 600.4,1125.4C600.9,1125.4 601.3,1125.7 601.8,1125.7C602.3,1125.8 602.7,1125.7 603.2,1125.9C603.6,1126.2 604.1,1127.0 604.5,1127.4C605.0,1127.9 605.4,1128.4 605.9,1128.8C606.3,1129.2 606.8,1129.9 607.3,1130.0C607.7,1130.1 608.2,1129.4 608.6,1129.5C609.1,1129.6 609.5,1130.7 610.0,1130.8C610.4,1130.9 610.9,1129.9 611.3,1130.0C611.8,1130.2 612.2,1131.2 612.7,1131.5C613.2,1131.8 613.6,1131.6 614.1,1131.9C614.5,1132.3 615.0,1133.4 615.4,1133.7C615.9,1133.9 616.3,1133.3 616.8,1133.6C617.2,1133.8 617.7,1135.2 618.2,1135.2C618.6,1135.3 619.1,1133.9 619.5,1133.9C620.0,1134.0 620.4,1135.2 620.9,1135.6C621.3,1136.1 621.8,1136.5 622.2,1136.6C622.7,1136.7 623.1,1136.0 623.6,1136.2C624.1,1136.4 624.5,1137.4 625.0,1137.7C625.4,1138.0 625.9,1138.1 626.3,1138.0C626.8,1138.0 627.2,1137.8 627.7,1137.4C628.1,1137.0 628.6,1136.1 629.1,1135.6C629.5,1135.2 630.0,1134.9 630.4,1134.7C630.9,1134.6 631.3,1134.8 631.8,1134.6C632.2,1134.4 632.7,1133.8 633.1,1133.6C633.6,1133.4 634.0,1133.6 634.5,1133.6C635.0,1133.5 635.4,1133.1 635.9,1133.1C636.3,1133.1 636.8,1133.4 637.2,1133.6C637.7,1133.7 638.1,1134.3 638.6,1134.0C639.0,1133.8 639.5,1132.6 640.0,1132.1C640.4,1131.7 640.9,1131.7 641.3,1131.5C641.8,1131.4 642.2,1131.1 642.7,1131.3C643.1,1131.5 643.6,1132.7 644.0,1132.7C644.5,1132.8 645.0,1131.9 645.4,1131.5C645.9,1131.2 646.3,1130.6 646.8,1130.5C647.2,1130.3 647.7,1130.2 648.1,1130.4C648.6,1130.6 649.0,1131.2 649.5,1131.5C649.9,1131.9 650.4,1132.3 650.9,1132.7C651.3,1133.0 651.8,1133.4 652.2,1133.6C652.7,1133.7 653.1,1133.5 653.6,1133.6C654.0,1133.6 654.5,1133.8 654.9,1133.8C655.4,1133.8 655.9,1133.5 656.3,1133.8C656.8,1134.1 657.2,1135.4 657.7,1135.6C658.1,1135.9 658.6,1135.7 659.0,1135.4C659.5,1135.0 659.9,1134.1 660.4,1133.4C660.8,1132.8 661.3,1132.0 661.8,1131.5C662.2,1131.0 662.7,1130.6 663.1,1130.5C663.6,1130.4 664.0,1130.9 664.5,1130.8C664.9,1130.6 665.4,1129.7 665.8,1129.5C666.3,1129.2 666.8,1129.8 667.2,1129.3C667.7,1128.8 668.1,1127.2 668.6,1126.6C669.0,1125.9 669.4,1125.6 669.9,1125.4C670.4,1125.2 671.0,1125.5 671.5,1125.1C672.0,1124.8 672.5,1123.4 673.0,1123.4C673.5,1123.3 674.0,1124.3 674.5,1124.7C675.0,1125.0 675.6,1125.1 676.1,1125.4C676.5,1125.7 677.0,1126.1 677.4,1126.5C677.9,1126.9 678.3,1127.5 678.8,1128.0C679.2,1128.5 679.7,1129.0 680.2,1129.5C680.6,1129.9 681.1,1130.6 681.5,1130.7C682.0,1130.8 682.4,1129.9 682.9,1130.1C683.3,1130.2 683.8,1131.5 684.2,1131.5C684.7,1131.5 685.1,1130.3 685.6,1130.1C686.1,1129.9 686.5,1130.5 687.0,1130.4C687.4,1130.3 687.9,1129.3 688.3,1129.5C688.8,1129.6 689.2,1130.7 689.7,1131.3C690.1,1131.8 690.6,1132.4 691.1,1132.8C691.5,1133.2 692.0,1133.4 692.4,1133.6C692.9,1133.8 693.3,1134.2 693.8,1133.9C694.2,1133.7 694.7,1132.4 695.1,1132.0C695.6,1131.6 696.0,1131.7 696.5,1131.5C697.0,1131.4 697.4,1130.9 697.9,1131.0C698.3,1131.1 698.8,1131.9 699.2,1132.0C699.7,1132.1 700.1,1131.7 700.6,1131.5C701.0,1131.4 701.5,1131.3 702.0,1130.9C702.4,1130.5 702.9,1129.3 703.3,1129.0C703.8,1128.8 704.2,1129.7 704.7,1129.5C705.1,1129.3 705.6,1128.1 706.0,1127.9C706.5,1127.7 706.9,1128.3 707.4,1128.2C707.9,1128.1 708.3,1127.4 708.8,1127.4C709.2,1127.5 709.7,1128.4 710.1,1128.3C710.6,1128.2 711.0,1127.1 711.5,1126.9C711.9,1126.8 712.4,1127.7 712.9,1127.4C713.3,1127.1 713.8,1125.6 714.2,1125.1C714.7,1124.6 715.1,1124.9 715.6,1124.6C716.0,1124.3 716.5,1123.5 716.9,1123.4C717.4,1123.2 717.8,1124.2 718.3,1123.8C718.8,1123.4 719.2,1121.4 719.7,1121.0C720.1,1120.6 720.6,1121.3 721.0,1121.3C721.5,1121.3 721.9,1121.3 722.4,1121.2C722.8,1121.2 723.3,1121.3 723.8,1121.0C724.2,1120.6 724.7,1119.6 725.1,1119.3C725.6,1118.9 726.0,1118.9 726.4,1118.9C726.8,1118.9 727.3,1119.2 727.7,1119.2C728.1,1119.3 728.8,1119.3 729.0,1119.3" stroke="#000000"/>
<path d="M438.1,1138.2C438.6,1138.9 440.4,1141.4 441.2,1142.3C441.9,1143.2 442.1,1143.2 442.5,1143.5C443.0,1143.7 443.5,1143.7 443.9,1143.8C444.4,1143.9 444.8,1144.3 445.3,1144.4C445.8,1144.5 446.3,1144.8 446.8,1144.5C447.3,1144.1 447.6,1143.7 448.4,1142.3C449.1,1140.9 450.4,1138.9 451.5,1136.1C452.5,1133.4 453.5,1128.9 454.5,1125.8C455.6,1122.8 456.8,1118.6 457.6,1117.6C458.5,1116.6 458.8,1118.6 459.7,1119.7C460.5,1120.7 461.7,1122.1 462.8,1123.8C463.8,1125.5 464.8,1128.2 465.9,1130.0C466.9,1131.7 467.9,1132.7 469.0,1134.1C470.0,1135.4 471.3,1137.1 472.0,1138.2C472.8,1139.2 473.0,1140.0 473.4,1140.4C473.9,1140.8 474.3,1140.2 474.8,1140.5C475.2,1140.8 475.7,1142.4 476.2,1142.3C476.6,1142.3 477.2,1140.5 477.7,1140.2C478.2,1139.8 478.7,1140.3 479.2,1140.2C479.8,1140.2 480.3,1140.3 480.8,1140.0C481.3,1139.6 481.8,1138.4 482.3,1138.2C482.8,1138.0 483.2,1138.2 483.7,1138.6C484.2,1138.9 484.6,1140.1 485.1,1140.3C485.5,1140.6 486.0,1140.2 486.4,1140.2C486.9,1140.3 487.4,1140.1 487.8,1140.4C488.3,1140.7 488.7,1142.0 489.2,1142.3C489.6,1142.6 490.1,1142.4 490.6,1142.3C491.0,1142.2 491.5,1141.5 491.9,1141.5C492.4,1141.5 492.8,1142.3 493.3,1142.1C493.8,1141.9 494.2,1141.0 494.7,1140.2C495.1,1139.5 495.6,1138.1 496.0,1137.8C496.5,1137.5 497.0,1138.8 497.4,1138.5C497.9,1138.2 498.3,1136.5 498.8,1136.1C499.2,1135.7 499.7,1135.7 500.2,1136.1C500.6,1136.5 501.1,1138.2 501.5,1138.6C502.0,1138.9 502.0,1139.3 502.9,1138.2C503.8,1137.1 505.6,1134.8 507.0,1132.0C508.4,1129.3 509.8,1125.2 511.1,1121.7C512.5,1118.3 513.9,1115.6 515.2,1111.4C516.6,1107.3 518.0,1101.8 519.4,1097.0C520.7,1092.2 522.1,1087.1 523.5,1082.6C524.8,1078.2 526.6,1075.3 527.6,1070.3C528.6,1065.3 528.8,1057.7 529.5,1052.5C530.2,1047.2 530.9,1043.3 531.6,1038.8C532.2,1034.2 532.9,1029.6 533.6,1025.0C534.3,1020.5 535.0,1015.9 535.7,1011.3C536.4,1006.8 537.0,1002.0 537.7,997.6C538.4,993.3 539.2,988.1 539.8,985.3C540.4,982.4 540.9,980.0 541.4,980.5C542.0,980.9 542.7,984.5 543.2,988.0C543.7,991.6 544.1,996.9 544.6,1001.7C545.0,1006.5 545.5,1011.6 546.0,1016.8C546.4,1022.1 546.9,1027.8 547.3,1033.3C547.8,1038.8 548.3,1044.7 548.7,1049.7C549.1,1054.8 549.2,1053.9 549.7,1063.5C550.1,1073.1 550.5,1098.6 551.3,1107.3C552.0,1116.0 553.3,1113.5 554.3,1115.6C555.4,1117.6 556.4,1120.0 557.4,1119.7C558.5,1119.3 559.7,1114.9 560.5,1113.5C561.4,1112.1 561.7,1110.4 562.6,1111.4C563.4,1112.5 564.9,1118.3 565.7,1119.7C566.4,1121.1 566.7,1119.6 567.2,1119.9C567.7,1120.3 568.3,1121.2 568.7,1121.7C569.2,1122.3 569.7,1122.7 570.1,1123.3C570.6,1123.8 571.0,1124.5 571.5,1124.9C571.9,1125.4 572.4,1125.8 572.9,1125.8C573.3,1125.9 573.8,1125.1 574.2,1125.4C574.7,1125.7 575.1,1127.3 575.6,1127.7C576.1,1128.1 576.5,1127.7 577.0,1127.9C577.4,1128.1 577.9,1128.8 578.3,1129.2C578.8,1129.6 579.3,1130.2 579.7,1130.4C580.2,1130.5 580.5,1129.8 581.1,1130.0C581.6,1130.2 582.2,1130.6 583.1,1131.5C583.9,1132.5 585.4,1135.0 586.1,1135.6C586.9,1136.3 587.0,1135.6 587.5,1135.4C587.9,1135.2 588.4,1134.8 588.9,1134.5C589.3,1134.2 589.8,1133.8 590.2,1133.6C590.7,1133.3 591.1,1133.0 591.6,1133.1C592.0,1133.2 592.5,1133.7 592.9,1134.1C593.4,1134.6 593.9,1135.4 594.3,1135.6C594.8,1135.8 595.2,1135.1 595.7,1135.4C596.1,1135.6 596.6,1136.8 597.0,1137.1C597.5,1137.5 597.9,1137.6 598.4,1137.7C598.8,1137.7 599.3,1137.5 599.8,1137.6C600.2,1137.7 600.7,1138.2 601.1,1138.2C601.6,1138.2 602.0,1137.7 602.5,1137.7C602.9,1137.7 603.4,1138.0 603.8,1138.1C604.3,1138.3 604.8,1138.4 605.2,1138.7C605.7,1138.9 606.1,1139.4 606.6,1139.7C607.0,1140.1 607.5,1140.7 607.9,1140.8C608.4,1140.9 608.8,1140.2 609.3,1140.3C609.8,1140.5 610.2,1141.6 610.7,1141.8C611.1,1141.9 611.6,1141.5 612.0,1141.3C612.5,1141.0 612.9,1140.6 613.4,1140.3C613.8,1140.1 614.3,1139.6 614.7,1139.7C615.2,1139.9 615.7,1141.2 616.1,1141.2C616.6,1141.3 617.0,1139.9 617.5,1140.0C617.9,1140.1 618.4,1141.3 618.8,1141.8C619.3,1142.2 619.7,1143.1 620.2,1143.0C620.7,1142.9 621.1,1141.4 621.6,1141.2C622.0,1141.0 622.5,1141.7 622.9,1141.8C623.4,1141.8 623.8,1141.3 624.3,1141.2C624.7,1141.2 625.2,1141.3 625.6,1141.4C626.1,1141.5 626.6,1141.8 627.0,1141.8C627.5,1141.7 627.9,1141.5 628.4,1141.2C628.8,1140.9 629.3,1140.2 629.7,1140.0C630.2,1139.7 630.6,1139.6 631.1,1139.7C631.6,1139.8 632.0,1140.6 632.5,1140.4C632.9,1140.3 633.4,1138.9 633.8,1138.8C634.3,1138.7 634.7,1139.6 635.2,1139.7C635.6,1139.9 636.1,1139.5 636.5,1139.7C637.0,1139.9 637.5,1140.8 637.9,1141.1C638.4,1141.4 638.8,1141.7 639.3,1141.8C639.7,1141.8 640.2,1141.9 640.6,1141.6C641.1,1141.3 641.5,1140.2 642.0,1139.8C642.5,1139.5 642.9,1139.6 643.4,1139.7C643.8,1139.8 644.3,1140.2 644.7,1140.4C645.2,1140.6 645.6,1140.7 646.1,1141.0C646.5,1141.2 647.0,1141.7 647.4,1141.8C647.9,1141.8 648.4,1141.8 648.8,1141.4C649.3,1141.1 649.7,1139.9 650.2,1139.6C650.6,1139.3 651.1,1139.5 651.5,1139.7C652.0,1139.9 652.4,1140.2 652.9,1140.5C653.4,1140.9 653.8,1141.4 654.3,1141.6C654.7,1141.8 655.2,1141.8 655.6,1141.8C656.1,1141.7 656.5,1141.2 657.0,1141.1C657.4,1141.1 657.9,1141.3 658.3,1141.4C658.8,1141.6 659.3,1141.4 659.7,1141.8C660.2,1142.1 660.6,1143.4 661.1,1143.5C661.5,1143.7 662.0,1142.7 662.4,1142.7C662.9,1142.8 663.3,1143.8 663.8,1143.8C664.3,1143.8 664.7,1143.0 665.2,1142.8C665.6,1142.5 666.1,1142.3 666.5,1142.1C667.0,1141.9 667.4,1141.9 667.9,1141.8C668.3,1141.6 668.8,1140.9 669.3,1141.0C669.7,1141.1 670.2,1142.0 670.6,1142.2C671.1,1142.3 671.5,1141.8 672.0,1141.8C672.4,1141.7 672.9,1142.0 673.3,1142.0C673.8,1142.0 674.2,1141.9 674.7,1141.5C675.2,1141.1 675.6,1140.1 676.1,1139.7C676.5,1139.3 677.0,1139.4 677.4,1139.3C677.9,1139.2 678.3,1139.0 678.8,1139.0C679.2,1139.1 679.7,1139.6 680.2,1139.7C680.6,1139.8 681.1,1139.3 681.5,1139.5C682.0,1139.7 682.4,1140.5 682.9,1140.9C683.3,1141.3 683.8,1141.8 684.2,1141.8C684.7,1141.7 685.1,1140.7 685.6,1140.8C686.1,1140.9 686.5,1142.1 687.0,1142.3C687.4,1142.5 687.9,1142.0 688.3,1141.8C688.8,1141.5 689.2,1140.7 689.7,1140.6C690.1,1140.4 690.6,1141.3 691.1,1141.1C691.5,1141.0 692.0,1140.0 692.4,1139.7C692.9,1139.4 693.3,1139.3 693.8,1139.5C694.2,1139.8 694.7,1140.9 695.1,1141.3C695.6,1141.7 696.0,1141.5 696.5,1141.8C697.0,1142.0 697.4,1142.8 697.9,1142.7C698.3,1142.5 698.8,1140.8 699.2,1140.6C699.7,1140.5 700.1,1141.6 700.6,1141.8C701.0,1141.9 701.5,1141.2 702.0,1141.3C702.4,1141.5 702.9,1142.5 703.3,1142.6C703.8,1142.7 704.2,1142.2 704.7,1141.8C705.1,1141.3 705.6,1140.2 706.0,1140.1C706.5,1139.9 706.9,1141.0 707.4,1141.0C707.9,1140.9 708.3,1139.9 708.8,1139.7C709.2,1139.5 709.7,1139.8 710.1,1139.7C710.6,1139.5 711.0,1139.3 711.5,1138.9C711.9,1138.6 712.4,1137.7 712.9,1137.7C713.3,1137.6 713.8,1138.8 714.2,1138.7C714.7,1138.5 715.1,1136.8 715.6,1136.7C716.0,1136.5 716.5,1137.6 716.9,1137.7C717.4,1137.7 717.8,1137.1 718.3,1136.9C718.8,1136.7 719.2,1136.7 719.7,1136.5C720.1,1136.2 720.6,1135.8 721.0,1135.6C721.5,1135.4 721.9,1135.4 722.4,1135.4C722.8,1135.3 723.3,1135.3 723.8,1135.3C724.2,1135.3 724.7,1135.7 725.1,1135.6C725.6,1135.5 726.0,1134.8 726.4,1134.7C726.8,1134.7 727.3,1135.6 727.7,1135.4C728.1,1135.2 728.8,1133.9 729.0,1133.6" stroke="#e01010"/>
<path d="M438.1,1127.9C438.6,1128.6 440.4,1131.5 441.2,1132.0C441.9,1132.5 442.2,1131.1 442.7,1130.7C443.2,1130.4 443.5,1130.8 444.3,1130.0C445.0,1129.1 446.3,1127.2 447.3,1125.8C448.4,1124.5 449.4,1123.1 450.4,1121.7C451.5,1120.4 452.5,1119.0 453.5,1117.6C454.5,1116.2 455.8,1114.3 456.6,1113.5C457.4,1112.7 457.6,1112.9 458.1,1112.6C458.7,1112.2 458.9,1110.9 459.7,1111.4C460.5,1111.9 461.7,1113.8 462.8,1115.6C463.8,1117.3 464.8,1119.7 465.9,1121.7C466.9,1123.8 467.9,1126.2 469.0,1127.9C470.0,1129.6 471.0,1130.6 472.0,1132.0C473.1,1133.4 474.4,1135.2 475.1,1136.1C475.9,1137.1 476.2,1137.5 476.7,1137.8C477.2,1138.2 477.7,1138.0 478.2,1138.2C478.7,1138.4 479.2,1138.5 479.8,1138.8C480.3,1139.2 480.8,1139.9 481.3,1140.2C481.8,1140.6 482.3,1140.8 482.8,1141.2C483.4,1141.5 483.9,1142.0 484.4,1142.3C484.9,1142.6 485.3,1143.0 485.8,1142.8C486.2,1142.6 486.7,1141.3 487.1,1141.2C487.6,1141.1 488.0,1142.4 488.5,1142.3C489.0,1142.2 489.4,1141.2 489.9,1140.6C490.3,1140.0 490.8,1139.2 491.2,1138.8C491.7,1138.4 492.2,1138.6 492.6,1138.2C493.1,1137.8 493.5,1137.1 494.0,1136.5C494.4,1135.9 494.9,1135.0 495.4,1134.6C495.8,1134.1 496.3,1134.3 496.7,1134.1C497.2,1133.8 497.6,1133.1 498.1,1133.1C498.6,1133.0 499.0,1134.0 499.5,1133.8C499.9,1133.6 500.4,1132.6 500.8,1132.0C501.3,1131.4 501.8,1130.3 502.2,1130.2C502.7,1130.1 503.1,1131.6 503.6,1131.5C504.0,1131.5 504.0,1131.3 505.0,1130.0C505.9,1128.7 507.7,1126.2 509.1,1123.8C510.4,1121.4 511.8,1118.6 513.2,1115.6C514.6,1112.5 515.9,1108.7 517.3,1105.3C518.7,1101.8 520.0,1099.1 521.4,1095.0C522.8,1090.9 524.4,1086.3 525.5,1080.6C526.7,1074.9 527.4,1062.8 528.1,1060.7C528.8,1058.7 529.3,1070.5 529.7,1068.2C530.0,1065.9 529.7,1052.8 530.2,1047.0C530.6,1041.2 531.6,1037.9 532.2,1033.3C532.9,1028.7 533.6,1024.1 534.3,1019.6C535.0,1015.0 535.7,1010.4 536.4,1005.8C537.0,1001.3 537.8,995.6 538.4,992.1C539.0,988.7 539.5,985.3 540.1,985.3C540.6,985.3 541.3,988.7 541.8,992.1C542.4,995.6 542.8,1000.8 543.2,1005.8C543.7,1010.9 544.1,1016.8 544.6,1022.3C545.0,1027.8 545.5,1033.3 546.0,1038.8C546.4,1044.3 546.8,1045.9 547.3,1055.2C547.9,1064.6 548.4,1086.0 549.2,1095.0C550.0,1104.0 551.5,1106.8 552.3,1109.4C553.1,1112.0 553.3,1110.2 553.8,1110.6C554.3,1110.9 554.6,1113.0 555.4,1111.4C556.1,1109.9 557.6,1104.2 558.5,1101.2C559.3,1098.1 559.8,1095.3 560.5,1092.9C561.2,1090.5 561.9,1087.1 562.6,1086.7C563.3,1086.4 563.9,1088.5 564.6,1090.9C565.3,1093.3 566.0,1098.1 566.7,1101.2C567.4,1104.2 567.9,1107.0 568.7,1109.4C569.6,1111.8 571.1,1114.2 571.8,1115.6C572.6,1116.9 572.9,1117.0 573.4,1117.3C573.9,1117.7 574.4,1117.7 574.9,1117.6C575.4,1117.6 575.8,1117.1 576.3,1117.0C576.7,1116.9 577.2,1116.9 577.7,1117.0C578.1,1117.1 578.6,1117.4 579.0,1117.6C579.5,1117.9 579.9,1118.1 580.4,1118.5C580.8,1118.9 581.3,1119.4 581.7,1119.9C582.2,1120.4 582.3,1120.4 583.1,1121.3C583.8,1122.2 585.4,1124.4 586.1,1125.4C586.9,1126.4 587.0,1127.1 587.5,1127.5C587.9,1127.8 588.4,1127.1 588.9,1127.5C589.3,1127.8 589.8,1129.0 590.2,1129.5C590.7,1130.0 591.1,1130.2 591.6,1130.3C592.0,1130.4 592.5,1129.8 592.9,1130.0C593.4,1130.2 593.9,1131.3 594.3,1131.5C594.8,1131.8 595.2,1131.0 595.7,1131.3C596.1,1131.7 596.6,1133.4 597.0,1133.7C597.5,1134.1 597.9,1133.6 598.4,1133.6C598.8,1133.6 599.3,1133.6 599.8,1133.8C600.2,1133.9 600.7,1134.4 601.1,1134.4C601.6,1134.3 602.0,1133.5 602.5,1133.6C602.9,1133.7 603.4,1134.5 603.8,1134.8C604.3,1135.1 604.8,1135.2 605.2,1135.3C605.7,1135.4 606.1,1135.8 606.6,1135.6C607.0,1135.4 607.5,1134.4 607.9,1134.2C608.4,1133.9 608.8,1134.4 609.3,1133.9C609.8,1133.5 610.2,1131.7 610.7,1131.5C611.1,1131.3 611.6,1132.6 612.0,1132.7C612.5,1132.7 612.9,1131.7 613.4,1131.8C613.8,1132.0 614.3,1133.1 614.7,1133.6C615.2,1134.0 615.7,1134.6 616.1,1134.6C616.6,1134.7 617.0,1133.7 617.5,1133.9C617.9,1134.1 618.4,1135.3 618.8,1135.6C619.3,1136.0 619.7,1136.0 620.2,1135.9C620.7,1135.9 621.1,1135.4 621.6,1135.3C622.0,1135.3 622.5,1135.8 622.9,1135.6C623.4,1135.5 623.8,1135.0 624.3,1134.4C624.7,1133.8 625.2,1132.7 625.6,1132.2C626.1,1131.7 626.6,1131.4 627.0,1131.5C627.5,1131.6 627.9,1132.6 628.4,1132.7C628.8,1132.8 629.3,1132.0 629.7,1132.1C630.2,1132.3 630.6,1133.2 631.1,1133.6C631.6,1134.0 632.0,1134.3 632.5,1134.5C632.9,1134.7 633.4,1134.4 633.8,1134.6C634.3,1134.8 634.7,1135.4 635.2,1135.6C635.6,1135.9 636.1,1136.2 636.5,1136.1C637.0,1135.9 637.5,1135.2 637.9,1134.8C638.4,1134.4 638.5,1134.5 639.3,1133.6C640.0,1132.7 641.3,1129.5 642.3,1129.5C643.4,1129.5 644.7,1132.9 645.4,1133.6C646.1,1134.3 646.3,1133.5 646.8,1133.6C647.2,1133.7 647.7,1133.8 648.1,1134.1C648.6,1134.5 649.0,1135.1 649.5,1135.6C649.9,1136.1 650.4,1136.9 650.9,1137.2C651.3,1137.4 651.8,1136.9 652.2,1137.0C652.7,1137.0 653.1,1137.5 653.6,1137.7C654.0,1137.8 654.5,1137.8 654.9,1138.0C655.4,1138.2 655.9,1138.6 656.3,1138.9C656.8,1139.2 657.2,1139.6 657.7,1139.7C658.1,1139.8 658.6,1139.4 659.0,1139.4C659.5,1139.3 659.9,1139.7 660.4,1139.4C660.8,1139.1 661.3,1137.9 661.8,1137.7C662.2,1137.4 662.7,1138.0 663.1,1138.1C663.6,1138.1 664.0,1137.8 664.5,1138.1C664.9,1138.4 665.4,1139.2 665.8,1139.7C666.3,1140.2 666.8,1141.0 667.2,1141.2C667.7,1141.4 668.1,1140.6 668.6,1140.7C669.0,1140.8 669.5,1141.6 669.9,1141.8C670.4,1142.0 670.8,1142.0 671.3,1141.9C671.7,1141.8 672.2,1141.6 672.7,1141.3C673.1,1140.9 673.6,1140.2 674.0,1139.7C674.5,1139.2 674.9,1138.7 675.4,1138.4C675.8,1138.0 676.3,1137.6 676.7,1137.5C677.2,1137.4 677.7,1137.6 678.1,1137.7C678.6,1137.8 679.0,1138.0 679.5,1138.2C679.9,1138.4 680.4,1138.8 680.8,1139.1C681.3,1139.3 681.7,1139.7 682.2,1139.7C682.6,1139.7 683.1,1139.4 683.6,1139.0C684.0,1138.6 684.5,1137.8 684.9,1137.6C685.4,1137.3 685.8,1137.8 686.3,1137.7C686.7,1137.5 687.2,1136.6 687.6,1136.6C688.1,1136.5 688.6,1137.3 689.0,1137.5C689.5,1137.7 689.9,1137.5 690.4,1137.7C690.8,1137.8 691.3,1138.4 691.7,1138.4C692.2,1138.4 692.6,1137.6 693.1,1137.4C693.5,1137.3 694.0,1137.8 694.5,1137.7C694.9,1137.5 695.4,1136.5 695.8,1136.5C696.3,1136.5 696.7,1137.6 697.2,1137.5C697.6,1137.3 698.1,1135.8 698.5,1135.6C699.0,1135.4 699.5,1136.1 699.9,1136.2C700.4,1136.3 700.8,1136.4 701.3,1136.3C701.7,1136.2 702.2,1135.5 702.6,1135.6C703.1,1135.7 703.5,1136.8 704.0,1136.8C704.5,1136.8 704.9,1135.7 705.4,1135.8C705.8,1136.0 706.3,1137.5 706.7,1137.7C707.2,1137.9 707.6,1137.1 708.1,1137.1C708.5,1137.1 709.0,1137.4 709.4,1137.5C709.9,1137.6 710.4,1137.6 710.8,1137.7C711.3,1137.7 711.7,1138.1 712.2,1138.0C712.6,1137.8 713.1,1137.3 713.5,1136.9C714.0,1136.5 714.4,1135.8 714.9,1135.6C715.4,1135.4 715.8,1135.8 716.3,1135.6C716.7,1135.5 717.2,1134.8 717.6,1134.8C718.1,1134.8 718.5,1135.6 719.0,1135.6C719.4,1135.6 719.9,1135.3 720.3,1134.9C720.8,1134.5 721.3,1133.5 721.7,1133.2C722.2,1133.0 722.6,1133.6 723.1,1133.6C723.6,1133.6 724.1,1133.7 724.6,1133.3C725.1,1133.0 725.4,1131.2 726.1,1131.5C726.9,1131.9 728.5,1134.9 729.0,1135.6" stroke="#0c0cd8"/>
<path d="M438.1,1132.0C438.6,1133.0 440.4,1137.0 441.2,1138.2C441.9,1139.4 442.1,1139.4 442.5,1139.3C443.0,1139.2 443.5,1137.7 443.9,1137.5C444.4,1137.3 444.4,1139.4 445.3,1138.2C446.2,1136.9 448.0,1132.7 449.4,1130.0C450.8,1127.2 452.3,1123.8 453.5,1121.7C454.7,1119.7 455.7,1118.6 456.6,1117.6C457.5,1116.6 457.8,1114.9 458.7,1115.6C459.5,1116.2 460.7,1119.7 461.7,1121.7C462.8,1123.8 463.8,1126.2 464.8,1127.9C465.9,1129.6 467.2,1131.3 467.9,1132.0C468.7,1132.8 469.0,1132.2 469.5,1132.5C470.0,1132.8 470.2,1133.1 471.0,1134.1C471.8,1135.0 473.4,1137.2 474.1,1138.2C474.8,1139.2 475.0,1139.8 475.5,1139.8C475.9,1139.9 476.4,1138.5 476.8,1138.5C477.3,1138.6 477.8,1140.0 478.2,1140.2C478.7,1140.5 479.1,1139.6 479.6,1139.9C480.0,1140.2 480.5,1141.7 481.0,1142.1C481.4,1142.5 481.9,1142.6 482.3,1142.3C482.8,1142.0 483.2,1140.8 483.7,1140.3C484.2,1139.8 484.6,1139.6 485.1,1139.3C485.5,1138.9 485.7,1139.1 486.4,1138.2C487.2,1137.3 488.8,1135.0 489.5,1134.1C490.3,1133.2 490.6,1133.1 491.1,1132.7C491.6,1132.4 491.8,1133.2 492.6,1132.0C493.4,1130.9 494.7,1126.2 495.7,1125.8C496.7,1125.5 498.0,1129.0 498.8,1130.0C499.6,1130.9 499.8,1131.4 500.3,1131.7C500.8,1132.0 501.4,1132.3 501.9,1132.0C502.4,1131.8 502.9,1130.5 503.4,1130.2C503.9,1129.8 504.4,1130.0 505.0,1130.0C505.5,1129.9 506.0,1130.1 506.5,1129.7C507.0,1129.4 507.3,1129.2 508.0,1127.9C508.8,1126.6 509.9,1124.5 511.1,1121.7C512.3,1119.0 513.9,1114.9 515.2,1111.4C516.6,1108.0 518.2,1104.6 519.4,1101.2C520.6,1097.7 521.4,1095.0 522.4,1090.9C523.5,1086.7 524.7,1080.2 525.5,1076.5C526.4,1072.7 526.9,1071.8 527.6,1068.2C528.3,1064.7 528.8,1059.7 529.5,1055.2C530.2,1050.8 530.9,1046.1 531.6,1041.5C532.2,1036.9 532.9,1032.4 533.6,1027.8C534.3,1023.2 535.0,1018.4 535.7,1014.1C536.4,1009.7 537.0,1005.6 537.7,1001.7C538.5,997.8 539.4,991.4 540.1,990.8C540.7,990.1 541.3,994.2 541.8,997.6C542.4,1001.0 542.8,1006.3 543.2,1011.3C543.7,1016.4 544.1,1022.3 544.6,1027.8C545.0,1033.3 545.5,1038.8 546.0,1044.3C546.4,1049.7 546.4,1049.5 547.3,1060.7C548.2,1071.9 550.1,1103.7 551.3,1111.4C552.4,1119.2 553.3,1110.4 554.3,1107.3C555.4,1104.2 556.4,1097.4 557.4,1092.9C558.5,1088.5 559.5,1083.3 560.5,1080.6C561.5,1077.8 562.7,1076.1 563.6,1076.5C564.5,1076.8 565.0,1079.9 565.7,1082.6C566.3,1085.4 567.0,1089.1 567.7,1092.9C568.4,1096.7 568.9,1101.2 569.8,1105.3C570.6,1109.4 572.1,1115.3 572.9,1117.6C573.6,1120.0 573.8,1119.1 574.2,1119.4C574.7,1119.7 575.1,1118.9 575.6,1119.3C576.1,1119.7 576.5,1121.3 577.0,1121.7C577.4,1122.1 577.9,1121.8 578.3,1121.7C578.8,1121.5 579.3,1120.7 579.7,1120.8C580.2,1120.8 580.6,1121.4 581.1,1121.7C581.6,1122.0 582.1,1122.3 582.6,1122.5C583.1,1122.8 583.6,1123.1 584.1,1123.4C584.6,1123.6 585.0,1123.9 585.5,1124.0C585.9,1124.0 586.4,1123.4 586.8,1123.6C587.3,1123.9 587.7,1125.1 588.2,1125.4C588.6,1125.7 589.1,1125.0 589.5,1125.1C590.0,1125.3 590.4,1126.4 590.9,1126.5C591.4,1126.5 591.8,1125.5 592.3,1125.4C592.7,1125.3 593.2,1125.5 593.6,1125.6C594.1,1125.8 594.5,1126.0 595.0,1126.4C595.4,1126.7 595.9,1126.9 596.4,1127.4C596.8,1128.0 597.3,1129.2 597.7,1129.7C598.2,1130.1 598.6,1130.0 599.1,1130.3C599.5,1130.6 600.0,1131.2 600.4,1131.5C600.9,1131.8 601.3,1132.0 601.8,1132.1C602.3,1132.3 602.7,1132.2 603.2,1132.4C603.6,1132.6 604.1,1133.7 604.5,1133.6C605.0,1133.5 605.4,1131.8 605.9,1131.8C606.3,1131.7 606.8,1133.2 607.3,1133.2C607.7,1133.1 608.2,1132.1 608.6,1131.5C609.1,1130.9 609.5,1130.0 610.0,1129.6C610.4,1129.3 610.9,1129.7 611.3,1129.3C611.8,1128.9 612.2,1127.6 612.7,1127.4C613.2,1127.3 613.6,1127.9 614.1,1128.2C614.5,1128.5 615.0,1129.1 615.4,1129.3C615.9,1129.5 616.3,1129.4 616.8,1129.5C617.2,1129.6 617.7,1129.7 618.2,1129.9C618.6,1130.2 619.1,1130.9 619.5,1131.2C620.0,1131.4 620.4,1131.5 620.9,1131.5C621.3,1131.5 621.8,1130.9 622.2,1131.2C622.7,1131.4 623.1,1132.8 623.6,1133.2C624.1,1133.6 624.5,1133.8 625.0,1133.6C625.4,1133.3 625.9,1131.9 626.3,1131.8C626.8,1131.6 627.2,1132.6 627.7,1132.6C628.1,1132.5 628.6,1131.7 629.1,1131.5C629.5,1131.4 630.0,1131.6 630.4,1131.9C630.9,1132.1 631.3,1132.8 631.8,1133.1C632.2,1133.4 632.7,1133.1 633.1,1133.6C633.6,1134.1 634.0,1135.6 634.5,1136.0C635.0,1136.3 635.4,1135.5 635.9,1135.8C636.3,1136.1 636.8,1137.6 637.2,1137.7C637.7,1137.8 638.1,1136.6 638.6,1136.5C639.0,1136.4 639.5,1137.1 640.0,1136.9C640.4,1136.8 640.9,1135.9 641.3,1135.6C641.8,1135.4 642.2,1135.4 642.7,1135.6C643.1,1135.7 643.6,1136.2 644.0,1136.6C644.5,1136.9 645.0,1137.3 645.4,1137.7C645.9,1138.1 646.3,1138.4 646.8,1138.9C647.2,1139.4 647.7,1140.3 648.1,1140.8C648.6,1141.3 649.0,1141.5 649.5,1141.8C649.9,1142.0 650.4,1142.1 650.9,1142.0C651.3,1141.9 651.8,1141.2 652.2,1141.2C652.7,1141.1 653.1,1141.9 653.6,1141.8C654.0,1141.6 654.5,1140.6 654.9,1140.3C655.4,1140.0 655.9,1140.2 656.3,1140.1C656.8,1140.0 657.2,1140.0 657.7,1139.7C658.1,1139.4 658.6,1138.3 659.0,1138.3C659.5,1138.2 659.9,1139.5 660.4,1139.4C660.8,1139.3 661.3,1137.9 661.8,1137.7C662.2,1137.4 662.7,1137.7 663.1,1137.8C663.6,1138.0 664.0,1138.5 664.5,1138.5C664.9,1138.5 665.4,1137.8 665.8,1137.7C666.3,1137.5 666.8,1137.6 667.2,1137.7C667.7,1137.8 668.1,1138.2 668.6,1138.5C669.0,1138.8 669.5,1139.5 669.9,1139.7C670.4,1139.9 670.8,1140.2 671.3,1139.8C671.7,1139.3 672.2,1137.5 672.7,1137.2C673.1,1136.8 673.6,1137.6 674.0,1137.7C674.5,1137.8 674.9,1137.5 675.4,1137.8C675.8,1138.2 676.3,1139.4 676.7,1139.7C677.2,1140.0 677.7,1139.7 678.1,1139.7C678.6,1139.8 679.0,1139.6 679.5,1140.0C679.9,1140.4 680.4,1141.8 680.8,1142.0C681.3,1142.3 681.7,1141.9 682.2,1141.8C682.6,1141.6 683.1,1141.3 683.6,1141.2C684.0,1141.1 684.5,1141.2 684.9,1141.0C685.4,1140.7 685.8,1140.2 686.3,1139.7C686.7,1139.2 687.2,1138.2 687.6,1138.2C688.1,1138.1 688.6,1139.3 689.0,1139.3C689.5,1139.2 689.9,1138.0 690.4,1137.7C690.8,1137.4 691.3,1137.6 691.7,1137.5C692.2,1137.3 692.6,1136.5 693.1,1136.6C693.5,1136.6 694.0,1137.6 694.5,1137.7C694.9,1137.7 695.4,1137.0 695.8,1137.0C696.3,1137.0 696.7,1137.7 697.2,1137.8C697.6,1138.0 698.1,1137.8 698.5,1137.7C699.0,1137.5 699.5,1137.3 699.9,1136.9C700.4,1136.6 700.8,1135.9 701.3,1135.7C701.7,1135.4 702.2,1135.8 702.6,1135.6C703.1,1135.5 703.5,1135.0 704.0,1134.9C704.5,1134.8 704.9,1134.8 705.4,1135.0C705.8,1135.1 706.3,1135.5 706.7,1135.6C707.2,1135.7 707.6,1135.7 708.1,1135.6C708.5,1135.5 709.0,1135.0 709.4,1135.0C709.9,1135.0 710.4,1135.5 710.8,1135.6C711.3,1135.8 711.7,1136.3 712.2,1135.9C712.6,1135.6 713.1,1133.8 713.5,1133.4C714.0,1133.0 714.4,1133.8 714.9,1133.6C715.4,1133.3 715.8,1132.2 716.3,1131.9C716.7,1131.6 717.2,1131.8 717.6,1131.7C718.1,1131.7 718.5,1131.6 719.0,1131.5C719.4,1131.4 719.9,1131.2 720.3,1131.1C720.8,1130.9 721.3,1130.8 721.7,1130.5C722.2,1130.3 722.6,1129.8 723.1,1129.5C723.6,1129.2 724.1,1129.0 724.6,1128.7C725.1,1128.4 725.6,1127.8 726.1,1127.4C726.6,1127.1 727.1,1126.5 727.6,1126.5C728.0,1126.5 728.8,1127.3 729.0,1127.4" stroke="#e820e8"/>
<path d="M438.1,1119.7C438.3,1119.6 439.0,1119.5 439.5,1119.1C439.9,1118.7 440.4,1117.8 440.8,1117.2C441.3,1116.7 441.7,1116.0 442.2,1115.6C442.7,1115.1 443.1,1114.6 443.6,1114.6C444.0,1114.5 444.5,1115.1 444.9,1115.3C445.4,1115.4 445.9,1115.7 446.3,1115.6C446.8,1115.4 447.2,1114.5 447.7,1114.2C448.1,1114.0 448.6,1114.0 449.1,1113.9C449.5,1113.8 450.0,1113.5 450.4,1113.5C450.9,1113.5 451.3,1114.4 451.8,1114.0C452.3,1113.6 452.7,1111.8 453.2,1111.4C453.6,1110.9 454.1,1111.5 454.5,1111.4C455.0,1111.4 455.6,1111.0 456.1,1111.0C456.6,1111.0 457.1,1111.3 457.6,1111.4C458.1,1111.5 458.7,1111.3 459.2,1111.6C459.7,1112.0 460.2,1113.1 460.7,1113.5C461.2,1113.9 461.7,1113.7 462.3,1114.0C462.8,1114.4 463.0,1114.6 463.8,1115.6C464.6,1116.5 465.9,1118.3 466.9,1119.7C467.9,1121.0 469.0,1122.4 470.0,1123.8C471.0,1125.2 472.0,1126.5 473.1,1127.9C474.1,1129.3 475.4,1131.1 476.2,1132.0C476.9,1132.9 477.1,1132.9 477.5,1133.3C478.0,1133.6 478.4,1133.6 478.9,1134.1C479.4,1134.6 479.8,1135.7 480.3,1136.1C480.7,1136.6 481.2,1136.7 481.6,1136.7C482.1,1136.8 482.6,1136.4 483.0,1136.6C483.5,1136.9 483.9,1138.0 484.4,1138.2C484.8,1138.4 485.3,1137.8 485.8,1138.0C486.2,1138.1 486.7,1138.6 487.1,1138.9C487.6,1139.3 488.0,1140.3 488.5,1140.2C489.0,1140.2 489.4,1138.7 489.9,1138.6C490.3,1138.5 490.8,1139.9 491.2,1139.8C491.7,1139.7 492.2,1138.5 492.6,1138.2C493.1,1137.8 493.5,1137.9 494.0,1137.6C494.4,1137.4 494.9,1136.8 495.4,1136.5C495.8,1136.3 496.3,1135.9 496.7,1136.1C497.2,1136.3 497.6,1137.5 498.1,1137.7C498.6,1137.9 499.0,1137.1 499.5,1137.2C499.9,1137.2 500.4,1138.3 500.8,1138.2C501.3,1138.1 501.8,1136.5 502.2,1136.3C502.7,1136.2 503.1,1137.3 503.6,1137.3C504.0,1137.2 504.2,1137.7 505.0,1136.1C505.7,1134.6 507.0,1131.3 508.0,1127.9C509.1,1124.5 510.1,1119.7 511.1,1115.6C512.2,1111.4 513.2,1107.3 514.2,1103.2C515.2,1099.1 516.3,1094.3 517.3,1090.9C518.3,1087.4 519.4,1085.4 520.4,1082.6C521.4,1079.9 522.4,1076.8 523.5,1074.4C524.5,1072.0 525.3,1070.5 526.6,1068.2C527.8,1065.9 529.8,1063.6 530.9,1060.7C531.9,1057.9 532.2,1054.5 532.9,1051.1C533.6,1047.7 534.3,1044.0 535.0,1040.1C535.7,1036.3 536.4,1031.7 537.0,1027.8C537.7,1023.9 538.4,1020.0 539.1,1016.8C539.8,1013.6 540.5,1008.6 541.2,1008.6C541.8,1008.6 542.3,1013.2 542.8,1016.8C543.3,1020.5 543.7,1025.5 544.2,1030.5C544.6,1035.6 545.1,1041.5 545.5,1047.0C546.0,1052.5 546.5,1057.9 546.9,1063.5C547.4,1069.1 547.6,1075.3 548.2,1080.6C548.7,1085.8 549.5,1091.2 550.2,1095.0C550.9,1098.8 551.6,1102.5 552.3,1103.2C553.0,1103.9 553.7,1101.5 554.3,1099.1C555.0,1096.7 555.7,1092.6 556.4,1088.8C557.1,1085.0 557.7,1081.4 558.5,1076.5C559.3,1071.6 560.5,1064.3 561.2,1059.3C561.9,1054.4 562.1,1051.3 562.6,1047.0C563.0,1042.7 563.5,1037.4 563.9,1033.3C564.4,1029.2 564.8,1024.7 565.2,1022.3C565.5,1019.9 565.8,1019.7 566.1,1018.9C566.5,1018.1 566.9,1017.6 567.2,1017.5C567.6,1017.4 567.8,1017.7 568.2,1018.2C568.5,1018.6 569.0,1019.6 569.3,1020.2C569.6,1020.9 569.7,1020.8 570.0,1022.3C570.3,1023.8 570.7,1025.7 571.1,1029.2C571.4,1032.6 571.7,1038.3 572.0,1042.9C572.3,1047.5 572.5,1050.3 573.0,1056.6C573.5,1062.9 574.3,1074.2 574.9,1080.6C575.6,1087.0 576.3,1090.2 577.0,1095.0C577.7,1099.8 577.8,1105.7 579.0,1109.4C580.2,1113.1 583.0,1115.7 584.1,1117.2C585.2,1118.8 585.0,1118.5 585.5,1118.7C585.9,1119.0 586.4,1118.9 586.8,1118.8C587.3,1118.7 587.7,1118.4 588.2,1118.3C588.6,1118.2 589.1,1118.3 589.5,1118.2C590.0,1118.1 590.4,1117.6 590.9,1117.8C591.4,1117.9 591.8,1118.8 592.3,1119.3C592.7,1119.8 593.2,1120.5 593.6,1120.7C594.1,1121.0 594.5,1120.8 595.0,1120.9C595.4,1121.0 595.4,1120.2 596.4,1121.3C597.3,1122.4 599.5,1126.3 600.4,1127.4C601.3,1128.6 601.3,1128.1 601.8,1128.4C602.3,1128.7 602.7,1129.2 603.2,1129.4C603.6,1129.6 604.1,1129.7 604.5,1129.5C605.0,1129.3 605.4,1128.1 605.9,1128.0C606.3,1127.9 606.8,1128.8 607.3,1128.7C607.7,1128.6 608.2,1127.7 608.6,1127.4C609.1,1127.2 609.5,1126.9 610.0,1127.2C610.4,1127.4 610.9,1128.7 611.3,1129.1C611.8,1129.5 612.2,1129.4 612.7,1129.5C613.2,1129.6 613.6,1129.7 614.1,1129.8C614.5,1129.8 615.0,1130.1 615.4,1130.0C615.9,1130.0 616.3,1129.6 616.8,1129.5C617.2,1129.4 617.7,1129.4 618.2,1129.4C618.6,1129.4 619.1,1129.5 619.5,1129.2C620.0,1128.9 620.4,1127.4 620.9,1127.4C621.3,1127.5 621.8,1128.8 622.2,1129.2C622.7,1129.7 623.1,1129.6 623.6,1130.0C624.1,1130.4 624.5,1131.3 625.0,1131.5C625.4,1131.8 625.9,1131.1 626.3,1131.7C626.8,1132.4 627.2,1134.6 627.7,1135.3C628.1,1135.9 628.6,1135.6 629.1,1135.6C629.5,1135.7 630.0,1135.9 630.4,1135.4C630.9,1135.0 631.3,1133.4 631.8,1133.1C632.2,1132.8 632.7,1133.2 633.1,1133.6C633.6,1134.0 634.0,1135.0 634.5,1135.4C635.0,1135.7 635.4,1135.8 635.9,1135.8C636.3,1135.9 636.8,1135.6 637.2,1135.6C637.7,1135.7 638.1,1135.8 638.6,1136.3C639.0,1136.7 639.5,1137.9 640.0,1138.4C640.4,1139.0 640.9,1139.7 641.3,1139.7C641.8,1139.8 642.2,1138.8 642.7,1138.8C643.1,1138.7 643.6,1139.7 644.0,1139.5C644.5,1139.4 645.0,1138.0 645.4,1137.7C645.9,1137.3 646.3,1137.8 646.8,1137.4C647.2,1137.1 647.7,1135.7 648.1,1135.4C648.6,1135.1 649.0,1135.5 649.5,1135.6C649.9,1135.8 650.4,1136.2 650.9,1136.2C651.3,1136.1 651.8,1135.4 652.2,1135.3C652.7,1135.3 653.1,1135.5 653.6,1135.6C654.0,1135.8 654.5,1136.5 654.9,1136.3C655.4,1136.1 655.9,1134.7 656.3,1134.6C656.8,1134.5 657.2,1135.3 657.7,1135.6C658.1,1135.9 658.6,1136.3 659.0,1136.5C659.5,1136.7 659.9,1136.5 660.4,1136.7C660.8,1136.9 661.3,1137.4 661.8,1137.7C662.2,1137.9 662.7,1137.8 663.1,1138.0C663.6,1138.1 664.0,1138.7 664.5,1138.6C664.9,1138.6 665.4,1137.8 665.8,1137.7C666.3,1137.6 666.8,1137.9 667.2,1138.0C667.7,1138.1 668.1,1138.4 668.6,1138.4C669.0,1138.3 669.5,1137.8 669.9,1137.7C670.4,1137.6 670.8,1137.9 671.3,1137.8C671.7,1137.7 672.2,1137.4 672.7,1137.0C673.1,1136.7 673.6,1135.8 674.0,1135.6C674.5,1135.4 674.9,1136.0 675.4,1135.9C675.8,1135.8 676.3,1135.2 676.7,1135.1C677.2,1135.1 677.7,1135.7 678.1,1135.6C678.6,1135.6 679.0,1134.8 679.5,1134.8C679.9,1134.7 680.4,1135.0 680.8,1135.2C681.3,1135.3 681.7,1135.7 682.2,1135.6C682.6,1135.5 683.1,1134.4 683.6,1134.5C684.0,1134.7 684.5,1136.2 684.9,1136.3C685.4,1136.5 685.8,1136.0 686.3,1135.6C686.7,1135.2 687.2,1134.3 687.6,1134.0C688.1,1133.6 688.6,1133.6 689.0,1133.5C689.5,1133.4 689.9,1133.5 690.4,1133.6C690.8,1133.7 691.3,1133.6 691.7,1134.1C692.2,1134.5 692.6,1135.8 693.1,1136.0C693.5,1136.3 694.0,1135.4 694.5,1135.6C694.9,1135.8 695.4,1137.2 695.8,1137.3C696.3,1137.5 696.7,1136.2 697.2,1136.3C697.6,1136.3 698.1,1137.4 698.5,1137.7C699.0,1137.9 699.5,1137.7 699.9,1137.8C700.4,1138.0 700.8,1138.7 701.3,1138.7C701.7,1138.6 702.2,1137.8 702.6,1137.7C703.1,1137.5 703.5,1137.9 704.0,1137.8C704.5,1137.6 704.9,1136.7 705.4,1136.7C705.8,1136.7 706.3,1137.7 706.7,1137.7C707.2,1137.7 707.6,1136.8 708.1,1136.6C708.5,1136.4 709.0,1136.6 709.4,1136.4C709.9,1136.2 710.4,1135.6 710.8,1135.6C711.3,1135.7 711.7,1136.6 712.2,1136.7C712.6,1136.8 713.1,1136.3 713.5,1136.1C714.0,1135.9 714.4,1135.7 714.9,1135.6C715.4,1135.5 715.8,1135.5 716.3,1135.5C716.7,1135.6 717.2,1135.8 717.6,1136.1C718.1,1136.5 718.5,1137.7 719.0,1137.7C719.4,1137.6 719.9,1136.2 720.3,1135.9C720.8,1135.6 721.3,1136.0 721.7,1136.0C722.2,1135.9 722.6,1135.4 723.1,1135.6C723.6,1135.9 724.1,1137.1 724.6,1137.4C725.1,1137.8 725.6,1137.3 726.1,1137.7C726.6,1138.1 727.1,1139.5 727.6,1139.9C728.0,1140.2 728.8,1139.7 729.0,1139.7" stroke="#0c7c0c"/>
<path d="M438.1,1115.6C438.3,1115.6 439.1,1115.8 439.6,1115.7C440.1,1115.5 440.7,1114.5 441.2,1114.5C441.7,1114.5 442.1,1115.7 442.5,1115.8C443.0,1115.9 443.5,1115.1 443.9,1115.1C444.4,1115.0 444.8,1115.6 445.3,1115.6C445.7,1115.5 446.2,1115.2 446.7,1115.0C447.1,1114.8 447.6,1114.4 448.0,1114.5C448.5,1114.6 448.9,1115.5 449.4,1115.6C449.9,1115.6 450.3,1114.8 450.8,1114.6C451.2,1114.4 451.7,1114.4 452.1,1114.2C452.6,1114.0 453.0,1113.9 453.5,1113.5C454.0,1113.1 454.5,1112.2 455.1,1111.8C455.6,1111.5 456.1,1111.7 456.6,1111.4C457.1,1111.2 457.6,1110.5 458.1,1110.3C458.7,1110.1 459.2,1110.2 459.7,1110.4C460.2,1110.6 460.7,1111.1 461.2,1111.6C461.7,1112.1 462.0,1112.5 462.8,1113.5C463.5,1114.5 464.8,1116.2 465.9,1117.6C466.9,1119.0 467.9,1120.4 469.0,1121.7C470.0,1123.1 471.0,1124.5 472.0,1125.8C473.1,1127.2 474.1,1128.6 475.1,1130.0C476.2,1131.3 477.2,1132.7 478.2,1134.1C479.2,1135.4 480.6,1137.5 481.3,1138.2C482.0,1138.9 482.2,1138.1 482.7,1138.4C483.1,1138.7 483.6,1139.5 484.0,1139.8C484.5,1140.1 485.0,1140.3 485.4,1140.2C485.9,1140.2 486.3,1139.5 486.8,1139.3C487.2,1139.0 487.7,1138.8 488.2,1138.7C488.6,1138.7 489.1,1139.1 489.5,1139.2C490.0,1139.3 490.4,1139.7 490.9,1139.3C491.4,1138.9 491.8,1137.4 492.3,1136.9C492.7,1136.4 492.7,1137.3 493.6,1136.1C494.6,1135.0 496.8,1131.1 497.8,1130.0C498.7,1128.8 498.8,1129.7 499.3,1129.1C499.8,1128.6 500.3,1127.3 500.8,1126.9C501.4,1126.4 501.9,1126.4 502.4,1126.6C502.9,1126.7 503.4,1127.4 503.9,1127.9C504.4,1128.4 505.0,1129.2 505.5,1129.5C506.0,1129.9 506.2,1130.6 507.0,1130.0C507.8,1129.3 509.1,1127.2 510.1,1125.8C511.1,1124.5 512.2,1123.8 513.2,1121.7C514.2,1119.7 515.4,1115.9 516.3,1113.5C517.1,1111.1 517.6,1108.4 518.3,1107.3C519.0,1106.3 519.7,1107.7 520.4,1107.3C521.1,1107.0 521.8,1107.0 522.4,1105.3C523.1,1103.6 523.8,1100.1 524.5,1097.0C525.2,1094.0 525.9,1089.5 526.6,1086.7C527.2,1084.0 527.9,1082.3 528.6,1080.6C529.3,1078.9 529.8,1078.5 530.7,1076.5C531.5,1074.4 533.0,1071.1 533.8,1068.2C534.5,1065.4 534.4,1062.4 535.0,1059.3C535.5,1056.3 536.4,1052.0 537.0,1049.7C537.7,1047.5 538.1,1045.6 538.7,1045.6C539.3,1045.6 539.8,1047.9 540.5,1049.7C541.1,1051.6 542.0,1054.3 542.5,1056.6C543.1,1058.9 543.5,1058.8 543.9,1063.5C544.3,1068.1 544.5,1077.7 545.1,1084.7C545.6,1091.7 546.5,1100.1 547.1,1105.3C547.8,1110.4 548.5,1113.0 549.2,1115.6C549.9,1118.1 550.6,1120.0 551.3,1120.7C551.9,1121.4 552.6,1121.2 553.3,1119.7C554.0,1118.1 554.7,1115.6 555.4,1111.4C556.1,1107.3 556.7,1100.8 557.4,1095.0C558.1,1089.1 558.9,1082.4 559.5,1076.5C560.1,1070.5 560.6,1064.3 561.0,1059.3C561.5,1054.4 562.0,1051.3 562.4,1047.0C562.9,1042.7 563.3,1037.9 563.8,1033.3C564.2,1028.7 564.7,1024.1 565.2,1019.6C565.6,1015.0 566.1,1010.4 566.5,1005.8C567.0,1001.3 567.4,996.7 567.9,992.1C568.4,987.6 568.8,982.5 569.3,978.4C569.7,974.3 570.2,970.4 570.6,967.4C571.1,964.5 571.6,960.6 572.0,960.6C572.5,960.6 573.0,964.0 573.4,967.4C573.8,970.9 574.1,976.1 574.3,981.2C574.6,986.2 574.9,992.1 575.2,997.6C575.4,1003.1 575.6,1008.6 575.9,1014.1C576.1,1019.6 576.3,1025.0 576.5,1030.5C576.7,1036.0 576.9,1041.5 577.1,1047.0C577.3,1052.5 577.3,1055.1 577.6,1063.5C578.0,1071.8 578.5,1089.0 579.0,1097.0C579.6,1105.0 580.6,1109.1 581.1,1111.4C581.6,1113.8 581.5,1109.5 582.0,1111.1C582.5,1112.7 583.1,1118.6 584.1,1121.3C585.1,1124.0 587.3,1126.3 588.2,1127.4C589.1,1128.6 589.1,1127.7 589.5,1128.3C590.0,1129.0 590.4,1130.7 590.9,1131.3C591.4,1131.8 591.8,1131.6 592.3,1131.5C592.7,1131.5 593.2,1130.7 593.6,1131.0C594.1,1131.4 594.5,1133.3 595.0,1133.8C595.4,1134.2 595.9,1133.3 596.4,1133.6C596.8,1133.8 597.3,1134.9 597.7,1135.3C598.2,1135.7 598.6,1135.8 599.1,1135.9C599.5,1135.9 600.0,1135.5 600.4,1135.6C600.9,1135.8 601.3,1136.6 601.8,1136.9C602.3,1137.2 602.7,1137.4 603.2,1137.5C603.6,1137.6 604.1,1137.6 604.5,1137.7C605.0,1137.7 605.4,1138.0 605.9,1138.0C606.3,1137.9 606.8,1137.7 607.3,1137.3C607.7,1136.9 608.2,1135.9 608.6,1135.6C609.1,1135.4 609.5,1135.7 610.0,1135.7C610.4,1135.7 610.9,1135.8 611.3,1135.8C611.8,1135.8 612.2,1136.0 612.7,1135.6C613.2,1135.3 613.6,1134.2 614.1,1133.7C614.5,1133.2 615.0,1132.9 615.4,1132.5C615.9,1132.2 616.3,1131.8 616.8,1131.5C617.2,1131.2 617.7,1130.7 618.2,1130.8C618.6,1130.9 619.1,1132.1 619.5,1132.3C620.0,1132.4 620.4,1131.6 620.9,1131.5C621.3,1131.5 621.8,1131.3 622.2,1131.8C622.7,1132.4 623.1,1134.2 623.6,1134.8C624.1,1135.5 624.5,1135.7 625.0,1135.6C625.4,1135.6 625.9,1134.4 626.3,1134.6C626.8,1134.7 627.2,1136.2 627.7,1136.3C628.1,1136.5 628.6,1135.9 629.1,1135.6C629.5,1135.3 630.0,1134.7 630.4,1134.7C630.9,1134.6 631.3,1135.6 631.8,1135.4C632.2,1135.2 632.7,1133.8 633.1,1133.6C633.6,1133.3 634.0,1134.0 634.5,1133.9C635.0,1133.8 635.4,1133.4 635.9,1133.0C636.3,1132.6 636.8,1131.9 637.2,1131.5C637.7,1131.2 638.1,1130.9 638.6,1131.0C639.0,1131.2 639.5,1132.1 640.0,1132.5C640.4,1132.9 640.9,1133.5 641.3,1133.6C641.8,1133.6 642.2,1132.9 642.7,1132.8C643.1,1132.7 643.6,1132.9 644.0,1133.0C644.5,1133.2 645.0,1133.5 645.4,1133.6C645.9,1133.7 646.3,1133.4 646.8,1133.5C647.2,1133.5 647.7,1133.4 648.1,1133.8C648.6,1134.2 649.0,1135.4 649.5,1135.6C649.9,1135.9 650.4,1135.2 650.9,1135.3C651.3,1135.4 651.8,1136.1 652.2,1136.5C652.7,1136.9 653.1,1137.5 653.6,1137.7C654.0,1137.9 654.5,1137.3 654.9,1137.7C655.4,1138.1 655.9,1139.5 656.3,1139.9C656.8,1140.2 657.2,1139.8 657.7,1139.7C658.1,1139.6 658.6,1139.7 659.0,1139.3C659.5,1138.9 659.9,1137.7 660.4,1137.5C660.8,1137.2 661.3,1137.6 661.8,1137.7C662.2,1137.7 662.7,1137.7 663.1,1137.9C663.6,1138.2 664.0,1138.8 664.5,1139.1C664.9,1139.4 665.4,1139.4 665.8,1139.7C666.3,1140.1 666.8,1140.9 667.2,1141.3C667.7,1141.7 668.1,1141.9 668.6,1142.0C669.0,1142.1 669.5,1141.9 669.9,1141.8C670.4,1141.6 670.8,1141.3 671.3,1140.8C671.7,1140.4 672.2,1139.7 672.7,1139.2C673.1,1138.7 673.6,1137.9 674.0,1137.7C674.5,1137.4 674.9,1137.7 675.4,1137.7C675.8,1137.7 676.3,1137.9 676.7,1137.9C677.2,1137.9 677.7,1137.9 678.1,1137.7C678.6,1137.4 679.0,1136.7 679.5,1136.6C679.9,1136.5 680.4,1137.0 680.8,1137.1C681.3,1137.3 681.7,1137.7 682.2,1137.7C682.6,1137.6 683.1,1136.9 683.6,1136.8C684.0,1136.7 684.5,1136.8 684.9,1136.9C685.4,1137.1 685.8,1137.5 686.3,1137.7C686.7,1137.9 687.2,1138.2 687.6,1138.0C688.1,1137.9 688.6,1137.3 689.0,1136.9C689.5,1136.5 689.9,1135.8 690.4,1135.6C690.8,1135.5 691.3,1136.2 691.7,1136.0C692.2,1135.8 692.6,1134.5 693.1,1134.5C693.5,1134.4 694.0,1135.4 694.5,1135.6C694.9,1135.8 695.4,1135.7 695.8,1135.7C696.3,1135.8 696.7,1135.8 697.2,1136.1C697.6,1136.4 698.1,1137.2 698.5,1137.7C699.0,1138.2 699.5,1138.9 699.9,1139.0C700.4,1139.1 700.8,1138.0 701.3,1138.1C701.7,1138.2 702.2,1139.4 702.6,1139.7C703.1,1140.1 703.5,1140.2 704.0,1140.3C704.5,1140.4 704.9,1139.9 705.4,1140.2C705.8,1140.4 706.3,1141.5 706.7,1141.8C707.2,1142.0 707.6,1141.9 708.1,1141.5C708.5,1141.2 709.0,1140.3 709.4,1139.6C709.9,1139.0 710.4,1138.2 710.8,1137.7C711.3,1137.1 711.7,1136.7 712.2,1136.3C712.6,1135.9 713.1,1135.3 713.5,1135.2C714.0,1135.0 714.4,1135.8 714.9,1135.6C715.4,1135.5 715.8,1134.3 716.3,1134.2C716.7,1134.2 717.2,1135.4 717.6,1135.3C718.1,1135.1 718.5,1134.2 719.0,1133.6C719.4,1133.0 719.9,1132.2 720.3,1131.8C720.8,1131.4 721.3,1131.4 721.7,1131.1C722.2,1130.7 722.6,1129.8 723.1,1129.5C723.6,1129.2 724.1,1129.4 724.6,1129.1C725.1,1128.7 725.4,1127.0 726.1,1127.4C726.9,1127.9 728.5,1130.9 729.0,1131.5" stroke="#07076a"/>
</g>
<rect x="438.5" y="932.8" width="290.0" height="233.70000000000005" fill="none" stroke="#2e2e2e" stroke-width="1.25"/>
<text transform="translate(430.2,1148.8) scale(0.9,1)" text-anchor="end" font-size="10.6">0.000</text>
<text transform="translate(430.2,1106.3) scale(0.9,1)" text-anchor="end" font-size="10.6">0.005</text>
<text transform="translate(430.2,1063.8) scale(0.9,1)" text-anchor="end" font-size="10.6">0.010</text>
<text transform="translate(430.2,1021.3) scale(0.9,1)" text-anchor="end" font-size="10.6">0.015</text>
<text transform="translate(430.2,978.8) scale(0.9,1)" text-anchor="end" font-size="10.6">0.020</text>
<text transform="translate(430.2,936.3) scale(0.9,1)" text-anchor="end" font-size="10.6">0.025</text>
<text x="492.5" y="1182.2" text-anchor="middle" font-size="10">200</text>
<text x="559.9" y="1182.2" text-anchor="middle" font-size="10">400</text>
<text x="627.3" y="1182.2" text-anchor="middle" font-size="10">600</text>
<text x="694.8" y="1182.2" text-anchor="middle" font-size="10">800</text>
<path d="M436.2,1166.5H438.5 M433.5,1145.3H438.5 M436.2,1124.0H438.5 M433.5,1102.8H438.5 M436.2,1081.5H438.5 M433.5,1060.3H438.5 M436.2,1039.0H438.5 M433.5,1017.8H438.5 M436.2,996.5H438.5 M433.5,975.3H438.5 M436.2,954.0H438.5 M433.5,932.8H438.5 M458.7,1166.5V1168.8 M492.5,1166.5V1171.5 M526.2,1166.5V1168.8 M559.9,1166.5V1171.5 M593.6,1166.5V1168.8 M627.3,1166.5V1171.5 M661.1,1166.5V1168.8 M694.8,1166.5V1171.5 M728.5,1166.5V1168.8" stroke="#2e2e2e" stroke-width="1.0" fill="none"/>
<text x="452.3" y="954.3" font-size="14.6">g</text>
<path d="M594.2,959.1H620.1" stroke="#000000" stroke-width="2.7" stroke-linecap="round"/>
<text x="624.8" y="963.4" font-size="12">Non-catalyst</text>
<path d="M594.2,974.1H620.1" stroke="#e01010" stroke-width="2.7" stroke-linecap="round"/>
<text x="624.8" y="978.4" font-size="12">CaO:stover=1:20</text>
<path d="M594.2,989.0H620.1" stroke="#0c0cd8" stroke-width="2.7" stroke-linecap="round"/>
<text x="624.8" y="993.3" font-size="12">CaO:stover=1:10</text>
<path d="M594.2,1004.0H620.1" stroke="#e820e8" stroke-width="2.7" stroke-linecap="round"/>
<text x="624.8" y="1008.3" font-size="12">CaO:stover=1:5</text>
<path d="M594.2,1018.9H620.1" stroke="#0c7c0c" stroke-width="2.7" stroke-linecap="round"/>
<text x="624.8" y="1023.2" font-size="12">CaO:stover=1:2</text>
<path d="M594.2,1033.9H620.1" stroke="#07076a" stroke-width="2.7" stroke-linecap="round"/>
<text x="624.8" y="1038.2" font-size="12">CaO:stover=1:1</text>
<text x="538.8" y="1200.5" font-size="12.25">Temperature(</text>
<circle cx="614.2" cy="1192.6" r="0.8" fill="none" stroke="#555" stroke-width="0.7"/>
<text x="615.0" y="1200.5" font-size="12.4" fill="#5a5a5a" style="stroke:none">C</text>
<text x="624.5" y="1200.5" font-size="12">)</text>
<text x="583.5" y="1215.8" text-anchor="middle" font-size="12">Aromatic rings</text>
<text x="0" y="0" transform="translate(392.7,1043.0) rotate(-90)" text-anchor="middle" font-size="12">Absorbance</text>
</svg>
</body></html>
